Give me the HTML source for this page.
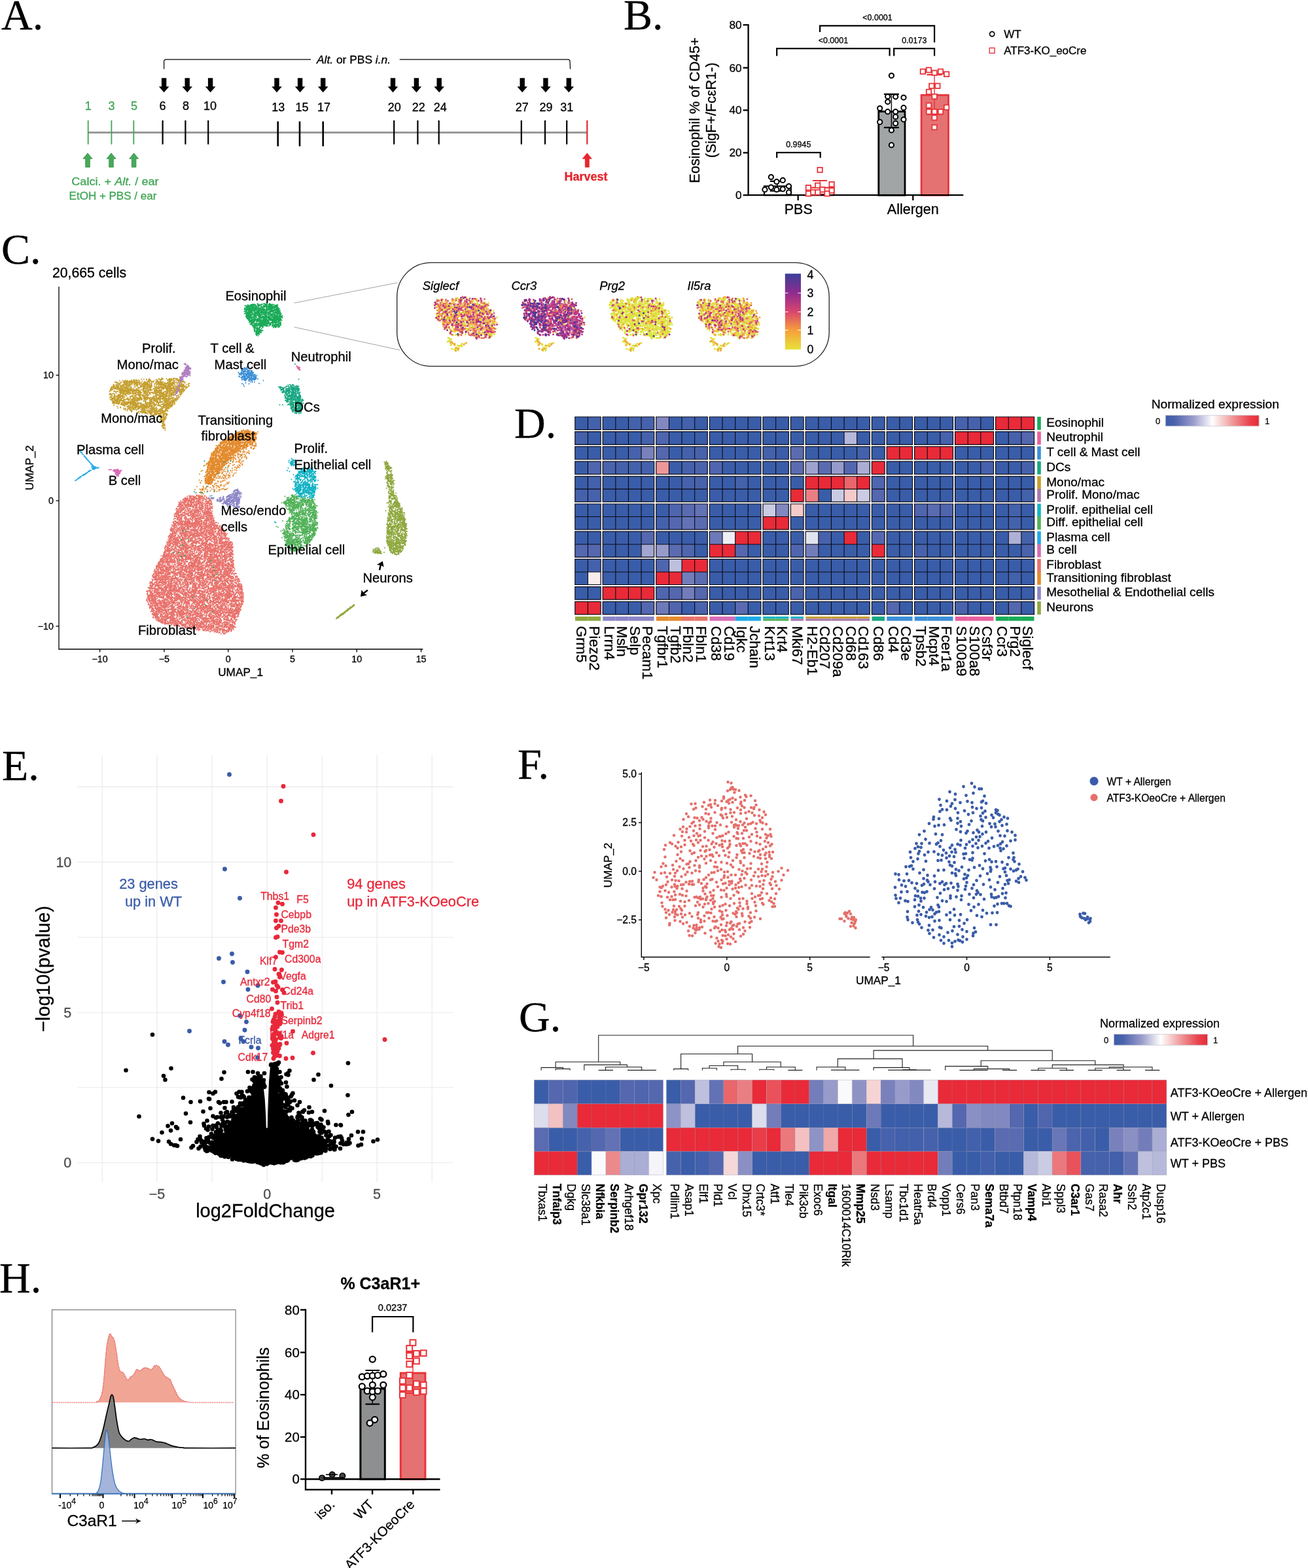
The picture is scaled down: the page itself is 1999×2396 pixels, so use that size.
<!DOCTYPE html>
<html lang="en"><head><meta charset="utf-8"><title>Figure</title>
<style>
html,body{margin:0;padding:0;background:#fff}
body{width:1999px;height:2396px;overflow:hidden}
svg{display:block;font-family:"Liberation Sans",sans-serif}
</style></head><body>
<svg width="1999" height="2396" viewBox="0 0 1999 2396">
<rect width="1999" height="2396" fill="#fff"/>
<g id="pa">
<text x="2" y="45" font-size="66" font-family="'Liberation Serif',serif" stroke="#000" stroke-width="0.3">A.</text>
<path d="M250.6 105.6L250.6 94Q250.6 90.8 254 90.8L475 90.8" stroke="#000" stroke-width="1.2" fill="none"/>
<path d="M610.7 90.8L868 90.8Q871 90.8 871 94L871.6 105.6" stroke="#000" stroke-width="1.2" fill="none"/>
<text x="484" y="96.5" font-size="17.2" stroke="#000" stroke-width="0.3" textLength="113" lengthAdjust="spacingAndGlyphs"><tspan font-style="italic">Alt.</tspan> or PBS <tspan font-style="italic">i.n.</tspan></text>
<path d="M134.7 202.6L897.3 202.6" stroke="#999" stroke-width="3" fill="none"/>
<path d="M134.7 184L134.7 220.6" stroke="#3fa554" stroke-width="1.8" fill="none"/>
<path d="M170.4 184L170.4 220.6" stroke="#3fa554" stroke-width="1.8" fill="none"/>
<path d="M204.3 184L204.3 220.6" stroke="#3fa554" stroke-width="1.8" fill="none"/>
<path d="M248.6 184L248.6 220.6" stroke="#000" stroke-width="2.2" fill="none"/>
<path d="M283.4 184L283.4 220.6" stroke="#000" stroke-width="2.2" fill="none"/>
<path d="M318.2 184L318.2 220.6" stroke="#000" stroke-width="2.2" fill="none"/>
<path d="M602.2 184L602.2 220.6" stroke="#000" stroke-width="2.2" fill="none"/>
<path d="M638.4 184L638.4 220.6" stroke="#000" stroke-width="2.2" fill="none"/>
<path d="M670.7 184L670.7 220.6" stroke="#000" stroke-width="2.2" fill="none"/>
<path d="M796.8 184L796.8 220.6" stroke="#000" stroke-width="2.2" fill="none"/>
<path d="M833 184L833 220.6" stroke="#000" stroke-width="2.2" fill="none"/>
<path d="M866.2 184L866.2 220.6" stroke="#000" stroke-width="2.2" fill="none"/>
<path d="M424.7 185.5L424.7 223.5" stroke="#000" stroke-width="2.6" fill="none"/>
<path d="M458 185.5L458 223.5" stroke="#000" stroke-width="2.6" fill="none"/>
<path d="M493.7 185.5L493.7 223.5" stroke="#000" stroke-width="2.6" fill="none"/>
<path d="M897.3 184L897.3 220.6" stroke="#e6262e" stroke-width="2.2" fill="none"/>
<path d="M246.9 119.3h7.4v13h4.1l-7.8 9l-7.8 -9h4.1z" fill="#000"/>
<path d="M282.5 119.3h7.4v13h4.1l-7.8 9l-7.8 -9h4.1z" fill="#000"/>
<path d="M317.9 119.3h7.4v13h4.1l-7.8 9l-7.8 -9h4.1z" fill="#000"/>
<path d="M419.3 119.3h7.4v13h4.1l-7.8 9l-7.8 -9h4.1z" fill="#000"/>
<path d="M454.9 119.3h7.4v13h4.1l-7.8 9l-7.8 -9h4.1z" fill="#000"/>
<path d="M490 119.3h7.4v13h4.1l-7.8 9l-7.8 -9h4.1z" fill="#000"/>
<path d="M596.8 119.3h7.4v13h4.1l-7.8 9l-7.8 -9h4.1z" fill="#000"/>
<path d="M632.7 119.3h7.4v13h4.1l-7.8 9l-7.8 -9h4.1z" fill="#000"/>
<path d="M667.5 119.3h7.4v13h4.1l-7.8 9l-7.8 -9h4.1z" fill="#000"/>
<path d="M794.5 119.3h7.4v13h4.1l-7.8 9l-7.8 -9h4.1z" fill="#000"/>
<path d="M830.2 119.3h7.4v13h4.1l-7.8 9l-7.8 -9h4.1z" fill="#000"/>
<path d="M865.6 119.3h7.4v13h4.1l-7.8 9l-7.8 -9h4.1z" fill="#000"/>
<path d="M134 234l7 8.6h-3.7v12.8h-6.6v-12.8h-3.7z" fill="#4aa85a" stroke="#2f8f45" stroke-width="0.8"/>
<path d="M170 234l7 8.6h-3.7v12.8h-6.6v-12.8h-3.7z" fill="#4aa85a" stroke="#2f8f45" stroke-width="0.8"/>
<path d="M204.6 234l7 8.6h-3.7v12.8h-6.6v-12.8h-3.7z" fill="#4aa85a" stroke="#2f8f45" stroke-width="0.8"/>
<path d="M897.3 234l7 8.6h-4v12.8h-6v-12.8h-4z" fill="#e6262e" stroke="#e6262e" stroke-width="0.8"/>
<text x="134.7" y="167.8" font-size="18" text-anchor="middle" fill="#3fa554" stroke="#3fa554" stroke-width="0.3">1</text>
<text x="170.6" y="167.8" font-size="18" text-anchor="middle" fill="#3fa554" stroke="#3fa554" stroke-width="0.3">3</text>
<text x="205" y="167.8" font-size="18" text-anchor="middle" fill="#3fa554" stroke="#3fa554" stroke-width="0.3">5</text>
<text x="248.6" y="167.8" font-size="18" text-anchor="middle" stroke="#000" stroke-width="0.3">6</text>
<text x="284" y="167.8" font-size="18" text-anchor="middle" stroke="#000" stroke-width="0.3">8</text>
<text x="321" y="167.8" font-size="18" text-anchor="middle" stroke="#000" stroke-width="0.3">10</text>
<text x="425.2" y="170.4" font-size="18" text-anchor="middle" stroke="#000" stroke-width="0.3">13</text>
<text x="461.5" y="170.4" font-size="18" text-anchor="middle" stroke="#000" stroke-width="0.3">15</text>
<text x="495" y="170.4" font-size="18" text-anchor="middle" stroke="#000" stroke-width="0.3">17</text>
<text x="602.7" y="170.4" font-size="18" text-anchor="middle" stroke="#000" stroke-width="0.3">20</text>
<text x="639.8" y="170.4" font-size="18" text-anchor="middle" stroke="#000" stroke-width="0.3">22</text>
<text x="672.7" y="170.4" font-size="18" text-anchor="middle" stroke="#000" stroke-width="0.3">24</text>
<text x="797.7" y="170.4" font-size="18" text-anchor="middle" stroke="#000" stroke-width="0.3">27</text>
<text x="834.5" y="170.4" font-size="18" text-anchor="middle" stroke="#000" stroke-width="0.3">29</text>
<text x="866.2" y="170.4" font-size="18" text-anchor="middle" stroke="#000" stroke-width="0.3">31</text>
<text x="109.3" y="282.5" font-size="17" fill="#3fa554" stroke="#3fa554" stroke-width="0.3" textLength="133.3" lengthAdjust="spacingAndGlyphs">Calci. + <tspan font-style="italic">Alt.</tspan> / ear</text>
<text x="105.6" y="304.8" font-size="17" fill="#3fa554" stroke="#3fa554" stroke-width="0.3">EtOH + PBS / ear</text>
<text x="895.5" y="276.4" font-size="18" text-anchor="middle" fill="#e6262e" font-weight="bold" stroke="#e6262e" stroke-width="0.3">Harvest</text>
</g>
<g id="pb">
<text x="953" y="45" font-size="66" font-family="'Liberation Serif',serif" stroke="#000" stroke-width="0.3">B.</text>
<rect x="1342.8" y="170.4" width="40.2" height="127.9" fill="#a1a5a5" stroke="#000" stroke-width="2.8"/>
<rect x="1408.1" y="145.3" width="41.3" height="153" fill="#e57272" stroke="#e8343a" stroke-width="2.8"/>
<rect x="1168" y="284.5" width="40.8" height="13.7" fill="#fff" stroke="#000" stroke-width="2.2"/>
<rect x="1232.7" y="286.8" width="41.7" height="11.4" fill="#fff" stroke="#e8343a" stroke-width="2.2"/>
<path d="M1350.9 143.8h23M1350.9 194.9h23" stroke="#000" stroke-width="2.2" fill="none"/><path d="M1362.4 143.8V194.9" stroke="#000" stroke-width="1.4" fill="none"/>
<path d="M1416.6 114.2h23M1416.6 174.7h23" stroke="#e8343a" stroke-width="2.2" fill="none"/><path d="M1428.1 114.2V174.7" stroke="#e8343a" stroke-width="1.4" fill="none"/>
<path d="M1176.8 276.8h22M1176.8 291.7h22" stroke="#000" stroke-width="2.2" fill="none"/><path d="M1187.8 276.8V291.7" stroke="#000" stroke-width="1.4" fill="none"/>
<path d="M1242.1 276h22M1242.1 296.8h22" stroke="#e8343a" stroke-width="2.2" fill="none"/><path d="M1253.1 276V296.8" stroke="#e8343a" stroke-width="1.4" fill="none"/>
<path d="M1143.6 36.9V298.2H1472.3" stroke="#000" stroke-width="2.3" fill="none"/>
<path d="M1135.6 38L1143.6 38" stroke="#000" stroke-width="2.3" fill="none"/>
<text x="1133.6" y="44" font-size="17.2" text-anchor="end" stroke="#000" stroke-width="0.3">80</text>
<path d="M1135.6 103.6L1143.6 103.6" stroke="#000" stroke-width="2.3" fill="none"/>
<text x="1133.6" y="109.6" font-size="17.2" text-anchor="end" stroke="#000" stroke-width="0.3">60</text>
<path d="M1135.6 168.4L1143.6 168.4" stroke="#000" stroke-width="2.3" fill="none"/>
<text x="1133.6" y="174.4" font-size="17.2" text-anchor="end" stroke="#000" stroke-width="0.3">40</text>
<path d="M1135.6 233.4L1143.6 233.4" stroke="#000" stroke-width="2.3" fill="none"/>
<text x="1133.6" y="239.4" font-size="17.2" text-anchor="end" stroke="#000" stroke-width="0.3">20</text>
<path d="M1135.6 298.2L1143.6 298.2" stroke="#000" stroke-width="2.3" fill="none"/>
<text x="1133.6" y="304.2" font-size="17.2" text-anchor="end" stroke="#000" stroke-width="0.3">0</text>
<path d="M1219.7 298.2L1219.7 306.2" stroke="#000" stroke-width="2.3" fill="none"/>
<path d="M1395.3 298.2L1395.3 306.2" stroke="#000" stroke-width="2.3" fill="none"/>
<text x="1220.3" y="326.8" font-size="21.5" text-anchor="middle" stroke="#000" stroke-width="0.3">PBS</text>
<text x="1395.3" y="326.8" font-size="21.5" text-anchor="middle" stroke="#000" stroke-width="0.3">Allergen</text>
<text font-size="21.6" text-anchor="middle" stroke="#000" stroke-width="0.3" transform="translate(1068.5 168.4) rotate(-90)">Eosinophil % of CD45+</text>
<text font-size="21.6" text-anchor="middle" stroke="#000" stroke-width="0.3" transform="translate(1094.2 168.4) rotate(-90)">(SigF+/FcεR1-)</text>
<circle cx="1178.4" cy="270.5" r="3.6" fill="#fff" stroke="#000" stroke-width="2"/>
<circle cx="1196.3" cy="275.4" r="3.6" fill="#fff" stroke="#000" stroke-width="2"/>
<circle cx="1186.9" cy="277.7" r="3.6" fill="#fff" stroke="#000" stroke-width="2"/>
<circle cx="1205.5" cy="284.5" r="3.6" fill="#fff" stroke="#000" stroke-width="2"/>
<circle cx="1178.4" cy="286.2" r="3.6" fill="#fff" stroke="#000" stroke-width="2"/>
<circle cx="1168.9" cy="289.7" r="3.6" fill="#fff" stroke="#000" stroke-width="2"/>
<circle cx="1186.9" cy="289.7" r="3.6" fill="#fff" stroke="#000" stroke-width="2"/>
<circle cx="1196.3" cy="288.8" r="3.6" fill="#fff" stroke="#000" stroke-width="2"/>
<circle cx="1205.5" cy="293.9" r="3.6" fill="#fff" stroke="#000" stroke-width="2"/>
<rect x="1249.4" y="256" width="7.4" height="7.4" fill="#fff" stroke="#e8343a" stroke-width="1.8"/>
<rect x="1267.4" y="278" width="7.4" height="7.4" fill="#fff" stroke="#e8343a" stroke-width="1.8"/>
<rect x="1246" y="279.7" width="7.4" height="7.4" fill="#fff" stroke="#e8343a" stroke-width="1.8"/>
<rect x="1231.7" y="283.1" width="7.4" height="7.4" fill="#fff" stroke="#e8343a" stroke-width="1.8"/>
<rect x="1253.1" y="286" width="7.4" height="7.4" fill="#fff" stroke="#e8343a" stroke-width="1.8"/>
<rect x="1267.4" y="287.4" width="7.4" height="7.4" fill="#fff" stroke="#e8343a" stroke-width="1.8"/>
<rect x="1238.9" y="290.2" width="7.4" height="7.4" fill="#fff" stroke="#e8343a" stroke-width="1.8"/>
<rect x="1231.7" y="292.2" width="7.4" height="7.4" fill="#fff" stroke="#e8343a" stroke-width="1.8"/>
<rect x="1246" y="290.2" width="7.4" height="7.4" fill="#fff" stroke="#e8343a" stroke-width="1.8"/>
<rect x="1260.3" y="292.2" width="7.4" height="7.4" fill="#fff" stroke="#e8343a" stroke-width="1.8"/>
<circle cx="1362.4" cy="115.6" r="3.6" fill="#fff" stroke="#000" stroke-width="2"/>
<circle cx="1356.7" cy="147.5" r="3.6" fill="#fff" stroke="#000" stroke-width="2"/>
<circle cx="1368.7" cy="147.8" r="3.6" fill="#fff" stroke="#000" stroke-width="2"/>
<circle cx="1381" cy="149" r="3.6" fill="#fff" stroke="#000" stroke-width="2"/>
<circle cx="1356.7" cy="155.5" r="3.6" fill="#fff" stroke="#000" stroke-width="2"/>
<circle cx="1344.7" cy="165.5" r="3.6" fill="#fff" stroke="#000" stroke-width="2"/>
<circle cx="1381" cy="164.7" r="3.6" fill="#fff" stroke="#000" stroke-width="2"/>
<circle cx="1356.7" cy="170.7" r="3.6" fill="#fff" stroke="#000" stroke-width="2"/>
<circle cx="1368.7" cy="170.7" r="3.6" fill="#fff" stroke="#000" stroke-width="2"/>
<circle cx="1368.7" cy="178.4" r="3.6" fill="#fff" stroke="#000" stroke-width="2"/>
<circle cx="1381" cy="182.6" r="3.6" fill="#fff" stroke="#000" stroke-width="2"/>
<circle cx="1344.7" cy="186.4" r="3.6" fill="#fff" stroke="#000" stroke-width="2"/>
<circle cx="1368.7" cy="188.4" r="3.6" fill="#fff" stroke="#000" stroke-width="2"/>
<circle cx="1362.4" cy="198.9" r="3.6" fill="#fff" stroke="#000" stroke-width="2"/>
<circle cx="1362.4" cy="221.7" r="3.6" fill="#fff" stroke="#000" stroke-width="2"/>
<rect x="1406.7" y="105.6" width="7.4" height="7.4" fill="#fff" stroke="#e8343a" stroke-width="1.8"/>
<rect x="1415.8" y="103.3" width="7.4" height="7.4" fill="#fff" stroke="#e8343a" stroke-width="1.8"/>
<rect x="1424.4" y="107.6" width="7.4" height="7.4" fill="#fff" stroke="#e8343a" stroke-width="1.8"/>
<rect x="1433.8" y="105.6" width="7.4" height="7.4" fill="#fff" stroke="#e8343a" stroke-width="1.8"/>
<rect x="1442.9" y="109.6" width="7.4" height="7.4" fill="#fff" stroke="#e8343a" stroke-width="1.8"/>
<rect x="1420.1" y="127.6" width="7.4" height="7.4" fill="#fff" stroke="#e8343a" stroke-width="1.8"/>
<rect x="1429.2" y="127.6" width="7.4" height="7.4" fill="#fff" stroke="#e8343a" stroke-width="1.8"/>
<rect x="1415.8" y="136.7" width="7.4" height="7.4" fill="#fff" stroke="#e8343a" stroke-width="1.8"/>
<rect x="1424.4" y="143.8" width="7.4" height="7.4" fill="#fff" stroke="#e8343a" stroke-width="1.8"/>
<rect x="1415.8" y="157.5" width="7.4" height="7.4" fill="#fff" stroke="#e8343a" stroke-width="1.8"/>
<rect x="1442.9" y="160.4" width="7.4" height="7.4" fill="#fff" stroke="#e8343a" stroke-width="1.8"/>
<rect x="1415.8" y="167" width="7.4" height="7.4" fill="#fff" stroke="#e8343a" stroke-width="1.8"/>
<rect x="1424.4" y="167" width="7.4" height="7.4" fill="#fff" stroke="#e8343a" stroke-width="1.8"/>
<rect x="1433.8" y="167" width="7.4" height="7.4" fill="#fff" stroke="#e8343a" stroke-width="1.8"/>
<rect x="1424.4" y="176.1" width="7.4" height="7.4" fill="#fff" stroke="#e8343a" stroke-width="1.8"/>
<rect x="1424.4" y="190.9" width="7.4" height="7.4" fill="#fff" stroke="#e8343a" stroke-width="1.8"/>
<path d="M1253.1 49.1L1253.1 39.4L1428.1 39.4L1428.1 64.8" stroke="#000" stroke-width="2.2" fill="none" stroke-linejoin="miter"/>
<text x="1341" y="31.4" font-size="12.5" text-anchor="middle" stroke="#000" stroke-width="0.3">&lt;0.0001</text>
<path d="M1187.2 85.6L1187.2 74.2L1359.6 74.2L1359.6 85.6" stroke="#000" stroke-width="2.2" fill="none" stroke-linejoin="miter"/>
<text x="1273.4" y="65.6" font-size="12.5" text-anchor="middle" stroke="#000" stroke-width="0.3">&lt;0.0001</text>
<path d="M1366.2 85.6L1366.2 74.2L1428.1 74.2L1428.1 85.6" stroke="#000" stroke-width="2.2" fill="none" stroke-linejoin="miter"/>
<text x="1397.3" y="65.6" font-size="12.5" text-anchor="middle" stroke="#000" stroke-width="0.3">0.0173</text>
<path d="M1187.2 241.2L1187.2 233.2L1253.7 233.2L1253.7 241.2" stroke="#000" stroke-width="2.2" fill="none" stroke-linejoin="miter"/>
<text x="1220.3" y="224.6" font-size="12.5" text-anchor="middle" stroke="#000" stroke-width="0.3">0.9945</text>
<circle cx="1516.2" cy="52" r="3.6" fill="#fff" stroke="#000" stroke-width="1.7"/>
<text x="1534.2" y="58" font-size="17" stroke="#000" stroke-width="0.3">WT</text>
<rect x="1512.3" y="73.3" width="7.8" height="7.8" fill="#fff" stroke="#e8343a" stroke-width="1.4"/>
<text x="1534.2" y="82.8" font-size="17" stroke="#000" stroke-width="0.3">ATF3-KO_eoCre</text>
</g>
<g id="pc">
<text x="2" y="403" font-size="66" font-family="'Liberation Serif',serif" stroke="#000" stroke-width="0.3">C.</text>
<text x="80" y="424" font-size="21.2" stroke="#000" stroke-width="0.3">20,665 cells</text>
<path d="M565 1522h0m2-1h0m0 2h0m2 0h0m0 0h0m2 1h0m1 0h0m0-7h0m1 7h0m0-2h0m1 0h0m4-7h0m1 4h0m1 4h0m0 1h0m1-5h0m0-3h0m1 3h0m0 2h0m1-3h0m1-2h0m1 6h0m1 1h0m1-6h0m2-1h0m0 0h0m0 8h0m2-6h0m0 3h0m1 1h0m0-2h0m1 1h0m0-4h0m2 7h0m0-5h0m2 3h0m1 0h0m0-2h0m0 0h0m1-1h0m1-6h0m1 10h0m0-8h0m1 8h0m3 1h0m0-11h0m0 4h0m2-2h0m0 4h0m1 2h0m0 3h0m1-1h0m0-5h0m0 2h0m1 0h0m1 2h0m0 2h0m0-9h0m0 6h0m0 2h0m0-5h0m0 4h0m1 0h0m3-4h0m0-1h0m0 5h0m1-6h0m0 8h0m2-9h0m0 3h0m0 6h0m2-5h0m0 4h0m0-4h0m2 4h0m2-2h0m2-6h0m0 2h0m5 2h0m1 2h0m14 10h0m-2-4h0m-1 3h0m0 1h0m-3 1h0m0-3h0m0-1h0m-1 2h0m-1 3h0m0-9h0m-1 0h0m0 11h0m-1-1h0m-1-2h0m0-8h0m-1 12h0m-1 0h0m-2-8h0m0 5h0m0 0h0m0-1h0m-1-5h0m0 4h0m0-6h0m-2 1h0m-1 7h0m-1-8h0m-4 3h0m-1 1h0m0-2h0m0 3h0m-1 6h0m-2-5h0m-4 0h0m0 0h0m-2-5h0m0 9h0m-1-7h0m-1 6h0m-1-4h0m-1-1h0m0 1h0m0-4h0m0 7h0m0 1h0m0-9h0m-1 11h0m0-2h0m-2-2h0m0-3h0m0 3h0m-2-2h0m-1-1h0m0 0h0m-1-4h0m0 7h0m0 1h0m-1 2h0m-1-1h0m0-9h0m-2 0h0m-1 8h0m-2-4h0m0 2h0m-1-1h0m0-4h0m0-2h0m-1 2h0m0 9h0m0-1h0m0-6h0m-2 0h0m0 0h0m-1-2h0m0 9h0m-1-11h0m0 5h0m-1 5h0m-1 1h0m-1-2h0m0-7h0m0 5h0m-1-1h0m0-5h0m0 6h0m0-2h0m-1 5h0m-1-2h0m-1 1h0m-1-4h0m-1 2h0m0-3h0m-1-1h0m0 4h0m0-2h0m-1 0h0m0-1h0m-1 1h0m0-1h0m0 5h0m0-4h0m-1 7h0m0-6h0m-1 0h0m0-6h0m0 0h0m0 2h0m-1 10h0m-1-11h0m0 6h0m-1 0h0m-1-3h0m0 2h0m0-4h0m0 2h0m-1 0h0m0 5h0m0 0h0m-1 1h0m0-6h0m-1-2h0m-1 4h0m0-6h0m0 7h0m0-7h0m-1 9h0m0 1h0m0-3h0m0 2h0m0-6h0m-1-1h0m0 8h0m-1-4h0m-1 5h0m-1-10h0m0 0h0m0 9h0m-1-6h0m-1 0h0m-1 7h0m-1-2h0m-1 1h0m-2 2h0m-2-5h0m-2 4h0m-3 0h0m-1 12h0m0-6h0m1 5h0m0-1h0m0 3h0m1-5h0m1-1h0m0-3h0m1 2h0m0-4h0m1 3h0m0 5h0m1-3h0m1 6h0m0-7h0m1 7h0m1-5h0m0-5h0m0 9h0m1-1h0m2-4h0m0 2h0m1 2h0m1 1h0m0 0h0m1-8h0m0-3h0m1 1h0m0-1h0m1 4h0m0 1h0m1 3h0m0 0h0m1-7h0m0 6h0m0-6h0m1 6h0m1-6h0m0 5h0m0 4h0m0-3h0m1 2h0m0-2h0m0 0h0m0 1h0m1 1h0m0 1h0m1-3h0m0 2h0m1 1h0m1-6h0m0 3h0m1-3h0m0-1h0m0 4h0m0 1h0m1 0h0m1 1h0m0-8h0m0 7h0m1 4h0m0-6h0m0 3h0m0-7h0m1 6h0m0-3h0m2 6h0m2-10h0m0 5h0m0 5h0m0 1h0m0-4h0m1-7h0m0 6h0m1 4h0m0-6h0m0 7h0m1-10h0m1 6h0m1-8h0m0 4h0m1 3h0m0 5h0m2 0h0m0-1h0m0-10h0m2 0h0m0 11h0m1-10h0m0-1h0m0 10h0m0-4h0m1 1h0m1 2h0m0-5h0m3 1h0m1 0h0m0-6h0m0 9h0m1-2h0m0 1h0m0-4h0m1 3h0m0-3h0m0 6h0m2-7h0m0 2h0m0-2h0m0 4h0m1 2h0m0-1h0m1-5h0m1-3h0m0 3h0m1-1h0m1 0h0m1 3h0m0-1h0m2 6h0m0-3h0m0-6h0m1 0h0m1-1h0m0 8h0m1-7h0m0 2h0m2 4h0m0-7h0m1 2h0m0 7h0m1-4h0m0-1h0m1 4h0m1 3h0m0-11h0m0 6h0m1 0h0m0 6h0m0-1h0m1-10h0m0 0h0m2 10h0m1-8h0m3 6h0m0-2h0m0-1h0m1 0h0m1-4h0m1 8h0m1-8h0m1 8h0m1-3h0m0-7h0m0 4h0m1 5h0m1-6h0m0 8h0m1-11h0m0 2h0m2 0h0m1 6h0m0-7h0m0 7h0m1-4h0m1-2h0m1 9h0m1-4h0m0-5h0m1-1h0m0 2h0m1 2h0m1-5h0m1 3h0m1 3h0m1 6h0m0 6h0m-1-3h0m0-3h0m-1 4h0m-1 0h0m-1 1h0m0-2h0m-2 0h0m0 5h0m0-7h0m-1 1h0m0 1h0m0 5h0m0 2h0m0-3h0m-2 1h0m0-2h0m-2 0h0m-1 3h0m0-2h0m0 0h0m0 4h0m-1-8h0m0 6h0m-1 1h0m0-1h0m-1-6h0m0 8h0m-1-4h0m-1-1h0m0-2h0m-2 1h0m0 0h0m0 0h0m-1 6h0m0-10h0m-2 10h0m0-7h0m0 3h0m-1 3h0m-4-5h0m-2-5h0m0 1h0m-1 3h0m0 7h0m0-6h0m-1 1h0m0 1h0m0-1h0m-2-6h0m0 4h0m0 4h0m-1-1h0m-1 3h0m0 0h0m0 0h0m0-3h0m-1-1h0m0-4h0m-1 7h0m-2-1h0m0-3h0m-1-3h0m-1-1h0m0 9h0m-1-7h0m-1 8h0m-2-1h0m-1-4h0m0-1h0m-1-3h0m0 4h0m0 4h0m-1 2h0m-1-8h0m0-4h0m-1 10h0m-1-9h0m0 0h0m0 9h0m-1-5h0m0 7h0m-1-2h0m0-4h0m-1 4h0m-3-9h0m0 3h0m-2-3h0m0 9h0m-1-2h0m0 2h0m0-2h0m-1-6h0m-4 9h0m-2-4h0m-1 0h0m-1-1h0m-1 1h0m-1 2h0m0 1h0m0-4h0m-4 4h0m-1-1h0m0-7h0m0 3h0m0 1h0m0-1h0m-1-1h0m0 2h0m-1-1h0m-2-5h0m0 1h0m-1 10h0m-1-2h0m0-8h0m0 10h0m-2-6h0m0-3h0m0 0h0m-2 4h0m-1 2h0m-1 2h0m0-3h0m0-5h0m0 0h0m-2 5h0m0-3h0m-1 6h0m0-2h0m-1 0h0m-2-3h0m0-1h0m0 3h0m-1-6h0m0 9h0m-1 2h0m-1-12h0m-1 2h0m0 3h0m0 1h0m-1-2h0m0 6h0m-2-4h0m-2 4h0m-1-9h0m-1 7h0m-1-8h0m-3 8h0m0-3h0m-2 4h0m-3 13h0m2-1h0m1 1h0m0 1h0m1-5h0m1-4h0m0 7h0m0 3h0m1-9h0m1-2h0m1 8h0m0-9h0m0 7h0m0-4h0m1 5h0m0 2h0m1-1h0m0 2h0m0-7h0m1-1h0m0-1h0m0 1h0m0 5h0m1-4h0m0 2h0m4-1h0m0-4h0m0 5h0m1 1h0m0-2h0m0-2h0m1 9h0m1-9h0m1-3h0m1 11h0m0-9h0m2 5h0m3 1h0m1-2h0m2 1h0m1-5h0m1 9h0m0-1h0m0-4h0m0 0h0m3 4h0m0 0h0m1-7h0m0 6h0m1 2h0m1-2h0m2-7h0m0 6h0m1 3h0m1-4h0m0-5h0m2-1h0m0 6h0m2 1h0m1-4h0m0-1h0m0 3h0m1 1h0m1 0h0m0-4h0m1 7h0m0-8h0m0 4h0m0 4h0m3 1h0m0-6h0m0-3h0m1 8h0m1-9h0m0 8h0m0-1h0m0 2h0m1-1h0m1-9h0m1 12h0m0 0h0m1-7h0m0 4h0m1-6h0m1 4h0m0-5h0m0 4h0m1 1h0m0-6h0m0 7h0m0-1h0m1-2h0m0-2h0m1 1h0m0 2h0m2 0h0m0 2h0m0-4h0m1 1h0m2-1h0m0 0h0m1-2h0m0 1h0m1 3h0m0 0h0m0 4h0m0 1h0m0-2h0m1-6h0m0 2h0m0-3h0m1 6h0m0-5h0m0 0h0m0 6h0m1-6h0m2 0h0m0 9h0m1-9h0m1-1h0m1 8h0m0-2h0m0 3h0m0-4h0m4-6h0m1 2h0m0 0h0m1 2h0m0-2h0m0 1h0m2 2h0m1 4h0m1-9h0m1 9h0m0-2h0m1-2h0m0 5h0m0-3h0m0-2h0m1 2h0m0 4h0m0-8h0m2 3h0m1-3h0m0 1h0m0-5h0m1 9h0m0 1h0m0-3h0m0 3h0m0-7h0m1 2h0m1-2h0m1 8h0m1-3h0m0-2h0m0 3h0m0 0h0m1-4h0m0-2h0m1 6h0m0 1h0m0-8h0m1 0h0m0 1h0m1-1h0m0 5h0m0-2h0m0-2h0m1 5h0m1-5h0m0 3h0m1 2h0m1 3h0m1-6h0m1-5h0m0 9h0m1-1h0m0-3h0m0 2h0m1 0h0m1 1h0m1 1h0m1-7h0m5 21h0m-3-6h0m-2 5h0m0-7h0m0 6h0m-1-1h0m0 2h0m-1-1h0m0-7h0m0 9h0m0-11h0m-1 6h0m-1 1h0m-1 2h0m0-3h0m0-3h0m0 8h0m-1-4h0m-2-6h0m0 3h0m-1-2h0m0 2h0m0-3h0m-1 9h0m0-4h0m0-5h0m-2 0h0m0 3h0m-1 7h0m0-8h0m-1 7h0m0-1h0m-1 0h0m0-7h0m0 1h0m0-1h0m-1 8h0m0-7h0m0 5h0m-1 1h0m0 1h0m0-2h0m-1-5h0m0 1h0m-1 3h0m-1-2h0m-1-5h0m-2 6h0m-1 6h0m0 0h0m-2-1h0m0-7h0m-1 4h0m0 4h0m0-11h0m-1 6h0m-2 4h0m-1-5h0m-1 0h0m0-5h0m-1 4h0m0 7h0m-1-4h0m0-2h0m-2 1h0m-2 3h0m0-7h0m-1 0h0m-1 1h0m-2 5h0m-1-4h0m0-1h0m-2-3h0m0 11h0m0-1h0m-1-8h0m0 2h0m-1-2h0m0 3h0m-1-3h0m0-1h0m0-1h0m0 0h0m-1 11h0m0-10h0m0 3h0m-1-2h0m-1 4h0m0-6h0m-1 0h0m-1 9h0m0-2h0m-1-6h0m-1 6h0m0-8h0m0 6h0m-1 1h0m-1-6h0m0 4h0m0-4h0m-1 2h0m0 1h0m0 6h0m0-4h0m-1-6h0m-1 1h0m0 7h0m-1-3h0m0-2h0m-1 8h0m0-2h0m0-3h0m-2 0h0m-1 0h0m0-5h0m-1 0h0m-1 10h0m-1-8h0m0-1h0m0 0h0m-3 2h0m-2-1h0m0-2h0m0 1h0m-1 0h0m0 2h0m-4-3h0m-1 9h0m-1 1h0m-1-4h0m-1 0h0m-1-2h0m0 6h0m-1-7h0m-1-3h0m0 9h0m0-6h0m-1-2h0m0 9h0m-1-7h0m-1-2h0m-2-1h0m-1 4h0m-2-4h0m0 7h0m-1-1h0m0-5h0m-1 7h0m0 1h0m0-1h0m-2 3h0m0-1h0m-1-8h0m0 2h0m-1 7h0m-1-7h0m0 0h0m0 5h0m0-8h0m-1-1h0m0 4h0m-1 4h0m0 1h0m-1-1h0m0 2h0m0-6h0m0 6h0m-1-8h0m-1-2h0m0 1h0m0 5h0m-1 5h0m-2-4h0m0 0h0m-1 1h0m0-5h0m0-4h0m-1 4h0m-1 1h0m0 1h0m-2 0h0m-2-5h0m0 11h0m-1-11h0m0 5h0m-4 18h0m2-9h0m0 7h0m1 1h0m1-1h0m2-2h0m1-7h0m1 9h0m1 1h0m0-2h0m3-6h0m1 1h0m0-3h0m2 8h0m0 1h0m0-8h0m0 1h0m2 1h0m0 0h0m2 3h0m0-3h0m2-2h0m0 4h0m0 4h0m0-5h0m1 6h0m1-10h0m0 1h0m0 6h0m2-6h0m1 3h0m0 0h0m0 3h0m1-7h0m1 10h0m0-2h0m4-1h0m0 1h0m0-1h0m1 2h0m1 0h0m3 0h0m0-7h0m1 9h0m0-4h0m0-2h0m2-2h0m0 6h0m2 2h0m0-2h0m0-8h0m2 7h0m0-2h0m0 2h0m1-6h0m0 6h0m1-6h0m0 4h0m1 3h0m0-3h0m1-5h0m1-1h0m0 10h0m1-4h0m0 3h0m0-4h0m0 5h0m0-1h0m3 1h0m0-9h0m2 3h0m1-1h0m3 5h0m0-8h0m1 5h0m0 1h0m0-5h0m5 0h0m0 1h0m2 6h0m0 0h0m1-2h0m1 4h0m0-7h0m0-3h0m1 8h0m0-5h0m0 1h0m1-1h0m0 4h0m0-2h0m1 5h0m0-6h0m1-4h0m0 0h0m0 5h0m1-2h0m0 6h0m1-3h0m0 4h0m0-1h0m1-10h0m1 10h0m2-5h0m0-1h0m0-2h0m0 2h0m1-3h0m0 10h0m0-7h0m0 5h0m0 1h0m1 0h0m1-1h0m1-7h0m0 8h0m1-9h0m0 0h0m0 4h0m1 4h0m0-9h0m1 8h0m1-1h0m0 4h0m2-3h0m0-7h0m3 11h0m0 0h0m3-2h0m1-3h0m0-1h0m2 1h0m1-3h0m1 4h0m1-7h0m0 7h0m1-7h0m0 7h0m0-2h0m1 3h0m1-1h0m0-5h0m0 7h0m0-5h0m2-3h0m0 4h0m1-3h0m1 3h0m0-5h0m1 5h0m0-3h0m1 5h0m0 3h0m0 0h0m3-6h0m0-4h0m0 11h0m1-8h0m0-3h0m1 10h0m1-2h0m0-7h0m1 1h0m0 7h0m0-4h0m1 4h0m2-8h0m0 7h0m0-9h0m0 8h0m3-2h0m0-3h0m0 7h0m1-2h0m1-1h0m0-1h0m1 2h0m18 15h0m-1 0h0m-5-8h0m-1 7h0m-1 2h0m-1-3h0m0 0h0m-2-8h0m-2 0h0m0 7h0m-1 2h0m-2-9h0m0 6h0m-1 5h0m-1-8h0m-1 6h0m0-5h0m-1-5h0m-1 8h0m0-2h0m-1 4h0m0-6h0m0 4h0m0-2h0m0-2h0m-1-2h0m0 0h0m0 6h0m-1-5h0m-1 2h0m-1 4h0m-1-8h0m0 4h0m0-1h0m0 8h0m-2-6h0m0 2h0m0 2h0m0 1h0m-2-9h0m-1 8h0m0 2h0m-1-5h0m-2 4h0m0-5h0m0-2h0m-2 6h0m-3 1h0m0-6h0m-1-2h0m0 8h0m0 0h0m0 0h0m-1-8h0m0 5h0m0-7h0m-1 10h0m0-3h0m-1-4h0m0-3h0m0 8h0m-2-8h0m0 7h0m0-2h0m0-5h0m-2 1h0m0 5h0m-1 5h0m-1-7h0m0-2h0m-1 5h0m-1-1h0m0-1h0m-4-1h0m0 7h0m0-10h0m0 2h0m-1 3h0m0-7h0m0 4h0m-1 0h0m0 2h0m-1-1h0m0-1h0m0 5h0m-3 1h0m0-4h0m-1 4h0m0-4h0m0-4h0m-1-1h0m0 4h0m0 2h0m-1-2h0m-1 1h0m-1-1h0m0-3h0m0 3h0m-1-4h0m0 8h0m0-9h0m0 3h0m-1 8h0m0-2h0m-1 0h0m0-6h0m-1 0h0m0 0h0m0 4h0m-1 1h0m0 1h0m0-2h0m-2-2h0m0-1h0m-1-2h0m-1 8h0m0-4h0m0-1h0m-2-4h0m0 11h0m0-7h0m-1 4h0m0-4h0m-1-4h0m-2 11h0m0-9h0m0-1h0m0 4h0m-1 4h0m0-6h0m-1 2h0m-1 5h0m0-8h0m0 5h0m-1 2h0m0-9h0m0 1h0m-2 3h0m0 4h0m0-5h0m-1 1h0m0-2h0m-1 3h0m-1 5h0m0 0h0m0-7h0m0 0h0m-1-1h0m-1 8h0m0-5h0m0 0h0m-1 0h0m0-4h0m-2-2h0m0 7h0m0-2h0m0 1h0m0-4h0m0-2h0m-3 5h0m0 4h0m0-9h0m0 7h0m0-5h0m-2 0h0m0 3h0m-1-3h0m0 5h0m0 3h0m0-9h0m0 8h0m-1-7h0m0 7h0m0-1h0m0-2h0m-1-1h0m0 2h0m0 0h0m0 1h0m-1 0h0m0-6h0m-1 1h0m-2-2h0m0 9h0m0-8h0m0 4h0m-1-1h0m0 0h0m0 5h0m-1-7h0m0 0h0m-2 4h0m-1-1h0m0 1h0m-1 1h0m-1-2h0m0-5h0m0 7h0m-2-5h0m-1-3h0m0 7h0m0 4h0m0-8h0m-1 8h0m-1-10h0m0 3h0m-1 3h0m0-3h0m-1 4h0m-1-5h0m-1-2h0m-1 6h0m0-6h0m-1 4h0m0 0h0m-1 5h0m-1-8h0m0 2h0m-1-3h0m-1 1h0m0 4h0m0-4h0m0-1h0m-1 3h0m-1 6h0m0-9h0m-3 0h0m0 2h0m-1 7h0m0-4h0m-1 4h0m-1-3h0m-1-3h0m0 3h0m0 1h0m-1 1h0m-1 1h0m-1-8h0m0 4h0m0-2h0m0-1h0m-1 9h0m-2-1h0m-1-1h0m-1-2h0m-5 13h0m3 1h0m0-3h0m0-4h0m0 8h0m0 1h0m3-1h0m0-2h0m0-2h0m1 5h0m0-1h0m0-11h0m0 12h0m2-6h0m0 6h0m1-1h0m1-5h0m0-5h0m0 0h0m1 3h0m0-2h0m0 6h0m1-8h0m0 4h0m1-1h0m1 8h0m2-6h0m0 5h0m2-9h0m0 11h0m2-1h0m0-5h0m1-1h0m1 6h0m1-3h0m1-1h0m2-1h0m1 0h0m0 3h0m0-4h0m0-1h0m1 7h0m0-9h0m0 10h0m4-6h0m0 2h0m0-6h0m1 4h0m0-4h0m1 1h0m0 7h0m0-3h0m1 0h0m1 1h0m0-5h0m1 5h0m1 2h0m0-10h0m1 4h0m0 1h0m0 2h0m1 3h0m0-2h0m1 4h0m0-8h0m2 3h0m1 4h0m0-1h0m0-7h0m1-2h0m1 8h0m3 0h0m0-8h0m1 6h0m0-3h0m1-3h0m0 2h0m0 7h0m0-4h0m1-4h0m1 3h0m0-5h0m0 10h0m1-10h0m0 9h0m1-3h0m0-1h0m0-3h0m0-1h0m0 9h0m1-10h0m0 1h0m0 7h0m1-8h0m1 0h0m1 2h0m2 1h0m0 2h0m1 5h0m1-9h0m3 8h0m2-8h0m0 3h0m0 5h0m1 3h0m1-8h0m2 7h0m0-4h0m1 4h0m0-7h0m0 0h0m0 1h0m1 4h0m0-7h0m0 6h0m0 1h0m1 2h0m0-10h0m0 10h0m0-8h0m0 9h0m1-3h0m1-9h0m0 3h0m1-2h0m1 11h0m0-9h0m1 8h0m1 0h0m2-1h0m1-2h0m0-2h0m1-3h0m0 3h0m0-4h0m1 2h0m1-3h0m2 10h0m2-10h0m0 7h0m0 0h0m1 3h0m0-8h0m0 1h0m0-3h0m0 2h0m0-2h0m2 6h0m1-3h0m0 3h0m0 2h0m1-3h0m0 0h0m0-5h0m1 1h0m0-1h0m2 0h0m0 7h0m3-1h0m1-2h0m0 5h0m0-8h0m0 3h0m1 4h0m1-5h0m1 4h0m1-7h0m0-1h0m1 11h0m0-10h0m0 4h0m2-2h0m0 2h0m2-4h0m0 9h0m1 2h0m0-1h0m1-5h0m1-1h0m0-4h0m1 6h0m1-1h0m1 0h0m1-4h0m1 9h0m1 1h0m0-3h0m1-6h0m0 2h0m2 5h0m0-6h0m0-1h0m0-2h0m1 4h0m0 4h0m1-1h0m1 0h0m1 0h0m0-3h0m1 2h0m0 0h0m2-3h0m1-3h0m0 5h0m0-2h0m1 5h0m0-1h0m1-3h0m0 6h0m0-8h0m1 2h0m0-4h0m1 8h0m1-2h0m0 2h0m1-9h0m1 6h0m0 2h0m1-7h0m0 3h0m0-4h0m1 2h0m1-1h0m1 4h0m1 3h0m1-2h0m1 2h0m1-2h0m1 3h0m0-6h0m0 8h0m1-9h0m0 8h0m1 0h0m0 0h0m1-9h0m1 8h0m1-4h0m1 6h0m3-2h0m0 3h0m1-1h0m0-1h0m0 2h0m2-1h0m1-2h0m7 12h0m-2 2h0m-1-3h0m-1 4h0m-2 0h0m0-7h0m0 6h0m0-3h0m-2 2h0m-2-9h0m0 0h0m-1 7h0m-1 3h0m0-6h0m-1 3h0m0-1h0m0-2h0m0 6h0m0-10h0m-1 1h0m0 6h0m0-1h0m-1-3h0m-1 5h0m-1-8h0m-2 9h0m0-8h0m-1 2h0m0-2h0m0 10h0m0-3h0m-1-6h0m0 4h0m0 3h0m-2-5h0m0 6h0m0-9h0m0 10h0m-1-6h0m-1 6h0m-1-1h0m0-1h0m-4-7h0m0 8h0m-1-7h0m0-1h0m-1 3h0m-2-1h0m-2 6h0m0-1h0m-1-3h0m-1 1h0m0-6h0m-1-2h0m0 5h0m0-4h0m-1 8h0m0-6h0m0 5h0m0-8h0m-1 12h0m0-12h0m0 2h0m-1 3h0m0-4h0m0 5h0m0 1h0m-1 5h0m-2-5h0m0 2h0m-1-7h0m-1 10h0m-1-3h0m0-4h0m-1-1h0m0 0h0m-1 6h0m-1-4h0m0-4h0m0 5h0m0-5h0m0 4h0m-1 3h0m0-9h0m0 1h0m-1-1h0m0 9h0m-1-3h0m0 6h0m-1 0h0m-2-8h0m-1 3h0m0-4h0m-1 2h0m0-4h0m0 2h0m-1 7h0m0-8h0m0 0h0m0 2h0m-1 4h0m-2-5h0m0 8h0m-2-10h0m-1 4h0m0 1h0m-1-5h0m-1 4h0m0 4h0m-1-1h0m0 0h0m0 1h0m-1-1h0m-1 1h0m0-3h0m-1 1h0m0-6h0m0 11h0m0-1h0m0-10h0m-1 0h0m-1 9h0m-1-4h0m0 5h0m0 0h0m-2-10h0m0 10h0m0-8h0m-1 4h0m0 0h0m-1 2h0m0 1h0m-1-1h0m-1 1h0m0-9h0m0 8h0m-3-3h0m-2 3h0m0-6h0m0 2h0m-1 3h0m0-2h0m-1 5h0m0-2h0m0-3h0m-2 4h0m0-6h0m-1 5h0m-1-8h0m0 9h0m-1-7h0m0 1h0m-1 6h0m0-1h0m-2 1h0m0-8h0m0 10h0m-1-8h0m0 3h0m-3-5h0m-1 7h0m-2-7h0m0-1h0m-1 6h0m0-5h0m-1 6h0m-1 4h0m0-10h0m0 1h0m-1 5h0m-1-8h0m0 5h0m-2 5h0m-2-4h0m0 4h0m0-6h0m-1 2h0m-1-1h0m-1 0h0m0 1h0m-1-2h0m0 7h0m-2-7h0m0 7h0m0 0h0m0-6h0m0 6h0m-1-4h0m-1 2h0m-1-2h0m0 0h0m0 2h0m0-7h0m-1 1h0m-2 8h0m0-5h0m-2 3h0m0 0h0m-1 3h0m-1-12h0m0 5h0m0 4h0m-1-6h0m0 4h0m-1-4h0m0-2h0m0 0h0m0 7h0m0 3h0m-1-9h0m0 9h0m0-5h0m-1-4h0m0 1h0m-1 6h0m-1-8h0m0 6h0m0 2h0m0-2h0m-1 2h0m0-9h0m0 9h0m0 3h0m0-11h0m-3 4h0m-1-4h0m0 8h0m-1 2h0m0-4h0m-1-1h0m-1-6h0m-3 4h0m-1-3h0m-3 5h0m0 6h0m-1-9h0m0 3h0m-2 3h0m-1 0h0m-1 2h0m0-7h0m-1 5h0m0-2h0m-2 4h0m0-2h0m0 2h0m-1-5h0m0 5h0m0-8h0m-1 0h0m-1 2h0m-1 7h0m0-2h0m-1 0h0m-1-3h0m0-2h0m0 7h0m0-3h0m-1-5h0m-1-2h0m-1-1h0m-2-1h0m0 2h0m0 1h0m-2 8h0m-5 9h0m1 4h0m0-5h0m2-1h0m0-2h0m2 6h0m0-4h0m1 2h0m0 2h0m0 2h0m1-12h0m0 5h0m1-3h0m0-1h0m1 7h0m0-5h0m0 6h0m1-3h0m0 5h0m0-4h0m0-7h0m1 8h0m0-8h0m1 9h0m0-4h0m1-4h0m0 3h0m1 2h0m1 0h0m1 1h0m1 1h0m1-3h0m0 6h0m0-4h0m2-4h0m0 9h0m1-5h0m1-3h0m4 6h0m2 1h0m1-6h0m1 5h0m1-1h0m0-5h0m3 4h0m0 0h0m0 3h0m0-1h0m2-9h0m0 8h0m2-4h0m0-5h0m1 6h0m2 0h0m0-3h0m1 9h0m0-4h0m2 3h0m1 0h0m1-8h0m0 0h0m1 3h0m1 6h0m0-11h0m1 5h0m1 0h0m0-1h0m0-1h0m0 4h0m0-7h0m0 11h0m1-4h0m0-4h0m0-2h0m0 4h0m2-5h0m0 8h0m1-5h0m0 4h0m0-2h0m1 2h0m0-4h0m0 4h0m0-5h0m1 0h0m0 3h0m0-3h0m2-1h0m0 1h0m2 7h0m1 0h0m0-2h0m0-3h0m2 1h0m0-1h0m0 6h0m0-6h0m1 0h0m0 2h0m1 1h0m1-6h0m0-1h0m1-1h0m1 5h0m1 6h0m0-8h0m0 1h0m1 0h0m1 0h0m2-1h0m0-3h0m0 9h0m1-6h0m0 1h0m1-2h0m0-2h0m0 7h0m1-4h0m0 6h0m1-2h0m0-4h0m0 0h0m0 6h0m1-5h0m0-2h0m0 4h0m0 5h0m0-3h0m1-5h0m0 0h0m1 3h0m1 1h0m1 5h0m1-7h0m0 3h0m1-7h0m0 4h0m1 0h0m2 2h0m0-3h0m1 5h0m0-3h0m1-6h0m1 4h0m1-2h0m1 5h0m0-5h0m0 4h0m1-6h0m0 11h0m1-4h0m0-4h0m2 2h0m1-2h0m3-2h0m0 5h0m1-1h0m3 0h0m0 3h0m1-2h0m1-1h0m1-4h0m0 10h0m1-1h0m0-10h0m1 9h0m1 3h0m1-10h0m0 3h0m3-3h0m0 3h0m0 7h0m0-10h0m0 9h0m1-9h0m0 4h0m0 2h0m1 0h0m1 0h0m0 3h0m1-7h0m1 8h0m1-2h0m0 0h0m1-2h0m0 2h0m1-2h0m0-1h0m2 0h0m1 1h0m0-7h0m1 2h0m1 7h0m0 1h0m1-1h0m1-5h0m0 6h0m1-3h0m0-4h0m3-2h0m0 2h0m1 5h0m1 1h0m0-7h0m0-2h0m0 1h0m1 1h0m1 1h0m0-3h0m1 2h0m0 9h0m0-11h0m1 8h0m1-2h0m1 2h0m0-2h0m0-3h0m0 3h0m0 4h0m1-1h0m1 0h0m1-4h0m1 3h0m1-2h0m0 0h0m0 5h0m1-2h0m2-8h0m0 2h0m3 6h0m1 2h0m0-12h0m1 3h0m0 8h0m1-10h0m0 5h0m2-4h0m1 2h0m1 6h0m1-2h0m1 0h0m0 0h0m1-7h0m0 2h0m0 8h0m3-4h0m0-7h0m1 6h0m1 0h0m3-4h0m0-1h0m1 1h0m0 4h0m2-1h0m0 3h0m1-3h0m0 5h0m0-9h0m0 4h0m1 1h0m1-2h0m0 8h0m3-12h0m1 11h0m6 9h0m-1-7h0m-1 3h0m-2 1h0m0 5h0m-1-6h0m-2-2h0m0-1h0m-1 0h0m0 9h0m-1-6h0m-1 7h0m0-1h0m-1-7h0m-1 6h0m-2-6h0m-1-3h0m-2 2h0m-1-1h0m0 11h0m-2-12h0m-1 6h0m0-2h0m-1 7h0m-1-10h0m0 1h0m-1 1h0m-1-3h0m0 7h0m0 1h0m-1-5h0m-1 6h0m0-2h0m0 0h0m0 4h0m0 0h0m0-7h0m-1-1h0m0 2h0m0-3h0m0 9h0m-1 0h0m0-2h0m-1-6h0m0 2h0m0-1h0m0 1h0m0 5h0m-1-5h0m0 1h0m-1 0h0m-4 2h0m0 0h0m-1-5h0m-1 9h0m0-5h0m-1 0h0m-1 3h0m-1-6h0m-1 0h0m-2 4h0m-1-6h0m0 4h0m0 5h0m-1-9h0m0 6h0m-1-3h0m-1-2h0m0-2h0m0 4h0m-1-5h0m-3 10h0m0-8h0m-1 0h0m-1 9h0m-1-6h0m0-1h0m-1 3h0m-2 0h0m0 1h0m-1-4h0m0 0h0m-1 0h0m0-1h0m0 1h0m-2-2h0m0 0h0m-1 3h0m0 1h0m0-3h0m-2 3h0m-1 5h0m-1-5h0m0 2h0m-1-1h0m0 5h0m0-5h0m-2-4h0m0 5h0m0 4h0m0-1h0m-2 1h0m0-5h0m-1-3h0m-1 1h0m0-3h0m-5 4h0m-1 1h0m0 4h0m-2-9h0m0-1h0m-1 7h0m0 1h0m-2 0h0m0-5h0m-2-1h0m0 1h0m0 1h0m0 0h0m0 2h0m-1 0h0m0-2h0m-1-2h0m0-2h0m-1 8h0m-1-2h0m-1-5h0m-2 7h0m-1-6h0m0 8h0m-1-9h0m-1 9h0m0-8h0m-1 7h0m0 2h0m-1-2h0m-1-6h0m-1 5h0m-2 0h0m-1-7h0m0 6h0m0-3h0m0 1h0m-1-4h0m-2 8h0m0 0h0m0-1h0m-2 0h0m-1 0h0m0 2h0m-2-9h0m-1 3h0m0 5h0m-1-9h0m0 8h0m0-3h0m-2 3h0m0-2h0m0-6h0m0 8h0m-1-4h0m0 5h0m-1-5h0m0 5h0m0-5h0m-1-1h0m0 4h0m0-1h0m-1-5h0m0 7h0m-3 1h0m-1-2h0m-1 2h0m0-2h0m-1-6h0m-1 9h0m-1-11h0m-1 1h0m-1 1h0m-1 1h0m-2 1h0m0-1h0m-2 1h0m0 0h0m0-2h0m-1 8h0m0 1h0m0-2h0m-1 2h0m-2-6h0m0 6h0m0-4h0m0 3h0m-1-9h0m-1 3h0m-1 4h0m-1-1h0m0-4h0m0 0h0m-2 1h0m0 3h0m0 4h0m-1 0h0m0-3h0m-2-1h0m-1 1h0m-1-6h0m-1 7h0m0 0h0m-1 2h0m0-10h0m0 0h0m-2 9h0m0 0h0m-1-5h0m0 0h0m-1 3h0m-1 1h0m0-6h0m-1 3h0m-1 2h0m0-4h0m-1 5h0m-1-9h0m0 5h0m-1-4h0m-1 9h0m0-1h0m-1-5h0m0 7h0m0-6h0m-1-2h0m0-3h0m0 11h0m0-9h0m-1-1h0m0 10h0m0-4h0m-1 4h0m-1-8h0m-1-1h0m0 2h0m0 1h0m-1-1h0m0 6h0m0-8h0m-1 1h0m-1 8h0m0-1h0m-1-10h0m0 6h0m-3 3h0m-1-4h0m-1 4h0m0-6h0m0-1h0m-2 3h0m0 2h0m0-1h0m-1 5h0m0-10h0m-2 2h0m0 5h0m0 2h0m0-7h0m-2 5h0m0 3h0m-2-5h0m-4 6h0m-4 11h0m4-5h0m2-4h0m0 6h0m1 2h0m0-9h0m1 8h0m0 0h0m1-4h0m0-2h0m1-1h0m2 7h0m0-8h0m0 9h0m1-4h0m1-5h0m0 6h0m1-1h0m0 6h0m0-9h0m0 7h0m1-7h0m2-1h0m1 3h0m1 1h0m1-1h0m1 2h0m1-6h0m0 7h0m0-6h0m0 9h0m1-4h0m1-5h0m1 7h0m0-8h0m1 2h0m1 5h0m0 0h0m1-7h0m0 5h0m0-6h0m0 5h0m2 6h0m0-4h0m0-4h0m0-3h0m0 8h0m0-4h0m1 7h0m0 0h0m0-1h0m0-8h0m1 3h0m0-4h0m0 9h0m0-3h0m0-4h0m1-1h0m0 7h0m1 1h0m1-6h0m0 7h0m0-3h0m1-7h0m1 10h0m0-8h0m0 2h0m1-4h0m3 5h0m1-4h0m1 10h0m0-7h0m2 4h0m0 0h0m2 1h0m1-8h0m0 1h0m0 7h0m1 2h0m0-4h0m1-7h0m0 2h0m0 7h0m0-5h0m1 3h0m0-6h0m1 6h0m0 0h0m1 1h0m1 1h0m0-5h0m0 0h0m1 0h0m0 5h0m1-6h0m0-2h0m2 7h0m1-2h0m0-4h0m0 9h0m1-10h0m2 2h0m0 4h0m1 1h0m0-3h0m2 3h0m1 1h0m0-10h0m0 0h0m2 5h0m1 6h0m1-11h0m1 1h0m3 7h0m1 1h0m3-5h0m1 3h0m0-3h0m0 6h0m1-5h0m0 2h0m0-4h0m1 4h0m0 2h0m2 2h0m0-4h0m0-6h0m0 3h0m0 2h0m2 5h0m2 1h0m0-9h0m0-2h0m1 0h0m0 0h0m1 3h0m0-1h0m1 9h0m1-2h0m1-10h0m0 5h0m1-2h0m0-2h0m1 2h0m0 3h0m2-5h0m1 0h0m3 1h0m1 10h0m0-8h0m1-2h0m0 0h0m0 2h0m2 1h0m0 0h0m2 5h0m1 1h0m1-2h0m1-4h0m0 5h0m0-7h0m0 5h0m1 1h0m1 0h0m0-2h0m1-6h0m1 9h0m0-6h0m0-2h0m1 8h0m0-6h0m0 5h0m0-4h0m1-1h0m1 3h0m0-3h0m1 3h0m2-5h0m0 4h0m0-5h0m1 0h0m0 5h0m1-5h0m0 8h0m1 0h0m0-8h0m0 9h0m1-7h0m0 7h0m1-3h0m0-1h0m1-2h0m0-4h0m1 7h0m0-7h0m2 11h0m1-1h0m0-2h0m2 1h0m0 1h0m1-3h0m1-4h0m0 4h0m0 4h0m0 0h0m1 0h0m1-8h0m0 5h0m2-1h0m0 2h0m0-4h0m0 2h0m3 0h0m0 3h0m1-3h0m2 2h0m0 0h0m2-8h0m0 8h0m0 2h0m3-4h0m1 5h0m0-10h0m0 2h0m1 1h0m1 3h0m0-3h0m1-2h0m0 8h0m1-10h0m1 9h0m0-1h0m0-5h0m1 7h0m1-9h0m0-2h0m0 10h0m1-5h0m1-4h0m1 11h0m1-5h0m0 0h0m3-3h0m0-3h0m1 0h0m1 3h0m0 0h0m0 2h0m1 0h0m1-6h0m0 11h0m1-7h0m1-3h0m0 10h0m1-10h0m0 3h0m0 7h0m1-1h0m0-4h0m0-5h0m1 4h0m0 6h0m0-8h0m0 4h0m1-1h0m1-4h0m1 3h0m1 6h0m0-11h0m1 10h0m0-5h0m0 5h0m1-6h0m0 4h0m0-1h0m0-2h0m0-4h0m1 2h0m0 2h0m0-3h0m1-1h0m0 9h0m1-10h0m0 7h0m0 2h0m0-1h0m1-6h0m0-1h0m0 8h0m1-8h0m1 5h0m0-1h0m1 0h0m1 3h0m0-5h0m1-3h0m0 2h0m0 0h0m1 8h0m0 2h0m1-3h0m0-1h0m1-4h0m1 5h0m1-7h0m0 9h0m1-5h0m0-1h0m0 3h0m1 0h0m0 2h0m0-6h0m1 4h0m0-6h0m0 2h0m0-3h0m2 7h0m0-4h0m1-3h0m0 1h0m1-2h0m1 2h0m0-1h0m0 10h0m0-2h0m1 0h0m0-7h0m1 6h0m0-6h0m1 7h0m0-5h0m0 4h0m2 7h0m-1 4h0m0-3h0m-2-1h0m-1 3h0m0-1h0m0-4h0m0 11h0m-1-8h0m0 8h0m0 0h0m-1-3h0m0-8h0m-1 2h0m0 0h0m-1 4h0m-1-3h0m0 4h0m-2-4h0m0-3h0m-1 4h0m-1 3h0m-1-6h0m0 2h0m-1 8h0m0-5h0m-1-7h0m0 4h0m0-1h0m-1-3h0m-1 12h0m0-5h0m-1 1h0m0 0h0m0-4h0m0 1h0m0 6h0m-1-3h0m-1 4h0m-1-2h0m0-10h0m-1 4h0m-1 6h0m0-1h0m-1-7h0m0 10h0m-1-1h0m-1-8h0m0 1h0m-1-1h0m-2 7h0m0-1h0m-1-2h0m0-5h0m0 1h0m0 1h0m-1 1h0m0 5h0m-1-7h0m0 4h0m0 0h0m0-5h0m-2-1h0m0 11h0m0-3h0m-1-4h0m-1-3h0m-3 9h0m0-4h0m-1-5h0m-2 0h0m0-1h0m0 5h0m-2 4h0m-1-6h0m-1 3h0m0 1h0m-3 1h0m-1-3h0m-1 3h0m-1-7h0m-1 3h0m-1 3h0m0 3h0m-3-3h0m0 3h0m-1-4h0m0-3h0m0 5h0m-2 1h0m-1 0h0m-1-8h0m0-1h0m-1 0h0m-1 4h0m-1 6h0m-2 0h0m0-3h0m-1-7h0m0 3h0m-1 5h0m-1-3h0m-1-5h0m0 5h0m0 3h0m-1 0h0m-1-4h0m0 2h0m-1 2h0m-2 1h0m0-7h0m-1 0h0m0 3h0m0 4h0m0-7h0m-1 2h0m-1-1h0m0-2h0m0 8h0m-2-8h0m0 5h0m-1 1h0m0 3h0m-1-4h0m0 0h0m0-3h0m-1 4h0m0-3h0m0-4h0m-1 9h0m0-10h0m-1 12h0m0 0h0m-1-2h0m0-9h0m-1 9h0m-1-4h0m-1 0h0m-1 1h0m-2-1h0m-1-3h0m0 2h0m-1-2h0m-1 4h0m-1-7h0m-1 9h0m-1 0h0m0 1h0m0-8h0m0 7h0m-2-8h0m0 6h0m0-7h0m-1 12h0m-1-4h0m0-7h0m0 4h0m-1 2h0m0 3h0m0-9h0m-1 3h0m-2-2h0m0 7h0m0 0h0m-1 1h0m-1-7h0m0 2h0m-2-2h0m-1 7h0m-1-4h0m-1-5h0m-1 9h0m0-8h0m0-2h0m-1 7h0m0-1h0m-1 3h0m-1 1h0m0-4h0m-3-5h0m0 1h0m0 9h0m0-8h0m-1 0h0m-1 1h0m0 0h0m-1 1h0m0 5h0m-1-8h0m0-2h0m-1 10h0m0-1h0m-1-1h0m-1-5h0m-2 3h0m0-2h0m0 2h0m0-2h0m-1 2h0m0-2h0m0-2h0m-2 1h0m-1-2h0m0 3h0m0-1h0m-1 4h0m0 2h0m-1 1h0m0-1h0m-2 1h0m0-3h0m0-1h0m0-1h0m0 1h0m-1-5h0m0 5h0m-1-1h0m-1-5h0m0 7h0m0 3h0m0-6h0m0 5h0m-1 0h0m0-8h0m-1 10h0m0-6h0m0 1h0m0-5h0m0-1h0m-1 10h0m0-3h0m-1 5h0m0-8h0m0 7h0m-2-7h0m-1-3h0m0 6h0m0-1h0m-2 3h0m-1-8h0m0 3h0m0 7h0m-1-1h0m0 1h0m0-2h0m0-2h0m-2 3h0m-1-5h0m0 2h0m0-1h0m-1 4h0m-1-5h0m-1 0h0m-1 6h0m0-2h0m-1-3h0m0 6h0m-1-8h0m0 3h0m-2-1h0m-1-2h0m-1-2h0m0 9h0m0 0h0m-2-9h0m-1 1h0m-1-1h0m-1 9h0m-1-2h0m-2-4h0m-1-1h0m-1 4h0m0-7h0m-1 7h0m-1-3h0m-2 5h0m-2 2h0m0-2h0m0-8h0m-2 0h0m-1 5h0m0-5h0m0 6h0m-1-6h0m-1 7h0m0 0h0m-1 3h0m-1-6h0m0-1h0m-3 5h0m-1-9h0m-1 8h0m0-1h0m-1-8h0m-1 2h0m-1 1h0m0 6h0m0 2h0m0-4h0m-1-4h0m-2 4h0m0 3h0m0 0h0m0-3h0m-1-3h0m0 7h0m0-7h0m-1-3h0m0 8h0m-2-7h0m-1 1h0m-1 9h0m0-8h0m0 1h0m-1 0h0m0 2h0m0-3h0m-1 7h0m0-4h0m-4 16h0m2-3h0m1 4h0m0-2h0m0-5h0m2 0h0m1-4h0m0 7h0m1-1h0m2-3h0m0-1h0m0 8h0m1-8h0m1-1h0m1-1h0m0 5h0m2-4h0m1 3h0m0 7h0m1-2h0m0-4h0m1-4h0m0 5h0m0-2h0m1 6h0m0 1h0m1-10h0m1 4h0m2-5h0m1 10h0m0-8h0m2-2h0m1 1h0m1 9h0m4-4h0m0-6h0m1 8h0m1-8h0m0 1h0m1 4h0m1 0h0m2-5h0m2 5h0m0-2h0m1 4h0m1 4h0m2-4h0m0-2h0m0 6h0m1-11h0m1 10h0m0-7h0m0 0h0m1 0h0m1 3h0m2-5h0m1 6h0m0 0h0m1 3h0m0-9h0m0 6h0m0-8h0m2 9h0m2-7h0m0 10h0m0-10h0m1 2h0m0 2h0m2 5h0m0-4h0m0 2h0m2-8h0m2 9h0m2-3h0m0-4h0m0 4h0m1-1h0m0-4h0m0-1h0m1 6h0m1-4h0m0 6h0m0-6h0m2-1h0m0 2h0m0 2h0m1 5h0m0-2h0m1-8h0m0 6h0m1-3h0m0 1h0m0 2h0m1-1h0m1 4h0m1-2h0m0 4h0m1-8h0m2-2h0m1 0h0m1 8h0m1-3h0m1-4h0m1 3h0m0-5h0m1 10h0m2-6h0m2 4h0m0-5h0m0 4h0m1 2h0m4-5h0m1 0h0m0-2h0m1 1h0m0 6h0m0-7h0m0 0h0m2-3h0m0 0h0m3 9h0m1 0h0m0-6h0m1 4h0m3-6h0m2 9h0m0-6h0m1-1h0m2 5h0m0-7h0m1 0h0m0 0h0m1 3h0m1 8h0m0-2h0m0-1h0m1-2h0m0 3h0m1-3h0m0-4h0m2-2h0m1 6h0m1-6h0m0-1h0m3 3h0m1-2h0m1 10h0m0-9h0m2 6h0m1-1h0m0-2h0m1 7h0m0-10h0m0 0h0m1 6h0m0-3h0m0 4h0m1-4h0m2 3h0m0 1h0m1-5h0m0 2h0m1-4h0m1 6h0m0-5h0m0-2h0m1-1h0m0 5h0m2-1h0m1-3h0m1 3h0m1 3h0m0-2h0m1 3h0m0-4h0m1 0h0m0 4h0m0-7h0m1 8h0m1-1h0m0-7h0m0 8h0m0-7h0m1 2h0m1 2h0m0-4h0m0 4h0m1-3h0m0 5h0m0-2h0m0-6h0m1 3h0m0 1h0m1-3h0m0 1h0m1 0h0m0 6h0m0-5h0m1 5h0m1 4h0m1-6h0m0 1h0m0-5h0m1 3h0m0 7h0m0-8h0m2-2h0m0 6h0m0-6h0m1-1h0m0 2h0m0 0h0m1 2h0m2 1h0m0 0h0m0-5h0m1 4h0m1 6h0m1-7h0m0 6h0m1 0h0m0-2h0m1-7h0m0 3h0m0-1h0m1 2h0m0-1h0m2 4h0m0-8h0m2 11h0m1-1h0m0 1h0m2-7h0m0 3h0m0-7h0m0 3h0m1 8h0m0-5h0m0-3h0m1 8h0m0-4h0m1 5h0m0-12h0m1 4h0m0 2h0m1 3h0m1-5h0m0 0h0m2 4h0m1-2h0m0 0h0m1-3h0m0 3h0m0 2h0m0-3h0m2-4h0m0 9h0m1-2h0m0 2h0m0 0h0m2-5h0m1 0h0m0-4h0m2 8h0m1 3h0m0-5h0m1 2h0m1-3h0m4-1h0m1-3h0m0 0h0m1-1h0m1 2h0m1 7h0m0-10h0m1 8h0m1-1h0m0 5h0m0-1h0m1-3h0m1-6h0m2 9h0m0-1h0m0-6h0m0-1h0m1 3h0m0-1h0m0 2h0m1 5h0m0-7h0m1-2h0m1 12h0m-1 9h0m-1-9h0m0 8h0m-2-3h0m-1-7h0m-1 2h0m-1 5h0m-1-6h0m0 3h0m0 1h0m-1 4h0m0 0h0m-1-3h0m0-5h0m-1 1h0m0 5h0m-1-1h0m0-3h0m-1-4h0m-1 12h0m-1-4h0m0-5h0m-1 5h0m-1-6h0m-1 1h0m-1 8h0m0-7h0m-1 6h0m0 0h0m0-5h0m-1 5h0m0 0h0m0-3h0m0-1h0m-1 0h0m-1 0h0m0-1h0m0 2h0m-1 0h0m-1-5h0m0-1h0m0 3h0m-1 5h0m0-9h0m0 0h0m-1 5h0m0-2h0m0 4h0m0 5h0m-1-7h0m0 0h0m0 5h0m-1-5h0m-2 4h0m0-2h0m-1 2h0m0 1h0m-1 0h0m-1 0h0m0-7h0m-1 9h0m0-9h0m-1 3h0m0 0h0m0-3h0m-1-3h0m-2 12h0m0-3h0m-1 3h0m0-4h0m-1-4h0m-1 0h0m0 4h0m-1-2h0m-1-3h0m-1 4h0m-1-1h0m0 3h0m-1 2h0m-1-4h0m-1 3h0m-1-3h0m-1 3h0m0-7h0m0 5h0m0-1h0m0-6h0m-1 10h0m-1-7h0m-1-1h0m0 2h0m-1 1h0m0 0h0m0 2h0m0-1h0m-1-1h0m0-3h0m-2 7h0m0-5h0m0 5h0m-1-2h0m0 1h0m-1-7h0m0 0h0m-1 9h0m-2-8h0m-1 8h0m0-2h0m0-8h0m0 8h0m0-2h0m-1-5h0m-2 3h0m0-1h0m0-3h0m0 7h0m-1 3h0m0 0h0m0-7h0m-1 6h0m0-7h0m-1-1h0m0-1h0m-1 3h0m0 3h0m0-5h0m-1 0h0m0 7h0m-1 2h0m-1 0h0m-2-1h0m0-9h0m0 11h0m-1-5h0m0 4h0m0-11h0m0 1h0m0 8h0m-1 0h0m-1 1h0m0-2h0m0 1h0m0-7h0m-1-2h0m-1 2h0m0 2h0m-1 4h0m0-3h0m0 1h0m-1 1h0m0 0h0m0 1h0m-1 0h0m0-8h0m-1 4h0m0 3h0m0-2h0m0 1h0m-1 1h0m0 4h0m0-9h0m0 6h0m-1 3h0m-1-10h0m0 10h0m0-7h0m-1-2h0m0 6h0m0-4h0m-1 7h0m0-2h0m-4-2h0m-1-3h0m-1 5h0m0 0h0m-1-2h0m-1 2h0m-3-5h0m-3 1h0m0-1h0m0-3h0m0 10h0m-1-1h0m0-5h0m0-1h0m-1 7h0m-1-9h0m0 4h0m-1-2h0m-1 6h0m-1 1h0m0-1h0m-1-5h0m0 0h0m0 1h0m-1 5h0m0-6h0m0 2h0m-1-2h0m0 5h0m-2-5h0m-1 3h0m-1 4h0m-1-3h0m0-2h0m0-4h0m-2 4h0m0 3h0m0 0h0m-1-10h0m-1 7h0m0 5h0m-2-10h0m-1 0h0m0 4h0m-1-4h0m-1 3h0m-1-1h0m-2 5h0m0 2h0m-1-7h0m0 6h0m0-10h0m-1 6h0m-1-5h0m0 1h0m0 5h0m0-5h0m-1 7h0m-1-1h0m0-4h0m-1 6h0m0-4h0m-1 5h0m0-7h0m0 7h0m-2-1h0m-1 0h0m-1-4h0m0-2h0m-1 5h0m0-4h0m-1 5h0m0-1h0m0 0h0m-1-8h0m0 9h0m-1-9h0m-1 6h0m0 4h0m-1-4h0m-1-4h0m-1 5h0m-1 1h0m-1-4h0m0 1h0m-1-5h0m-1 2h0m-1 4h0m0-5h0m0 6h0m0-7h0m-1 10h0m0-3h0m-1-4h0m-2 4h0m0 3h0m0-5h0m-1 5h0m0-2h0m0-5h0m-3 6h0m-1-2h0m0-6h0m0 3h0m-1 3h0m0 0h0m-1-3h0m-2 7h0m0-8h0m0 3h0m-1-1h0m-1 4h0m-1-9h0m0 4h0m-2 3h0m-1-7h0m-2 8h0m0-6h0m0 9h0m0-11h0m0 9h0m0-7h0m-1 5h0m0-4h0m-2 4h0m-2-4h0m-1 1h0m0-2h0m0 4h0m-1-1h0m-1 3h0m0-9h0m0 10h0m-1-3h0m-2-4h0m-1 5h0m-2-4h0m0 3h0m0-6h0m0 1h0m-1 5h0m0 5h0m0-1h0m-1-6h0m-1 5h0m-1-2h0m0-2h0m-1-5h0m0 11h0m-3-2h0m0-7h0m0 3h0m0 2h0m-1-4h0m-1-2h0m0-2h0m0 8h0m0-1h0m-2-1h0m0 4h0m-1-8h0m0 1h0m-1 3h0m0-3h0m-1 7h0m-2-6h0m0 2h0m-1 6h0m0-4h0m-1-1h0m0 0h0m0 2h0m-1 2h0m0-10h0m0 9h0m0-4h0m-1 4h0m-1-7h0m-1 9h0m0-1h0m0-5h0m0 1h0m-2-3h0m-1 3h0m0 1h0m-5-1h0m-3 15h0m0-3h0m1 0h0m1-3h0m1 4h0m0-5h0m0 9h0m1-5h0m1-1h0m1 5h0m0-9h0m0 1h0m1 6h0m0 3h0m1-12h0m0 10h0m1-5h0m2 1h0m0 6h0m1-2h0m1-4h0m0-1h0m2-4h0m1 2h0m1 0h0m0 5h0m1 0h0m1 3h0m0 0h0m0-6h0m0 1h0m1 3h0m0-5h0m1 7h0m1-11h0m0 3h0m0-2h0m1 8h0m0-1h0m0-3h0m2-1h0m1 8h0m1-10h0m1-2h0m1 12h0m0-1h0m0-2h0m0-4h0m1 5h0m0-1h0m1-5h0m0 4h0m0 0h0m0-1h0m3-6h0m0 7h0m0-5h0m1 3h0m0 6h0m1-3h0m1 2h0m1-5h0m1-6h0m2 11h0m0-2h0m1-3h0m1 5h0m0-8h0m1-2h0m1 7h0m1-7h0m3 1h0m0 0h0m0-1h0m1 4h0m1 0h0m0 6h0m1-2h0m0-2h0m1-4h0m0 3h0m1 5h0m1-7h0m2-2h0m0 0h0m1 5h0m0 2h0m2-4h0m1 1h0m1 3h0m2 2h0m1-6h0m1 5h0m0-9h0m0 2h0m0 5h0m1 2h0m0 2h0m0-4h0m1-5h0m0 0h0m0-3h0m0 9h0m1-6h0m0 4h0m1-3h0m1 6h0m1-4h0m3 0h0m1 0h0m1 5h0m0-8h0m0 3h0m0 1h0m1 4h0m1-11h0m1 6h0m0-2h0m1 2h0m1 5h0m0-8h0m1-2h0m1 3h0m2 2h0m1-5h0m0-1h0m0 5h0m2-4h0m0 1h0m1-2h0m0 3h0m1 3h0m0-5h0m0 3h0m1 4h0m1-7h0m1 11h0m0-5h0m0-2h0m1 2h0m0-3h0m0-3h0m2 0h0m2 8h0m0 1h0m1-4h0m0-2h0m1-1h0m2 7h0m2-3h0m0 2h0m2-2h0m0-5h0m0 2h0m0 7h0m1-8h0m0 7h0m0-4h0m1-2h0m1 2h0m0 2h0m1 2h0m0 1h0m0-8h0m2 7h0m0-9h0m0 6h0m0-6h0m1 5h0m0-2h0m0 2h0m1 5h0m0-9h0m2 9h0m1-3h0m0-7h0m1 9h0m0 2h0m0-11h0m1 6h0m0-2h0m1-4h0m1 10h0m0-6h0m1-5h0m1 1h0m1 0h0m1 4h0m2 1h0m1-2h0m4 0h0m0 6h0m2-1h0m1-8h0m1 0h0m0 5h0m0-5h0m1 8h0m0-7h0m1 1h0m0-1h0m0-2h0m2 3h0m3 3h0m0 1h0m0-2h0m1 4h0m1 2h0m0-2h0m0-2h0m0 2h0m0-4h0m1-3h0m0-1h0m1 9h0m0-7h0m1-1h0m0 7h0m1-5h0m0 6h0m0 1h0m1-4h0m0-1h0m0-2h0m1 5h0m0-4h0m1 5h0m0-7h0m0 0h0m0 9h0m0-11h0m0-1h0m1 2h0m0 7h0m2-3h0m0 3h0m1-6h0m0 4h0m0-3h0m1 4h0m1 1h0m0-4h0m0-4h0m0 10h0m1-10h0m1 8h0m0-9h0m0 2h0m1 8h0m1-8h0m0 6h0m1-3h0m1 1h0m0 1h0m1-7h0m1 11h0m0-3h0m0 0h0m1-1h0m0 3h0m0-10h0m1 10h0m1-3h0m1 2h0m0-1h0m0-1h0m2-5h0m1 3h0m0-3h0m0 8h0m2-6h0m0-3h0m1 8h0m0-1h0m0-3h0m2 1h0m0 5h0m1-1h0m1-5h0m3 4h0m0 2h0m0-7h0m2 7h0m2-10h0m1 5h0m0-4h0m0 8h0m0-6h0m1 2h0m0 4h0m0 0h0m1-1h0m1-1h0m0 1h0m0 0h0m1 0h0m0 0h0m1-3h0m0 1h0m0-1h0m3-2h0m1 5h0m0-2h0m1-3h0m0 5h0m0-9h0m1 9h0m1 3h0m0-4h0m1-2h0m0-3h0m2-1h0m0-2h0m1 10h0m3-2h0m1 0h0m2-3h0m1 1h0m1 2h0m1-6h0m0 7h0m0-6h0m0 5h0m1 2h0m1 1h0m0-5h0m1-2h0m2 8h0m0-5h0m1-4h0m1 7h0m1 2h0m0-3h0m1-1h0m1 2h0m0 13h0m0-4h0m-1 5h0m-1-7h0m0 5h0m-2-9h0m0 3h0m-1 0h0m0 6h0m0-5h0m0-1h0m-1-1h0m0 6h0m-1 3h0m-1-9h0m0 0h0m-1 8h0m0-10h0m-2 8h0m-2-2h0m0-1h0m0 1h0m0 3h0m-1-3h0m0 0h0m-1 4h0m-1-8h0m-1 1h0m0 4h0m-1-2h0m-1 0h0m-2 5h0m-2-3h0m0 2h0m0 1h0m-1-3h0m0-5h0m-1-1h0m0 0h0m-1 8h0m-1-10h0m-1 12h0m-1-7h0m0 1h0m0 2h0m-1-3h0m-1-2h0m0-1h0m-1 9h0m0-10h0m-1 8h0m-1-5h0m0 2h0m-1 4h0m0-3h0m-1-4h0m0 3h0m-2 4h0m-1-7h0m-1 2h0m-1-5h0m0 9h0m-1-2h0m0 3h0m-1-9h0m0 3h0m-1 4h0m-1-4h0m0 8h0m0-6h0m0-5h0m-1 4h0m-1 4h0m0 3h0m-1-9h0m-1-1h0m0 3h0m-1-3h0m0 9h0m0-3h0m-1 0h0m0-1h0m-1-3h0m-1 7h0m0-8h0m0 3h0m0 0h0m0 5h0m-3-10h0m0 2h0m-1 0h0m0-1h0m-1 8h0m-1-6h0m0 1h0m0-5h0m-3 9h0m0 2h0m0-9h0m0 9h0m-1-11h0m-1 4h0m-2 3h0m-1-7h0m-1 6h0m0-2h0m0 7h0m-1-5h0m0 5h0m-2-10h0m0 4h0m-1 1h0m0 2h0m-1 0h0m0-2h0m0-2h0m-1 8h0m0-1h0m0-8h0m-1-3h0m-3 3h0m0 9h0m0-2h0m-1-9h0m-2 4h0m0 0h0m0 6h0m0-3h0m0-3h0m-1 2h0m0-3h0m0-1h0m0 2h0m0-2h0m0 7h0m0-9h0m-1 6h0m-3-1h0m-1 5h0m-2-10h0m0 0h0m-2 10h0m-1-9h0m-1 3h0m-1-3h0m0 9h0m-1-9h0m-2 5h0m0-3h0m-2 5h0m-1-3h0m0 3h0m-1-5h0m-2-2h0m0 2h0m0-1h0m-1 3h0m0 4h0m-1-4h0m-1 5h0m0-4h0m-1-5h0m0 4h0m0-3h0m0 2h0m-1-3h0m0 5h0m-1-3h0m0 2h0m-1-1h0m-1 0h0m-1 4h0m-1-6h0m-1 0h0m-1-2h0m-1 0h0m0 2h0m-1 8h0m0-5h0m-1-2h0m0 3h0m-1-7h0m0 11h0m0-1h0m0-5h0m-1-4h0m0 4h0m0 2h0m0-3h0m-1 4h0m0-5h0m-1 1h0m-1 8h0m0-5h0m0-3h0m0 6h0m-1-5h0m0 1h0m-1 3h0m0-6h0m-1 0h0m-1 4h0m0 5h0m0-7h0m-1-1h0m0 4h0m0 3h0m-1-8h0m-1 0h0m0 2h0m0 3h0m0-5h0m-1 9h0m-1-10h0m-1 0h0m-1 9h0m-1-7h0m0 7h0m-1-4h0m0-3h0m-2 2h0m0 3h0m-3-8h0m-1-1h0m-1 1h0m-3-1h0m0 1h0m-1 7h0m-1 0h0m-1-4h0m0 0h0m-1 3h0m0-2h0m0-2h0m-1-2h0m-1 7h0m0 3h0m-1-9h0m-4 10h0m0-7h0m-1 7h0m0-6h0m-1 1h0m-1-3h0m-1 5h0m0 3h0m-1-7h0m-1 1h0m0-1h0m0 3h0m-1 1h0m0 2h0m-1-2h0m-1-2h0m0-6h0m0 6h0m0-5h0m0 8h0m-1-6h0m0 8h0m-1-5h0m0 2h0m-1-4h0m0 5h0m-2 2h0m0-9h0m0-2h0m-2 6h0m0-1h0m-5 4h0m0-10h0m0 10h0m0-7h0m0 8h0m-2-3h0m-1-5h0m-2 8h0m-1-8h0m-3 1h0m0-2h0m-1 2h0m0 6h0m-1-9h0m-2 0h0m-1 0h0m-1 2h0m0-1h0m0-2h0m-2 8h0m0 0h0m-1-5h0m-2 5h0m-1-4h0m0 4h0m-2 2h0m0-9h0m-1 3h0m0-2h0m-1 2h0m0 6h0m0-4h0m-1-3h0m-2-1h0m0 0h0m0 1h0m-2-3h0m-1 11h0m0-6h0m-1 5h0m-1 1h0m0 1h0m-1-10h0m-2 1h0m-1 0h0m0 2h0m0 2h0m-1 5h0m-1-5h0m0-1h0m-1 5h0m-1-9h0m-2 5h0m-1 4h0m-1-1h0m0-8h0m-1 7h0m0 1h0m0-1h0m-1 0h0m0-6h0m0 9h0m0-10h0m-1-2h0m0 5h0m-1 5h0m0-9h0m-1 7h0m-1-5h0m0 2h0m-1-1h0m-1 4h0m-9 16h0m4-2h0m0-4h0m0-4h0m0 2h0m1 7h0m0-7h0m1 7h0m0-11h0m0 4h0m0 2h0m1-3h0m0 2h0m1-2h0m1 0h0m0 9h0m1-12h0m0 10h0m1-4h0m0-1h0m1 1h0m0 2h0m0-1h0m1 1h0m0-5h0m2 3h0m0-1h0m0 0h0m1 6h0m1-5h0m0 1h0m0 5h0m1-6h0m0 1h0m0 1h0m0 2h0m2-5h0m0-3h0m0 3h0m1 0h0m0 1h0m1 0h0m0-2h0m0 2h0m2 0h0m0 4h0m1-1h0m0-8h0m0 11h0m2-8h0m0-3h0m1 1h0m3 1h0m0 2h0m0 3h0m2 1h0m0-2h0m0 2h0m1 0h0m0-2h0m1 3h0m0-7h0m1 8h0m0-2h0m0-2h0m0-2h0m1 4h0m1-4h0m1 5h0m0-1h0m1-9h0m1 8h0m1 0h0m1-3h0m0-4h0m0 1h0m0 4h0m0 1h0m1-2h0m0 3h0m1-8h0m1 4h0m1 3h0m1 0h0m0-3h0m1 1h0m0-3h0m0 4h0m0 5h0m1-2h0m2-6h0m2 3h0m0-1h0m1 6h0m1-8h0m1 6h0m0-7h0m0 0h0m1 2h0m0 2h0m2 5h0m1 1h0m0-2h0m2-5h0m0 7h0m1-8h0m0-1h0m0 0h0m1 3h0m1 6h0m2-11h0m0 0h0m0 11h0m2-6h0m0 2h0m1-6h0m1 8h0m2 0h0m2-5h0m0 1h0m2 6h0m1-4h0m0-2h0m0 4h0m0-1h0m2-2h0m0-5h0m1 10h0m1-9h0m0 4h0m0-4h0m1 2h0m0-1h0m1 4h0m0 2h0m0 1h0m2-7h0m0-3h0m4 3h0m0 6h0m1-5h0m0 3h0m1-5h0m0 8h0m0-10h0m0 0h0m1 0h0m1-1h0m0 5h0m2-5h0m0 9h0m0 1h0m0-8h0m1 3h0m3 5h0m0-3h0m1-4h0m0 0h0m0 0h0m1-2h0m0 4h0m1-4h0m0 11h0m1-6h0m1 1h0m0 3h0m1-3h0m0-3h0m0-2h0m0 9h0m1-7h0m0-2h0m2 1h0m0-2h0m0 8h0m2-5h0m0 0h0m0 1h0m1-2h0m0-3h0m0 0h0m1 10h0m1-9h0m0 1h0m0 2h0m0 3h0m1-3h0m0 3h0m0-5h0m2 5h0m1-7h0m0 9h0m0-5h0m1 8h0m2-11h0m0 1h0m1 2h0m0-1h0m0 8h0m1-3h0m0 0h0m1-2h0m1-4h0m2 9h0m0-8h0m0-2h0m1 5h0m1 2h0m0 2h0m0-7h0m1 0h0m0-3h0m1 4h0m1 7h0m0-7h0m0 7h0m0-10h0m1 7h0m0 1h0m0-4h0m1 7h0m2-6h0m0 1h0m0 5h0m0 0h0m1-7h0m0 7h0m0-9h0m0 5h0m1 1h0m0-5h0m1 6h0m0-1h0m1 2h0m0-9h0m1 2h0m0 6h0m0-5h0m1-4h0m1 3h0m0 8h0m0-4h0m0 0h0m1-6h0m1 6h0m1-7h0m1 9h0m0-1h0m1-3h0m3 1h0m1 3h0m0-2h0m1-6h0m1 1h0m1 2h0m0-1h0m0 1h0m1-4h0m1 3h0m0 1h0m2-4h0m2 10h0m0-10h0m1 3h0m0 2h0m2-3h0m1-1h0m1 6h0m1 1h0m0-9h0m1 12h0m2-11h0m0 7h0m1-5h0m1 1h0m0 5h0m1-2h0m0-6h0m1 4h0m3 3h0m0-7h0m1 1h0m1 5h0m0 0h0m1-3h0m0 1h0m1-2h0m1 5h0m1-6h0m0 5h0m0-7h0m2 1h0m0 4h0m0 4h0m0-2h0m2 1h0m0-3h0m0-5h0m1 1h0m0 2h0m1 5h0m1 1h0m0 0h0m1-6h0m0 8h0m0-6h0m0-2h0m1 2h0m1 5h0m0-9h0m0 1h0m1-2h0m1 7h0m1 4h0m0-3h0m1 0h0m0-7h0m1 11h0m0-8h0m5-3h0m0 4h0m1 5h0m0-7h0m1 7h0m0-1h0m0-8h0m0 5h0m0-5h0m1 2h0m1 0h0m0 3h0m1-4h0m1 9h0m0 0h0m1-5h0m2 2h0m1 2h0m1 2h0m0-3h0m0 2h0m0-2h0m0-9h0m0 8h0m1-5h0m0 9h0m2-11h0m1 9h0m0-9h0m1 0h0m0 7h0m0-2h0m1 0h0m0-6h0m0 10h0m1-1h0m0-4h0m0-4h0m0 4h0m1 6h0m0-10h0m0 9h0m1-5h0m0 5h0m0-2h0m1-6h0m0 0h0m2 7h0m0 1h0m1 1h0m1-6h0m0-1h0m0 6h0m1-9h0m0 0h0m1 0h0m1 7h0m0 2h0m2-6h0m2 5h0m0-8h0m1 3h0m0-2h0m1 4h0m0-1h0m1-2h0m2 3h0m2 4h0m1 14h0m-1-9h0m-3 3h0m-2-3h0m-2 6h0m0 3h0m-2-11h0m0 2h0m-1 3h0m-2-3h0m-1 7h0m0-4h0m0 1h0m0-4h0m0-2h0m-2-1h0m-1 0h0m0 9h0m0-8h0m0 3h0m0-3h0m-1-1h0m-1 0h0m0 4h0m0-2h0m0 3h0m-1-2h0m-1 5h0m-1-2h0m0 4h0m-1 1h0m-1-6h0m0 6h0m-1-2h0m0 2h0m0-1h0m0-6h0m-1-2h0m-1 3h0m0 3h0m-1-3h0m0 1h0m-2-4h0m0 6h0m0 4h0m-1-8h0m0 5h0m0-7h0m-1 7h0m0-5h0m-1 6h0m-1-3h0m-1-7h0m0 10h0m-4-9h0m-1 8h0m0-9h0m-1 5h0m0-3h0m-1 6h0m0-6h0m-1 9h0m0-1h0m-1-8h0m-1 10h0m0-7h0m0 3h0m-1-7h0m-3 1h0m-1 8h0m-1-5h0m0 1h0m-1 5h0m0-11h0m-1 9h0m0-2h0m0-3h0m-1 5h0m-1-7h0m0 2h0m0 0h0m-1 7h0m-2-6h0m0-4h0m0 6h0m0-3h0m-1 2h0m0 4h0m-1-8h0m-1 6h0m-1-4h0m0-3h0m-1 0h0m0 6h0m-1-4h0m0 1h0m-1 1h0m-1-3h0m0 5h0m0-5h0m-1 7h0m0-9h0m0 11h0m0-5h0m-1 5h0m0-7h0m0 2h0m0-5h0m-2 3h0m0 3h0m0-1h0m-1-1h0m-1 5h0m-1-9h0m0 6h0m-1 1h0m0-3h0m-1 5h0m0 2h0m0-12h0m-1 5h0m0-3h0m0 8h0m-1 0h0m-1-8h0m0 1h0m-1 3h0m0-1h0m-1 4h0m-1-4h0m-2-2h0m0 3h0m0-3h0m-1 2h0m0 1h0m0-5h0m0 3h0m0-4h0m0 11h0m0-5h0m-1-6h0m0 5h0m-1 3h0m-1-5h0m-3 5h0m0-3h0m0-3h0m0-1h0m0 6h0m-2 5h0m0-4h0m0-2h0m-4-5h0m-2 3h0m-1 6h0m-1-4h0m-1 1h0m-1 3h0m0-5h0m0-5h0m-1 11h0m-1-3h0m0 3h0m0-2h0m0-8h0m-1 10h0m0-9h0m-1-2h0m0 10h0m-1 0h0m0-9h0m0 0h0m-1 9h0m0-8h0m-1 1h0m-2-2h0m0 7h0m0 3h0m-1 0h0m0-7h0m0 7h0m-1-2h0m-1-5h0m-1-3h0m0 9h0m0-9h0m-2 8h0m0-9h0m-1 11h0m-3 0h0m0-4h0m-1-6h0m0 3h0m-1 1h0m0-4h0m-1 4h0m0-2h0m-1 0h0m-2 4h0m-2-3h0m-1-2h0m0 8h0m-2-3h0m0-6h0m0 6h0m-1 2h0m0-1h0m0 0h0m0 3h0m0-9h0m-2 3h0m0 0h0m-1-2h0m0 3h0m0 5h0m-1-2h0m-1-2h0m-2-4h0m0 5h0m0-2h0m-2 3h0m0-2h0m-1 1h0m-1 1h0m-1 0h0m-1-3h0m0-5h0m-1 3h0m-2 6h0m0-2h0m0-3h0m0 6h0m0-9h0m-2 4h0m-1-1h0m-1-4h0m0 4h0m-1-5h0m0 6h0m-1-2h0m-1-2h0m0 0h0m-1 8h0m-1-9h0m-2 2h0m0 6h0m-1-8h0m0 1h0m-1 7h0m-1-5h0m0 1h0m0 3h0m-1-2h0m-1-1h0m-1 3h0m-1 4h0m0-2h0m0-5h0m-2 3h0m0-5h0m-1 7h0m-2-2h0m0 1h0m0-9h0m-1 3h0m-1-1h0m0-1h0m0 1h0m-1 8h0m-1 1h0m-1-1h0m0-9h0m0 1h0m-4 0h0m0 2h0m0 7h0m-1-6h0m-1 0h0m-1 4h0m0-2h0m0 1h0m-3 2h0m-1-9h0m0 3h0m0 3h0m0-2h0m-2 2h0m0 4h0m0-3h0m-3-1h0m0 3h0m-1-4h0m-3 5h0m0-9h0m0 7h0m-2-9h0m0 11h0m0 1h0m0-3h0m0 2h0m-2-7h0m0-4h0m-1 9h0m-1-1h0m0 4h0m0-9h0m-1 2h0m-1 0h0m0-5h0m0 2h0m-1 5h0m0 2h0m-1-7h0m0 6h0m-1-6h0m-1 0h0m0 0h0m0 6h0m-1-7h0m0 3h0m0 1h0m-1 4h0m0-4h0m0 1h0m0-2h0m0-3h0m-1 8h0m-3-8h0m0 3h0m0-3h0m-1 5h0m-1 0h0m0 5h0m-1-4h0m0-5h0m-1 1h0m0 2h0m0 3h0m-1 3h0m0-11h0m0 10h0m-1 1h0m-1 0h0m0-10h0m-1 3h0m0-4h0m0 6h0m-1-3h0m0 8h0m-1-3h0m0-4h0m0 5h0m0-8h0m0 11h0m-1-3h0m0-7h0m0 9h0m-1-3h0m-1-7h0m0 1h0m-1 10h0m0 0h0m0-2h0m0-3h0m-1 5h0m-2-2h0m-1-3h0m0 5h0m-1-10h0m0-1h0m-1 10h0m0-4h0m0-6h0m0 1h0m0 2h0m-1 7h0m-1-10h0m-1 11h0m-1-6h0m0 0h0m-1-1h0m0 3h0m-1 3h0m0 0h0m0-5h0m-1 1h0m0 4h0m-1 1h0m0-6h0m0 0h0m0 4h0m-1-4h0m0 0h0m-1 5h0m0-9h0m-2 4h0m-5 12h0m1 4h0m0 1h0m1-1h0m1-6h0m1-2h0m1 3h0m0-4h0m0 8h0m1 2h0m0 0h0m2-1h0m0-1h0m2-7h0m0 3h0m0 4h0m0-4h0m1 3h0m0-7h0m0 8h0m0 0h0m0 2h0m1-9h0m0 6h0m0-1h0m0 2h0m2-3h0m0-1h0m2 1h0m0-6h0m0 1h0m1 8h0m1-2h0m0-2h0m1 5h0m1 2h0m1-10h0m1 5h0m1-6h0m2 0h0m1 9h0m0 0h0m1-3h0m0 0h0m0 4h0m0-9h0m1 9h0m0-8h0m0 0h0m2 9h0m0 0h0m1-5h0m0-6h0m1 7h0m0 1h0m1 3h0m0-4h0m1 3h0m0-1h0m1-10h0m1 5h0m1 4h0m1 0h0m0 3h0m1-1h0m0-6h0m1-2h0m0 3h0m0-5h0m0 6h0m0-2h0m2 7h0m1-1h0m0-1h0m0-1h0m1-8h0m0 2h0m0 4h0m0 0h0m2-2h0m0 6h0m1-7h0m1-3h0m0 8h0m0 2h0m0-7h0m0-2h0m1-2h0m0 3h0m0 0h0m1 8h0m0-11h0m0 4h0m2 6h0m1 0h0m0-10h0m0 5h0m1 5h0m0-8h0m1-2h0m0 10h0m6 0h0m0 1h0m0-3h0m2-7h0m1 0h0m0 8h0m0-2h0m2-5h0m2 3h0m1-5h0m0 8h0m1 2h0m0-9h0m0 9h0m0-6h0m0-3h0m3 5h0m0-3h0m1-1h0m0 2h0m2-1h0m1 4h0m3-7h0m2 3h0m1 7h0m1-4h0m0-3h0m1 0h0m0 6h0m1-3h0m0 5h0m1-8h0m1-1h0m0-1h0m2 8h0m0 3h0m0-3h0m0-5h0m1 2h0m1 2h0m0 0h0m1-6h0m0 8h0m2-8h0m0 6h0m0-5h0m1 2h0m0 5h0m1 0h0m0 0h0m0-9h0m1 3h0m0-2h0m0 10h0m0-2h0m1-1h0m1-6h0m2 2h0m1 6h0m1 0h0m1-5h0m2-1h0m0-3h0m1 3h0m0 6h0m0-5h0m0 1h0m1 2h0m0-1h0m1-4h0m0 5h0m0-2h0m0 0h0m2-7h0m1 9h0m0-8h0m0 7h0m1-4h0m1-4h0m0 10h0m0 1h0m0-10h0m1 2h0m0 0h0m1 5h0m0 0h0m0 3h0m0-9h0m0-1h0m0 10h0m0 1h0m1-8h0m0 6h0m1-2h0m1-2h0m0-5h0m0 1h0m1 7h0m1-6h0m0-1h0m1 5h0m0-4h0m1 0h0m4 8h0m0-5h0m2-3h0m1 7h0m0-10h0m2 7h0m1 1h0m4 1h0m0-9h0m0 3h0m1 8h0m1-10h0m0 10h0m1-7h0m0-3h0m1 11h0m0-2h0m1-1h0m0-5h0m1-1h0m1 5h0m1 1h0m0 1h0m0-3h0m1-2h0m1-1h0m0-1h0m0 2h0m1 3h0m0-3h0m1 5h0m0-7h0m1 5h0m1-4h0m1 4h0m0 0h0m0-6h0m0 2h0m1-2h0m0 9h0m1-5h0m0 2h0m1-2h0m0 4h0m0-1h0m1-3h0m0-3h0m0-2h0m0 7h0m1-5h0m0 4h0m0-4h0m0 0h0m1-1h0m1-1h0m0 2h0m1 4h0m1 0h0m2-2h0m2 0h0m0-4h0m1 8h0m1 0h0m0 0h0m0-6h0m0-2h0m1 6h0m1-1h0m0-5h0m0 9h0m0 1h0m2 1h0m0-9h0m0 1h0m1 6h0m2-5h0m0 7h0m1-4h0m0-2h0m2 4h0m2 0h0m1 0h0m0-6h0m1-1h0m0-2h0m0 5h0m1 4h0m0-7h0m1 6h0m0-5h0m0 8h0m1-9h0m0-2h0m0 8h0m1 2h0m0-8h0m0 3h0m0-5h0m0 10h0m0-7h0m1 1h0m1 5h0m0 0h0m0-6h0m1 6h0m0-7h0m1 5h0m1-7h0m1 0h0m0 4h0m1-5h0m2 11h0m0-1h0m2-6h0m0-4h0m0 12h0m3-3h0m1-6h0m0 4h0m2-2h0m1 0h0m1 1h0m1-4h0m2 8h0m0-8h0m2 1h0m0 5h0m0-4h0m1-1h0m0 0h0m0 8h0m1-2h0m1-1h0m1-3h0m1 7h0m0-1h0m0 0h0m0-8h0m1 9h0m0-2h0m0-3h0m2-5h0m0 5h0m0 2h0m1 2h0m0-6h0m0 0h0m1-3h0m1 7h0m0-6h0m3 7h0m0-4h0m1-3h0m0-2h0m1 6h0m0-2h0m2-4h0m1 3h0m1 4h0m1-2h0m0 4h0m0-5h0m1-4h0m1 6h0m2-6h0m0 4h0m0 5h0m1-2h0m0 3h0m0-4h0m0-6h0m1 6h0m0 1h0m1 3h0m2-2h0m1-8h0m1 10h0m0-8h0m1 7h0m0-8h0m1-1h0m0 8h0m2 2h0m0-1h0m2-9h0m1 2h0m1 2h0m0 0h0m4-4h0m0 9h0m2-9h0m1 7h0m1 4h0m2-1h0m0 0h0m5 10h0m-1-1h0m0-3h0m0 7h0m0-4h0m-1-3h0m-1 2h0m-1-3h0m-1 4h0m0-1h0m0 5h0m-3-5h0m-1-6h0m0 0h0m-1 5h0m0 2h0m-1-7h0m0 10h0m-3-5h0m-1 4h0m-2-9h0m0 1h0m-2 8h0m0-5h0m-1 5h0m0-7h0m-2 0h0m0 0h0m-1 8h0m0-7h0m0 6h0m0-5h0m0 0h0m-2 4h0m0-5h0m0-2h0m-1-1h0m-1-1h0m-1 9h0m0 1h0m0-9h0m-1 8h0m-1-1h0m-1-7h0m-1 6h0m-1-5h0m-1 9h0m0-7h0m-1 7h0m-1 0h0m-1-2h0m0-4h0m0 0h0m0 0h0m-1 1h0m0-3h0m-1 9h0m0-5h0m-1 2h0m-2 2h0m-1-2h0m0-6h0m0 1h0m-1 5h0m-1-6h0m0 5h0m0-8h0m-1 11h0m-2-6h0m-1-4h0m0-1h0m-2 11h0m-2-2h0m-1-3h0m0-2h0m-1 2h0m0-1h0m0-3h0m-1-1h0m0 8h0m-1-6h0m0 6h0m-1-8h0m0 4h0m0-1h0m0 7h0m-1-2h0m0-6h0m-1 3h0m0 3h0m-2-7h0m-1-2h0m0 5h0m0 6h0m-2-8h0m-1 8h0m0-10h0m-2 11h0m-1-10h0m0-1h0m-1 4h0m0 2h0m-1 4h0m-1-7h0m-1-2h0m-2 7h0m0 1h0m-1 1h0m0-9h0m0 3h0m-1 3h0m0-7h0m-1 9h0m0-1h0m-2 2h0m0 0h0m-1-5h0m0-5h0m0 6h0m0-6h0m-1 8h0m0 0h0m0 0h0m0-9h0m-1 9h0m-2-8h0m-1 1h0m0 3h0m-1 1h0m-1-3h0m0 7h0m0 1h0m0-9h0m0 5h0m-1 1h0m-2-1h0m0-1h0m0 0h0m-1-5h0m-1 1h0m-2 1h0m0 9h0m0-5h0m0 5h0m-1-10h0m0 5h0m-2-6h0m-1 2h0m-1 6h0m-1 3h0m0-8h0m-1 4h0m-1-3h0m-3 6h0m-2-2h0m0 2h0m0-6h0m-1-1h0m0 5h0m-1-2h0m0 3h0m0-9h0m0 2h0m-1-2h0m0-1h0m0 10h0m0-6h0m-1 7h0m0-5h0m-2-4h0m0 2h0m-2 6h0m-1-7h0m-2-2h0m-1 4h0m-1 1h0m0-4h0m0 7h0m0 2h0m-1-1h0m-1-5h0m-1 0h0m0 2h0m0 4h0m-1-8h0m-1-2h0m0 0h0m-1 2h0m0 4h0m0 0h0m-1-7h0m-1 10h0m-1 0h0m0-7h0m0 0h0m0 8h0m0-3h0m-1-3h0m0-5h0m-5 2h0m0 1h0m-1-2h0m0 7h0m-1 0h0m-1 4h0m0-11h0m0 3h0m0-1h0m-1 2h0m0 5h0m-3-8h0m-1 4h0m0-2h0m0 3h0m0 2h0m-1-7h0m-2 2h0m0 1h0m-1 2h0m0 0h0m0 0h0m0 2h0m-1-1h0m0-4h0m0 0h0m-1-4h0m0 3h0m0 1h0m0 0h0m-1 2h0m0 2h0m-2-2h0m-1 3h0m0 0h0m0-8h0m-2 7h0m-1 0h0m0-5h0m-1 1h0m-2 4h0m-1 2h0m0 1h0m0-11h0m0 8h0m-1 1h0m0-5h0m0 5h0m0-2h0m-1 0h0m0 0h0m0-4h0m-1 1h0m-1 4h0m0 2h0m0-4h0m0-2h0m0 5h0m-2-7h0m0 6h0m-1 1h0m0-9h0m0 11h0m-3-9h0m-2 5h0m-2 2h0m-1 0h0m0 2h0m-2-6h0m-1 2h0m-1-2h0m-1 7h0m0-5h0m-1 1h0m-3 3h0m0-9h0m-1 6h0m0 3h0m0-2h0m-2-2h0m0-2h0m0 4h0m-1-6h0m-1 5h0m-1-6h0m0 0h0m-1 4h0m0-1h0m-1-4h0m0 5h0m-1-3h0m-2 1h0m0-3h0m-1 10h0m0-1h0m0-5h0m-1-2h0m-1 0h0m0 2h0m-1-1h0m0-1h0m-1 3h0m-1 4h0m-1-4h0m0-2h0m-1-1h0m0-1h0m0 8h0m-1-2h0m-1-2h0m0 1h0m-1-4h0m0 8h0m-1-3h0m0 4h0m-1-1h0m0-11h0m0 6h0m-3 1h0m-1 5h0m0-9h0m-2 0h0m0 5h0m-2 4h0m-1-7h0m-1 2h0m0-5h0m-1 1h0m0 3h0m-1 1h0m-1 1h0m-2-3h0m0 4h0m-1 2h0m0-8h0m-1 7h0m0-6h0m-1 1h0m0-1h0m-1 5h0m-1-3h0m0-6h0m-1 5h0m-1 2h0m-1-2h0m-1-2h0m0 2h0m-1-4h0m0 5h0m0-6h0m0 6h0m0-3h0m0 9h0m0-2h0m0-5h0m-1-5h0m0 9h0m0-7h0m0 0h0m-1-1h0m0 3h0m-1 1h0m0 4h0m-1 2h0m-1-4h0m-1 4h0m0-6h0m0 3h0m-1-3h0m0 6h0m0-11h0m0 2h0m-1 7h0m-1-5h0m-1 3h0m0-1h0m0 1h0m-1 0h0m0 0h0m0-2h0m0 0h0m-2-3h0m-1 4h0m0 1h0m-1-3h0m-1 3h0m0 4h0m-1 0h0m-1 0h0m0 0h0m0-11h0m-1 8h0m0-5h0m-1-3h0m0 6h0m0 2h0m0-7h0m-1 5h0m-1 3h0m-1-4h0m0 3h0m0-6h0m-3 5h0m0-7h0m-1 2h0m-2 7h0m0-9h0m-2 10h0m-1-4h0m-7 13h0m1-5h0m1 10h0m0-1h0m1-6h0m1 0h0m1 2h0m0-4h0m1 0h0m0 2h0m1-1h0m0 4h0m0-6h0m0 3h0m1 4h0m1-2h0m1 2h0m2 0h0m3 2h0m0-8h0m0 3h0m1-2h0m0 7h0m1-7h0m2 0h0m0-1h0m1 8h0m0-5h0m1 6h0m0-4h0m1-7h0m0 5h0m0-4h0m1 9h0m2 1h0m1-5h0m0 3h0m1-7h0m0-1h0m0 0h0m0 5h0m1-6h0m1 11h0m0-7h0m0 1h0m2-1h0m0-3h0m1 9h0m2-7h0m1 0h0m1 1h0m0-1h0m1 4h0m0-1h0m0-2h0m0-1h0m1-1h0m1 2h0m0 2h0m0-6h0m1 3h0m1 8h0m0-1h0m1-10h0m0 9h0m1-5h0m0-3h0m1 8h0m0-8h0m1 0h0m0 2h0m0-1h0m0 5h0m1-7h0m0 7h0m1-7h0m1 2h0m0 1h0m1 3h0m1 1h0m0-3h0m0-2h0m3-1h0m1 9h0m0 0h0m1-1h0m1-3h0m1 3h0m1-7h0m0 2h0m1 5h0m0 0h0m1-5h0m2 3h0m1-1h0m0 5h0m0-2h0m0-5h0m1 2h0m0 3h0m0-9h0m1 5h0m0 0h0m1 1h0m0 2h0m0-5h0m0 6h0m1-10h0m3 6h0m1 0h0m0-1h0m0 2h0m3-5h0m1 1h0m0 0h0m1 1h0m1 3h0m0 4h0m0-1h0m3-9h0m0 0h0m0 4h0m0 0h0m0 1h0m0 1h0m2 3h0m1-3h0m0-2h0m1 4h0m0-8h0m0 9h0m1-7h0m4 6h0m1-7h0m1 5h0m0-6h0m0 5h0m1 3h0m0-6h0m0-2h0m0 0h0m0 3h0m1 5h0m0-5h0m0 0h0m1 0h0m0 5h0m0-5h0m5 4h0m1-4h0m1 4h0m0 2h0m1 1h0m1-8h0m1 2h0m1 0h0m2 1h0m0 6h0m1-12h0m0 1h0m0 3h0m0 3h0m1-3h0m1 5h0m1-9h0m1 12h0m1-8h0m0 4h0m0 3h0m1-2h0m0-6h0m2 3h0m0-2h0m0 4h0m0 3h0m0-4h0m0-5h0m0 9h0m1-2h0m0-5h0m1 6h0m0 1h0m3-9h0m1 1h0m0 3h0m1 1h0m0 3h0m1-5h0m0 2h0m1-3h0m0 0h0m1-2h0m0 6h0m0-1h0m1 0h0m1-6h0m1 2h0m0-3h0m1 11h0m1-5h0m1-6h0m0 5h0m1 0h0m1 5h0m0 2h0m0-1h0m0-4h0m1-7h0m0 7h0m1 0h0m1 0h0m1 0h0m0 1h0m0-5h0m0 0h0m3 7h0m1 0h0m1-5h0m0 2h0m4 2h0m1-7h0m0 0h0m1 10h0m0-1h0m3-10h0m0 4h0m0 4h0m1-7h0m0 9h0m1-5h0m1 3h0m0-8h0m0 3h0m3 1h0m0 6h0m2-8h0m0 4h0m1 0h0m1-4h0m0 4h0m1-2h0m0 5h0m0-4h0m0 4h0m1-6h0m0 8h0m0-1h0m1-5h0m2-3h0m0 6h0m0 2h0m0-1h0m0-10h0m1 12h0m1-12h0m1 7h0m0 3h0m1-4h0m0 4h0m1-9h0m1 4h0m1-1h0m1-1h0m0 1h0m0 1h0m1-4h0m0 4h0m1 6h0m3-2h0m1-4h0m0 1h0m0 5h0m1-7h0m2 2h0m1-3h0m2 9h0m1-6h0m0 5h0m1-8h0m0 2h0m1 5h0m1-3h0m0-3h0m0-4h0m1 10h0m6-4h0m0-1h0m0 0h0m0 4h0m1-6h0m0 1h0m2 7h0m0-5h0m0 6h0m0-3h0m0-5h0m1 0h0m1 7h0m0-10h0m0 0h0m0 5h0m0-5h0m2 7h0m1-4h0m0 2h0m0 1h0m2 1h0m0-7h0m2 4h0m2-2h0m0 8h0m3-10h0m0 10h0m0-10h0m1-1h0m1 7h0m1-1h0m0 2h0m2 0h0m0-7h0m1 8h0m1-5h0m0 0h0m0 0h0m0-3h0m1 6h0m1 4h0m0-5h0m1-6h0m0 8h0m0-2h0m2 5h0m0-5h0m0 0h0m0 1h0m1 3h0m0-2h0m1 2h0m0-6h0m0 2h0m0 4h0m1-10h0m1 7h0m1 3h0m0-2h0m0 1h0m1 2h0m0-9h0m2-1h0m2 2h0m1 3h0m0-3h0m3 2h0m1 3h0m0 0h0m1 1h0m1 1h0m1-9h0m0 9h0m0 2h0m1-12h0m1 2h0m1 5h0m0 1h0m0-7h0m1 2h0m0 5h0m0-2h0m0 2h0m0-1h0m0-6h0m1 7h0m1-7h0m1 0h0m1 6h0m0 0h0m0 5h0m1-2h0m1-8h0m1 7h0m3-5h0m3 1h0m2 3h0m0-3h0m0 2h0m0-4h0m3 6h0m2 1h0m0-9h0m1 2h0m1-2h0m1 6h0m0-7h0m0 7h0m0 4h0m1 0h0m1-3h0m1-7h0m2 8h0m1 0h0m1 0h0m1 3h0m2 7h0m-1-2h0m0 0h0m0 2h0m0-6h0m0 11h0m-2-3h0m-1-2h0m0 2h0m0-6h0m0 9h0m-1-8h0m0 5h0m-2-7h0m0 4h0m0 2h0m-1-5h0m0 9h0m-1-6h0m0 1h0m0-3h0m0-1h0m0 4h0m-1-1h0m-1-3h0m0-2h0m-1 0h0m-1 7h0m0 2h0m0-6h0m-1 0h0m-1 8h0m-1-10h0m-3 4h0m0-4h0m-2 1h0m-1 1h0m-1 0h0m0-4h0m-1 11h0m-1-4h0m-1-3h0m-1 3h0m-1 0h0m-1-5h0m0 1h0m0 3h0m-1-3h0m0-2h0m0 1h0m0 1h0m-1 8h0m0-3h0m-1-3h0m-1-3h0m0 5h0m0-6h0m-1 7h0m0-3h0m-1 4h0m-1-8h0m-2 8h0m0-4h0m0 3h0m0 0h0m0-5h0m-2-2h0m0 4h0m-1-4h0m0 7h0m-1 0h0m0 3h0m-1-10h0m0 9h0m0-8h0m-1 0h0m0 0h0m0 3h0m-1 3h0m0 3h0m0-3h0m-2 0h0m-1 0h0m0-4h0m-1-2h0m0 0h0m0-2h0m0 9h0m-1-2h0m-1-6h0m0 2h0m-2 5h0m-1-6h0m-1 7h0m0-1h0m-1-1h0m0 2h0m0-6h0m-1 6h0m-2 1h0m-1 1h0m0-9h0m-1 6h0m0 1h0m-1 1h0m-1-7h0m0 2h0m-1 4h0m0-7h0m-1-2h0m0 11h0m-1-3h0m0 3h0m0-11h0m0 5h0m-1 6h0m-2-6h0m0 3h0m-1-8h0m0 3h0m-1 5h0m0 1h0m0-6h0m0 3h0m-1 6h0m0-6h0m0 2h0m-3-4h0m0 6h0m-1-10h0m0 7h0m0-5h0m0 3h0m-1 3h0m-1-3h0m0-1h0m0 6h0m-1-3h0m0-7h0m0 5h0m0 6h0m0-8h0m0 0h0m0 3h0m-1 4h0m-1-6h0m-2 6h0m0 1h0m-1-5h0m0-3h0m-1 2h0m0-3h0m0 10h0m0-7h0m0 0h0m-1-2h0m-1 1h0m0 0h0m0 5h0m-1-7h0m0 5h0m0 4h0m-1-3h0m0-3h0m-2-5h0m-1 12h0m0-3h0m-3-1h0m0 2h0m-2 1h0m-2 0h0m-2-2h0m-1-1h0m-1-3h0m0 4h0m-1 3h0m0-1h0m-1-9h0m0 4h0m-4-2h0m0 0h0m0 1h0m-1-4h0m-1 8h0m0-1h0m-1 0h0m0-2h0m-3-6h0m-1 7h0m0-2h0m-1-4h0m0 9h0m-1-6h0m-1 6h0m-2-7h0m0 7h0m-1-1h0m0 0h0m0-8h0m0 10h0m0-4h0m-1 3h0m0 1h0m-1-10h0m-1 0h0m0 1h0m-3 5h0m-1 0h0m0 3h0m-1-5h0m0-2h0m-2 3h0m0-6h0m0 6h0m-1 1h0m-1 2h0m0-7h0m0 4h0m-1 5h0m-1-1h0m-1 1h0m-1 0h0m0-3h0m0 2h0m-1 1h0m-1-8h0m0 9h0m0-4h0m-1-2h0m0 1h0m-1-2h0m0 4h0m-1 2h0m0-6h0m0-4h0m-1 4h0m0-1h0m0-1h0m-1-3h0m-1 5h0m0 4h0m0-3h0m0 0h0m-2 2h0m-1-5h0m0 3h0m-1 0h0m0-4h0m0 1h0m-1 2h0m0 1h0m-1 1h0m0-1h0m-1 4h0m-5 1h0m-1 1h0m0-5h0m-5-4h0m-1 4h0m-2 3h0m0-9h0m-1 4h0m0 5h0m0-3h0m-2-5h0m0-1h0m0 1h0m-2 6h0m0 1h0m-2-7h0m-2 0h0m0 6h0m-2-3h0m0-1h0m0 2h0m-3 6h0m0-7h0m-2 2h0m0 4h0m-1-5h0m-1-6h0m-1 6h0m-1 1h0m0 3h0m-1-8h0m-1 9h0m-1 0h0m0-4h0m-1 0h0m-1 2h0m0 1h0m-2-3h0m0 4h0m-1-9h0m-1-1h0m0 2h0m0 2h0m0 0h0m-4 2h0m-1 2h0m-1-7h0m-1 6h0m-1-7h0m0 3h0m0-1h0m-1 7h0m0-5h0m-1 1h0m-1 0h0m0-4h0m0 0h0m0 6h0m-1-8h0m0 3h0m0 5h0m0-2h0m-1 4h0m0 1h0m0-3h0m-1-7h0m-1 10h0m0-11h0m-1 11h0m0 0h0m-1-7h0m-1 2h0m-1 1h0m0-6h0m-1 2h0m0 2h0m-1-4h0m0 9h0m0-8h0m-1-1h0m0 8h0m-1-1h0m0-3h0m-1 3h0m0 0h0m0-6h0m-2 8h0m0-5h0m-1 7h0m0-10h0m-1 3h0m-1-3h0m0 7h0m-2-7h0m-1 5h0m-1-1h0m0-4h0m-1 2h0m0-1h0m0 7h0m-1 2h0m-1-6h0m0-1h0m-1 2h0m0 5h0m-1-10h0m0-1h0m0 8h0m0-9h0m-1 10h0m0-3h0m0 4h0m0-5h0m-3-1h0m0 1h0m0 2h0m-4-7h0m0 9h0m-2 2h0m0-3h0m0 3h0m0-1h0m-1-9h0m0 8h0m-2-10h0m0 6h0m0 5h0m-1-2h0m0 0h0m-1 1h0m-1-10h0m-1 5h0m-1 3h0m0 2h0m0-3h0m-1 4h0m0-2h0m0 1h0m0-3h0m-1 3h0m0-3h0m0-5h0m0 8h0m-1-3h0m0-6h0m-1 5h0m0 2h0m-1 1h0m0 3h0m-1-9h0m0-1h0m0 10h0m-3-9h0m-1 8h0m-1-8h0m-1-2h0m-1 11h0m0-2h0m0-8h0m-1 3h0m0-1h0m0 6h0m-1 1h0m-1 0h0m-1-3h0m-1 2h0m-2-10h0m0 10h0m-1-5h0m0-5h0m0 11h0m-1-11h0m-1 2h0m0-1h0m-1 8h0m-1-5h0m0 1h0m0 1h0m0 4h0m-2-9h0m0 6h0m0 1h0m0-4h0m-1-2h0m0 10h0m-2-9h0m-1 5h0m0 2h0m-2-1h0m-2-1h0m-5 11h0m3-1h0m0 3h0m0-3h0m2 0h0m3-1h0m1-2h0m1 6h0m0-3h0m2-1h0m0 2h0m0 4h0m1-3h0m1 3h0m0-1h0m1-1h0m0 2h0m1-1h0m1-8h0m1 4h0m5 0h0m0 0h0m1 5h0m0-7h0m0 5h0m1 2h0m0-10h0m2 6h0m0-2h0m0 5h0m2-8h0m1 9h0m0-1h0m0-7h0m0 6h0m0-9h0m2 12h0m0-5h0m1-3h0m0-2h0m0 5h0m1-4h0m0 6h0m0 2h0m1-9h0m1 2h0m1 6h0m0-6h0m1 5h0m0-5h0m1 5h0m1 3h0m1-1h0m1-11h0m0 0h0m1 10h0m2-5h0m0 0h0m1 0h0m0 2h0m0 5h0m0-8h0m0-2h0m0 1h0m1 8h0m0-5h0m1-4h0m1 9h0m0-10h0m2 3h0m0-3h0m0 6h0m1 4h0m0-6h0m0-4h0m0 2h0m2 3h0m1 3h0m1-7h0m1 5h0m0 3h0m1-1h0m0-5h0m0 1h0m2-3h0m1 2h0m1 2h0m2 4h0m1-5h0m1 0h0m0 4h0m1 2h0m1 0h0m0 1h0m1-8h0m0 8h0m0-6h0m1 1h0m1-2h0m1-4h0m0 8h0m2-2h0m0-2h0m0-4h0m1 3h0m0 8h0m0-9h0m1 8h0m1-5h0m0-2h0m1 5h0m0 0h0m0-7h0m0 5h0m1 1h0m1-2h0m1-5h0m1 2h0m0-1h0m1 0h0m0 3h0m1-5h0m0 6h0m0 3h0m1-5h0m0-1h0m1-2h0m2 10h0m0-5h0m0-4h0m1 8h0m1-4h0m0-4h0m0 0h0m1 5h0m0 1h0m0 0h0m1-8h0m1 4h0m0 3h0m0-2h0m0 0h0m1 0h0m0 0h0m2 5h0m0-3h0m0-5h0m1 0h0m1 5h0m0 2h0m0-4h0m1-5h0m1 5h0m0-3h0m0 5h0m1-5h0m0 2h0m1 6h0m2 2h0m0-12h0m1 7h0m1-2h0m0 0h0m1 5h0m1 1h0m2-6h0m0-4h0m0 4h0m1 2h0m1-3h0m0-1h0m0 0h0m0 6h0m1-8h0m0 5h0m2-4h0m0 6h0m2-4h0m0 7h0m2 0h0m0-2h0m1-7h0m0 0h0m0 9h0m1-9h0m2 2h0m0-2h0m2 7h0m1-6h0m1 3h0m1 0h0m1 3h0m1 3h0m1-10h0m1 2h0m0-4h0m0 9h0m1 2h0m0 1h0m0-2h0m1-1h0m0 1h0m3-4h0m1 6h0m0-3h0m1-2h0m0-5h0m0 5h0m1-6h0m0 6h0m0-4h0m1 2h0m0-3h0m1 8h0m0-4h0m1-2h0m0-1h0m0 0h0m0-1h0m1 0h0m0 8h0m0-6h0m0 4h0m1-1h0m1 0h0m1-5h0m0 3h0m0 5h0m1-8h0m1 8h0m0-4h0m1 0h0m0 3h0m0-2h0m1 3h0m0-8h0m1 6h0m0-1h0m1-3h0m0 0h0m0-2h0m3 10h0m0-7h0m1 6h0m1-3h0m0-1h0m0-1h0m2 1h0m0 1h0m0-1h0m1 3h0m1-6h0m0 6h0m1-4h0m0-3h0m3 4h0m1-2h0m0 1h0m1 2h0m2 1h0m2-3h0m2 3h0m1-9h0m1 10h0m0-9h0m1 10h0m0-5h0m0 2h0m1 2h0m0-4h0m0 2h0m1-4h0m0 0h0m2-2h0m1 1h0m0 6h0m4 1h0m0 1h0m0-6h0m0 3h0m0 1h0m1 0h0m0-6h0m0-2h0m0-1h0m1 11h0m0-4h0m0-6h0m3-1h0m1 6h0m0-1h0m1 2h0m1-2h0m0-2h0m0 3h0m0 0h0m0-3h0m1 2h0m0 5h0m0-6h0m1 1h0m0-4h0m2 8h0m0-2h0m1-7h0m0 1h0m0 7h0m1 1h0m0-9h0m1 3h0m1 4h0m0-1h0m1 5h0m0-10h0m1 0h0m1 4h0m0 3h0m0-2h0m2 5h0m0-7h0m1 2h0m0 0h0m1 5h0m2-4h0m0-3h0m0-2h0m1 3h0m1 7h0m0-8h0m1-1h0m0 2h0m2 6h0m3-10h0m1 2h0m1 5h0m0 1h0m0-5h0m1 7h0m0-3h0m0 2h0m0-9h0m3 1h0m2 10h0m0-3h0m3-6h0m0 5h0m2-4h0m0-1h0m1 4h0m1-1h0m2-3h0m0 1h0m0-3h0m0 8h0m2-9h0m0 11h0m0-8h0m2-1h0m2 0h0m0 0h0m0 5h0m2-5h0m0 4h0m0-3h0m1 2h0m0 5h0m1 1h0m2-6h0m0 2h0m1 2h0m0 2h0m1-8h0m1-3h0m0 9h0m0-8h0m0 2h0m0-1h0m0 9h0m1-8h0m1 2h0m0 2h0m1 4h0m1-5h0m0-5h0m1 6h0m0-4h0m0 6h0m0-3h0m2 1h0m3-1h0m0 4h0m1-9h0m0-1h0m1 0h0m1 5h0m0 3h0m0-8h0m0 9h0m2 2h0m1 1h0m0-2h0m0 1h0m1-11h0m3 5h0m2-2h0m1 6h0m0 1h0m2-6h0m1 7h0m0-6h0m2-3h0m0 5h0m1 5h0m0-2h0m0 0h0m1 1h0m1-7h0m1 1h0m1 4h0m2 2h0m0-1h0m1-9h0m0 1h0m1 6h0m0 3h0m0-9h0m0 1h0m2-2h0m0 11h0m0-3h0m1 2h0m1-5h0m0-6h0m1 3h0m0 7h0m2 2h0m1 9h0m0-5h0m-3 7h0m0-10h0m0 9h0m-1-2h0m-1-3h0m0 3h0m-1-7h0m0 9h0m-1-6h0m-1-2h0m-1 10h0m-1-4h0m0-6h0m-1 1h0m-1 2h0m0 2h0m-3-6h0m0 1h0m-2-1h0m-1 7h0m-1 4h0m-2 0h0m-2-8h0m0-3h0m-2 8h0m-1 2h0m0-7h0m-1 6h0m0-2h0m-1 2h0m-1-5h0m-1 5h0m0-5h0m-1-2h0m-1 1h0m0 0h0m-2 2h0m-1-2h0m-1-1h0m0 5h0m0 3h0m0-7h0m0 0h0m-1 0h0m0 6h0m-1-6h0m0 3h0m-1 1h0m0 0h0m0 2h0m-1-7h0m0-2h0m0 11h0m-1-4h0m0-5h0m-1-2h0m0 5h0m0 4h0m-2-10h0m0 3h0m-1 6h0m0 3h0m0-9h0m0 8h0m0-6h0m0 1h0m-1 5h0m0-4h0m-1 5h0m-1-4h0m0 0h0m-1-4h0m0 1h0m0-4h0m-1 0h0m0 10h0m-1-9h0m0 3h0m0 3h0m-2-1h0m-1 1h0m0-6h0m-1 5h0m0-3h0m-2 6h0m0 2h0m0-8h0m-1 4h0m0 1h0m-2-9h0m-1 2h0m0 1h0m-1 5h0m0-3h0m0-1h0m-2 8h0m0-10h0m0 8h0m-2-4h0m0 4h0m0 1h0m0-7h0m-1 6h0m-1-5h0m0 3h0m0-7h0m0 2h0m-1 5h0m0-4h0m-2-3h0m-1 5h0m-1-2h0m0 7h0m-1 0h0m-1-4h0m0-4h0m0 4h0m-1-3h0m-1-2h0m0 2h0m-1 7h0m-1-2h0m-1 2h0m0-4h0m-2 3h0m0-5h0m-1 2h0m0 3h0m-1-2h0m0-5h0m0 2h0m0 6h0m-1-9h0m0 6h0m0 0h0m-1-7h0m0 7h0m-1-1h0m-1 4h0m-2-6h0m0-3h0m-1 6h0m-1-1h0m0-2h0m-4 2h0m-2-6h0m0 0h0m-1 1h0m-1-1h0m-1 2h0m-1 1h0m-1 0h0m0 4h0m0 3h0m-1 0h0m-2-10h0m0 2h0m-2 7h0m0-5h0m-1 0h0m0 6h0m-2-2h0m-2-8h0m-4 9h0m0-6h0m0 2h0m0-1h0m-1 5h0m0 2h0m0-1h0m-1-4h0m0-2h0m-2 2h0m0 1h0m-1-1h0m-1 5h0m0-7h0m0 4h0m0-8h0m0 10h0m-1 1h0m-1-11h0m0 5h0m-1 4h0m-1-5h0m0-1h0m0-3h0m-1 0h0m-1 10h0m-1 0h0m0-8h0m-1 8h0m0-4h0m-1 0h0m0 3h0m-1-9h0m0 3h0m0 4h0m-1-7h0m-1 10h0m-1 0h0m-1-9h0m-2 0h0m-4 6h0m0 2h0m0 0h0m-1-9h0m0 6h0m-2 4h0m0-9h0m0 0h0m-1 9h0m-1-1h0m-1-1h0m0-3h0m0-2h0m-1-3h0m0 9h0m0-4h0m-1-3h0m0 9h0m0-4h0m0-6h0m-1 1h0m0 5h0m-1-5h0m-1 6h0m0 0h0m0-5h0m-1 2h0m-1 0h0m-1 0h0m0 3h0m0 0h0m-1-3h0m-1-6h0m0 6h0m0-3h0m0 8h0m-1-2h0m-1-1h0m-1 3h0m-1-10h0m0 0h0m-1 0h0m-1 8h0m-2-3h0m0-1h0m0 1h0m0 0h0m-1-6h0m0 10h0m0-3h0m-1 5h0m-2-7h0m0 0h0m-1-3h0m-2-2h0m0 8h0m0-5h0m0 2h0m0-2h0m0 0h0m-1 6h0m0-4h0m-1 1h0m0 5h0m0-9h0m0 1h0m0 4h0m-2-5h0m-1 4h0m0 1h0m-1-1h0m0-3h0m-1-1h0m-1 6h0m0 4h0m-2-6h0m-1-1h0m0-4h0m0 2h0m-1 1h0m-1-1h0m0-1h0m-1 1h0m-4 6h0m0-8h0m-1 9h0m-2 0h0m-1-2h0m0-1h0m-1-3h0m-1 6h0m0-4h0m-1 4h0m-1-6h0m0 4h0m-1-1h0m-1-4h0m0 5h0m0-3h0m0 0h0m-1 5h0m0-8h0m0 5h0m0 1h0m-2-2h0m0-3h0m-1 7h0m0-1h0m-2 0h0m0-5h0m-3 4h0m0-7h0m0 3h0m-1-3h0m-4 3h0m-1 8h0m-2-10h0m0 8h0m-1-7h0m0 4h0m0 3h0m0 1h0m0-7h0m-2 0h0m-1-3h0m-1 4h0m0-2h0m-1 2h0m0 7h0m0-9h0m-1 9h0m0-9h0m0 2h0m0-4h0m0 8h0m-1-6h0m0-3h0m-1 2h0m0 7h0m-1-1h0m-1 3h0m-1-5h0m0 0h0m-1 2h0m0-6h0m0 8h0m-1-7h0m0 2h0m0 4h0m-1 2h0m-1-2h0m0-7h0m0-1h0m-1 4h0m0 3h0m-1-1h0m-2-2h0m-1 1h0m-1-5h0m0 4h0m0-1h0m0-1h0m0 1h0m-1 6h0m-2-6h0m0 5h0m-1-5h0m-1-2h0m0 9h0m0-7h0m-1-1h0m0 3h0m0-4h0m0 0h0m-2 2h0m-1-4h0m0 4h0m0 6h0m-1 2h0m-2-8h0m-1 0h0m0 4h0m-1 3h0m0-11h0m-1 8h0m0 4h0m-1-5h0m0 4h0m0-9h0m-1-2h0m0 12h0m-1-3h0m0 0h0m0 1h0m0-3h0m0-3h0m-1 2h0m0 0h0m-1-3h0m0 2h0m-1 7h0m-1-8h0m0 1h0m0 0h0m0-3h0m-1 1h0m0 1h0m-2 4h0m0 1h0m0-7h0m-3 2h0m0 8h0m0-4h0m-2 2h0m0 0h0m0-4h0m0 1h0m-1 0h0m-2-6h0m0 7h0m-2 2h0m-1-8h0m0 5h0m0-2h0m-1 3h0m0 4h0m-1-12h0m0 4h0m-1 6h0m0-3h0m0-3h0m-1 8h0m0-4h0m-1-1h0m0-7h0m-1 11h0m-1-6h0m0-2h0m-1 6h0m-1 1h0m-1 0h0m0 1h0m0-5h0m0 3h0m-1 2h0m0-1h0m-1-1h0m0 1h0m-2-2h0m0 1h0m0 3h0m-1-5h0m0-6h0m0 10h0m-1-6h0m0 7h0m-2-9h0m-1 20h0m0-2h0m2 2h0m0-6h0m3 1h0m1-5h0m0 3h0m0 2h0m0-6h0m0 9h0m0 0h0m1-2h0m0-6h0m0 5h0m1 1h0m0-5h0m0 8h0m1-5h0m0 0h0m1 1h0m0-1h0m0 5h0m2 2h0m1-9h0m1 8h0m1-4h0m0-6h0m1 3h0m1 6h0m0-2h0m0 0h0m1-6h0m0 1h0m1 5h0m0-3h0m0 7h0m1-6h0m0 4h0m2-3h0m0-6h0m0 8h0m1 1h0m1-5h0m0-4h0m1 4h0m1 2h0m0 0h0m0 5h0m0-8h0m1-1h0m0 1h0m0 5h0m0-7h0m2 7h0m0-4h0m0 0h0m3-5h0m1 5h0m1 6h0m4-10h0m0 8h0m1 1h0m0 0h0m2-9h0m0 10h0m0 1h0m3-9h0m0-2h0m3 1h0m0 8h0m0 0h0m2 1h0m0-7h0m1-3h0m0 0h0m1 4h0m1-3h0m0 1h0m1 7h0m1-2h0m0 0h0m1-2h0m0 5h0m2-1h0m1-3h0m1 2h0m1 1h0m0-7h0m1 5h0m0-6h0m1 8h0m2-7h0m0-2h0m1 1h0m0 4h0m0 3h0m1-5h0m1-3h0m1 0h0m1 1h0m1 4h0m2 0h0m0 2h0m1-5h0m0 1h0m0 1h0m1-4h0m0 8h0m0-1h0m1-5h0m0 2h0m3 5h0m0-7h0m0 4h0m2 2h0m2-6h0m1 1h0m0 8h0m1-9h0m0 2h0m1-1h0m1 2h0m0-2h0m0 6h0m1-8h0m0 5h0m0-2h0m1 4h0m0-6h0m0 7h0m2-8h0m0 6h0m1 0h0m0-1h0m0-5h0m0 10h0m0-10h0m1-2h0m0 11h0m1-6h0m0 1h0m0-4h0m1 8h0m0-5h0m1-2h0m2-2h0m0 6h0m1-7h0m0 5h0m1 0h0m1-4h0m0 3h0m1 4h0m1-4h0m0 0h0m1-4h0m0 9h0m1-1h0m0 1h0m1-7h0m1 0h0m0 2h0m1 5h0m1 0h0m0-5h0m1 1h0m0-4h0m0 1h0m1 7h0m0-1h0m0-1h0m2 2h0m0-7h0m2 8h0m0-7h0m1 7h0m0-2h0m1-5h0m2-1h0m1 5h0m0 3h0m0 1h0m0-6h0m2 0h0m0-4h0m0 4h0m2 2h0m2-6h0m0 8h0m0 1h0m1-7h0m1-2h0m1 10h0m2-9h0m1 2h0m0 8h0m1-8h0m0 5h0m0-7h0m0 3h0m1 4h0m0-1h0m1-2h0m0 4h0m0-3h0m1 0h0m0 2h0m1-9h0m0 12h0m1-10h0m0-1h0m2 8h0m0-6h0m1 2h0m0-5h0m0 7h0m0 0h0m2-2h0m2-1h0m0 3h0m0 5h0m0-1h0m1-9h0m0 6h0m0 2h0m2-9h0m1 7h0m0 2h0m0 0h0m1 2h0m1-2h0m0 1h0m1-7h0m0-1h0m1 2h0m0 0h0m1 0h0m0 6h0m0-5h0m2 0h0m1-6h0m1 8h0m1-7h0m0 10h0m3-1h0m0-6h0m0 2h0m2-3h0m0 2h0m1-2h0m1 9h0m1-6h0m0 4h0m0 2h0m2-11h0m1 10h0m0 0h0m2-8h0m1-1h0m0-1h0m0 7h0m0 1h0m0-5h0m1 4h0m0-1h0m1-3h0m1-3h0m1 1h0m0 8h0m0-9h0m0 2h0m1 0h0m0 3h0m0-5h0m2 10h0m0-10h0m1 7h0m0 4h0m0-7h0m1 1h0m1 3h0m1-1h0m0 2h0m1-8h0m0 6h0m0 0h0m0-3h0m2 5h0m0-5h0m1 6h0m3-3h0m2-5h0m0 2h0m1 0h0m1 0h0m0 7h0m0-1h0m0-9h0m1 8h0m0 0h0m1 1h0m1 0h0m2-10h0m2 0h0m1 5h0m1-5h0m0 2h0m1 9h0m0-3h0m0-4h0m0-1h0m0 0h0m0 0h0m0 0h0m2-3h0m2 3h0m0 5h0m2-2h0m1 0h0m0-1h0m1 4h0m1-6h0m2 4h0m0-1h0m1-3h0m0-2h0m0 0h0m1 0h0m0 7h0m0-8h0m1 0h0m0 8h0m1-2h0m1-4h0m0 8h0m1-9h0m0 0h0m1 3h0m0-4h0m1 4h0m0-4h0m1 4h0m0 4h0m0-1h0m0-5h0m2-1h0m3 8h0m0-4h0m2 5h0m0-6h0m1 3h0m0-1h0m0 5h0m1-12h0m0 12h0m1-6h0m2 4h0m1 2h0m1-5h0m0 1h0m0 3h0m1-4h0m0-7h0m0 12h0m0-12h0m1 5h0m1 5h0m0-9h0m1 1h0m1 2h0m0-3h0m0 8h0m0-2h0m1-6h0m0 5h0m1 4h0m0-2h0m0-8h0m0 6h0m0-5h0m1 3h0m0-3h0m0 8h0m3-5h0m1-4h0m0 3h0m1 1h0m1 7h0m0-10h0m0 2h0m0 7h0m0-9h0m2 4h0m0-2h0m2 7h0m2 1h0m1-11h0m2 5h0m0 6h0m0 0h0m1-2h0m0 3h0m0-4h0m1 0h0m0-4h0m1 6h0m0 2h0m1-1h0m0-9h0m0 9h0m0-7h0m1 4h0m1 1h0m1-8h0m0 4h0m0 0h0m1-1h0m0 7h0m0-10h0m0 0h0m2 4h0m0 4h0m0-5h0m1 1h0m0-2h0m0 8h0m1-11h0m1 10h0m1-7h0m2 8h0m0-2h0m1 1h0m2 0h0m0-7h0m1-1h0m0 1h0m0 0h0m2 8h0m1-5h0m0 4h0m0-8h0m1 1h0m2 0h0m1 3h0m0-1h0m0-2h0m1-2h0m0 6h0m0-1h0m0 2h0m0 3h0m1-8h0m1 1h0m0 1h0m1 6h0m0-10h0m0-1h0m1 1h0m1 8h0m0 2h0m1-4h0m0-6h0m0 2h0m1 11h0m-1 2h0m-1-3h0m0 9h0m-1-9h0m-2 6h0m0-4h0m0 7h0m0-4h0m-1-3h0m0 5h0m-1-7h0m-1 9h0m0-9h0m-2 11h0m-1-3h0m-1-2h0m-1-7h0m-1 5h0m0 5h0m-2 1h0m0-10h0m-2 0h0m-1 11h0m-1-2h0m-1-8h0m-1 2h0m0 6h0m0-1h0m-1-1h0m0 3h0m0-9h0m-1 9h0m0-5h0m0 5h0m0-5h0m-1-5h0m0 5h0m-1 4h0m-2-7h0m0-2h0m-1 10h0m0-11h0m-2 3h0m0 1h0m0 0h0m0-3h0m0 1h0m-1 8h0m-1-9h0m-2 6h0m-1 0h0m0 2h0m0-3h0m0-5h0m-1 1h0m0 4h0m0 6h0m-1-4h0m-1 4h0m0-11h0m-2 9h0m-2 1h0m0 1h0m-1-7h0m-1-2h0m-2 2h0m0-2h0m-1-2h0m0 2h0m0 3h0m0-1h0m-2 0h0m-1-4h0m0 9h0m0-10h0m0 1h0m0 3h0m0 2h0m-3-5h0m0 2h0m0-1h0m0 0h0m-2 7h0m0-5h0m-2 5h0m0-2h0m-2 5h0m0-3h0m0-7h0m0 0h0m-1 5h0m-1-4h0m-2 5h0m0-1h0m-2 4h0m-1-7h0m-1 8h0m0-10h0m-2 5h0m0-6h0m-1 3h0m-1 6h0m-1-4h0m-2 0h0m0-2h0m-1 2h0m0 2h0m-1-2h0m0 6h0m-1-11h0m0 4h0m0-2h0m0 1h0m-2 0h0m-1-2h0m0 2h0m-2 7h0m0-7h0m-1 3h0m0 0h0m0 1h0m0 0h0m0-4h0m0 1h0m-1 1h0m0-5h0m-2 5h0m-1 2h0m0-1h0m-2 3h0m0-10h0m0 3h0m-1-1h0m0 3h0m0-5h0m-1 3h0m0 2h0m0 7h0m0-1h0m-1-10h0m0 5h0m-1-4h0m0 7h0m-1 1h0m0-7h0m0 7h0m-1-6h0m0-2h0m-2-1h0m0 0h0m-2 5h0m0 4h0m0-5h0m-1-1h0m-1-2h0m0 0h0m0 3h0m-1-3h0m-1 5h0m-1 5h0m-2-5h0m0 1h0m0 1h0m-1-2h0m-2-4h0m0-2h0m-1 4h0m-1-4h0m-3 0h0m-3 11h0m-1-5h0m0 3h0m-1-10h0m0 2h0m0 1h0m-2 7h0m0-9h0m0 9h0m-1-5h0m0 6h0m0-6h0m-1 1h0m0-5h0m-1 2h0m-1 8h0m0-6h0m0 4h0m-1-4h0m-1-2h0m-2 4h0m-1-3h0m-1 2h0m0-2h0m0 2h0m-1-1h0m-1-1h0m0-2h0m0-1h0m0 6h0m0 3h0m-1-10h0m-1 5h0m-1 4h0m-2 2h0m0-4h0m0 3h0m-1-7h0m0 4h0m-2-4h0m-1 7h0m0 0h0m0 2h0m-1-1h0m0-5h0m-1-6h0m0 2h0m0 4h0m-2-3h0m-1 1h0m0 7h0m-2-3h0m0-6h0m-1 4h0m0 2h0m0-5h0m-1 1h0m-1-1h0m-1-3h0m0 7h0m-3-6h0m0 8h0m-8-2h0m0-2h0m0 6h0m-1-3h0m-1-7h0m0 0h0m0 9h0m0-2h0m-1-4h0m0-2h0m-1 6h0m-1 3h0m-1-8h0m-1 3h0m0-3h0m-1 6h0m0-6h0m0 7h0m-1-3h0m0 3h0m-1-8h0m0-1h0m0 7h0m0-7h0m0 3h0m-1-1h0m0 9h0m-1-10h0m0 0h0m-1 5h0m0 0h0m-1-5h0m0 0h0m-1 4h0m0 1h0m0-4h0m-1 3h0m0-1h0m-1 4h0m-1 2h0m-2-11h0m-2 5h0m0-2h0m-1 2h0m0-1h0m0 2h0m0 1h0m0-2h0m-1 6h0m0-9h0m0 0h0m-1 2h0m-1-3h0m-2 0h0m-1 6h0m-2 3h0m0-4h0m-1 3h0m0-1h0m-2-4h0m0 7h0m-1 0h0m-1-1h0m0-5h0m-1 5h0m-1-5h0m-3 2h0m-2 1h0m-1-7h0m-1 3h0m-1 2h0m-1-5h0m0 2h0m0 6h0m-1-5h0m0 2h0m0 1h0m-1 0h0m0 1h0m0-4h0m-2 7h0m0-7h0m-1-2h0m0 4h0m0 0h0m-1-5h0m0 6h0m-1-1h0m0 1h0m-1-4h0m0-2h0m-2 7h0m-1-7h0m0 6h0m0-6h0m-1 6h0m-2 4h0m0-7h0m0 2h0m-1-2h0m0 3h0m-1-7h0m0 9h0m-1-4h0m0-2h0m-1 8h0m-2 0h0m-1-4h0m0-6h0m0 4h0m-1 1h0m0-1h0m0-1h0m-1 7h0m-2-5h0m0-1h0m0 2h0m0 3h0m-1-5h0m0 3h0m0 4h0m-2-3h0m0 2h0m0-8h0m-1 3h0m0-3h0m0 7h0m0-4h0m-1-4h0m-1 5h0m0-1h0m-1 4h0m0-7h0m-1-1h0m-1-1h0m0 1h0m0 4h0m0-6h0m0 7h0m-1 0h0m-2-6h0m-1 5h0m-1 4h0m0-3h0m-1-4h0m0 4h0m0 1h0m-1-4h0m-1 3h0m0-5h0m0 4h0m-1 6h0m0-2h0m-1-7h0m-1 3h0m0-6h0m0 4h0m0 3h0m-3 0h0m0 2h0m-1-8h0m-1 10h0m0-10h0m0 9h0m0-3h0m-2 1h0m-1-2h0m-1 3h0m0-3h0m0 3h0m0-1h0m-1-6h0m-1 4h0m0 5h0m-1-9h0m0 6h0m0 0h0m-1-1h0m-1-4h0m-1 1h0m0 8h0m0-9h0m-1-2h0m-1 6h0m0 2h0m0 0h0m0-8h0m-1 5h0m-1-6h0m-1 6h0m0-3h0m-1-1h0m0 10h0m0-2h0m-2-1h0m-1-7h0m-1 4h0m-1 4h0m0 0h0m0 1h0m-1-5h0m-2-5h0m-1 2h0m-1-3h0m-1 11h0m-1-4h0m-1 5h0m-2-9h0m6 18h0m1-4h0m0 3h0m0-6h0m0 9h0m0-9h0m2 7h0m1-5h0m1 0h0m0 1h0m1 1h0m0 2h0m0-2h0m2 5h0m0-8h0m0 6h0m1-6h0m0 1h0m0 0h0m0 6h0m1 0h0m2 2h0m1-8h0m1 0h0m2 6h0m0-5h0m0-4h0m1 9h0m1-7h0m0 2h0m1 3h0m2-5h0m0 7h0m1-10h0m0 3h0m1-2h0m0 3h0m1 7h0m0-6h0m1 0h0m0 1h0m0-3h0m1-3h0m0 11h0m0-7h0m0 5h0m1-1h0m1 4h0m1-1h0m1 0h0m0-4h0m1-5h0m0 10h0m1 0h0m0-4h0m1 0h0m1 3h0m1-8h0m0-1h0m1 1h0m0 2h0m1-3h0m0-2h0m1 4h0m0 1h0m0 4h0m0-1h0m1 0h0m1-3h0m0 1h0m1 1h0m0-3h0m0-2h0m1 1h0m0 3h0m1 4h0m1-6h0m0 0h0m0 5h0m1 1h0m0-3h0m0 1h0m0-2h0m1-6h0m1 1h0m0 3h0m0 4h0m1 2h0m0-1h0m0-5h0m1 5h0m0-1h0m1-6h0m0 4h0m2 1h0m1-4h0m0 3h0m3-4h0m0 5h0m0 1h0m0 0h0m1 0h0m1 0h0m0-6h0m0 6h0m3-2h0m1-1h0m2 0h0m1-1h0m1 0h0m0-3h0m1 3h0m0 6h0m0-2h0m1-7h0m0 7h0m1 1h0m0-7h0m0-1h0m0 2h0m0 8h0m0-5h0m1-4h0m0 10h0m1-1h0m0-4h0m0-1h0m0-1h0m1-1h0m0 3h0m1 3h0m1-1h0m0-1h0m1 1h0m1-3h0m0 1h0m2-6h0m3 1h0m0 0h0m3 7h0m0-8h0m1 0h0m1 8h0m1 1h0m1-6h0m0 2h0m2 1h0m0 2h0m0-5h0m2-1h0m0 2h0m2 5h0m0-4h0m1 0h0m0 6h0m1-10h0m0-1h0m0 2h0m1 1h0m0 2h0m2 3h0m3 3h0m0-3h0m0 0h0m0-2h0m0-3h0m2 2h0m1 2h0m0-3h0m1 5h0m0 1h0m2-1h0m0 0h0m2 2h0m0-5h0m1-4h0m1 0h0m0 2h0m1 4h0m1-4h0m0 3h0m0 2h0m1-7h0m0 8h0m1-2h0m1-5h0m1 4h0m4-3h0m0-2h0m0 0h0m1 8h0m3-2h0m0-2h0m1-3h0m1-3h0m0 11h0m1-1h0m0-5h0m0-5h0m2 10h0m1-7h0m1 6h0m0-6h0m0-2h0m1 7h0m1-3h0m2 6h0m1-6h0m2-6h0m0 8h0m1 0h0m0-4h0m2 1h0m0 0h0m1 2h0m0-4h0m1 5h0m1 4h0m0-8h0m0 7h0m1-6h0m1 7h0m0-4h0m0 3h0m1-8h0m1-2h0m1 0h0m0 10h0m2-2h0m0-7h0m1 7h0m0-5h0m0-2h0m1 3h0m1 5h0m1-6h0m1 4h0m0 4h0m0-3h0m1-8h0m1 1h0m0 5h0m2-4h0m0 6h0m0-7h0m1 9h0m0-10h0m0 2h0m1-1h0m0 10h0m1-5h0m0-2h0m1 4h0m0-4h0m0 2h0m3-1h0m0 5h0m0-2h0m1 2h0m1-6h0m0 1h0m1 2h0m1-6h0m1 7h0m0-7h0m0 8h0m1-5h0m1-2h0m0 5h0m0-2h0m2-2h0m0 3h0m3-4h0m0 6h0m1 0h0m1-6h0m0 2h0m1 0h0m0 5h0m0-7h0m1 9h0m0-6h0m2-3h0m0 3h0m0-5h0m0 7h0m1 3h0m1 1h0m1-10h0m3 7h0m1-5h0m3 3h0m1 0h0m1-2h0m1 3h0m0 3h0m1-8h0m3 9h0m1-11h0m1 1h0m0 5h0m0-3h0m1 5h0m0-9h0m1 4h0m0-3h0m1 7h0m0-3h0m0-2h0m1 6h0m0-2h0m1 3h0m0-3h0m2 4h0m0-5h0m1 4h0m2-6h0m1 4h0m1 2h0m1 1h0m0-5h0m1-3h0m0 0h0m1-3h0m0 4h0m0 5h0m0-5h0m0 8h0m2-1h0m0-9h0m0-1h0m1 6h0m1-4h0m0-1h0m4 10h0m1-9h0m1 5h0m0-3h0m0 4h0m1-8h0m2 4h0m0 3h0m0 0h0m0-1h0m1 5h0m1-5h0m0 5h0m2-11h0m2 9h0m1-5h0m0 5h0m1-6h0m5 6h0m1 2h0m1-9h0m0 1h0m0 1h0m0-1h0m1 8h0m1-5h0m1-4h0m1 1h0m0 2h0m1 0h0m1-4h0m1 2h0m0 0h0m0 1h0m0-5h0m1 5h0m0-2h0m1 3h0m1-1h0m1-4h0m1 5h0m3 3h0m1-6h0m1-1h0m0 3h0m0 2h0m1 2h0m1-5h0m0-2h0m1 7h0m1-5h0m0-2h0m1 1h0m0 4h0m1 4h0m1-1h0m0-8h0m1 9h0m0-8h0m0 9h0m0-2h0m1 1h0m1-6h0m1-1h0m1 5h0m0-4h0m1 2h0m1-1h0m1-2h0m1-4h0m-3 15h0m-1-1h0m0 3h0m-1 0h0m-2-4h0m0 7h0m-1 4h0m-1-9h0m0 5h0m-1-2h0m0-2h0m0-3h0m0 5h0m-1-3h0m0 5h0m0-7h0m-1 6h0m0 4h0m0-6h0m-1 5h0m0-2h0m-1-1h0m0 2h0m-1 2h0m0-10h0m0 9h0m0-6h0m0 6h0m-1 0h0m-1-5h0m0-3h0m0 0h0m-1 6h0m0-5h0m-1-3h0m0 6h0m0-5h0m-1 1h0m-1 4h0m0 2h0m0-6h0m-2 3h0m-1 3h0m0 1h0m0-4h0m-1 6h0m0 1h0m0-4h0m0 2h0m0 1h0m-2-10h0m-1 0h0m0 2h0m-1 2h0m0 5h0m0-2h0m-1 1h0m0 3h0m0-9h0m-1 2h0m0 4h0m0-1h0m-1-2h0m0 0h0m-1 0h0m-2 0h0m0-4h0m0 4h0m0-5h0m0 4h0m-1 6h0m0-2h0m0-2h0m-2-1h0m0 3h0m0-4h0m0-1h0m-1 2h0m-1-4h0m0 8h0m-1 0h0m0-8h0m0 3h0m-1-4h0m0-1h0m-2 12h0m-1-3h0m0-4h0m-1 2h0m-1-4h0m-1 8h0m0-9h0m-1 0h0m0 2h0m-2 0h0m-1 2h0m0-1h0m0-1h0m0 5h0m0-4h0m-1-4h0m0 0h0m-2 11h0m0-11h0m-1 9h0m-1-5h0m0 5h0m0 2h0m0-10h0m-1 5h0m0-5h0m0 5h0m0-7h0m0 8h0m0-6h0m-1 7h0m-1-8h0m0 6h0m-2-7h0m-1 3h0m0 3h0m-1-6h0m-1 2h0m0 5h0m0 2h0m-1-8h0m0 5h0m-1 6h0m-1 0h0m-1-3h0m0-9h0m-1 10h0m0-5h0m0-4h0m0 5h0m-4 5h0m0-4h0m0-3h0m-2 6h0m-1-3h0m-2-4h0m0 0h0m0 9h0m-1-10h0m0 1h0m0 8h0m-1-4h0m-2-2h0m0 3h0m0 4h0m-1-5h0m-1-3h0m-1 0h0m0 4h0m-1 3h0m-1-10h0m-1-1h0m0 7h0m-1-2h0m0-4h0m0 8h0m0-8h0m-1 10h0m0-3h0m-1 0h0m0 2h0m0-4h0m0-6h0m0 9h0m-1-5h0m-1-3h0m-2 5h0m0-5h0m0 6h0m-1 5h0m-1-6h0m0-6h0m0 6h0m-2-3h0m0 6h0m-2-8h0m0 6h0m-1 0h0m-1 4h0m0-11h0m-1 3h0m0 4h0m-1-3h0m0 6h0m0-2h0m-1-6h0m-2 9h0m-1-4h0m-1-2h0m-1 4h0m0-2h0m0-6h0m-1-1h0m-1 8h0m-1 1h0m-1-5h0m0 4h0m-1-7h0m-1 3h0m-1-1h0m-1 7h0m0 1h0m0-10h0m-2 1h0m0 5h0m0-2h0m-2 1h0m-1-1h0m-1 4h0m0-9h0m0 12h0m-1-3h0m-1-7h0m-3 6h0m-1-1h0m-1-4h0m-1-3h0m0 9h0m0-9h0m0 9h0m-2-7h0m-1-1h0m0 10h0m0-9h0m0 0h0m-1 3h0m-1 1h0m0-4h0m-1 1h0m0 6h0m-1-2h0m0 0h0m-1 1h0m-2-2h0m0 1h0m-2 2h0m0-1h0m-2-7h0m0 10h0m0-7h0m-3 0h0m0 4h0m-2 3h0m0-2h0m-1 2h0m-1 1h0m-1-4h0m-2-1h0m0 0h0m-1 2h0m-1-2h0m-4-2h0m0 4h0m0-7h0m-1 9h0m0-1h0m0-4h0m-2-2h0m-1 8h0m0-3h0m-1-6h0m-1 1h0m-1-1h0m0-1h0m-1 5h0m-2-2h0m-2-2h0m0 0h0m0 1h0m-2 7h0m0-3h0m-1-6h0m-1 5h0m-1-1h0m-1 4h0m-1 2h0m0-9h0m-1 2h0m0 2h0m0 1h0m-1 1h0m-1-5h0m0 2h0m0-1h0m0 0h0m0-1h0m-1 4h0m0 4h0m0-2h0m-1 2h0m0-11h0m0 8h0m-2 1h0m0-2h0m0 1h0m-1-8h0m0 0h0m0 11h0m-1-1h0m0-3h0m-1 1h0m0-4h0m0-5h0m-1 10h0m-1-3h0m0-1h0m-1-1h0m-1-2h0m0 7h0m-4 2h0m0-11h0m-1 2h0m0-1h0m0 6h0m-1-5h0m0 7h0m0-3h0m0-6h0m-2 2h0m0-2h0m-1 6h0m0 1h0m0-1h0m-1 1h0m0 3h0m0-8h0m0 1h0m0 3h0m-1 0h0m-1 5h0m0-8h0m0 5h0m0-7h0m0 8h0m-1-1h0m0-2h0m-1-1h0m0 2h0m0-6h0m-1-1h0m0 10h0m-1-8h0m-1 5h0m0 1h0m-1 3h0m-1-11h0m-1 3h0m-1 7h0m-2-9h0m-1 0h0m0-1h0m0 1h0m0 9h0m-2-6h0m-1 5h0m-1-4h0m0-4h0m-1 0h0m0 0h0m0 0h0m-2-1h0m0 6h0m0-6h0m-1 11h0m0-2h0m-1-2h0m0 3h0m-1-7h0m0 5h0m-1 1h0m0-1h0m0-4h0m-1 0h0m0 3h0m-1-7h0m0 8h0m0 1h0m0-8h0m-1 3h0m-1-2h0m-2 0h0m0 3h0m0 0h0m-2 0h0m-1-1h0m0-2h0m-2 7h0m-1-2h0m0 3h0m0-10h0m-1 4h0m0 5h0m0-4h0m0-1h0m-2-3h0m0-1h0m0 8h0m0-8h0m-1 10h0m-1-10h0m-1 2h0m0 1h0m0 5h0m0-4h0m-1 6h0m0 0h0m0-3h0m-1-1h0m0-2h0m0 6h0m-1-9h0m0 2h0m-1 0h0m-1-3h0m0 9h0m-1-3h0m0 0h0m-2 0h0m0-3h0m-1-2h0m0 10h0m-1-9h0m-1 7h0m0-7h0m-1 4h0m0 3h0m-1-10h0m0 1h0m-1 9h0m-3-4h0m-2 5h0m0 0h0m-1-4h0m0 0h0m0-6h0m0 3h0m-1-1h0m0-1h0m0-1h0m0 10h0m-1-8h0m0-2h0m-1 7h0m-1 0h0m0-5h0m-1 0h0m0 0h0m0-2h0m0 7h0m0-2h0m-3 3h0m4 7h0m2 2h0m0-2h0m2 4h0m1-4h0m0 4h0m1-6h0m1 4h0m0-1h0m1 5h0m1-6h0m0 2h0m0 3h0m0-7h0m1 5h0m1 4h0m1-9h0m0 5h0m0 0h0m0 0h0m1-2h0m0-1h0m0 6h0m1 2h0m0-10h0m0-1h0m1 1h0m0 8h0m0-2h0m1-4h0m1 2h0m0 5h0m1-5h0m0 0h0m2-3h0m1-1h0m4 9h0m0 0h0m0-3h0m1 1h0m0-6h0m0 1h0m2 2h0m0-2h0m2 8h0m0-3h0m0-3h0m1 1h0m0-7h0m3 3h0m1 1h0m0 1h0m1-5h0m2 2h0m1 10h0m0-9h0m0 6h0m2-2h0m0 5h0m1-2h0m0 0h0m1-10h0m0 12h0m0-9h0m1 0h0m0 0h0m1 9h0m0-3h0m1-3h0m1-2h0m1 1h0m0-2h0m0 9h0m0-5h0m1 2h0m0-6h0m2 0h0m2 3h0m1-1h0m1 6h0m1-9h0m0 3h0m2 7h0m1-2h0m0-2h0m0-5h0m0 3h0m1 3h0m0-2h0m0 4h0m1-7h0m0 1h0m0 4h0m1-8h0m0 11h0m1-7h0m0 0h0m1 5h0m0-10h0m0 5h0m0 6h0m1-11h0m0 11h0m0-4h0m0-7h0m1 0h0m1 5h0m0-3h0m2 8h0m0-4h0m5 1h0m0-7h0m1 3h0m1 1h0m0 7h0m0-5h0m1 3h0m0 1h0m1-2h0m0-5h0m1 6h0m2-7h0m0-1h0m1 4h0m2-2h0m0 6h0m0-1h0m1 2h0m0-9h0m1 4h0m1-1h0m0-3h0m1 7h0m1-3h0m0 5h0m1 1h0m0-1h0m1-6h0m1 3h0m0-1h0m0 4h0m0-3h0m1-4h0m1-1h0m0 5h0m1-2h0m0-3h0m2-1h0m0 4h0m1-3h0m0 0h0m0-1h0m0 3h0m0 3h0m3-5h0m0 2h0m1-3h0m0 2h0m1 7h0m0-7h0m0-2h0m1 10h0m0-9h0m1 0h0m0 5h0m0-4h0m2 0h0m0 0h0m1-1h0m1 1h0m0 6h0m3-5h0m0 3h0m1-5h0m1 9h0m0-6h0m1 0h0m1 4h0m0 1h0m0-9h0m1 1h0m0 3h0m0 2h0m1-5h0m0 9h0m1-10h0m0-1h0m1 7h0m0 0h0m1-6h0m2 8h0m1-4h0m1 5h0m0-6h0m0 4h0m1 0h0m3-1h0m0-7h0m0 6h0m0-1h0m1-4h0m1-1h0m2 4h0m0-3h0m0 6h0m0-4h0m1 7h0m0-8h0m1 2h0m1 6h0m0 1h0m0-9h0m1-1h0m1 5h0m0 3h0m0-5h0m0-2h0m0 2h0m0 7h0m2-3h0m1-6h0m0 10h0m1-7h0m1-3h0m0 4h0m0-1h0m1 6h0m2 1h0m0-10h0m0 6h0m1 2h0m1 2h0m1-9h0m0 4h0m0-2h0m1 0h0m0-2h0m0 7h0m0 0h0m1-1h0m0-6h0m0 8h0m0 0h0m1-3h0m1 2h0m1 0h0m0-1h0m1-3h0m4 1h0m1-5h0m0-1h0m0 7h0m1-7h0m3 0h0m0 11h0m1-4h0m1-5h0m1 0h0m0 6h0m0-5h0m2-3h0m3 9h0m0-3h0m2 2h0m0 3h0m1-2h0m0-6h0m0 1h0m1 2h0m1 4h0m2-9h0m0 3h0m0 6h0m0 0h0m2-6h0m0-1h0m0 7h0m0-5h0m3 4h0m2-7h0m0 0h0m1 5h0m0 3h0m1-10h0m1 9h0m1-8h0m2 9h0m0-8h0m1 3h0m1-1h0m2-3h0m0 7h0m1 0h0m0-8h0m0 3h0m3 0h0m0-1h0m0 2h0m1-4h0m0 10h0m0-8h0m1 5h0m0-7h0m0 5h0m0 3h0m1-4h0m0 6h0m1-4h0m1 3h0m1-4h0m1 6h0m0-2h0m2-9h0m0 4h0m0 3h0m2-3h0m0 4h0m0-7h0m1 2h0m1-1h0m0 0h0m2-3h0m1 0h0m1 12h0m0-1h0m1-9h0m0 2h0m1 3h0m1 2h0m1 1h0m2 0h0m0-4h0m0-6h0m2 2h0m1 1h0m1 8h0m0-9h0m0-1h0m1 10h0m2-3h0m1 3h0m0 0h0m0-1h0m1-4h0m1-6h0m1 2h0m0 7h0m1-4h0m0 4h0m0-7h0m1 1h0m0 5h0m0-8h0m1 9h0m1-8h0m0 1h0m0 8h0m1-3h0m0-5h0m1 9h0m0-1h0m0-10h0m1 11h0m0 0h0m0-11h0m0 3h0m2 0h0m0-1h0m1 0h0m0 10h0m0-2h0m0 1h0m1-8h0m0-2h0m1 7h0m0-3h0m1 6h0m1-1h0m0-5h0m0 2h0m0-3h0m0 1h0m0 3h0m1-2h0m1 1h0m1 4h0m0-6h0m0-1h0m0 1h0m1 0h0m0 4h0m0-6h0m1 4h0m0 4h0m0-5h0m0 1h0m0-4h0m0-1h0m1 0h0m1 3h0m0 6h0m1-11h0m0 11h0m2-7h0m0-3h0m0 3h0m0-1h0m1 0h0m0-1h0m0 1h0m0-1h0m2 2h0m0 0h0m0-2h0m1 7h0m0 2h0m0-9h0m0 2h0m1 1h0m0 1h0m1 5h0m1-6h0m1-4h0m-6 13h0m-1 7h0m-2 2h0m-1-1h0m-1-7h0m-2 4h0m0-6h0m0 7h0m0-7h0m-1 5h0m0-5h0m-1 3h0m0 2h0m0 2h0m0-7h0m0 5h0m0 1h0m-1-6h0m0 1h0m0 3h0m0-1h0m-3-1h0m0 0h0m-2 8h0m0 0h0m-2-4h0m0-2h0m-1 0h0m0 4h0m0-3h0m-1 1h0m-1 3h0m-1-10h0m-4 12h0m-2-8h0m0 5h0m-1-4h0m-2 7h0m0-3h0m0-7h0m-1 1h0m0 3h0m0-3h0m-1 5h0m0 1h0m-2-8h0m0 11h0m-1-3h0m0-7h0m-1 6h0m0-7h0m-1 2h0m-1 5h0m0-5h0m-2 1h0m0 7h0m0-2h0m-1-2h0m-4-5h0m-1 0h0m-1 0h0m-2 9h0m-1-3h0m-1-1h0m-1 2h0m0-9h0m-1 5h0m0 1h0m0 0h0m0-5h0m-3 10h0m0-7h0m-1 5h0m0-5h0m-3-2h0m-1 6h0m0 4h0m0-1h0m0-9h0m0 1h0m-1 5h0m-1-8h0m-1 8h0m0-7h0m-2 9h0m-1-7h0m-1 9h0m-1-1h0m-1 1h0m-1-8h0m0 1h0m0-2h0m0-3h0m-2 7h0m0-1h0m0 4h0m0-6h0m-1 7h0m-2-8h0m0 0h0m-1 6h0m0-4h0m-1-4h0m-1 0h0m0 6h0m0 0h0m0-7h0m-2 5h0m0 3h0m-1-5h0m0-2h0m-1 4h0m0-3h0m-2 5h0m-1-7h0m-2 5h0m-1 3h0m0 4h0m-1-4h0m-1-3h0m0 2h0m-1 1h0m0 0h0m-1 2h0m-1-1h0m0 2h0m0-2h0m0 1h0m-1-7h0m0-2h0m-1 7h0m0-2h0m0 0h0m-1-2h0m0 3h0m-1 1h0m-1-2h0m-1 0h0m0 0h0m-1 5h0m0-6h0m0-2h0m-2 5h0m0 0h0m0 3h0m-1-5h0m0-2h0m-1 5h0m-1-3h0m0 0h0m-1-5h0m-1 8h0m-2-5h0m0 0h0m0 1h0m-2-4h0m-1 4h0m-2-3h0m-1-2h0m0 10h0m-2-3h0m-3-1h0m-2 1h0m0-6h0m-1 10h0m0-10h0m-2 7h0m0 2h0m-1-5h0m0-3h0m-1 7h0m-1-3h0m0 0h0m0-4h0m0 7h0m-3-4h0m0 7h0m0-9h0m-1 6h0m-1-5h0m0 0h0m-1 6h0m0-3h0m0-2h0m-1-3h0m0 6h0m0-2h0m-1-2h0m-1 7h0m-1-2h0m0 2h0m-1-7h0m0 5h0m0 0h0m-1-3h0m0 4h0m-1-1h0m0 2h0m0-5h0m-1-1h0m0 2h0m-1-3h0m-2-3h0m-1 5h0m-1 2h0m0 0h0m-1-5h0m-1-1h0m0 4h0m-1-3h0m-1 2h0m0-2h0m-1 1h0m0 8h0m0-4h0m-1-4h0m-1 0h0m-2 7h0m-2 0h0m0 1h0m0-6h0m-1 3h0m0 0h0m-1-1h0m-1-7h0m0-1h0m0 2h0m-1-1h0m0 1h0m0 1h0m-1-2h0m-1 8h0m0 1h0m-1-10h0m0 1h0m-1 2h0m0 2h0m0-2h0m-1 9h0m0-6h0m-2-2h0m0 7h0m-1-11h0m0 3h0m-1-3h0m-2 6h0m-2 2h0m-1-2h0m-1-5h0m0 9h0m-5-8h0m0 8h0m-1-3h0m-1-4h0m-3 4h0m-1 4h0m-2-7h0m-1 4h0m-1-2h0m0 3h0m-1 2h0m0-3h0m-1 0h0m0-4h0m-1 8h0m0-7h0m0 6h0m0-9h0m-1 5h0m0 2h0m-2-5h0m-1 4h0m-2-5h0m0 6h0m0-1h0m0 3h0m-1-9h0m0 5h0m0 2h0m0-4h0m-1-4h0m-1 10h0m0-11h0m-1 2h0m-1 4h0m-2-4h0m-1 2h0m-1 2h0m-2 2h0m-1-1h0m0-4h0m-3-1h0m0 7h0m0-5h0m-1-3h0m-1 9h0m0 0h0m-1-4h0m0 2h0m0-3h0m-2-5h0m0 11h0m-1-3h0m0-5h0m-1 6h0m-2-9h0m0 3h0m-1-3h0m0 0h0m0 7h0m-1-7h0m-1 9h0m0-4h0m0 5h0m0 1h0m0-6h0m-2 2h0m-1-5h0m0 5h0m-1 2h0m0-1h0m-2-7h0m0 10h0m0 1h0m-3-5h0m0 4h0m-1-5h0m0 4h0m0-7h0m-2-1h0m0 10h0m0-8h0m-1 5h0m0-5h0m0 6h0m0-1h0m-1 2h0m-1-4h0m0-2h0m-1-3h0m-2 9h0m0-7h0m-1-4h0m-1 7h0m-1-7h0m-1 3h0m-5 0h0m-1 1h0m0-3h0m0 3h0m15 9h0m1 2h0m4-1h0m0 0h0m0 1h0m1-2h0m2 5h0m1-5h0m1 2h0m1-2h0m0 0h0m0 2h0m0 4h0m2-2h0m1 4h0m1-8h0m0 4h0m0-2h0m0 4h0m1-1h0m3 2h0m0-8h0m1 11h0m0-9h0m1-1h0m0 4h0m1-2h0m0 4h0m1-5h0m0 9h0m0-11h0m0 5h0m1-5h0m1 0h0m0 8h0m0 0h0m1 2h0m2-7h0m0 7h0m2 1h0m0-4h0m0 2h0m1-6h0m1 8h0m0-3h0m1 1h0m2-2h0m1-4h0m1 5h0m0-5h0m0-2h0m0 1h0m1 4h0m1 0h0m0 4h0m2-9h0m1 8h0m0 2h0m1-11h0m0 6h0m0-1h0m2-1h0m1 2h0m0 1h0m1-4h0m0 2h0m0 6h0m1-11h0m1 9h0m0-7h0m0-1h0m1 9h0m0-7h0m1 0h0m0 0h0m1 5h0m1-2h0m0-4h0m1 9h0m1-6h0m0 7h0m0-5h0m0 2h0m1-1h0m0-7h0m2 5h0m0 3h0m0-8h0m3 1h0m0-1h0m0 3h0m0 5h0m1-7h0m0 9h0m1-2h0m1-5h0m2 2h0m0-2h0m1 6h0m0-2h0m1 1h0m0-5h0m1 7h0m1-3h0m0-3h0m0 5h0m1-6h0m0 4h0m0 4h0m0 0h0m1-9h0m2-3h0m0 2h0m0 9h0m0-10h0m1 5h0m3 5h0m1 0h0m1-11h0m3 11h0m0 0h0m0-6h0m1 1h0m1-5h0m1 9h0m0 0h0m1 0h0m1 1h0m0-2h0m1-3h0m0-6h0m0 4h0m2 4h0m1 2h0m0-3h0m0 3h0m0-5h0m1-5h0m0 1h0m0 10h0m0-6h0m2-2h0m1 4h0m1 0h0m1-7h0m0 11h0m0-4h0m1-6h0m0 3h0m0 6h0m1-4h0m0 5h0m0 1h0m0-5h0m0-5h0m0 6h0m0 1h0m1 3h0m0-12h0m0 4h0m2 3h0m1 1h0m0 3h0m2-11h0m1 3h0m0 9h0m0-1h0m1-8h0m0 4h0m2-3h0m0 8h0m1-2h0m0-4h0m0 3h0m0-2h0m1 0h0m0 2h0m0-1h0m1-4h0m0-1h0m2-2h0m1 4h0m0-1h0m2 6h0m0 1h0m0-5h0m1-1h0m2-4h0m0 9h0m1-4h0m1 3h0m1-1h0m0-1h0m1 1h0m0 0h0m1-7h0m2 7h0m0-1h0m2 3h0m0 0h0m1-7h0m1 4h0m0-4h0m1 3h0m0 4h0m0-5h0m1-3h0m0 0h0m2 6h0m1-2h0m1-2h0m0 0h0m1 6h0m1-7h0m0 9h0m1-6h0m1 0h0m1 1h0m1-5h0m0-2h0m1 2h0m0 2h0m2 8h0m0-1h0m0-6h0m1-1h0m1 4h0m0-6h0m1 2h0m0 1h0m1 0h0m1-1h0m1-1h0m0 1h0m0-2h0m1 10h0m2-7h0m1-5h0m1 2h0m0 6h0m1-4h0m0 0h0m3 7h0m1-1h0m0-6h0m0-1h0m0-3h0m1 1h0m0 9h0m0-9h0m2 1h0m1 0h0m0 6h0m2-1h0m0-3h0m0 4h0m0-3h0m0 3h0m1-6h0m0-1h0m1 2h0m1-2h0m0 10h0m0-4h0m0-2h0m0-3h0m0-2h0m1 8h0m1-3h0m0 6h0m3-8h0m0 9h0m1-5h0m0-2h0m1 4h0m0-3h0m0 2h0m0-2h0m0-3h0m1-1h0m1 8h0m0-6h0m1-2h0m0 2h0m1 5h0m1-1h0m0-2h0m2 1h0m1 2h0m0-3h0m0-3h0m0 5h0m1-5h0m0 0h0m1 1h0m1-4h0m0 7h0m1-3h0m0 0h0m0-4h0m1 6h0m0-5h0m1 8h0m0-6h0m1-3h0m3 10h0m1-2h0m2-2h0m2 6h0m1-7h0m0 3h0m1-3h0m0 1h0m0-2h0m0 3h0m2-1h0m1-1h0m1 6h0m0-5h0m0 4h0m2-5h0m1 0h0m0 6h0m0-1h0m1-3h0m0 5h0m1-5h0m0 1h0m0-2h0m1 3h0m1-8h0m1 7h0m1-7h0m2-1h0m0 6h0m1-4h0m0 9h0m1-7h0m4-2h0m1-2h0m0 6h0m1-1h0m0 1h0m1 5h0m1-6h0m1-4h0m0 3h0m1 4h0m1-1h0m3 2h0m0-5h0m0 8h0m0 0h0m0-2h0m0-2h0m2-6h0m1-2h0m0 1h0m-1 20h0m-4 0h0m0-3h0m-2 3h0m0-5h0m0 0h0m-1 4h0m0-2h0m-1 6h0m-1-12h0m0 4h0m0 7h0m0-7h0m-1-3h0m0 6h0m-2-5h0m0 1h0m-1 6h0m-1-3h0m0 1h0m0-7h0m-1 9h0m0-5h0m0 1h0m-1 4h0m0-9h0m0 2h0m0 9h0m-2-2h0m0-7h0m0 2h0m-1 4h0m0 3h0m-3-10h0m0 8h0m0 2h0m-1-5h0m-2-5h0m-1 7h0m-2-5h0m0 7h0m0-3h0m0 2h0m-1-5h0m-1 0h0m0 1h0m0-4h0m0 0h0m-1 6h0m0-6h0m0 0h0m0 2h0m-1 1h0m0 2h0m-1-6h0m0 4h0m0 3h0m0 2h0m-2-4h0m0 2h0m0 2h0m-1 0h0m-3-7h0m0 7h0m-1 0h0m-1-5h0m0 2h0m-1 2h0m-1-2h0m0-1h0m0-2h0m-3 0h0m-1 4h0m-2-5h0m-1 0h0m0 4h0m0-3h0m0 3h0m0-5h0m-2-1h0m-1 7h0m0 1h0m-1 2h0m-1-7h0m0 8h0m-1-10h0m-1 7h0m-1 1h0m-1 0h0m-1-2h0m0 1h0m0-7h0m0 1h0m0 7h0m-6-5h0m0 7h0m-1-2h0m0-2h0m-2-4h0m0 6h0m0-8h0m0 3h0m-1 1h0m0 0h0m-1 7h0m0-1h0m0-8h0m-1 3h0m-1-3h0m0 4h0m0 1h0m-1 3h0m0-7h0m-1 2h0m-2 5h0m0-10h0m0 9h0m-1-4h0m-2 2h0m0-7h0m-1 2h0m-1 8h0m0-4h0m0 3h0m-1-6h0m0-4h0m-2 6h0m-1 1h0m-1-1h0m0-1h0m-1 6h0m0 0h0m0-4h0m-1-7h0m0 0h0m-1 7h0m-1-1h0m0-2h0m-1 1h0m0 5h0m0 2h0m0-3h0m-3-7h0m-1 3h0m0-4h0m0 7h0m-1 2h0m0-9h0m0 4h0m-1 0h0m0 0h0m-1-5h0m-1 11h0m-1-11h0m0 6h0m-1 4h0m0-1h0m-1-3h0m-1 4h0m-1-9h0m0 6h0m0 0h0m0-1h0m-2-1h0m0 2h0m0-4h0m-1 7h0m0-10h0m-1 1h0m0 5h0m-1-1h0m0-4h0m0 3h0m-1-2h0m-1 6h0m-1-4h0m0 7h0m-1-8h0m0 7h0m0-2h0m-1-7h0m-1 9h0m-1 0h0m-1-4h0m0-3h0m0-1h0m-1 6h0m-1-3h0m-2-4h0m-1 2h0m-1 6h0m0-8h0m-1 11h0m0-11h0m0-1h0m0 11h0m0-2h0m-1-4h0m-1-2h0m-2 4h0m0-6h0m0 4h0m-1-1h0m0 7h0m-2-9h0m0 6h0m0 3h0m0-5h0m-1 0h0m-1 1h0m0 1h0m-2 3h0m0-5h0m-1 6h0m-2-12h0m0 4h0m-1 2h0m0-2h0m0 5h0m-1-8h0m0 0h0m-1 9h0m0 0h0m-3-5h0m0 7h0m0-1h0m-1-2h0m0 2h0m-1-4h0m0 2h0m-1 1h0m0-2h0m-2 2h0m-1 1h0m-1-7h0m0-2h0m-1 4h0m0 2h0m-1-3h0m0 5h0m-1-6h0m-1 3h0m-1-6h0m-1-1h0m-1 1h0m0 2h0m-1 1h0m-1 2h0m-2-4h0m-1-1h0m0 3h0m-6 3h0m-2-2h0m-3-3h0m0 3h0m-1 0h0m0-1h0m-2-1h0m0-2h0m0 0h0m-4 0h0m0 0h0m0-1h0m-2 4h0m-1-3h0m0 0h0m-1 1h0m-1 3h0m-1-2h0m-8-1h0m51 10h0m3 1h0m2 0h0m2-1h0m3 1h0m0 2h0m6 0h0m4 1h0m1-3h0m5 4h0m2-3h0m3 1h0m1 4h0m1-2h0m0 0h0m0-4h0m1 3h0m2 0h0m8-1h0m1 2h0m2 2h0m0 0h0m2-2h0m0 2h0m0-3h0m2 0h0m0 2h0m1-5h0m1 2h0m2 5h0m2-2h0m0 0h0m1-5h0m1 5h0m2-6h0m0 3h0m1-1h0m0 6h0m2-4h0m3 7h0m0-10h0m1 8h0m1-5h0m2 1h0m1-4h0m1 7h0m0 0h0m3-1h0m2-1h0m1-4h0m1 9h0m0-5h0m2 0h0m1 4h0m1-8h0m0 2h0m1-4h0m0 11h0m0-6h0m2 7h0m0-6h0m1-2h0m1 6h0m1-5h0m0 1h0m0-4h0m0 2h0m1 0h0m0 4h0m3-8h0m1 2h0m1 7h0m0 0h0m1-4h0m0-4h0m0 4h0m1-3h0m1 2h0m0 2h0m1-1h0m0-4h0m1 0h0m3 1h0m1 6h0m0-2h0m0 5h0m0-2h0m0 3h0m2-6h0m0-3h0m1 1h0m0 2h0m1-1h0m0 4h0m1-1h0m0-4h0m0-2h0m0 4h0m2 2h0m0-3h0m2 2h0m1 0h0m1 2h0m2-3h0m0 4h0m1 0h0m2-1h0m0-6h0m2 8h0m0-8h0m0 5h0m0 3h0m1-1h0m0-3h0m0-5h0m1 1h0m1-2h0m1 0h0m0 5h0m1-5h0m0 4h0m1-1h0m2 6h0m0-6h0m2 3h0m0-3h0m0-2h0m1-1h0m5 3h0m-21 8h0m-3 2h0m-3 3h0m-1-1h0m-1-3h0m-1 4h0m-1-2h0m-7 2h0m-4-4h0m-3 1h0m-4-2h0" stroke="#e9726c" stroke-width="4.2" stroke-linecap="round" fill="none" transform="scale(0.5)"/>
<path d="M788 1320h0m-16 0h0m-7-2h0m0 0h0m0 0h0m-1 0h0m0 2h0m-4-3h0m0 3h0m-1-5h0m-1 4h0m-2-1h0m0 1h0m-1-6h0m-1 4h0m-2 1h0m0 1h0m-1-1h0m-1-2h0m-1 1h0m-1 0h0m0 3h0m-1-2h0m-3-4h0m-1 2h0m-1 2h0m0 0h0m-2 1h0m-1 1h0m0-2h0m-1-2h0m0 2h0m-6 2h0m-23 10h0m0 2h0m2-1h0m1-1h0m0-2h0m5-1h0m1 5h0m0 0h0m0-1h0m2-5h0m1 3h0m0-1h0m1-3h0m0 1h0m0-1h0m1 3h0m0 1h0m1-6h0m1 3h0m0-4h0m0 2h0m0-1h0m0 8h0m1-9h0m0 7h0m1-1h0m1-7h0m0 4h0m0 4h0m0-2h0m0 2h0m2 2h0m0-10h0m1 8h0m0-5h0m1-3h0m0 9h0m0-3h0m1 3h0m1-6h0m0 3h0m0 0h0m0-1h0m0-5h0m0 0h0m0 2h0m1-1h0m1 4h0m0-3h0m1-2h0m1 5h0m1-4h0m1 5h0m0-1h0m0-4h0m1 7h0m0-1h0m0-6h0m0 1h0m0 5h0m0-2h0m1-3h0m0 9h0m1-10h0m0 4h0m0-2h0m1 5h0m1-3h0m1 1h0m0 1h0m0-2h0m0 6h0m1-9h0m0 0h0m0 1h0m0 0h0m1 5h0m1-1h0m0-6h0m1 0h0m0 2h0m0 1h0m1-1h0m0-2h0m1 7h0m0 0h0m1-4h0m1 4h0m0-6h0m1 7h0m0-9h0m0 0h0m0 7h0m0 4h0m0-1h0m1-10h0m0 1h0m1 0h0m0 9h0m0 0h0m0-1h0m1-7h0m0 7h0m0-3h0m1-7h0m1 8h0m0-2h0m0-2h0m0-3h0m0 9h0m1-5h0m0 0h0m2 5h0m0-2h0m0-6h0m0 2h0m0 2h0m1-1h0m0 2h0m1 0h0m0 0h0m2 0h0m0-3h0m1 6h0m1-4h0m1-6h0m0 12h0m0-1h0m1-6h0m0-1h0m0 3h0m0 1h0m1-7h0m0 10h0m2-5h0m0-2h0m0 5h0m1-6h0m0 1h0m0 0h0m0 7h0m0-7h0m1 1h0m0 2h0m0-4h0m1-3h0m0 4h0m0-1h0m1 5h0m0 1h0m0 1h0m1-1h0m0-2h0m0 2h0m0-4h0m0 5h0m1 0h0m0-8h0m0 4h0m2-2h0m1 4h0m1-4h0m1 2h0m-1 15h0m-1-4h0m-1 4h0m0-7h0m0 5h0m0-3h0m-2 6h0m0 2h0m-1-1h0m0-1h0m0-4h0m-1-1h0m0 2h0m0 4h0m-1-8h0m0 6h0m0-6h0m-1 4h0m0 3h0m-1-9h0m0 2h0m-1 5h0m0-5h0m0-2h0m0 2h0m-1 3h0m0 2h0m-1-4h0m0 0h0m0 4h0m-1 2h0m-1-2h0m-1 2h0m0-3h0m-2-3h0m0 2h0m-1 2h0m0-4h0m0 1h0m0 1h0m-1 5h0m-1-3h0m0 4h0m0-9h0m0-3h0m-1 5h0m-1-1h0m0 6h0m-1-5h0m0 3h0m-1 4h0m0 0h0m0-12h0m0 1h0m-1 6h0m0-4h0m-1 6h0m0 2h0m-1-8h0m0-2h0m0 3h0m-1 2h0m-1-5h0m-1 1h0m0 1h0m0-1h0m0 8h0m0-3h0m0-4h0m-1 4h0m0-6h0m-2 8h0m0 3h0m0-3h0m-1 1h0m-1-1h0m0-9h0m0 10h0m-1 2h0m-1-3h0m0-3h0m0-3h0m-2 6h0m0-5h0m0 3h0m-1 4h0m0-1h0m-1-8h0m-1 7h0m0-9h0m0 0h0m-1 11h0m0-8h0m0 8h0m0-10h0m0-1h0m0 10h0m0-9h0m-1 2h0m0-1h0m-1 10h0m0-9h0m0 8h0m0-8h0m-1 3h0m0 3h0m-1-8h0m-1-1h0m0 1h0m-1 3h0m-1 5h0m-1-3h0m0 1h0m-1-4h0m0 0h0m0-1h0m-1 8h0m0-2h0m0-1h0m-1 5h0m0-9h0m0-2h0m-1 1h0m0 0h0m0 9h0m-1-9h0m0 1h0m0-2h0m0 0h0m-1 7h0m0-3h0m0 6h0m-2-11h0m-1 8h0m0-4h0m0-1h0m0 5h0m0-4h0m-1 7h0m0-11h0m0 1h0m-1 2h0m0 2h0m0-1h0m-1 2h0m0 0h0m0 5h0m-1 0h0m0-3h0m-1 1h0m0-9h0m0 4h0m-3-4h0m-1 5h0m0-4h0m0 10h0m-1-8h0m0 0h0m-1-2h0m-1 10h0m0-5h0m-2 3h0m0-7h0m0 2h0m0 3h0m0-6h0m0 3h0m-1 7h0m0-9h0m-1 6h0m0-6h0m0 8h0m0 0h0m0-5h0m0-5h0m0 1h0m-1 10h0m0-6h0m0 3h0m0 1h0m-1 0h0m0 3h0m-2-9h0m0 6h0m-1 2h0m0 0h0m0 0h0m0 0h0m0-6h0m0 7h0m0-3h0m-1-3h0m0-1h0m-1-1h0m-1 2h0m-2 2h0m-1-2h0m0 2h0m-1-1h0m0 4h0m-5-2h0m0 2h0m-1 0h0m-1-2h0m-16 12h0m1 2h0m1-4h0m2 2h0m0-2h0m1 5h0m0-5h0m1 3h0m1-3h0m0-2h0m1 3h0m1-2h0m1 1h0m0-1h0m1-6h0m0 9h0m0-1h0m1-5h0m0 5h0m0-1h0m0 1h0m1-5h0m1-1h0m1 3h0m0 0h0m0 2h0m0 5h0m0-6h0m2 3h0m0-1h0m0-3h0m1-3h0m1 4h0m2 3h0m0-6h0m1 0h0m0 0h0m1 7h0m0-10h0m1 1h0m0 1h0m1-1h0m0 1h0m0 1h0m0 7h0m0-5h0m1 1h0m0 4h0m1-4h0m0 6h0m0-11h0m1 3h0m1-1h0m0-1h0m0 7h0m0-7h0m0 1h0m1-1h0m1 3h0m0-2h0m0 2h0m1-3h0m0 10h0m0-2h0m0-7h0m1 1h0m0-3h0m0 11h0m0-10h0m1 9h0m1-10h0m0 4h0m0-4h0m0 8h0m0 2h0m0-9h0m0 9h0m0 0h0m0-10h0m1 7h0m0 2h0m0-6h0m0 0h0m0-2h0m0 7h0m1-3h0m0 2h0m0-1h0m1-7h0m0 11h0m0-5h0m1-2h0m1 4h0m1-1h0m0 1h0m0 3h0m1-10h0m0 5h0m0 0h0m1 4h0m0-5h0m1-3h0m0 0h0m1 2h0m1 4h0m0-7h0m0 9h0m0 0h0m2-8h0m0 6h0m1-6h0m0 6h0m1-3h0m0 1h0m0 6h0m1-3h0m1-7h0m0 0h0m0 5h0m0-6h0m1 8h0m0 0h0m0-5h0m1 0h0m0-2h0m0-2h0m0 10h0m1-2h0m0-2h0m1-6h0m0 1h0m0 6h0m0-3h0m1 3h0m0 1h0m0 2h0m1-2h0m0-4h0m0 5h0m1 0h0m0-5h0m0-4h0m0 9h0m0 2h0m2 0h0m0-1h0m1-3h0m0-3h0m0 2h0m0 0h0m1 3h0m2-1h0m0 2h0m1-1h0m0-7h0m1 1h0m0 7h0m0 1h0m1-10h0m0 8h0m1-9h0m1 8h0m0-2h0m2 5h0m1-2h0m0-8h0m1 8h0m1-8h0m0 2h0m1-2h0m1 8h0m0-2h0m0 0h0m0-1h0m1-5h0m0 0h0m1 10h0m1-5h0m0-1h0m2 0h0m1-2h0m0 5h0m1 3h0m0-3h0m0-1h0m2 0h0m0 3h0m0-10h0m1 2h0m1 3h0m1-4h0m1 10h0m0-10h0m0 6h0m1 3h0m0-5h0m0-2h0m0-2h0m0 4h0m1 1h0m0-4h0m0 5h0m0 4h0m2 1h0m1-6h0m0-4h0m0 3h0m0-2h0m1 4h0m1 1h0m1 0h0m1-7h0m0 10h0m0-2h0m1-6h0m0 6h0m1-4h0m1-3h0m1 1h0m1 3h0m2 1h0m0-1h0m0-3h0m3 8h0m1 8h0m0 0h0m-1-1h0m0-4h0m-3 6h0m-1-3h0m-2 2h0m-4-1h0m0-4h0m-1-1h0m-2 2h0m-1 7h0m-1-7h0m0-1h0m0 1h0m-3-3h0m-1 3h0m0 1h0m-5 4h0m-1-6h0m0 4h0m0-5h0m-1 3h0m-1 5h0m0-5h0m-1-3h0m0 5h0m0 0h0m-1-1h0m0 4h0m0-5h0m0 8h0m0-2h0m-1-5h0m0 2h0m-2-1h0m0 0h0m0 0h0m0-2h0m-1 8h0m0-9h0m0-3h0m0 3h0m-1 3h0m-1 3h0m0-7h0m0 7h0m0 2h0m0-4h0m0-1h0m0-5h0m0 5h0m-1 3h0m0 1h0m0-1h0m-1-5h0m0 5h0m0-6h0m-1 6h0m0-2h0m0-3h0m0 0h0m0 3h0m-2 4h0m-1-6h0m0 1h0m0 3h0m-1-4h0m-1 2h0m0-1h0m0-1h0m-2 5h0m-1-6h0m-1 2h0m0 5h0m0-4h0m-1-5h0m0 8h0m0-4h0m0-2h0m-1 0h0m0-1h0m0 1h0m-1-2h0m-1 4h0m0 0h0m0-4h0m0 0h0m-1 1h0m0 2h0m0 2h0m0 2h0m-1-8h0m0 7h0m-2-8h0m-1 10h0m0-9h0m0 7h0m-1 2h0m0 0h0m0-6h0m0 6h0m-1-3h0m-1 4h0m0-8h0m-1-2h0m0 8h0m-1 3h0m0-3h0m0-9h0m0 11h0m0-1h0m0-6h0m0 4h0m-1-2h0m-1-5h0m0 5h0m-1-4h0m0 1h0m-3 0h0m0-1h0m-1 6h0m0-8h0m-1 1h0m0 9h0m0-8h0m0 2h0m-1 4h0m-1 1h0m0-4h0m0 6h0m0-2h0m-1-1h0m0-3h0m0 2h0m-1-6h0m0 11h0m0-8h0m-1-4h0m-1 3h0m-1-2h0m0 2h0m-1 7h0m-1-8h0m0-2h0m-1 11h0m0-4h0m0 4h0m-1-8h0m0-1h0m0 6h0m-1-2h0m0 1h0m0 0h0m0-4h0m0-2h0m-1-1h0m0 7h0m-1 3h0m0-1h0m-3-7h0m0-2h0m-1 9h0m0 2h0m-1-6h0m0-1h0m0 3h0m0 1h0m0-4h0m0-1h0m-1 8h0m0-5h0m-1-5h0m-1 5h0m-1 3h0m0-3h0m0 4h0m-1-2h0m-1 3h0m-1-1h0m0-6h0m-1 7h0m-1-9h0m-1 9h0m0-10h0m0 5h0m-1 0h0m0-5h0m0-1h0m0 5h0m-1 2h0m0 4h0m-1-5h0m-1 5h0m-1-2h0m-1-8h0m-1 0h0m0 10h0m0 1h0m-1-12h0m0 11h0m0 0h0m-1-8h0m0 4h0m0 5h0m-1-11h0m0 2h0m0 6h0m0-6h0m-1 7h0m0 2h0m0-10h0m0 8h0m-1-7h0m0 4h0m0-2h0m0 3h0m-3-4h0m0 0h0m-1 3h0m-1 4h0m-1 0h0m0 0h0m0-4h0m-1 0h0m0 2h0m-4-3h0m-6 17h0m2-1h0m1-5h0m1-3h0m0 6h0m0-3h0m1 3h0m0 0h0m1 3h0m0-9h0m0 0h0m1-2h0m0 1h0m0 9h0m0-2h0m0-2h0m0-5h0m1 5h0m0 0h0m1 3h0m0-1h0m0-3h0m1-4h0m0 2h0m0-2h0m0 1h0m0 8h0m1-9h0m0 10h0m2-10h0m0 3h0m1 1h0m0 7h0m1-1h0m0-1h0m1 0h0m0-5h0m1 2h0m0 2h0m0-2h0m2-2h0m1 3h0m1-3h0m0-4h0m0 7h0m0-5h0m2 7h0m0-3h0m0 3h0m2-8h0m0 9h0m2-3h0m0-8h0m0 5h0m1 6h0m0-7h0m0 3h0m0 0h0m1 1h0m0-4h0m1-1h0m1-2h0m0 3h0m0-3h0m0 3h0m1 6h0m0-5h0m0 1h0m0 6h0m0-4h0m1-1h0m0-4h0m0-2h0m1 3h0m0 3h0m0-6h0m1 10h0m0-10h0m1 1h0m1 5h0m1 3h0m0-5h0m0 3h0m1-2h0m1 3h0m0-6h0m1-2h0m1 9h0m0-3h0m0-5h0m0 3h0m1 0h0m1-3h0m2 0h0m1 2h0m0 3h0m0 1h0m2-1h0m0-6h0m0 0h0m0 6h0m1-6h0m0 9h0m0-4h0m1 0h0m0-3h0m1 2h0m1 1h0m0 2h0m1 3h0m0-6h0m1 7h0m0-11h0m1 7h0m0-4h0m0-1h0m1 3h0m0-1h0m1 6h0m1 1h0m0-2h0m1-1h0m0-4h0m0 2h0m0 3h0m1 1h0m0-1h0m0-2h0m0 1h0m0-8h0m0 6h0m0-6h0m0 6h0m2-2h0m0-4h0m0 7h0m1-3h0m0 1h0m0 0h0m0 6h0m0-2h0m0-5h0m1-4h0m0-1h0m1 2h0m0 4h0m0-5h0m1 9h0m1 0h0m0 1h0m0-4h0m1-5h0m1 1h0m0 6h0m0 2h0m0-2h0m1-3h0m0 1h0m1-7h0m0 9h0m1-4h0m0-4h0m0 4h0m1-3h0m0 7h0m1-5h0m1 1h0m0 6h0m0-10h0m1 8h0m1-5h0m0 6h0m0-8h0m0 2h0m2-1h0m1 7h0m2-5h0m3-2h0m2 0h0m0 0h0m1 4h0m0-6h0m1 11h0m0-10h0m0-1h0m2 0h0m5 0h0m1 4h0m8 5h0m5-10h0m2 2h0m0-2h0m6 5h0m1-3h0m1 0h0m2-1h0m-16 17h0m-1 0h0m-1-3h0m-3-1h0m-3 3h0m-4 6h0m-1-10h0m-3 7h0m-1-6h0m-3-1h0m0 0h0m-2 7h0m0 2h0m-4 0h0m-1-8h0m-1 9h0m-3-3h0m-3-1h0m-1-6h0m0 4h0m-1 4h0m-4-6h0m-1 0h0m-1 8h0m0-9h0m0-1h0m-1 1h0m-1-1h0m0 3h0m-1 1h0m-1-4h0m0 2h0m0-1h0m0-2h0m0 11h0m-1-11h0m-1 10h0m0-7h0m0 1h0m-1 3h0m0-3h0m0-2h0m0 8h0m-1-9h0m0 2h0m-1 6h0m0-6h0m0-3h0m-1 5h0m0-5h0m-1 2h0m-1 8h0m0-3h0m0-5h0m-1 0h0m0 7h0m-1 3h0m0-12h0m-1 2h0m0 6h0m0-2h0m0-6h0m-1 3h0m0 6h0m0-7h0m0 3h0m-1 1h0m0 1h0m0-5h0m-1 0h0m0 9h0m0-3h0m-1-1h0m0 1h0m-1-5h0m0 9h0m-1-10h0m0 9h0m0 0h0m-1-9h0m-1 9h0m0-5h0m-1 1h0m0 5h0m0-12h0m-1 9h0m0-2h0m0 3h0m-2-6h0m0 5h0m0-2h0m0 1h0m-1 3h0m0-3h0m-1-6h0m0 1h0m-1 5h0m-1 0h0m0 3h0m-1-2h0m0-2h0m-1-1h0m0-5h0m-1 6h0m0-2h0m-1-4h0m0 3h0m0-2h0m-1 10h0m0-2h0m-1-1h0m0-2h0m0-1h0m-1 1h0m0-1h0m0-1h0m-1 0h0m0-3h0m-1-2h0m0 4h0m0 6h0m0-2h0m0-6h0m0 4h0m-1-6h0m0 3h0m0-2h0m-1 7h0m0-1h0m-1 5h0m0-6h0m0 5h0m-1-2h0m0 2h0m-1 0h0m-1-4h0m-1-6h0m-1 4h0m0 0h0m-1-4h0m-3 6h0m0-5h0m-1 4h0m-1 5h0m0-9h0m-1-2h0m0 3h0m0 0h0m-1-2h0m-1 0h0m-1 9h0m0-5h0m-1 1h0m0-2h0m-1 8h0m0-2h0m0-1h0m-1-9h0m0 10h0m0-2h0m-1-1h0m0-1h0m0 5h0m-1-10h0m-1 1h0m0-1h0m-1 2h0m0 4h0m0 5h0m0-11h0m0-1h0m-1 4h0m-1 2h0m0-5h0m-1 0h0m0 8h0m-1-6h0m0 7h0m0-2h0m0-1h0m-1-1h0m-1 4h0m-2 1h0m0-2h0m-1-4h0m0 6h0m-4 12h0m0-2h0m1-1h0m1 0h0m0 0h0m1 2h0m0-3h0m0-4h0m0 4h0m0 1h0m1-2h0m0 0h0m0 3h0m0-4h0m1 1h0m0 2h0m0 1h0m0 2h0m1 0h0m0-5h0m2-6h0m0 8h0m0 4h0m1-10h0m1 3h0m0 6h0m1-10h0m0 9h0m0-2h0m1 2h0m1 0h0m1-3h0m0 4h0m1-10h0m1 9h0m0-5h0m2 2h0m0-3h0m0 7h0m1-8h0m2 9h0m0-11h0m0 4h0m1 5h0m2 1h0m2-8h0m0-1h0m0 9h0m1-6h0m0-4h0m0-1h0m1 7h0m0-7h0m0 0h0m1 2h0m0 4h0m0 4h0m1-5h0m0 0h0m0-3h0m1 1h0m0 9h0m1-4h0m0-3h0m0 3h0m0-3h0m0 4h0m1-5h0m0 0h0m0 1h0m0 4h0m0-7h0m1-1h0m0 7h0m0 2h0m0 2h0m0-2h0m1-1h0m1-1h0m0 4h0m1-12h0m0 10h0m1-4h0m1-4h0m0 2h0m0-3h0m0 6h0m0-5h0m0 2h0m1 6h0m0-2h0m0-8h0m0 3h0m0-1h0m0 2h0m0-2h0m0-2h0m1 8h0m0-7h0m0 5h0m0 0h0m1 4h0m0-8h0m0 3h0m1-2h0m0-3h0m0 2h0m1 2h0m1-2h0m0 3h0m0 7h0m0-6h0m0 4h0m0 1h0m2-8h0m0 8h0m0 1h0m1-12h0m0 11h0m0-7h0m0 3h0m0 0h0m0 2h0m1 1h0m0-3h0m0-5h0m0 9h0m0-1h0m1-1h0m1-4h0m0-2h0m0 4h0m0-5h0m1 7h0m1-8h0m1 6h0m0 2h0m0-1h0m1 1h0m0 0h0m0-3h0m0 4h0m0-4h0m1-3h0m0 3h0m0-3h0m0 8h0m0-7h0m0-3h0m1 4h0m0 2h0m2-1h0m0 5h0m0-3h0m0 1h0m2 1h0m0-4h0m0 2h0m1 2h0m0-1h0m1-8h0m0 3h0m0 6h0m0-8h0m0 3h0m1-5h0m0 4h0m0 5h0m2-3h0m0 1h0m0-1h0m1 4h0m0 0h0m1-4h0m2-5h0m1 11h0m1-8h0m0 4h0m2-1h0m3 2h0m1-7h0m7 3h0m1-4h0m2 7h0m4-4h0m4-3h0m0 7h0m3-3h0m7 0h0m1-2h0m4 7h0m0-5h0m1 3h0m-10 9h0m-2 0h0m-4 3h0m-3-7h0m-2 2h0m-1 5h0m-1 1h0m0-8h0m-1 5h0m-5 1h0m-3 0h0m-1-7h0m-7 4h0m-2 5h0m-1-3h0m-5-4h0m-2 2h0m-5-1h0m-1-3h0m0 3h0m0 6h0m-1-9h0m0 3h0m-1 0h0m-1-3h0m-1 1h0m0 3h0m0 3h0m-2-4h0m0 3h0m0 0h0m-1-1h0m0 1h0m0 0h0m0 5h0m-1-8h0m0 4h0m0-1h0m0-6h0m0 4h0m-1-2h0m0-1h0m0 6h0m-1 1h0m-1 2h0m0-5h0m0-5h0m-2 6h0m-1 0h0m0-2h0m-1 1h0m0 6h0m-1-5h0m0 2h0m0-5h0m-1 5h0m-1-2h0m-1-4h0m0 3h0m0 6h0m0-10h0m-1 11h0m-1-10h0m0 5h0m-1 4h0m0-2h0m0-5h0m-1 1h0m0-2h0m0-1h0m-1-1h0m0 8h0m0-6h0m-1 6h0m-1-2h0m0-2h0m-1 0h0m0-1h0m0 3h0m-1 0h0m0-3h0m0 2h0m-1 3h0m-1-5h0m0 4h0m0 3h0m-1-3h0m0-6h0m-1 4h0m-1 1h0m0-2h0m0 4h0m0-6h0m-1 3h0m0 4h0m0 1h0m-1-10h0m-1 7h0m0-6h0m0 1h0m-2 3h0m0 2h0m0-7h0m0 2h0m0-1h0m-1 5h0m0-7h0m0 2h0m0 1h0m0 5h0m0-2h0m-1 3h0m0-2h0m0-4h0m-1 4h0m0 3h0m-1 2h0m0-3h0m0-3h0m-1 3h0m-1-2h0m0 4h0m-1-9h0m0 10h0m0 0h0m0-2h0m0-1h0m0-2h0m0-7h0m-1 4h0m0 0h0m0-3h0m-1 2h0m0 6h0m0-7h0m0 6h0m-1-5h0m0 3h0m-1 4h0m0-7h0m-1 4h0m0-1h0m0-1h0m-1 2h0m0-3h0m-1 4h0m0-2h0m0 6h0m0-10h0m0 7h0m-1-1h0m0-4h0m-1-4h0m0 1h0m0 2h0m-2 2h0m0 5h0m0 1h0m-1-6h0m0-1h0m-1 3h0m0 3h0m0-3h0m0 5h0m0-4h0m-1-2h0m-1 2h0m-1 0h0m-1 3h0m-5 5h0m1-4h0m2 11h0m1-10h0m1 9h0m0-3h0m0-3h0m0 4h0m1-1h0m0-5h0m0 5h0m0 2h0m1-4h0m0-1h0m0-4h0m1 3h0m0 5h0m0 0h0m2-2h0m0 1h0m0-6h0m0 0h0m0-1h0m0 6h0m1-1h0m0-1h0m1 8h0m1-6h0m1 3h0m0-3h0m1 3h0m0 2h0m0-6h0m0 4h0m0-3h0m1-6h0m0 6h0m0-1h0m2 1h0m0-5h0m0 9h0m0-6h0m0 7h0m1-6h0m1 1h0m0-3h0m1-1h0m0 6h0m0-4h0m0-3h0m1 10h0m0-8h0m0 2h0m1-4h0m0 4h0m0-3h0m0 7h0m0 0h0m0 0h0m1-8h0m1 1h0m0-1h0m0 11h0m1-7h0m0-1h0m0 3h0m1 0h0m1-1h0m1-3h0m1-1h0m0 9h0m0-4h0m0 3h0m1-4h0m2-4h0m0 1h0m0-1h0m1 10h0m0-2h0m0 2h0m0-7h0m0-1h0m0 7h0m1 1h0m0-10h0m1 2h0m1 5h0m0 1h0m1-7h0m0 6h0m0-8h0m1 5h0m0 6h0m0-11h0m0 3h0m0-1h0m0 7h0m1-4h0m0 3h0m0-7h0m0-2h0m1 11h0m1-6h0m0 4h0m0 0h0m0 2h0m4-1h0m0-6h0m1 1h0m0-3h0m0 2h0m0 2h0m2 4h0m0-1h0m0 0h0m0-1h0m0-1h0m1-1h0m0-1h0m0-3h0m0 9h0m0-9h0m0 7h0m1-3h0m0 2h0m0-8h0m0 5h0m1 0h0m0 3h0m1-5h0m2 4h0m0-1h0m1-5h0m0-1h0m1 4h0m4-2h0m2-2h0m3 8h0m0 1h0m2 1h0m1-4h0m3-6h0m1 1h0m8 5h0m4-2h0m3 8h0m7-5h0m2 4h0m3-6h0m0 0h0m1 1h0m2 2h0m1-7h0m0-1h0m5 5h0m1-3h0m-10 11h0m-6 0h0m-1 0h0m-1 3h0m0 6h0m-5-2h0m0-8h0m-7 9h0m-1-6h0m-5 7h0m0 1h0m-9-9h0m-1 5h0m-9-1h0m-2 5h0m-3-4h0m-1-6h0m-1 7h0m-1-7h0m-1 5h0m0-6h0m0 4h0m0-1h0m0-2h0m-1 6h0m-1 1h0m-2-7h0m0 4h0m0 0h0m-1-1h0m0 6h0m0 0h0m0-4h0m0 1h0m-1-2h0m0-3h0m0 1h0m0 7h0m-2 1h0m0-2h0m0-5h0m0 6h0m-1-4h0m0-4h0m0 5h0m0-7h0m-2 11h0m0-1h0m0 2h0m-1-3h0m0-8h0m0 4h0m0-3h0m-1 4h0m0 1h0m0 3h0m0-4h0m0 0h0m-1 5h0m0-9h0m0 1h0m-1 4h0m0-4h0m-1 2h0m-1 6h0m0-6h0m-1-1h0m0 4h0m0-2h0m0 4h0m0-4h0m-1 1h0m-1-6h0m0 1h0m0 4h0m0-4h0m0 7h0m0-3h0m-1-1h0m0 3h0m0-2h0m0-4h0m-1 0h0m0 2h0m0 0h0m-1-3h0m0-1h0m0 5h0m-1-5h0m0 7h0m0-3h0m0-3h0m-2 7h0m0-5h0m0 8h0m0-6h0m-1 3h0m0 2h0m0-10h0m-1 3h0m0 7h0m0-8h0m0 4h0m0 5h0m0-1h0m-1-2h0m0-2h0m0 6h0m0-2h0m-1 1h0m0-8h0m-1 8h0m-1-2h0m0-6h0m0-1h0m0 0h0m0 3h0m-1 3h0m0-1h0m-2-3h0m0-1h0m0-3h0m-1 1h0m0-1h0m-1 1h0m0 6h0m0 3h0m-3-8h0m-1 4h0m0-1h0m0-4h0m-1 4h0m0-2h0m0 6h0m0-5h0m-1-4h0m-2 8h0m-3 8h0m1-2h0m0 9h0m2-2h0m0 1h0m0 0h0m0-8h0m1-2h0m0 9h0m1 2h0m0-2h0m1-3h0m0 4h0m0 0h0m0-9h0m0 10h0m1-9h0m0-1h0m1 4h0m1 1h0m0 2h0m0 0h0m1-2h0m1 0h0m0 3h0m0-8h0m1 2h0m0-2h0m1 1h0m0 3h0m0 7h0m1-2h0m0 1h0m1-10h0m0 0h0m1 9h0m1-7h0m1 6h0m0 1h0m0-1h0m1-3h0m0-3h0m2 5h0m0 0h0m1-7h0m0 10h0m0-8h0m0 1h0m1 5h0m0 2h0m1-9h0m0 4h0m0-4h0m0 2h0m1 6h0m1-7h0m1-1h0m0 7h0m0 1h0m1-1h0m1-7h0m0 7h0m1-7h0m0 10h0m0 0h0m0-10h0m1 0h0m0 7h0m0 0h0m1 1h0m1-9h0m0 5h0m0 2h0m0-5h0m1-1h0m1 7h0m0-9h0m2 6h0m0-2h0m0-3h0m0-1h0m1 8h0m0-6h0m1 4h0m0 1h0m0 0h0m2-1h0m0-3h0m1 2h0m1-2h0m6 5h0m0-6h0m1 1h0m0 4h0m2-4h0m3 8h0m4-10h0m1 0h0m3 6h0m4-5h0m1 10h0m2 0h0m2-6h0m2 6h0m6-9h0m4 8h0m3-4h0m5-2h0m-9 10h0m-9 3h0m-3-3h0m-2 5h0m-5 3h0m-2-11h0m-1 4h0m-1 1h0m-1 4h0m-2-7h0m-1-2h0m-1 8h0m-1-8h0m0 11h0m-3-5h0m-3 4h0m-3-6h0m-2 5h0m-1-2h0m-2-4h0m-2 7h0m-1-7h0m-4 5h0m-1 1h0m-2-5h0m0-3h0m-2 6h0m0 0h0m0-6h0m0 6h0m-1 0h0m-2-3h0m0 1h0m0-3h0m0 4h0m0 2h0m-1-4h0m0-2h0m0 2h0m-2 6h0m-1 2h0m-1 0h0m-1-9h0m-1 2h0m0-3h0m0 3h0m0-5h0m-1 3h0m0 4h0m0 4h0m0-8h0m0 6h0m0-7h0m-1 4h0m0-5h0m0 7h0m0 0h0m-1-3h0m0 4h0m0 2h0m-1-4h0m0-5h0m-1 6h0m0 2h0m0-5h0m-1-1h0m0-2h0m0 9h0m0-8h0m-1 1h0m0 3h0m-2 2h0m0-6h0m0 0h0m0 9h0m-1-7h0m-1-4h0m0 5h0m0 0h0m-1 5h0m0 0h0m0-3h0m-1-7h0m0 6h0m-1-5h0m0 5h0m-1-1h0m-1 2h0m-1 3h0m-1-2h0m0 3h0m0-10h0m-1 9h0m0 0h0m-1-7h0m0 6h0m-2-6h0m2 11h0m0 4h0m1-1h0m1 4h0m1-7h0m1 6h0m0-4h0m0-1h0m0-1h0m0 1h0m0-2h0m1 5h0m0 4h0m1 1h0m0-10h0m1 9h0m1-8h0m0 3h0m1 1h0m0 3h0m0-2h0m0-5h0m1-2h0m0 5h0m0-2h0m1 1h0m0-2h0m0 8h0m1-2h0m0-6h0m0 1h0m1 2h0m0-6h0m0 9h0m0 3h0m0-3h0m0-3h0m0-4h0m3 3h0m0 4h0m0 0h0m1-6h0m0 9h0m0-10h0m1 0h0m1-2h0m0 5h0m0 6h0m0-8h0m1 2h0m0-5h0m1 7h0m0 2h0m0-9h0m0 7h0m1-5h0m0 8h0m0-4h0m0 4h0m1-5h0m0-3h0m2-1h0m1 1h0m1 1h0m3 0h0m9 3h0m1 3h0m8-2h0m0 3h0m5-4h0m1 0h0m3-1h0m4-2h0m7 7h0m5 0h0m-2 4h0m-4 0h0m-4 3h0m-5 6h0m0-4h0m0 0h0m0 2h0m-8-3h0m-3 3h0m0-3h0m-6 6h0m-1-3h0m-3 0h0m-2-7h0m-1 6h0m-3-7h0m-2 3h0m-1 7h0m-4-2h0m0-1h0m-1 0h0m-3-7h0m-3 0h0m0 1h0m0-1h0m0 2h0m-1-2h0m0 3h0m-2-1h0m-2 0h0m-1-2h0m0 2h0m-1 1h0m-1 0h0m0 7h0m-1-10h0m-4 0h0m-2-1h0m-1 2h0m-7 8h0m-10 9h0m3 2h0m4 1h0m0-4h0m2 2h0m1 1h0m0-3h0m1-4h0m5 5h0m2-2h0m1-4h0m1 0h0m2 8h0m10-7h0m4 5h0m5-6h0m1 6h0m3 1h0m6-5h0m7 6h0m1 3h0m0-4h0m1-6h0m4 6h0m4-2h0m4-1h0m3 3h0m2 0h0m3 0h0m3-3h0m-31 9h0m-7 0h0m0-2h0m-13 0h0m-8 2h0m-10 0h0m-3 7h0m-3-4h0m-3-1h0m0 5h0m-2-6h0m-1 2h0m-3 0h0m-13 13h0m4 6h0m8-9h0m5 1h0" stroke="#e38b2d" stroke-width="4.2" stroke-linecap="round" fill="none" transform="scale(0.5)"/>
<path d="M366 1164h0m9-1h0m8-1h0m6 1h0m7 1h0m5 0h0m1-2h0m7 2h0m0-2h0m0-2h0m1 4h0m2-1h0m2 0h0m1 0h0m1-2h0m1 1h0m1 0h0m5 1h0m2-1h0m8-3h0m7 0h0m8 0h0m0 2h0m6 0h0m0 2h0m2-5h0m0 2h0m1 4h0m0-3h0m1 1h0m0-2h0m1 3h0m1-1h0m10 2h0m7-4h0m3 2h0m2 0h0m3-4h0m2 0h0m2 5h0m2-3h0m0 0h0m1 1h0m1 0h0m1-3h0m0 2h0m1-5h0m2 3h0m1 1h0m11-2h0m3 5h0m1-1h0m3 0h0m1-3h0m0 1h0m2-2h0m0 2h0m1 4h0m0-2h0m1 3h0m1-2h0m0-1h0m1-3h0m0 4h0m1 2h0m1-6h0m2 3h0m3-4h0m1 6h0m0-4h0m1-3h0m2 7h0m2-6h0m2 3h0m1-3h0m1 2h0m2 4h0m0-1h0m1-4h0m2 4h0m0 0h0m2-1h0m1 1h0m1 0h0m1-3h0m0-4h0m0 9h0m0-1h0m1-1h0m1-1h0m3 1h0m24 10h0m-3 1h0m-5 2h0m-6-5h0m0-2h0m-3-2h0m0 9h0m-1-8h0m0 8h0m-1-11h0m-2 3h0m0 7h0m-1-7h0m-1-1h0m-1 6h0m0 0h0m-1 2h0m-1-5h0m-1-4h0m0 1h0m0 0h0m-2 8h0m-1-7h0m0-2h0m-2 0h0m-1 0h0m0 2h0m-2 4h0m-1-1h0m-2 4h0m-2-5h0m-1-2h0m-4 4h0m-1-3h0m-1 4h0m0-1h0m-1-7h0m0 0h0m-1 10h0m0 1h0m0-7h0m-1 4h0m-1-4h0m0 0h0m0 1h0m-1 5h0m-1 0h0m-1-3h0m0-1h0m0 1h0m0-1h0m0 5h0m-1-3h0m0 2h0m-2 1h0m0-5h0m-1 2h0m0 0h0m0-6h0m-1 2h0m0-4h0m0 8h0m-1-6h0m0 3h0m-1 5h0m-1-10h0m0 2h0m-1 9h0m0-3h0m0 2h0m-2-5h0m0 6h0m-1-8h0m0 9h0m0-9h0m0 0h0m-1 4h0m-1 1h0m-1-1h0m-1 2h0m-2 0h0m-2-3h0m-2 1h0m0 0h0m0 4h0m0-5h0m-1 6h0m0-4h0m0 1h0m-3 1h0m-1-7h0m0 6h0m-1 2h0m0-7h0m0 6h0m-2-6h0m0 3h0m-1-4h0m0 8h0m-1 0h0m0-7h0m0 8h0m0-3h0m-2-2h0m-1-5h0m0 1h0m0-3h0m-1 8h0m0 1h0m0-5h0m0 6h0m-1 1h0m0-6h0m-1 5h0m0-4h0m0-1h0m-1 2h0m0-1h0m0 2h0m-1-1h0m0-4h0m-1-1h0m0 3h0m0-3h0m-1 3h0m0-3h0m0 9h0m-1-2h0m-2-5h0m0-1h0m-1 2h0m0-2h0m0 7h0m0-8h0m-2 4h0m0-4h0m-2 5h0m-3 3h0m-3-7h0m-2 0h0m-1 0h0m-2-1h0m0 2h0m-1 7h0m0-1h0m0-3h0m-1 3h0m0-9h0m-4 4h0m0 4h0m0-4h0m0 4h0m-2-7h0m0 1h0m-1 8h0m0-7h0m-1-4h0m0 10h0m-2-1h0m0-1h0m-1 2h0m0-7h0m-1 8h0m0 1h0m0-1h0m0 1h0m0-10h0m-1 8h0m0-4h0m0 1h0m-2 0h0m0 2h0m0 2h0m-1-1h0m-1 1h0m0-7h0m-1 4h0m0-4h0m-1-2h0m0 5h0m-1 1h0m-1 2h0m0-5h0m0-1h0m-3 5h0m0-3h0m-3 5h0m0-1h0m0 2h0m-1-11h0m-2 9h0m0-4h0m-4 1h0m-1 3h0m0-8h0m0 2h0m-1 2h0m-1 4h0m-1-5h0m-1-1h0m0 1h0m-2 1h0m0-1h0m0 6h0m-1-6h0m0 4h0m0-5h0m0-1h0m-1-1h0m0-1h0m0 3h0m-2 1h0m0 3h0m0-1h0m-1-2h0m0 5h0m0 1h0m-1-7h0m-1 2h0m0 3h0m-1-5h0m-1 0h0m0 3h0m0 2h0m0-6h0m-1 4h0m0 5h0m0-4h0m0-7h0m-3 1h0m0 4h0m0-6h0m0 6h0m-2-5h0m-1 3h0m-1 4h0m0-6h0m0 8h0m-2-2h0m0-3h0m0-2h0m-1 4h0m-1-6h0m-1 2h0m-1 9h0m0-8h0m0 0h0m-1 6h0m0-3h0m0-1h0m0 3h0m-1-7h0m0 2h0m-1 3h0m-3-3h0m0 1h0m-1 0h0m0 5h0m0-9h0m0 5h0m-1-1h0m0 1h0m-1-4h0m-1 9h0m-1-10h0m0 7h0m0 4h0m0-1h0m0-5h0m-1 4h0m-1-4h0m0-2h0m-1-1h0m0 7h0m-1-8h0m0 10h0m0-9h0m0-2h0m0 6h0m-1-2h0m0 1h0m0-2h0m-1-1h0m0 6h0m-2-2h0m0-6h0m0 3h0m-2-1h0m-1 8h0m-5-6h0m-1-1h0m0 2h0m-3 5h0m-1-4h0m-1 4h0m-3 0h0m0-2h0m-1-3h0m-2 0h0m-2 1h0m-2-4h0m0 1h0m0 7h0m-3-7h0m-5 7h0m-8 11h0m2-2h0m1-2h0m1 4h0m0 0h0m2-1h0m1-6h0m0 2h0m1 0h0m0 0h0m1-1h0m0-2h0m1 6h0m0-2h0m0 5h0m0-10h0m0 4h0m0 7h0m0-10h0m1 4h0m0 4h0m1 1h0m0-1h0m2-3h0m2 1h0m0-6h0m0 7h0m0 0h0m1-3h0m1-3h0m0-1h0m2 4h0m0 2h0m1 3h0m0 0h0m0-11h0m1 7h0m0-5h0m0 3h0m1 3h0m1-3h0m0 5h0m0-1h0m0-1h0m2 4h0m1-1h0m2-8h0m0 3h0m0 5h0m1-5h0m0-2h0m0 1h0m0 2h0m1 3h0m0-4h0m0 5h0m1-6h0m0 5h0m0 1h0m2-9h0m0-1h0m0 3h0m1 1h0m1 2h0m0 4h0m0-7h0m1 0h0m0 4h0m0 1h0m2-7h0m0-2h0m1 8h0m1-1h0m0-4h0m1 8h0m0-1h0m1-1h0m0-1h0m1-1h0m1 2h0m0-9h0m0 11h0m1-1h0m0-1h0m0-1h0m0-1h0m0-7h0m1 3h0m0-2h0m1 6h0m0-1h0m0 6h0m2-3h0m0-7h0m0 1h0m0-3h0m1 11h0m1-2h0m1-6h0m0 2h0m1 5h0m1-10h0m0 1h0m0 0h0m0 3h0m2 0h0m1 5h0m0-9h0m2 11h0m1-11h0m0 6h0m1-1h0m1 5h0m6 1h0m2-11h0m2 7h0m1-3h0m4-4h0m1 3h0m1 0h0m1-2h0m2 5h0m0 4h0m3 0h0m3-2h0m0-6h0m1 1h0m1 4h0m1-4h0m1 4h0m2-3h0m0-1h0m1-3h0m2 2h0m0 9h0m0-10h0m1 6h0m0 2h0m0-4h0m1-2h0m1 7h0m0-4h0m0-2h0m0 6h0m0-6h0m1-3h0m0 8h0m0 0h0m0 0h0m1-1h0m0-4h0m0 5h0m0 0h0m1-3h0m0-2h0m1-3h0m0-1h0m1 3h0m0-2h0m0 10h0m2-4h0m2-6h0m0 7h0m0-7h0m1 3h0m0 5h0m0 0h0m0-9h0m1 3h0m0 4h0m2-6h0m0 7h0m0-8h0m0 7h0m0-6h0m1 6h0m1-2h0m1 2h0m1-2h0m0-3h0m0 7h0m0 0h0m0-1h0m1 1h0m0 2h0m0-5h0m0-2h0m1-2h0m0 2h0m1 8h0m0-2h0m0-1h0m1-5h0m0 2h0m1 1h0m0-5h0m0-2h0m0 6h0m1-6h0m0 6h0m1 0h0m0-4h0m8 2h0m1 6h0m2-3h0m1 4h0m1-2h0m0-8h0m1 5h0m1 3h0m0 1h0m0-5h0m4 3h0m0 1h0m1-6h0m0 6h0m0 2h0m1-6h0m0 0h0m1 5h0m1 0h0m0-2h0m1-1h0m0 0h0m0-6h0m1-1h0m1 8h0m0-2h0m0 3h0m0-9h0m1 7h0m1-3h0m0 1h0m1-3h0m1 8h0m0 0h0m0-1h0m1-3h0m1-5h0m1 5h0m0-5h0m0 7h0m1 1h0m1 1h0m0 1h0m0-3h0m0 4h0m0-11h0m1 11h0m0-10h0m1 5h0m0-1h0m0 5h0m0-10h0m0 1h0m1 7h0m0-7h0m0 2h0m1 0h0m0 6h0m0-8h0m0 1h0m0 7h0m0-7h0m1-2h0m0 3h0m0-3h0m1 8h0m1-2h0m0-3h0m1-2h0m1-1h0m0 6h0m0 3h0m1 0h0m0-4h0m0 3h0m1-5h0m1 7h0m0-3h0m1 0h0m0-5h0m0 0h0m1 7h0m0 0h0m0 1h0m0 1h0m1-7h0m1 4h0m1-1h0m0-7h0m0 2h0m1 2h0m0 1h0m0-5h0m0 4h0m0 4h0m1 0h0m0-4h0m1 1h0m0-2h0m1 1h0m0 5h0m0 0h0m0 1h0m0-10h0m1 7h0m1-5h0m1 2h0m0-4h0m1 9h0m2-9h0m1 8h0m1 2h0m0-7h0m2 1h0m0 3h0m1 2h0m0 2h0m1-3h0m0 3h0m2-8h0m1-4h0m1 10h0m1-4h0m1 5h0m1-7h0m1 5h0m0-5h0m3 3h0m1-5h0m0 3h0m0 5h0m1-7h0m2 6h0m0 1h0m0-9h0m0 7h0m0-6h0m1 8h0m1-9h0m0 5h0m0-1h0m1-2h0m1 3h0m2-5h0m1 3h0m0-3h0m1 4h0m0-1h0m0 4h0m1-4h0m0 4h0m1-5h0m1-2h0m0 4h0m1 6h0m2 0h0m0-3h0m0-7h0m0 2h0m0 1h0m1 1h0m0-2h0m1 4h0m0-2h0m3 1h0m1-3h0m1 9h0m1-5h0m0 2h0m2-2h0m1 1h0m3-3h0m2-1h0m0-3h0m-13 16h0m0-2h0m-3 6h0m0-6h0m0-3h0m0 7h0m-1-6h0m-2 0h0m0 4h0m-1 5h0m0 1h0m0-8h0m-1 5h0m0-7h0m-1 9h0m0 1h0m0-8h0m0-2h0m0 9h0m-1-4h0m-1 5h0m0-2h0m-1-5h0m-1-3h0m-1 4h0m0 3h0m-1 3h0m0-1h0m-1-9h0m0 7h0m0-1h0m-1-6h0m0 1h0m-1 0h0m0 5h0m-1-1h0m-1-3h0m-1 5h0m0 0h0m0-1h0m-1-6h0m-1 5h0m0 0h0m-2-2h0m-1-4h0m0 2h0m0 5h0m-1-5h0m0 5h0m0-4h0m-1 3h0m-1 2h0m0-2h0m0 3h0m-1-6h0m-1 0h0m0-1h0m0 3h0m-1 7h0m0-12h0m0 9h0m-1 1h0m-1-9h0m-1 6h0m0-6h0m0 11h0m0-1h0m-1-5h0m-2 0h0m0 5h0m-1-7h0m-1-1h0m0-3h0m0 6h0m-1-5h0m0 5h0m0-5h0m-1 2h0m0 4h0m-1 2h0m-1 0h0m-1-4h0m0 6h0m0-8h0m-1 5h0m0-3h0m0 1h0m-1-6h0m0 6h0m-1-5h0m-1 7h0m0-7h0m-1 7h0m-1 4h0m0-8h0m0 4h0m0-4h0m-1 0h0m0 1h0m0 4h0m0-9h0m0 6h0m-1-4h0m0 1h0m0 9h0m0-4h0m0-3h0m0-3h0m-1 4h0m-1-4h0m-1-2h0m0 7h0m-2 4h0m-1-3h0m-1 1h0m-3-8h0m-1 9h0m-1-9h0m-2-1h0m-2 0h0m0 1h0m-1 5h0m0-1h0m0 6h0m-2-8h0m0 9h0m-1-4h0m-1 2h0m0 1h0m0-5h0m-1-2h0m-1 0h0m0 6h0m-1-3h0m-1-6h0m0 10h0m-1-5h0m-1 0h0m-1 2h0m0 2h0m0-4h0m-1-6h0m0 11h0m-2-4h0m0-4h0m0 4h0m0-3h0m-1 7h0m0-4h0m-2-4h0m0 3h0m0 2h0m0 2h0m-1-7h0m0 4h0m0-1h0m0-3h0m-1 6h0m0-5h0m0 6h0m-1-4h0m-1-3h0m-1 3h0m0-4h0m-1 7h0m-2-9h0m-2 12h0m-2-1h0m0 1h0m0-8h0m-1-1h0m-2 8h0m-1-8h0m-1 2h0m0 7h0m-1-6h0m-1-3h0m-2 1h0m0 7h0m0-8h0m-2 3h0m-1-5h0m0 5h0m0 3h0m-1-9h0m0 8h0m-1 3h0m-1 1h0m0-8h0m0 7h0m-2 0h0m-1-1h0m0-7h0m0 5h0m0-8h0m-1 0h0m0 11h0m0-5h0m0 2h0m-1 3h0m0-11h0m0 6h0m-1 3h0m-1-2h0m-1 5h0m-1-11h0m-1 4h0m0 4h0m-1-7h0m0 2h0m0 2h0m-1-4h0m0 3h0m-1-3h0m0 8h0m0-6h0m-2 0h0m-4-1h0m-1 6h0m-2 3h0m0-5h0m0 0h0m-1 1h0m-2-1h0m0 4h0m0-8h0m0 6h0m-1-3h0m-1 3h0m-1-3h0m0-2h0m-1 1h0m-1-2h0m0 9h0m-1-6h0m0-3h0m0 3h0m-1-5h0m-1 10h0m0-5h0m-1-3h0m0 6h0m0-9h0m-1 12h0m0-5h0m-1-2h0m0-1h0m-1 0h0m-1 0h0m-1 4h0m0-4h0m-1 4h0m0-3h0m0-2h0m-1 4h0m-1-4h0m0 5h0m-2-2h0m0 4h0m0-1h0m-2-4h0m0 3h0m0-6h0m-2 2h0m0 0h0m0 2h0m0-3h0m-1 2h0m0-4h0m-1 5h0m-1 1h0m0-6h0m0 1h0m0 0h0m-1 0h0m0 2h0m0-1h0m0 7h0m-2-5h0m0-3h0m-1 3h0m0 5h0m0 2h0m-1-6h0m0 2h0m0 4h0m0-9h0m-1 4h0m-1 4h0m0-4h0m0-1h0m0 2h0m0 1h0m0-8h0m-1 9h0m0-3h0m0-5h0m-1 1h0m-1 8h0m0-5h0m-1 1h0m0 1h0m-1-3h0m0 4h0m-1-2h0m0-1h0m0 0h0m0 5h0m-1-10h0m0 3h0m-1 5h0m0-3h0m-1 0h0m-1 2h0m0-4h0m-1 5h0m-1 1h0m0-6h0m-1 1h0m0 3h0m-1 1h0m0-7h0m-1 6h0m0-2h0m0-4h0m-1 10h0m0-7h0m-1-3h0m-1 5h0m-1 2h0m0-3h0m0 3h0m-1-7h0m0 6h0m0-2h0m0 5h0m-1-10h0m0 5h0m0 6h0m-1-3h0m-1-9h0m0 3h0m-1 2h0m0-1h0m0 4h0m-1-3h0m0-4h0m0 9h0m-2-10h0m0 10h0m-1-5h0m0-1h0m0 0h0m0-4h0m-1 1h0m0-1h0m-1 1h0m0 0h0m-1 0h0m-1 8h0m-2-1h0m-1-7h0m0 1h0m-3 8h0m0-10h0m0 9h0m-1 0h0m0-9h0m-3 7h0m-2 1h0m-3-6h0m-3 1h0m-1-3h0m-1 3h0m-1-1h0m0 4h0m-1-5h0m-1 4h0m-2 3h0m0 10h0m1-4h0m2 3h0m0 7h0m0-6h0m3 1h0m0-3h0m2 6h0m2-7h0m3 0h0m1 8h0m1-5h0m0 2h0m1 1h0m0 0h0m1 1h0m3-8h0m2 8h0m2 0h0m1 0h0m0 0h0m0 0h0m0 1h0m1-5h0m1 3h0m1 3h0m0-4h0m0 0h0m1 3h0m0 0h0m1-5h0m1 3h0m1-8h0m0 4h0m2 4h0m0-6h0m0 2h0m1-3h0m0 9h0m3-1h0m1-8h0m0-2h0m0 1h0m0 6h0m1 3h0m0 0h0m2 1h0m0-9h0m0 1h0m0 3h0m1 6h0m1-1h0m1-10h0m1 4h0m0-3h0m1 3h0m1 2h0m0-3h0m1-1h0m0 1h0m1 4h0m1-5h0m0-1h0m1 8h0m2-9h0m1 3h0m1-2h0m0 0h0m1 3h0m4 0h0m1-3h0m0 0h0m1 10h0m2-10h0m0-1h0m1 9h0m3 1h0m0-10h0m1 1h0m0 9h0m1-2h0m0-1h0m1-4h0m0-4h0m1 4h0m3-1h0m0-2h0m1-1h0m0 9h0m0 1h0m0 1h0m1-1h0m1-1h0m0-6h0m1 5h0m0-6h0m1 3h0m1 0h0m2 1h0m3 1h0m0-6h0m1 1h0m1 4h0m0 2h0m0-4h0m0 3h0m1 2h0m1-9h0m0 6h0m0 3h0m0 3h0m1-6h0m0 3h0m0-1h0m0-6h0m1 6h0m0 0h0m0 4h0m1-9h0m0 9h0m0-6h0m0-1h0m1 2h0m1 0h0m1-7h0m2 6h0m1 4h0m2 0h0m0-1h0m2-2h0m0 3h0m1-6h0m0-1h0m0 1h0m1 7h0m1-9h0m1 8h0m2-3h0m0-4h0m0 5h0m1-3h0m3 3h0m0-3h0m1-4h0m0 9h0m1-6h0m0 5h0m2-1h0m1-1h0m1 0h0m1-5h0m1 0h0m3 3h0m9 6h0m0-10h0m0 3h0m4 7h0m0-10h0m1 9h0m0 1h0m0-10h0m0 1h0m0 8h0m1-6h0m0 6h0m2-6h0m0 2h0m0 0h0m0-4h0m1 3h0m0 7h0m1-3h0m2-8h0m0 4h0m0 2h0m1 1h0m2-1h0m1 0h0m1 4h0m0-10h0m1 2h0m0-1h0m0-1h0m1 2h0m1 5h0m0 4h0m1-7h0m0-3h0m1 5h0m0 5h0m0-1h0m1-3h0m1 3h0m0 0h0m0-10h0m0 2h0m1 7h0m0-7h0m0-2h0m2 6h0m0-6h0m0 2h0m0 7h0m1-3h0m0-6h0m0 8h0m1-5h0m0 8h0m0-11h0m1 11h0m0-6h0m1 1h0m0 1h0m0-7h0m1 8h0m0 2h0m0-4h0m0-4h0m2 1h0m1 1h0m2 6h0m0-1h0m0-2h0m1-3h0m1 2h0m0-7h0m0 2h0m1-1h0m0 9h0m1 0h0m0-5h0m1-5h0m0 10h0m1-9h0m0 8h0m1-7h0m0-2h0m2 8h0m2-7h0m0 8h0m0-3h0m1 1h0m1-6h0m0 3h0m1-2h0m2 6h0m1-5h0m0 7h0m0-5h0m0 3h0m0-7h0m1 8h0m1-8h0m0 6h0m0-4h0m1 1h0m0 2h0m0-2h0m1 3h0m2-4h0m0 1h0m1 5h0m2-3h0m0-1h0m3 2h0m1-6h0m3 1h0m0 0h0m0 8h0m1 0h0m1-8h0m0-1h0m3 7h0m1 3h0m4-4h0m0-7h0m1 7h0m1-4h0m0 0h0m1 4h0m3-4h0m0-2h0m0 3h0m0-4h0m-6 13h0m-2 0h0m-2 2h0m0 0h0m-1 4h0m-1 0h0m-1-2h0m0 3h0m-2-5h0m0 6h0m-2-1h0m-1-2h0m-1 3h0m-1 1h0m0-4h0m0 4h0m-1-2h0m-1-1h0m-2 4h0m-1-8h0m0 8h0m-1-6h0m-1 5h0m-2-4h0m0-2h0m0 7h0m-1-7h0m0-2h0m-2 3h0m-1 1h0m-1 1h0m-1-6h0m0 7h0m-1 3h0m-1-2h0m-1-4h0m-1-3h0m0-2h0m-1 8h0m0-5h0m0 0h0m0 3h0m0 0h0m-1 5h0m-1 1h0m-2-6h0m0 4h0m-1-3h0m0-6h0m-1 5h0m-1 2h0m-2-3h0m0 7h0m0-11h0m0 5h0m-1 2h0m0-3h0m0 6h0m0 1h0m0-10h0m0 6h0m0-8h0m-1 3h0m0 0h0m0 6h0m-1 2h0m0-7h0m0-3h0m0 10h0m-1-6h0m-1-1h0m0-4h0m-1 7h0m0 0h0m-1-6h0m0 2h0m-1 3h0m0 4h0m0-2h0m-1-3h0m0 0h0m-1-5h0m-1 6h0m-1 0h0m0-6h0m-2 7h0m-1-3h0m0 1h0m-1-3h0m0 2h0m0 5h0m0-9h0m-1 2h0m0 2h0m0-1h0m-1 7h0m0-8h0m-1 5h0m0-2h0m-1 1h0m-1 3h0m0-1h0m-1-5h0m0 5h0m0-4h0m-1 4h0m0-1h0m-1 1h0m0-1h0m0-2h0m-3 0h0m0-1h0m-1 3h0m0 2h0m0 1h0m0-8h0m-1 5h0m0-6h0m-1 11h0m0-4h0m0-2h0m-2 6h0m-1-4h0m0-3h0m-1-1h0m-1 2h0m0 3h0m0-3h0m-1-1h0m0 2h0m0 4h0m0-3h0m-1-2h0m0-5h0m0 5h0m0-6h0m-1 1h0m0 1h0m0 0h0m-2 2h0m0 3h0m-1-3h0m0 7h0m0-3h0m-1-4h0m-2 4h0m-1-5h0m0 5h0m0 3h0m0-2h0m-1 2h0m-1-7h0m-1 3h0m0-1h0m-1 5h0m-2-8h0m-1 2h0m-1 1h0m-1-3h0m-1-2h0m-1 4h0m0 3h0m-1-1h0m-1-6h0m-1 1h0m0 9h0m-1-4h0m0-3h0m-1-2h0m0 7h0m-1-1h0m0-4h0m-1-3h0m0 8h0m-1-5h0m0-2h0m-1 0h0m0 1h0m0-2h0m0 4h0m-1 3h0m0-1h0m0-4h0m0 2h0m-2-5h0m-4 5h0m0 4h0m-1-1h0m0-2h0m-1-2h0m-1 0h0m0 6h0m-1-8h0m0 2h0m0-1h0m0 3h0m-1 1h0m-1-1h0m0-5h0m-1 3h0m0 4h0m0-3h0m-1 6h0m0-3h0m-1 2h0m0-5h0m0 6h0m-1-3h0m-1 1h0m0-4h0m-1 2h0m0 4h0m-1 1h0m0-9h0m0 5h0m0 2h0m-1-5h0m-2 6h0m0-4h0m-2-7h0m0 12h0m0-9h0m-2 5h0m0 2h0m0-4h0m0 3h0m-1-1h0m0 1h0m-2-2h0m0-4h0m-1 9h0m0-9h0m0 7h0m0-1h0m0-4h0m-1 2h0m0 2h0m0 1h0m0-3h0m-1-3h0m0-2h0m0-1h0m0 1h0m0 6h0m0 0h0m-2-4h0m0 5h0m-1 0h0m-2 1h0m0 1h0m-1-3h0m0 1h0m-2 3h0m0-12h0m-2 3h0m0 4h0m-3 1h0m-2 3h0m-1-3h0m-1-4h0m0 3h0m-1 2h0m-2-3h0m-3 3h0m-1 1h0m-3-8h0m-1 7h0m0 3h0m-1-5h0m-1 3h0m0 0h0m-1 2h0m-1 0h0m0-8h0m-2-3h0m-1 5h0m-1 5h0m-1-6h0m-1 4h0m-1 1h0m0-3h0m0-4h0m-2 7h0m0-10h0m-1 12h0m0-1h0m0-10h0m-1 10h0m0-7h0m-1 7h0m0-9h0m-1 7h0m0 0h0m0-2h0m0-5h0m-1-1h0m-1 3h0m-1 1h0m0 2h0m-1 3h0m-1-6h0m0 5h0m-1-9h0m0 1h0m0 0h0m0 4h0m-1 5h0m-3-2h0m-1-7h0m0 6h0m0-2h0m0 4h0m-1 2h0m-1-6h0m-1 0h0m-1-4h0m0 7h0m0-4h0m0 4h0m-2-3h0m-2 6h0m0-3h0m0-1h0m-1-3h0m0 0h0m-2 7h0m0-6h0m0 0h0m-1-3h0m0 7h0m0 1h0m-1-10h0m-2 9h0m-1-6h0m8 13h0m0 2h0m1-3h0m0 1h0m0 4h0m2-4h0m0-2h0m0 7h0m0-6h0m1 7h0m0-7h0m1-2h0m0 6h0m1-4h0m1 6h0m2-3h0m0-6h0m0 6h0m1-4h0m1 4h0m1 3h0m0-6h0m0 4h0m0-3h0m0-1h0m1-2h0m0 4h0m0 4h0m1-8h0m1 9h0m0 0h0m1-10h0m0 4h0m1 4h0m0-5h0m1 3h0m0 2h0m0 0h0m0-1h0m3-2h0m0-1h0m0 4h0m0-6h0m1 6h0m2-6h0m2 10h0m1-12h0m0 8h0m1-1h0m0 0h0m0 4h0m1-1h0m0-3h0m0-7h0m1 1h0m1 3h0m0-4h0m1 10h0m1 1h0m1-2h0m0-3h0m0-2h0m0 0h0m1-3h0m0 8h0m0-1h0m0 0h0m1-1h0m0-2h0m1 1h0m1 4h0m0-3h0m0 0h0m0 4h0m1-6h0m0 5h0m1-5h0m1 0h0m0 3h0m1 4h0m2-4h0m1-4h0m0 2h0m1 1h0m1-2h0m0 5h0m0-4h0m1 4h0m1-6h0m0 1h0m0 2h0m1 0h0m0-3h0m1-2h0m1 5h0m0-1h0m1 3h0m2-5h0m0 7h0m0-4h0m0 2h0m0-1h0m1-7h0m0 7h0m2 3h0m0-5h0m0 4h0m0-5h0m1-1h0m1 7h0m0-5h0m1-2h0m0 8h0m1-4h0m0-2h0m0-5h0m0 3h0m1 6h0m0-5h0m0-1h0m1 0h0m0 4h0m1-5h0m0 6h0m1-5h0m0 2h0m1-4h0m1 10h0m0-5h0m0-1h0m0-1h0m0 4h0m2-1h0m0-7h0m1 11h0m0-6h0m0 3h0m1 1h0m1-2h0m0-7h0m1-1h0m2 1h0m0 2h0m0 6h0m1 0h0m0-1h0m1 2h0m2-4h0m3 4h0m1-2h0m1 3h0m1 1h0m2-4h0m2 4h0m2 0h0m3-1h0m0-9h0m0-1h0m2 0h0m3 9h0m0-5h0m0-3h0m2 2h0m0 4h0m3 1h0m1 1h0m1 0h0m0-4h0m4 4h0m0-4h0m1 3h0m1-2h0m1 5h0m0-2h0m0-6h0m0 6h0m1 0h0m0 0h0m0-7h0m1 3h0m0-2h0m0 5h0m0 2h0m1-9h0m0 1h0m1 7h0m0-4h0m0 1h0m0-2h0m0 3h0m1-5h0m1-1h0m1 6h0m0-1h0m2 1h0m1-4h0m0 2h0m1 2h0m1-6h0m1 8h0m1-2h0m1-8h0m0 11h0m1-9h0m2 0h0m1-1h0m1 10h0m0 0h0m0-8h0m0 0h0m1 3h0m0-6h0m1 3h0m0 0h0m1 1h0m1-3h0m0 5h0m1-3h0m0 1h0m0 4h0m2 2h0m0-1h0m2-3h0m1-1h0m1 0h0m0-2h0m0 2h0m0-3h0m1-2h0m1 6h0m1 6h0m1-8h0m1 0h0m2 8h0m1-1h0m0-7h0m1-1h0m1 5h0m2 4h0m0 0h0m1-12h0m1 4h0m0 6h0m1-8h0m0 4h0m1-5h0m0 0h0m0 0h0m1 4h0m0 1h0m0-3h0m0 9h0m1-1h0m1-5h0m0-3h0m1 0h0m0 8h0m0-4h0m0-7h0m1 9h0m0-6h0m0-1h0m0 7h0m1-7h0m0 6h0m0-5h0m1 7h0m0-2h0m1 2h0m1-5h0m0-4h0m1 0h0m0 1h0m1 8h0m1-2h0m0 3h0m0 0h0m1 0h0m0-4h0m1-2h0m0 1h0m0 3h0m0-6h0m1 6h0m1-2h0m1 3h0m0-6h0m0 0h0m0 3h0m0-1h0m1 4h0m0-4h0m0 0h0m1-1h0m0-5h0m0 5h0m2 1h0m0-5h0m1 3h0m1-2h0m0 1h0m0 5h0m0 1h0m0 3h0m1-6h0m2-4h0m1 2h0m1-2h0m0 2h0m0-2h0m0 7h0m1 2h0m0-9h0m0 5h0m0-5h0m4-2h0m1 1h0m-10 12h0m-3 1h0m0-1h0m-1 5h0m0-2h0m-1-3h0m0 2h0m0-1h0m-1 3h0m0-2h0m0 4h0m-1-4h0m0 4h0m0 1h0m-2-3h0m-1-2h0m0-2h0m-1 10h0m0-10h0m-1 5h0m0-3h0m-1 1h0m0-3h0m0 9h0m0 0h0m0-3h0m0 1h0m-1-7h0m0 9h0m-2-7h0m0-2h0m0 10h0m-1-3h0m0-5h0m0 6h0m-1-4h0m0 1h0m0 0h0m0-2h0m-1 8h0m0-8h0m0-1h0m-1 4h0m-1-5h0m0 5h0m0 1h0m-1 1h0m0-7h0m0 0h0m0 9h0m-1-1h0m0-6h0m-1-3h0m0 4h0m0-4h0m-3 2h0m0 2h0m0 4h0m-1-2h0m0-6h0m-1 9h0m-1-6h0m-2 3h0m-2 1h0m-2 3h0m-1-5h0m-2-2h0m-1 0h0m0 0h0m-2 0h0m-1-3h0m-3 3h0m-1-2h0m-4 7h0m-1-7h0m-2 1h0m-1-2h0m0 1h0m0-1h0m0 10h0m-1-9h0m0 1h0m-1 2h0m-2 3h0m0-8h0m-1 9h0m0-2h0m-2 5h0m0-1h0m0-9h0m-1 0h0m0 0h0m-1 5h0m0 4h0m-1-6h0m-1 5h0m0-1h0m0 0h0m-1-3h0m0-3h0m0 0h0m-1-2h0m0 2h0m0 8h0m0-11h0m-1 1h0m0 0h0m-2 6h0m0-1h0m-1-5h0m0 6h0m-1-4h0m0 0h0m-1-2h0m0 5h0m-1 1h0m0 3h0m-1-1h0m-2-5h0m0 4h0m0-4h0m-1-1h0m0-3h0m-1 9h0m0 3h0m0-6h0m-1 1h0m-1 1h0m0-8h0m0 5h0m-1 0h0m0-1h0m0-1h0m0 7h0m0 1h0m0-1h0m-1-1h0m-1-2h0m-1-3h0m0 2h0m0-3h0m0 0h0m-1 0h0m-1 6h0m0 1h0m0-6h0m-1-1h0m0 3h0m0-5h0m-1 9h0m0-6h0m0-1h0m0 0h0m-1 7h0m0-1h0m-1-5h0m0 7h0m-2-3h0m0 0h0m-1-1h0m0 1h0m-1-6h0m0 3h0m0 4h0m-1-7h0m-1 2h0m0-2h0m-1 5h0m0 0h0m0 2h0m-1-3h0m0 3h0m0-2h0m0 2h0m-1 0h0m0-1h0m-1 3h0m0-6h0m-1 5h0m0-2h0m0-2h0m0 4h0m0-2h0m-1-1h0m-1 5h0m0-7h0m0 5h0m-1 0h0m-1-10h0m0 7h0m0 4h0m-1-6h0m-1-3h0m0 4h0m-1-5h0m-1 7h0m-1-3h0m0-3h0m0 7h0m-1 1h0m0 1h0m0-10h0m-1 5h0m-1-2h0m0 6h0m0-5h0m0-3h0m-2 7h0m-1 1h0m0-2h0m0-3h0m0-1h0m-1 6h0m-1-10h0m-1 0h0m0 12h0m0-9h0m-1 0h0m0 1h0m0 8h0m-1-10h0m0 2h0m0 7h0m0-4h0m-1-5h0m0 1h0m-2 4h0m0 4h0m-2-2h0m-1-1h0m0-1h0m0 2h0m-1-7h0m0 1h0m-1 6h0m0-6h0m0 0h0m-2 0h0m0 8h0m0-3h0m-1 2h0m0 0h0m-1 1h0m0-6h0m-2-1h0m-1 6h0m0-2h0m-2-8h0m0 0h0m-1 6h0m0-6h0m-5 2h0m-2 2h0m0 1h0m-1-1h0m-1 7h0m-1-10h0m-1 2h0m-2-1h0m0-1h0m-5 0h0m-1 9h0m-1-2h0m-5-8h0m-2 11h0m-3-5h0m-10-3h0m31 11h0m4 1h0m0 2h0m1-5h0m5 4h0m0 3h0m2-5h0m4-2h0m1 1h0m0 1h0m0-1h0m1 2h0m0 0h0m1 3h0m0 0h0m0-3h0m3-2h0m0 4h0m0 0h0m0 5h0m1-4h0m0 2h0m0 0h0m1 2h0m3-6h0m2-3h0m1 0h0m0 0h0m1 2h0m1 1h0m4-2h0m2 3h0m4-2h0m1-2h0m0 11h0m1-12h0m0 2h0m1 8h0m1-10h0m0 9h0m5 2h0m0-2h0m1-6h0m1 7h0m2-9h0m0 4h0m0 3h0m1 3h0m0-2h0m0-5h0m1-3h0m2 6h0m0 2h0m0-1h0m1-5h0m1 8h0m0-5h0m0-4h0m1-1h0m0 5h0m0-4h0m1 7h0m1 3h0m0-12h0m1 5h0m0 5h0m3 2h0m0-7h0m1 1h0m4 1h0m0 4h0m1 0h0m0-1h0m0-7h0m0 6h0m1 1h0m0 1h0m1-1h0m0 2h0m2-6h0m1 2h0m0-7h0m2 8h0m1-7h0m1 9h0m0-6h0m0 4h0m1-1h0m0-5h0m3 9h0m0-10h0m0 5h0m0-2h0m0 0h0m1-3h0m0 8h0m0-7h0m1 1h0m1-4h0m0 0h0m1 2h0m1 5h0m0 4h0m1-1h0m0-6h0m0 0h0m0 3h0m0-7h0m0 12h0m1 0h0m0-11h0m2 10h0m1-2h0m0-3h0m0 2h0m0-3h0m0 4h0m1-2h0m1-6h0m0 3h0m1 3h0m0-4h0m0 1h0m1-3h0m0 9h0m2 0h0m2-3h0m0 2h0m1-4h0m0 0h0m1 3h0m0 2h0m2-1h0m0-6h0m1 4h0m1 0h0m0 1h0m0-3h0m0 5h0m1-8h0m0 9h0m1-5h0m1 1h0m0-1h0m2-4h0m1 1h0m0 7h0m0-5h0m0 1h0m1 1h0m0-7h0m0 6h0m0 3h0m1-9h0m0 0h0m1 12h0m1-3h0m0-1h0m3 2h0m0 1h0m1-4h0m0 3h0m1-3h0m1-5h0m0 2h0m0 0h0m0 5h0m1-2h0m0-6h0m2 2h0m0-1h0m1 4h0m0-4h0m0 5h0m0-5h0m2 5h0m1 1h0m0-8h0m2 1h0m-4 17h0m-1 3h0m0-4h0m-1 0h0m0-1h0m-1 4h0m0 3h0m-2-8h0m0 1h0m-2 0h0m-1 4h0m-1-1h0m0 0h0m-1-1h0m0 3h0m0-2h0m-1-6h0m-1 11h0m0-9h0m0 4h0m-1-4h0m-1 8h0m0-11h0m-1 3h0m0-1h0m-1-2h0m0 2h0m-1-1h0m-1 1h0m-1 1h0m0 5h0m0 3h0m-1-7h0m0-2h0m0 2h0m-1 0h0m0 2h0m0 4h0m-1-3h0m0-3h0m0-1h0m0 5h0m-1 0h0m0-4h0m-1-1h0m-1 3h0m-1 2h0m-1-5h0m0 1h0m-3-2h0m-1 0h0m0 3h0m-1 1h0m0-5h0m-1 3h0m-1 2h0m-1 2h0m0-5h0m-1 4h0m-2-3h0m0 1h0m0 0h0m-1-4h0m-1 7h0m0 0h0m0-2h0m-1 5h0m-2-1h0m0 0h0m-1-2h0m-1-8h0m-1 2h0m-1 1h0m-1 4h0m0-3h0m0 2h0m-1 1h0m-1-2h0m0-3h0m-1-2h0m0 1h0m-1 5h0m-1-3h0m0-3h0m0 2h0m-6 3h0m-3-2h0m-1-1h0m-3 0h0m0 1h0m-3-1h0m-4-1h0m-2 0h0m-2 0h0m-1-1h0m-7 3h0m-7-2h0m68 12h0m2 10h0m0-9h0m1 7h0m2-7h0m0 5h0m0 2h0m0-2h0m1 2h0m0-1h0m0-3h0m0 6h0m2-7h0m0 6h0m0-1h0m4-5h0m0 7h0m0-6h0m0 7h0m1-3h0m0-1h0m0 2h0m0 1h0m0-1h0m1-9h0m1 11h0m0-3h0m0-4h0m2-2h0m1 0h0m0 7h0m0-2h0m1-7h0m1 5h0m0-1h0m-6 13h0m0-4h0m-1 6h0m-1-6h0m-1 1h0m-1 7h0m0-7h0m-1 0h0m0-2h0m0 7h0m-1-1h0m0-2h0m0-2h0m-1 1h0m-2 2h0m3 11h0m2 4h0m1-4h0m0-3h0m2-1h0m0 9h0m0-6h0m1 0h0m1-3h0m0 3h0m0-4h0m1 6h0m1-3h0m1 9h0m0 6h0m-1-5h0m0 0h0m-3-1h0m-1 1h0m0 0h0m-1 0h0m124 115h0m3-2h0m-7 16h0m-4 2h0m-5 9h0m-1 18h0m3 7h0m4-5h0m-3 7h0m-11 11h0m-6 9h0m-141 300h0" stroke="#c59f2f" stroke-width="4.2" stroke-linecap="round" fill="none" transform="scale(0.5)"/>
<path d="M563 1112h0m3 2h0m1-3h0m0 2h0m0 1h0m1 1h0m15 10h0m-1 3h0m-3-4h0m0 2h0m-2-5h0m0-2h0m-1 8h0m0-3h0m-1 3h0m0-8h0m0 5h0m-1-3h0m0 6h0m0-4h0m-1 0h0m0-7h0m-1 6h0m0-2h0m0-2h0m0 8h0m0-5h0m-1 3h0m0 2h0m-1-1h0m0-4h0m-2 2h0m0 3h0m-1 1h0m0-3h0m-9 14h0m4 0h0m1-6h0m0 7h0m0-3h0m1-3h0m0 0h0m0 6h0m0-1h0m2-8h0m1 5h0m0-4h0m1 8h0m0-9h0m0 2h0m2 0h0m0 4h0m1-6h0m0 0h0m0 1h0m1 7h0m1-4h0m0-4h0m1 4h0m1 3h0m0 1h0m0-9h0m0 4h0m0 0h0m1-2h0m0 5h0m0-4h0m0 3h0m1 1h0m0-2h0m1 1h0m0 1h0m1-8h0m0 8h0m0 4h0m1-5h0m1 3h0m0 10h0m0-7h0m-1 2h0m-2-1h0m-1 5h0m0-1h0m-1-4h0m-1 2h0m-1 0h0m-1 2h0m0 1h0m0 0h0m-1-5h0m0 8h0m0-10h0m-1 1h0m0 3h0m0 0h0m-1-2h0m-2-1h0m-1 9h0m0-4h0m0-2h0m0 0h0m-2 1h0m0-3h0m0 4h0m0 1h0m0-6h0m0 5h0m0 1h0m-1 2h0m0-7h0m-1-1h0m-1 1h0m-1 7h0m0 3h0m0-6h0m0 4h0m-2-5h0m0 5h0m0 2h0m0-1h0m0-10h0m-1 4h0m-1 1h0m-1 6h0m0-10h0m0 10h0m-1-1h0m-5 1h0m2 9h0m0-8h0m0 7h0m0-3h0m1 6h0m0-8h0m0 7h0m1-3h0m0-1h0m0 3h0m1 0h0m0-2h0m0 2h0m1 3h0m0-10h0m0 3h0m1 5h0m0-3h0m3-1h0m9-6h0m-15 13h0m-3-1h0m-1 6h0m-1 2h0m-1 2h0m-7 13h0m2 1h0m2-10h0m1 3h0m2 0h0m1-5h0m0 6h0m0-1h0m0 0h0m-2 8h0m0 5h0m-1-4h0m-2 5h0m-2 1h0m-1 2h0m0-4h0m-1 4h0m0 1h0m-1-3h0m-1-2h0m0 6h0m-2 6h0m1-5h0m1 1h0m1 0h0m1 8h0m1-9h0" stroke="#b07fc0" stroke-width="4.2" stroke-linecap="round" fill="none" transform="scale(0.5)"/>
<path d="M849 933h0m-2-2h0m0 3h0m-1-1h0m-1 1h0m-2 2h0m-1-3h0m-1 1h0m-1 2h0m-2-1h0m-1-4h0m-4-1h0m-1 3h0m0 2h0m-3-4h0m0 0h0m0 4h0m-1 1h0m0-6h0m-1 5h0m-1 1h0m0-1h0m0-4h0m-2 1h0m0 3h0m0-7h0m-1 6h0m0-3h0m-1 5h0m-1-4h0m0 3h0m0-5h0m0 4h0m0-4h0m-3 6h0m-2-8h0m0 3h0m-1 2h0m-1-3h0m0-1h0m-1 2h0m-1 4h0m0-3h0m-1-2h0m-1-1h0m0 2h0m-1 3h0m0 0h0m-1-6h0m0 7h0m-1 0h0m-2 0h0m0-1h0m-1-5h0m-4 1h0m-2 1h0m0 3h0m0 2h0m-1-4h0m0 1h0m-4-2h0m0 4h0m-1 0h0m-1-4h0m-3-2h0m0 1h0m0 3h0m-1-5h0m-3 8h0m-1 0h0m-1-2h0m-1 1h0m0-3h0m-1 1h0m-1-2h0m-2-1h0m-1 2h0m-1 4h0m0-4h0m0 1h0m-2-3h0m-1 5h0m0-1h0m-1-3h0m-1 4h0m0-4h0m-2 0h0m0 4h0m0-2h0m-1 2h0m0 0h0m0-4h0m-1 1h0m0 2h0m-1 2h0m-2 0h0m0 0h0m-2-3h0m0 2h0m-1 0h0m-2 0h0m-1-3h0m-5 3h0m-3-1h0m-2 12h0m1-2h0m1-4h0m0 4h0m2 2h0m0-1h0m1 0h0m1-4h0m1 5h0m0-10h0m0 3h0m1-3h0m0 10h0m0 2h0m1-7h0m0 4h0m0-4h0m0 6h0m1 0h0m0-11h0m1 3h0m0 3h0m0 2h0m1 3h0m0 1h0m1-9h0m1 6h0m0-2h0m1 2h0m0 1h0m0-10h0m1 4h0m1 5h0m0 2h0m1-6h0m0 3h0m0-1h0m0 5h0m0-5h0m1 5h0m0-5h0m0-6h0m1 6h0m0 3h0m0 1h0m1-1h0m0-2h0m1-5h0m0 0h0m0-3h0m1 5h0m1 7h0m0-3h0m0-1h0m0-5h0m0-3h0m1 5h0m0-3h0m1 6h0m0 3h0m0-8h0m1 4h0m0 1h0m1 2h0m0-1h0m0 3h0m0-4h0m1-7h0m0 11h0m1-2h0m0-5h0m0-2h0m0-2h0m0 9h0m1-3h0m0-4h0m0 2h0m2 1h0m0-1h0m0 0h0m0 4h0m1 3h0m0-6h0m0-3h0m1 5h0m0-7h0m0 4h0m1-2h0m0 5h0m1-4h0m0-2h0m0 0h0m0 7h0m0-3h0m1 0h0m0 5h0m0-11h0m0 4h0m0 6h0m3-3h0m0 0h0m1 0h0m0-4h0m1 4h0m0 3h0m0-5h0m0-5h0m1 7h0m0-1h0m0 5h0m1-3h0m1 3h0m0-6h0m1 4h0m0-1h0m1 1h0m0 2h0m1 0h0m0-6h0m1 5h0m1-9h0m0 4h0m1 4h0m1 0h0m1 1h0m0-1h0m1-3h0m0-3h0m0 6h0m0-7h0m1 3h0m0 3h0m0 1h0m0-6h0m1 4h0m0 2h0m0 2h0m1-2h0m2-6h0m0-1h0m1-1h0m0 7h0m0 2h0m0-7h0m1-2h0m1 9h0m1 1h0m1 0h0m1-9h0m0-2h0m0 12h0m1-8h0m0-1h0m0 4h0m1 5h0m0-10h0m1-1h0m0 9h0m0-5h0m2 1h0m0-1h0m1 6h0m0 1h0m1-5h0m0 1h0m0 2h0m0 2h0m1-8h0m0-1h0m1 1h0m0 6h0m2 0h0m0-4h0m0 3h0m0-8h0m0 10h0m0-8h0m1 4h0m0-1h0m0-3h0m1-1h0m0-1h0m0 0h0m0 6h0m1-4h0m0 5h0m2-2h0m0 3h0m1 0h0m0-4h0m0 2h0m0-2h0m1-2h0m0 5h0m0 0h0m0-6h0m1 6h0m0 2h0m0-4h0m1-4h0m0 6h0m0-1h0m0-4h0m0-3h0m2 5h0m0-2h0m1 9h0m0-11h0m0 2h0m0 2h0m1 0h0m0-1h0m1 7h0m0-9h0m0 0h0m0 9h0m0 0h0m0-8h0m0 5h0m1 0h0m1-7h0m1 1h0m0 10h0m0-9h0m1-1h0m0 2h0m0-3h0m0 10h0m0-10h0m0 0h0m1 3h0m0-2h0m0 9h0m0-2h0m0-5h0m1 7h0m0-8h0m0 2h0m0 6h0m0-3h0m0-6h0m1 1h0m0-3h0m0 10h0m0-2h0m0-6h0m0 8h0m0-6h0m1 6h0m0 1h0m0-9h0m1-2h0m0 8h0m0 0h0m0-2h0m1 6h0m0-4h0m0-4h0m1 5h0m0 2h0m0-3h0m0-5h0m0 7h0m1-3h0m0-3h0m0 0h0m1 5h0m0 1h0m1 2h0m2-4h0m5 15h0m-1 0h0m-1-4h0m-1 4h0m0-10h0m-1 5h0m0 6h0m0-7h0m0 1h0m-1 1h0m0-3h0m-2 5h0m0-4h0m0 6h0m0-5h0m-1-5h0m0 10h0m0-5h0m0-1h0m0-4h0m-1 4h0m0 5h0m0-4h0m0 0h0m0 1h0m-1 2h0m0-5h0m-1-4h0m0 9h0m0-7h0m0 2h0m0 5h0m0 3h0m-1-8h0m0 5h0m-1-8h0m0 6h0m-1 4h0m0-2h0m-1 0h0m0 0h0m0-8h0m0 5h0m0 2h0m-1-3h0m0-4h0m-1 6h0m-1 1h0m0-7h0m-1 5h0m0-5h0m-3 7h0m0-1h0m0 2h0m0-8h0m-1 1h0m0 2h0m0 5h0m0 0h0m-3-6h0m0-1h0m0 9h0m-1-7h0m0-4h0m0 6h0m-1-3h0m-1-3h0m0 4h0m-1-1h0m0-2h0m0 10h0m-1-10h0m0 1h0m-1 0h0m0 3h0m0-5h0m0 0h0m-1 4h0m0 4h0m0-4h0m0-2h0m-1 3h0m0 5h0m-1-6h0m0 0h0m-1 1h0m0 4h0m0-1h0m0-4h0m0 4h0m-1-2h0m-1 1h0m-1 4h0m-1-5h0m-1-5h0m0 10h0m-1-10h0m-1 5h0m-1-6h0m0 8h0m0 2h0m-1-7h0m0 0h0m0-2h0m0 3h0m-1 0h0m0 4h0m0-4h0m-1 1h0m-1 2h0m-1-3h0m0 6h0m0-1h0m-2-4h0m0 1h0m0-5h0m-1 0h0m0 0h0m-1 9h0m-1-1h0m0-2h0m-1 2h0m0-6h0m0 4h0m-1 2h0m0-7h0m0 1h0m-1 0h0m0 1h0m-1 3h0m0-1h0m0 2h0m0-5h0m0 5h0m-1-7h0m0 7h0m0 0h0m-1 4h0m0-3h0m0-6h0m0 8h0m-1-6h0m-2 2h0m-1 2h0m0-7h0m-1 8h0m0-9h0m0 2h0m-1-1h0m0 1h0m0 6h0m-1 0h0m0-4h0m0 6h0m0-11h0m-1 11h0m0-6h0m0-2h0m0-3h0m-1 0h0m-1 9h0m0-9h0m0 6h0m0-5h0m0 6h0m-1 2h0m0 2h0m0-3h0m-1-4h0m0 0h0m0 1h0m-1 4h0m0-1h0m0-3h0m0 5h0m-1 1h0m0-9h0m0 3h0m-2 2h0m-1 1h0m-1 1h0m0-4h0m0 6h0m0-3h0m-1 2h0m0-1h0m0-2h0m0 1h0m0-8h0m-1 1h0m0 5h0m0 1h0m-1-6h0m0 0h0m0 6h0m0-7h0m-1 7h0m0-2h0m0-1h0m-1 0h0m-2 7h0m-2-1h0m-1-7h0m0 6h0m0-3h0m0 5h0m-1-8h0m0 4h0m-1-7h0m0 3h0m0 4h0m-1-6h0m0 3h0m0 4h0m0-3h0m0 3h0m0-3h0m0-1h0m-1-3h0m-1 7h0m-1-6h0m0-2h0m-1 8h0m0 2h0m0-5h0m-1-5h0m0 2h0m0 9h0m-1-8h0m0-2h0m-1 9h0m0-6h0m0 3h0m0-6h0m0 5h0m0-5h0m-1 6h0m0-3h0m0 5h0m-1-6h0m-1 8h0m0-3h0m0 1h0m-2-3h0m0 2h0m-1-8h0m-1 2h0m0 8h0m0-8h0m-1 8h0m0-9h0m-1 4h0m0-5h0m0 1h0m0 8h0m0 0h0m0-2h0m-2-4h0m-1 7h0m0-7h0m-1 7h0m-1-6h0m5 14h0m1-4h0m0-2h0m0 10h0m1-1h0m0 0h0m0-7h0m1 9h0m0-6h0m1-2h0m0 0h0m0 3h0m0 3h0m0-9h0m1 7h0m0 1h0m0-7h0m0 7h0m1-5h0m0 3h0m0-5h0m1 8h0m0-5h0m0 6h0m0-9h0m1 0h0m0 4h0m0 1h0m0 0h0m0-1h0m0 7h0m0-7h0m1 3h0m0-3h0m1-4h0m1 3h0m0 6h0m1-5h0m0-3h0m1 5h0m0-6h0m0 6h0m2-6h0m0 3h0m0 7h0m1-7h0m0 5h0m1-4h0m1 4h0m0 2h0m1-10h0m1 8h0m0 0h0m1-8h0m1 1h0m0 7h0m0-9h0m0 8h0m1 2h0m1-1h0m0 3h0m1-7h0m0 0h0m0-1h0m0-1h0m0-3h0m1 12h0m0-4h0m1-7h0m0 5h0m1-1h0m2 4h0m0-1h0m0-6h0m0 5h0m0 3h0m0-2h0m1 0h0m1 2h0m1-6h0m2-1h0m2-3h0m1 4h0m0 3h0m0 0h0m0-4h0m0 1h0m1 5h0m0-6h0m1-2h0m0 9h0m0-3h0m1 4h0m1-9h0m0 2h0m0 7h0m0-6h0m1 5h0m1-2h0m0-5h0m0-1h0m1 4h0m0-3h0m0 8h0m0-3h0m1 0h0m0 0h0m1 3h0m2-10h0m0 1h0m1 5h0m0 1h0m1-1h0m0 2h0m1 0h0m0 1h0m0-4h0m0 3h0m0 1h0m1-9h0m1 7h0m1 0h0m0 2h0m0-9h0m1 7h0m1-6h0m1 4h0m0 2h0m0-4h0m0-3h0m1 6h0m0-1h0m0 5h0m0-6h0m1-3h0m0-2h0m0 6h0m1 5h0m1-8h0m0 1h0m0 6h0m0-3h0m1 3h0m1 2h0m0-6h0m0 0h0m0 6h0m2-11h0m1 0h0m0 8h0m0 0h0m1-1h0m0-6h0m0 10h0m0-5h0m1-1h0m0 3h0m1-9h0m0 11h0m1-5h0m0 3h0m0-1h0m1 3h0m1-9h0m1 8h0m0 2h0m0-10h0m0 8h0m1-7h0m0 3h0m1-1h0m0-3h0m2 9h0m0-11h0m0 2h0m1 3h0m1 3h0m0-3h0m1-2h0m0-2h0m1 7h0m1 3h0m1-1h0m0-10h0m1 1h0m0 3h0m0 5h0m0-2h0m1 1h0m0 1h0m0 1h0m0-4h0m0 2h0m1-2h0m0-5h0m0 5h0m0-3h0m1 0h0m1-1h0m0 8h0m0-9h0m1 2h0m0 7h0m0-4h0m1-3h0m1 3h0m0 3h0m1-5h0m0 2h0m1 2h0m0 2h0m1-6h0m0 5h0m1-2h0m0 3h0m0 0h0m1-9h0m0 4h0m0-3h0m0 10h0m1-5h0m0 0h0m1 4h0m1-3h0m0 0h0m1 0h0m0 0h0m1-1h0m0-4h0m0 1h0m1-4h0m0 5h0m0 6h0m1-8h0m0 8h0m0-7h0m0 8h0m1-4h0m1-2h0m0 2h0m1-7h0m0 8h0m2 0h0m0-3h0m1 4h0m0-1h0m1 2h0m0-6h0m-2 14h0m-2-2h0m-1-2h0m0-2h0m-1 3h0m0 2h0m0 1h0m-1-4h0m-1 7h0m-1-6h0m0 4h0m0-4h0m-1-1h0m0-2h0m0 8h0m-1-2h0m0-5h0m0-2h0m-1 1h0m0 2h0m0 0h0m0 1h0m0 8h0m0-1h0m-1-9h0m0 6h0m0-1h0m0 4h0m0-5h0m-2 6h0m0-11h0m0 1h0m0 2h0m0-2h0m-1 4h0m-1-4h0m0 10h0m0-8h0m-1 4h0m0-7h0m0 2h0m0 5h0m0-6h0m-1 3h0m0 0h0m0 2h0m-1 3h0m0 0h0m-1-8h0m0-2h0m0 5h0m-1 0h0m0 6h0m0-3h0m0 0h0m-1-5h0m-1 0h0m0 2h0m0-4h0m0 4h0m0 4h0m0-3h0m0-2h0m-1 3h0m0-3h0m0-1h0m0 1h0m-1 1h0m0 3h0m0-4h0m-1-2h0m0 8h0m0-2h0m0 4h0m-2-6h0m0 5h0m0-9h0m0 1h0m-1 5h0m0 1h0m0 1h0m-1-2h0m0 2h0m0-3h0m0 0h0m0-3h0m0 5h0m-1-3h0m0 0h0m0 2h0m-1-5h0m-1-2h0m0 0h0m0 5h0m-1-3h0m0-1h0m-1 5h0m-1-6h0m-1 3h0m0 0h0m-1-1h0m0-1h0m0 2h0m-1 2h0m0 1h0m0-6h0m0 3h0m-1 0h0m0 8h0m-1-9h0m0-3h0m0 6h0m0-3h0m-1 5h0m-1 3h0m0 0h0m0-5h0m0 4h0m0-1h0m0 2h0m-1 0h0m0-2h0m0-1h0m0-2h0m-3 0h0m0-5h0m0 3h0m-1 6h0m0-7h0m0-2h0m-1 2h0m0 3h0m0-4h0m0 7h0m0-6h0m-1-1h0m0 8h0m0-9h0m-1 5h0m0 3h0m0 2h0m0-11h0m-1 7h0m0-3h0m0 2h0m0 1h0m-1-3h0m0 7h0m0-5h0m-1-5h0m0 1h0m0 7h0m0-1h0m-1 2h0m0 1h0m0-10h0m0 6h0m-1-4h0m0 6h0m0-5h0m0 3h0m0 1h0m0-2h0m0 0h0m-1 6h0m-1-6h0m0-6h0m-1 9h0m0-4h0m0 4h0m-1 3h0m-1-5h0m-1-6h0m0 0h0m-1 0h0m0 5h0m0 0h0m0-6h0m0 12h0m-1-2h0m-1-4h0m0 2h0m0-7h0m-2 8h0m-1-5h0m-1 4h0m0-5h0m0 5h0m-1-3h0m0-2h0m0 6h0m-1-3h0m0-4h0m-2 2h0m0 4h0m0-4h0m0 7h0m-1-9h0m-1 4h0m0 1h0m0-5h0m0 4h0m-1 4h0m0-4h0m-1 4h0m0-6h0m0 7h0m0-3h0m0 3h0m-1-2h0m0-3h0m-2-3h0m-1 2h0m-1-1h0m0-2h0m0 3h0m0 2h0m-1 2h0m0-2h0m0 0h0m0-2h0m-1 6h0m0-10h0m0 5h0m0 1h0m-1-4h0m0 1h0m0 3h0m-1-6h0m0 4h0m0-3h0m-1 4h0m-1 5h0m0-7h0m0 6h0m-2-3h0m0 3h0m0-4h0m-1 3h0m0-1h0m0-5h0m-1-2h0m0 2h0m0-3h0m0 12h0m0-1h0m-1-7h0m-1-3h0m0 10h0m0-3h0m0-7h0m0 6h0m-2 2h0m0 3h0m-1-2h0m0-4h0m0 2h0m0 1h0m0-9h0m0 11h0m-1-3h0m0-1h0m-1-7h0m0 9h0m0-5h0m0-1h0m0 2h0m-1-3h0m0 3h0m0-2h0m0 2h0m-1 3h0m0-3h0m0-4h0m-1 3h0m0-3h0m0 4h0m-1-1h0m-2-4h0m0 2h0m-1 0h0m6 11h0m3 5h0m2 2h0m1-5h0m0-1h0m0 2h0m0 1h0m0 1h0m1 0h0m0-4h0m1 3h0m0-2h0m0-1h0m0 0h0m1-2h0m0 0h0m0 8h0m1 2h0m0-10h0m0 11h0m0-8h0m1-1h0m0 7h0m2-8h0m0 3h0m0 5h0m1-8h0m2 11h0m0-2h0m0-2h0m1-3h0m0 5h0m0-2h0m1-3h0m0 4h0m2-1h0m0-4h0m1 6h0m0-1h0m0 0h0m1-1h0m0-2h0m0 2h0m1-1h0m0 4h0m0-8h0m1 6h0m3-1h0m0-3h0m0 0h0m1 2h0m0 4h0m1-4h0m0 0h0m1-4h0m1 5h0m0-5h0m1-2h0m0 9h0m0-4h0m1 2h0m0-5h0m1 3h0m1 3h0m0-6h0m1 2h0m0 7h0m0-12h0m0 4h0m0 1h0m1 2h0m0 4h0m0-10h0m0 11h0m1-7h0m0 2h0m0 2h0m0-1h0m0-7h0m1-1h0m1 11h0m0-5h0m1-4h0m0 4h0m1-5h0m0 8h0m0-2h0m1 3h0m0-6h0m0 3h0m0-1h0m0-2h0m1 0h0m0 2h0m0 0h0m1-5h0m0 9h0m1-7h0m1 8h0m0-3h0m0 0h0m0-2h0m0 5h0m1-2h0m0-7h0m0 9h0m0-10h0m0 6h0m1-5h0m0 6h0m0-5h0m0 3h0m0 1h0m0-6h0m1 3h0m0 4h0m0-6h0m0 9h0m1-8h0m0 0h0m0 1h0m0 7h0m1-7h0m0 8h0m0-3h0m1 2h0m0-7h0m1 5h0m0-8h0m1 6h0m0 4h0m1-6h0m0 0h0m0-3h0m1 0h0m0 3h0m1 7h0m2-8h0m0-2h0m0 4h0m0-3h0m0 2h0m2 0h0m0 6h0m0-6h0m1 3h0m1 1h0m1-7h0m0 6h0m0-2h0m1 2h0m0-4h0m3-2h0m1-2h0m0 12h0m0-11h0m1 5h0m1-2h0m0-2h0m0 7h0m1-5h0m0 7h0m0-4h0m1-4h0m0 7h0m1-8h0m1-1h0m1 10h0m1-10h0m0 6h0m1 1h0m1 2h0m0-6h0m0 7h0m0-10h0m1 7h0m0 1h0m1 1h0m0-9h0m2 2h0m0 5h0m0-1h0m0 3h0m0 2h0m0-5h0m0 3h0m1 0h0m1 0h0m0-1h0m2-9h0m0 7h0m0 4h0m0-5h0m0 1h0m1 2h0m0-8h0m0 6h0m1-3h0m0 5h0m0-6h0m1 8h0m1 1h0m1-8h0m1 4h0m0-6h0m0-1h0m2 9h0m0-9h0m0 2h0m0 4h0m-4 8h0m-3-2h0m-1 3h0m0-3h0m-6 1h0m0-2h0m0 4h0m-2-1h0m0 2h0m-2-3h0m-3 0h0m-1 3h0m-4-4h0m-17 0h0m-11-1h0m0 4h0m-1 0h0m-1-4h0m-1 2h0m0-1h0m-1 0h0m0 7h0m0-6h0m-1-1h0m0 0h0m-3 0h0m-1 3h0m0-2h0m0 3h0m0-3h0m-1 2h0m0 3h0m-1-1h0m0-3h0m0 2h0m0 6h0m-1-1h0m-2 2h0m-1-5h0m0 3h0m-2-4h0m-1-5h0m0 9h0m0-8h0m-1 4h0m-1 3h0m-2-2h0m-1-1h0m0-5h0m0 1h0m-1 5h0m-1-1h0m0 0h0m0 6h0m-1-8h0m0 3h0m-1-2h0m0 7h0m0-9h0m0 6h0m-1-5h0m-1-2h0m-1-1h0m0 2h0m4 13h0m0-3h0m0 2h0m2 3h0m2 5h0m1-6h0m0-3h0m1 4h0m0 1h0m0 4h0m0-3h0m0-1h0m1 3h0m0-5h0m1-3h0m0 5h0m0 0h0m1 1h0m0-6h0m0-1h0m1 6h0m0 3h0m1 1h0m0-6h0m0 5h0m1-1h0m0 2h0m1-10h0m0 8h0m0-2h0m0-6h0m1 10h0m0-6h0m0 4h0m1 0h0m0-6h0m0 1h0m1 1h0m1-3h0m0 2h0m0-3h0m0-1h0m1 4h0m0-3h0m1 4h0m0 4h0m0-3h0m0-5h0m1 7h0m0-4h0m1-3h0m0 0h0m1 2h0m3-1h0m-11 12h0m-3 4h0m-1-5h0m-2 1h0m-1-2h0m-1 5h0m-1-3h0m-215 601h0m-10-2h0m19 28h0m-23 0h0m-3 18h0m8 0h0m-30 21h0m17 2h0m20 8h0m-12 2h0m-7 12h0m96 2h0m9 19h0m3 10h0m-1 17h0m8-5h0m-3 19h0m-70 51h0m44 9h0m-38 25h0m33-10h0m22 21h0m-77 15h0" stroke="#1aab58" stroke-width="4.2" stroke-linecap="round" fill="none" transform="scale(0.5)"/>
<path d="M755 1126h0m-1 0h0m0-4h0m-3 4h0m-2 1h0m-1-3h0m0 3h0m-1-3h0m-1 4h0m-17 10h0m8 0h0m1 2h0m0-10h0m0 7h0m1-4h0m0 6h0m1 0h0m0-9h0m0 3h0m1-4h0m1 5h0m0-5h0m0-1h0m0 5h0m0 1h0m1 1h0m0 5h0m1-1h0m0-3h0m0-3h0m0 4h0m2-2h0m0 1h0m1 1h0m1-5h0m1 0h0m0 1h0m1 1h0m1-4h0m1 6h0m3 1h0m0-9h0m0 8h0m1-1h0m0-5h0m1 2h0m0-1h0m1 3h0m0 1h0m1 0h0m0-3h0m0 8h0m2-6h0m0 4h0m0-7h0m1 1h0m1 1h0m1 6h0m0-1h0m3-6h0m0 7h0m1 0h0m0-2h0m0-2h0m1 2h0m1 1h0m0-4h0m0 5h0m0-3h0m0 3h0m4-1h0m11 9h0m-4 3h0m0 1h0m0 0h0m-1-3h0m0-3h0m-2 0h0m0 0h0m-2 7h0m0-3h0m0 1h0m-1 0h0m-1-8h0m0 6h0m-1 2h0m0-5h0m0 4h0m-1-7h0m-1 5h0m-1-6h0m0 7h0m0-1h0m0 1h0m0 0h0m-1 2h0m0-4h0m0 2h0m-1 1h0m0-4h0m-1-3h0m0 4h0m0-4h0m-1 6h0m0-3h0m-1-4h0m0 5h0m0 2h0m-1-2h0m0-2h0m0-3h0m-2 10h0m0-9h0m-1 5h0m0 3h0m0 0h0m0 0h0m0-6h0m-1 4h0m-1 2h0m-1-8h0m0 2h0m0-4h0m-1 10h0m0-8h0m0-2h0m-1 10h0m0-7h0m0 2h0m0-5h0m-1 8h0m0 2h0m0-7h0m-1 4h0m0 3h0m-1-7h0m0 5h0m0-3h0m-1 0h0m0-2h0m-1 5h0m-1-6h0m0-1h0m-2 1h0m0 9h0m-1-2h0m0 0h0m0-5h0m-1 4h0m0-1h0m0-2h0m0 5h0m-1 0h0m-1-8h0m0 3h0m-1-4h0m0 9h0m-2 2h0m0-2h0m-1 0h0m0-7h0m-1-2h0m0 2h0m-2 3h0m0-2h0m-2-2h0m-1 0h0m-1 3h0m0 6h0m-2-1h0m0 1h0m0-8h0m0-1h0m6 12h0m2 1h0m1 5h0m0 1h0m0-5h0m1-3h0m3 6h0m1-3h0m0 4h0m0-7h0m1 5h0m1-1h0m0 3h0m0-2h0m0-3h0m1-2h0m0 10h0m0-6h0m1 4h0m1-9h0m0 4h0m1 6h0m0 1h0m0-6h0m1 3h0m0-3h0m0 4h0m0-5h0m0 2h0m2 0h0m0-1h0m1-2h0m1-1h0m0 3h0m2-3h0m2 7h0m0-7h0m1 8h0m1-5h0m0-1h0m0-3h0m1 4h0m1 2h0m0 1h0m1-3h0m1 5h0m0-9h0m2 4h0m0-4h0m1 2h0m0 0h0m0-2h0m0 7h0m1 1h0m0-2h0m1-4h0m0 9h0m0-7h0m3 2h0m0-2h0m1 3h0m1-3h0m0-2h0m0 0h0m0 1h0m0-1h0m1 6h0m0-2h0m0-6h0m0 5h0m1 0h0m0 1h0m0-2h0m1-4h0m0 5h0m0-6h0m1 2h0m0 0h0m0 6h0m1-2h0m0-4h0m2-1h0m0-1h0m0 5h0m5 1h0m17 5h0m-13 9h0m-14-5h0m-7 1h0m-1-4h0m-5 3h0m-4-3h0m0 9h0m-10-3h0m-7 5h0m-4-3h0m6 8h0" stroke="#3c8fd6" stroke-width="4.2" stroke-linecap="round" fill="none" transform="scale(0.5)"/>
<path d="M916 1123h0m0 5h0m-1-4h0m0 4h0m-1-5h0m0 3h0m-1 0h0m0-1h0m0-2h0m0 2h0m0 0h0m0-1h0m-1 2h0m0 0h0m0-3h0m-1 0h0m0 3h0m0-4h0m-1 1h0m0 0h0m0 3h0m-1-4h0m-1-1h0m-1-3h0m7 10h0m0 1h0m1 1h0m1-2h0m1 3h0m0 0h0" stroke="#e8609f" stroke-width="4.2" stroke-linecap="round" fill="none" transform="scale(0.5)"/>
<path d="M902 1113h0m11 46h0m-17 17h0m-10 0h0m-34 6h0m3 4h0m1-4h0m0 3h0m1 0h0m0 0h0m2-2h0m0 1h0m2 0h0m3 3h0m1-2h0m2 3h0m0-1h0m2-1h0m2-2h0m3-2h0m3-1h0m0-1h0m3 7h0m1-10h0m1 10h0m0-6h0m2 5h0m0-2h0m0 2h0m0-1h0m1 2h0m3-10h0m0 5h0m0-1h0m1 6h0m0-6h0m1 6h0m1-3h0m1-2h0m0 3h0m0 0h0m1-7h0m0-2h0m0 11h0m1-9h0m0 6h0m2-7h0m0 9h0m1 0h0m0-4h0m1 4h0m0-8h0m0 10h0m1-2h0m0 1h0m2-3h0m1-3h0m1 4h0m1 3h0m2-7h0m0-2h0m1 5h0m0 3h0m1-3h0m0 1h0m2-4h0m0-1h0m1 1h0m0 5h0m2 1h0m0-6h0m4 18h0m-2-10h0m0 11h0m-1-6h0m-1-4h0m0 0h0m-1 3h0m-1-3h0m0 6h0m-1-5h0m0-2h0m0 10h0m0-9h0m-1 3h0m0-4h0m0 9h0m-1-10h0m-1 2h0m-1 7h0m0-9h0m-1 4h0m-1 5h0m0-4h0m-1 4h0m0-1h0m0 2h0m0-1h0m-1-2h0m0-6h0m-1 2h0m-2 9h0m0-9h0m0 0h0m-1 0h0m0 6h0m0-5h0m0-2h0m0 7h0m0-7h0m-1 5h0m0-3h0m-1-2h0m0 5h0m-1 4h0m0-5h0m0 5h0m-1-11h0m0 5h0m0 4h0m-1 1h0m0-1h0m-1 3h0m0-1h0m0 0h0m0-9h0m-1 0h0m0 1h0m0 1h0m0 0h0m0-2h0m0-1h0m-1 9h0m-3-3h0m-1-4h0m0 3h0m0 4h0m-1-4h0m-1 5h0m-1-9h0m0 8h0m0-7h0m0 2h0m-1-2h0m-1 9h0m0-5h0m0-1h0m-1 0h0m0 3h0m-1-4h0m0 3h0m0-3h0m-1-5h0m0 7h0m0-3h0m0 4h0m-1-5h0m0 3h0m-1 2h0m0-2h0m0-6h0m-1 11h0m-1-3h0m0-7h0m-1 4h0m-1 5h0m-2 0h0m-2-3h0m0-2h0m0 5h0m-1-6h0m0 2h0m0 5h0m-1-9h0m0 5h0m-1-7h0m0 1h0m0 10h0m-1-2h0m-1-6h0m-1-2h0m0 9h0m0-8h0m-1 2h0m-1 0h0m-1 1h0m0-3h0m-1-1h0m6 11h0m6 7h0m1 4h0m1 0h0m0-9h0m1 0h0m1 0h0m1 4h0m0 0h0m0-1h0m1 4h0m0-7h0m0 0h0m1 3h0m0-2h0m1 6h0m2 0h0m0 1h0m0-6h0m3 7h0m0-3h0m1-5h0m0 6h0m0-7h0m1 0h0m0 9h0m1-1h0m0-3h0m0 2h0m2 1h0m0 1h0m1 0h0m0-3h0m1 3h0m0-3h0m0-1h0m1-5h0m0 2h0m0 3h0m0-4h0m0 4h0m1-2h0m1-4h0m1 9h0m0-6h0m0 7h0m0-4h0m1-2h0m0 1h0m0 5h0m2-8h0m1-2h0m0 7h0m0-4h0m2 7h0m0-2h0m1-8h0m1 6h0m0-4h0m1-2h0m0 7h0m0-3h0m1 0h0m0 6h0m1 1h0m0-8h0m0 2h0m1 4h0m0-7h0m1 8h0m1-8h0m2 0h0m1 9h0m1-11h0m2 9h0m0-3h0m0-4h0m1 5h0m0-6h0m0 8h0m1 2h0m0-12h0m0 6h0m1 1h0m0 3h0m1-1h0m9 14h0m-1 1h0m-1 0h0m-1-4h0m-2 2h0m-3-6h0m0-4h0m-1 11h0m0-3h0m-1-3h0m0-4h0m0 9h0m-1-8h0m-1-1h0m0 3h0m0 7h0m0 0h0m-1 0h0m0-4h0m0 3h0m-1-8h0m0 10h0m-1-10h0m0 1h0m0 1h0m-1 5h0m0-2h0m-1-2h0m0 3h0m0 0h0m0-5h0m-1 1h0m-1-4h0m0 1h0m-1 4h0m0-3h0m-1 5h0m0 2h0m-1 1h0m-2 1h0m0-10h0m-1 6h0m0-2h0m0-3h0m0 0h0m-1 2h0m-1 4h0m-1-5h0m0 7h0m-2-9h0m0 7h0m0 2h0m-1-5h0m0-5h0m-1 1h0m-1-1h0m0 10h0m0-5h0m-1 1h0m-1-2h0m0 4h0m0 0h0m0-6h0m0 3h0m-1 0h0m0-4h0m0 9h0m-1-2h0m-2-3h0m-1-2h0m0 4h0m-1 3h0m-1-1h0m-1-9h0m-1 7h0m0-1h0m-1 3h0m-1-8h0m-1 3h0m-1 5h0m0 1h0m0-6h0m0 2h0m-1-3h0m0 5h0m0 1h0m-1 3h0m-1-5h0m-2-3h0m-1-3h0m-1 3h0m0 7h0m0-6h0m1 7h0m3 3h0m0-1h0m0 2h0m3-3h0m1 4h0m1-4h0m1 11h0m1-1h0m2 0h0m0-7h0m0 0h0m2 4h0m0 3h0m1-3h0m0-1h0m1 2h0m0-7h0m0 1h0m0 9h0m0-1h0m0-11h0m1 12h0m0 0h0m0-10h0m1 5h0m0 0h0m1-2h0m0 6h0m0-2h0m1-3h0m0 4h0m1-1h0m0-4h0m1-4h0m0 1h0m0 9h0m1-1h0m0-1h0m1 0h0m0 2h0m0-2h0m1-3h0m2 0h0m2-4h0m1 7h0m1 0h0m0 2h0m1-6h0m0 1h0m0-4h0m1 0h0m1 2h0m0-3h0m0 0h0m0 4h0m1 2h0m0 4h0m0-7h0m2 3h0m0-5h0m0 4h0m0-5h0m1 5h0m0 0h0m1 0h0m0-6h0m1 12h0m0-5h0m0 3h0m0-8h0m0-1h0m1 11h0m0-7h0m1-2h0m0 7h0m0-6h0m1-3h0m0 6h0m0-2h0m0-4h0m1 5h0m0-1h0m1 5h0m0-3h0m2-1h0m0 4h0m0-4h0m1-3h0m0 4h0m1-4h0m0 3h0m0-3h0m1-1h0m0 9h0m4-3h0m-4 6h0m0 0h0m-1 3h0m0 2h0m-2 2h0m-1 1h0m0-2h0m0-8h0m-1 5h0m0-2h0m-1-3h0m0 8h0m0-6h0m0 1h0m0 6h0m0 0h0m-1 2h0m0-10h0m0 10h0m-1-11h0m0 9h0m0-4h0m0 1h0m-1 5h0m-1-3h0m0-2h0m0-3h0m-1 9h0m-1-10h0m0 9h0m-1-8h0m0 8h0m0-10h0m0 10h0m-1 0h0m0 0h0m-1-5h0m0 0h0m-2 6h0m0-6h0m0-2h0m0 2h0m-2 3h0m0 1h0m0-3h0m-1-2h0m0-4h0m0 3h0m-1 6h0m-1 1h0m-1 0h0m-1-2h0m-1-4h0m0 3h0m0-6h0m0 2h0m-2-2h0m0 7h0m0-8h0m0 0h0m0 3h0m0-4h0m-1 6h0m-1 3h0m0 2h0m0-6h0m-1 3h0m0-7h0m-1 6h0m0 2h0m-1 0h0m0-7h0m-1 7h0m-1 3h0m0-5h0m-2-4h0m-7-2h0m-16 0h0m-9 0h0m35 11h0m2 2h0m0 0h0m0 3h0m2 3h0m1 3h0m0-7h0m1 3h0m1 0h0m1-5h0m1 7h0m0 0h0m1-4h0m1 3h0m0-8h0m1 4h0m1-2h0m1-1h0m1 6h0m0-6h0m0 2h0m1-2h0m1 1h0m0 4h0m1 3h0m0-7h0m1 4h0m0 5h0m1-7h0m0 5h0m1-6h0m0 7h0m1 0h0m1-9h0m0 2h0m0 9h0m1-6h0m0 3h0m0 1h0m0-4h0m1-2h0m0-3h0m0 7h0m0-5h0m0 6h0m1-3h0m1-4h0m0 7h0m0 2h0m1-6h0m1 0h0m0-4h0m1 10h0m0-5h0m0 3h0m1-8h0m1 0h0m-3 14h0m-5 1h0m-7-2h0m0 1h0m-2 0h0m-1-2h0m-3 1h0m-196 147h0m-20 3h0m-60-3h0m72 30h0m-7-10h0m-23 19h0m-34 38h0m21 15h0m-21 2h0m-15 3h0m-5-1h0m-14 1h0m-5-3h0m51 19h0m2-7h0" stroke="#18a882" stroke-width="4.2" stroke-linecap="round" fill="none" transform="scale(0.5)"/>
<path d="M244 1379h0m1-1h0m0 1h0m1 0h0m0 1h0m8 9h0m-1-1h0m-1 1h0m0-2h0m-1-3h0m-1-1h0m0 1h0m0-1h0m-1 1h0m0-1h0m0 1h0m0-1h0m0 0h0m-1 0h0m0-2h0m-1 0h0m0 2h0m0 0h0m10 9h0m0 1h0m1 0h0m0 2h0m1 0h0m1 2h0m0-2h0m0 1h0m0 0h0m0 2h0m1-1h0m1 1h0m0 1h0m1 0h0m0 0h0m0 1h0m0-1h0m1 1h0m0 4h0m0-3h0m0 0h0m2 2h0m10 11h0m0 1h0m0 0h0m-1-1h0m0-1h0m-1-1h0m0 0h0m-1-1h0m0 1h0m-1 0h0m-1-4h0m0 0h0m-1 1h0m0-2h0m-1 0h0m0 0h0m-1-2h0m0 0h0m0 1h0m-2-2h0m12 13h0m0 0h0m0 2h0m1-2h0m0 1h0m1 0h0m0-1h0m0 2h0m0 1h0m0 6h0m0-6h0m0-1h0m1 2h0m0 0h0m0-1h0m0 1h0m1 3h0m0-3h0m0 1h0m1 2h0m0 1h0m1 0h0m1-1h0m0 0h0m0 1h0m0 2h0m0-1h0m0-1h0m0-3h0m0 5h0m0 0h0m1-2h0m0 1h0m1 0h0m0 0h0m0 1h0m1-1h0m1 2h0m0-2h0m0 1h0m2 1h0m0 0h0m1 0h0m0-2h0m10 2h0m-1 1h0m-1 1h0m-1 0h0m0 1h0m-2-2h0m-1 0h0m0-1h0m-1 3h0m0 0h0m-2 0h0m-1-1h0m0 1h0m-1-1h0m0-1h0m0 1h0m0 2h0m-1-1h0m0-2h0m0 3h0m0-1h0m0 0h0m0-1h0m-1 2h0m0-2h0m0 2h0m0 2h0m0-5h0m0-1h0m0 5h0m0-4h0m-1 0h0m0 1h0m0 4h0m0-1h0m-1-2h0m0 1h0m0-3h0m0 1h0m0 3h0m-1-1h0m0-1h0m0 2h0m-1 1h0m0-5h0m0 1h0m-1 2h0m0 0h0m0-4h0m0 7h0m0-4h0m0 3h0m-1-4h0m0 3h0m0-2h0m-3-1h0m-1 7h0m-3 0h0m0 1h0m-1 0h0m0-1h0m-1 2h0m0 0h0m0 1h0m-3-1h0m-16 11h0m1 0h0m0 1h0m1-1h0m0 0h0m1-1h0m1 2h0m2-2h0m0-1h0m1-2h0m1 2h0m1-1h0m0-1h0m0 0h0m1-1h0m0 1h0m1-1h0m0-1h0m0 1h0m1-1h0m1-1h0m2-2h0m0 1h0m2-1h0m1 0h0m-18 11h0m0 1h0m-1 1h0m0-2h0m-1 0h0m-1 1h0m-1 0h0m-3 3h0m0-1h0m-1 2h0m0 0h0m0 0h0m0 1h0m0 0h0m-1-1h0m0 2h0m0-2h0m-2 1h0m0 2h0m-1 0h0m-1-1h0m0 1h0m0 0h0m-1 0h0m0 2h0m0-1h0m0 0h0m0 1h0m-2 0h0m0 1h0m-1 0h0m-1 0h0m-7 6h0m1-1h0m1-1h0m0 1h0m0-1h0m0 1h0m1-1h0m0 0h0m0 0h0m2-1h0m0 0h0m1-1h0m1-1h0m0 0h0" stroke="#1fa9e6" stroke-width="3.4" stroke-linecap="round" fill="none" transform="scale(0.5)"/>
<path d="M371 1437h0m0 0h0m0 0h0m-1 1h0m-3 2h0m0-1h0m-1 1h0m-1 0h0m0 0h0m-1 0h0m0-1h0m-1 1h0m-1-3h0m-1 2h0m0 0h0m0-4h0m-2 1h0m0-2h0m-1 4h0m0 0h0m-1-1h0m-1 0h0m-1 2h0m0-1h0m0 2h0m0-4h0m0 2h0m-1 2h0m-1-3h0m-1 3h0m0-2h0m-1-2h0m0 1h0m0 2h0m0-1h0m-1 0h0m-1 1h0m0-1h0m-1-1h0m0 0h0m0 2h0m-1-3h0m0 2h0m-1 1h0m-6-4h0m-3 1h0m-4-1h0m16 5h0m1 0h0m1 2h0m1-1h0m0 0h0m0 2h0m0-2h0m1 6h0m1 0h0m0-5h0m1 8h0m1-8h0m0 2h0m0 3h0m0 1h0m0-2h0m0 1h0m1 3h0m0-1h0m0 1h0m1-6h0m0-1h0m0-2h0m0 9h0m0 2h0m0-3h0m0-8h0m0 2h0m1 8h0m0-10h0m0 6h0m0-5h0m1 6h0m0 3h0m0-8h0m0-2h0m1 4h0m0 1h0m0-1h0m0 6h0m1-6h0m0-4h0m0 10h0m0-3h0m1 1h0m0-7h0m0-1h0m0 5h0m1-6h0m0 0h0m0 6h0m1 1h0m0-7h0m0 7h0m0-1h0m0-1h0m1 2h0m1-4h0m0 0h0m0-3h0m1 1h0m0 0h0m-6 14h0m-4-1h0m0-1h0m-2 1h0" stroke="#d86cb4" stroke-width="4.2" stroke-linecap="round" fill="none" transform="scale(0.5)"/>
<path d="M719 1497h0m0 2h0m1-1h0m2-1h0m0 2h0m2 0h0m2-3h0m0-1h0m1 3h0m1 0h0m10 11h0m-2-4h0m-2 5h0m-1-2h0m-1 0h0m0-1h0m-1-5h0m0 2h0m0 3h0m-1-2h0m-1-1h0m0 5h0m0 1h0m-1-6h0m-1 5h0m0 0h0m0-7h0m0-2h0m-1 9h0m0-5h0m0 3h0m-2-7h0m-1 8h0m0-2h0m-1 4h0m-2 1h0m0-1h0m0-5h0m-1 4h0m0 2h0m0-4h0m-2 4h0m0-8h0m-2-3h0m0 2h0m-1-1h0m0 7h0m-1-2h0m-1 5h0m-3-2h0m-5 3h0m-66 9h0m4-5h0m6 7h0m0-2h0m2 1h0m0 2h0m2-1h0m1-2h0m17 1h0m4-2h0m0 3h0m7-2h0m1-1h0m0 4h0m1-5h0m0-2h0m1 7h0m8-5h0m2-1h0m0 2h0m2-4h0m0 1h0m1 7h0m0-6h0m1 6h0m1-10h0m1 0h0m0 4h0m0 0h0m1-3h0m0 7h0m0-3h0m0 4h0m0-10h0m1 2h0m1 4h0m0-2h0m0 3h0m0-3h0m1 1h0m0-1h0m0 4h0m0 2h0m2-1h0m0-10h0m2 9h0m0-4h0m0-1h0m1 6h0m0-2h0m1-6h0m0 6h0m0-1h0m2 0h0m1 0h0m1-2h0m0 4h0m0-2h0m1-6h0m0 0h0m1 2h0m0 1h0m0 2h0m0 4h0m1-2h0m0 3h0m0-3h0m0-7h0m1 1h0m0 6h0m0-1h0m2-6h0m1 5h0m0-4h0m0 7h0m0 0h0m0 1h0m1-9h0m1 7h0m0-2h0m0 6h0m0-8h0m1 0h0m1-4h0m1 8h0m0-6h0m4 5h0m0 4h0m1-2h0m0 3h0m1-9h0m4 1h0m0 4h0m-3 5h0m-1 2h0m0-1h0m0 5h0m-1 3h0m0-8h0m0 3h0m-1 1h0m-1-3h0m0-1h0m0 0h0m-1 9h0m0-1h0m-1-6h0m0 3h0m0-4h0m0 2h0m0-4h0m-1 4h0m0-5h0m-1 5h0m0 0h0m0 6h0m-1-3h0m0 2h0m0-8h0m0 5h0m-1 2h0m0 2h0m0-10h0m0 6h0m0 2h0m-1-4h0m-3-1h0m0-3h0m0 4h0m-1 4h0m-1-1h0m-1 1h0m-1-9h0m0 2h0m-1 6h0m0-3h0m0 1h0m0-3h0m0 7h0m-1-4h0m-1-1h0m-1 7h0m0-10h0m0 0h0m0 5h0m-1 2h0m-2-4h0m0-2h0m-1 6h0m-1-4h0m0 7h0m0-3h0m-2 2h0m-1-9h0m0 8h0m0 2h0m-1-12h0m0 3h0m-1 2h0m0 5h0m0-3h0m0 0h0m-1 0h0m0-6h0m0 6h0m-1-3h0m0 0h0m0 0h0m0-2h0m0 3h0m0 3h0m-1-5h0m0 0h0m0 5h0m-2 0h0m0-4h0m0 2h0m0-1h0m-1-3h0m0 7h0m-1-5h0m0-2h0m0 3h0m0-2h0m-1 1h0m-1 3h0m0 1h0m0-7h0m-1 7h0m0 3h0m-2-4h0m0 4h0m-1-1h0m-1-1h0m-2 1h0m0-1h0m0-8h0m0 4h0m-1 7h0m-2-11h0m-1-1h0m-2 2h0m0 0h0m0 4h0m-1-3h0m0 4h0m-2 0h0m-1 1h0m-1-2h0m0-2h0m0 5h0m-1-7h0m0 3h0m-1-1h0m-1 5h0m-2-4h0m-2-1h0m-1 4h0m-2-6h0m-1 4h0m-11-6h0m-11 0h0m38 15h0m4 1h0m1-3h0m4 1h0m0-2h0m1 1h0m2 3h0m1-3h0m1 4h0m0-1h0m1 3h0m0-7h0m1 8h0m0-6h0m0 4h0m1 6h0m1-10h0m0 4h0m0 0h0m1-2h0m2 0h0m1 4h0m0-4h0m1 6h0m1-8h0m0 6h0m2-2h0m3-1h0m2-1h0m0 5h0m4-7h0m0 6h0m1-1h0m1-2h0m0 2h0m0 3h0m1-6h0m5 1h0m0-2h0m1 6h0m0-6h0m0-1h0m1 2h0m0 5h0m0 3h0m1-1h0m0-2h0m0-6h0m1-2h0m0 5h0m0-3h0m1 0h0m1 2h0m1-1h0m0 0h0m0 0h0m1 7h0m2-10h0m0 12h0m-1 1h0m-1 2h0m-1-3h0m-4-1h0m0 3h0m-2-1h0m-1-2h0m-1 2h0m-2-1h0m-5 0h0" stroke="#8c86c6" stroke-width="4.2" stroke-linecap="round" fill="none" transform="scale(0.5)"/>
<path d="M871 1517h0m6 5h0m3-1h0m3-1h0m5 4h0m0-1h0m1-1h0m2 0h0m0 2h0m0-11h0m1 3h0m1 1h0m0-4h0m0 6h0m1-2h0m1-4h0m0 6h0m1-4h0m0 4h0m0-3h0m1 3h0m0 0h0m0-1h0m1 1h0m0 3h0m1-1h0m0-5h0m0 1h0m0-1h0m1 1h0m0-1h0m1 3h0m0-1h0m0 4h0m1-3h0m0-7h0m3 7h0m1-3h0m0 6h0m2 0h0m0 1h0m1-4h0m0-2h0m4 7h0m0-5h0m6 4h0m4-2h0m1 0h0m5 2h0m3-2h0m2 2h0m7-2h0m6 2h0m7 0h0m8 4h0m-3 8h0m-1-3h0m-1 0h0m0-5h0m0 5h0m-2-6h0m0 4h0m0 5h0m0-2h0m-1-5h0m0 7h0m-1 0h0m0-2h0m-1-5h0m0 0h0m-1 2h0m-1 0h0m0 6h0m-1-1h0m-1-5h0m-1-5h0m0 5h0m-1 2h0m-1 3h0m0-2h0m-1-3h0m0-2h0m-1 2h0m0-4h0m0 8h0m0 1h0m0-7h0m-1-1h0m0 1h0m0 2h0m0 5h0m-1-7h0m0 1h0m-1 3h0m-1-2h0m-1 4h0m-1 0h0m0 0h0m0-7h0m0 0h0m-1 8h0m-1-6h0m0 5h0m-1-2h0m-1 2h0m0 0h0m0-5h0m0 5h0m0-6h0m-1 4h0m0 3h0m0-6h0m-1 0h0m-1-3h0m0 8h0m0-2h0m-1 3h0m0-6h0m-1 4h0m0-5h0m-1-3h0m-1 2h0m-1 3h0m0-2h0m-1-4h0m0 8h0m-1 1h0m0-6h0m0 6h0m-1-4h0m0-1h0m-2 6h0m0-4h0m-1-1h0m-1 6h0m-1-6h0m0-1h0m-3 6h0m0 0h0m-2 1h0m0 0h0m-2 0h0m-1-10h0m-1 8h0m-3-8h0m0 8h0m0-6h0m-1 8h0m0 1h0m-3-6h0m0 1h0m-1 1h0m0-4h0m0-2h0m0 9h0m-1 0h0m0-11h0m0 5h0m0 5h0m-1-9h0m0 4h0m0 0h0m0 6h0m-1 0h0m0-5h0m0 6h0m0 0h0m-1-8h0m-1 1h0m0-1h0m-1 8h0m0-7h0m0-3h0m-1 0h0m0 9h0m0 0h0m-1-2h0m-1-1h0m-1-1h0m0 4h0m0-6h0m-2-5h0m0 5h0m0 4h0m0-7h0m-1 2h0m0 4h0m0-7h0m0 7h0m0 2h0m0-4h0m-1 5h0m0-9h0m-1 0h0m0 8h0m0-7h0m-1 4h0m0-5h0m0 1h0m0 0h0m-1 4h0m-1-2h0m0 2h0m0-6h0m0 4h0m-1-1h0m0 5h0m-1-5h0m0-3h0m0 3h0m-1-1h0m-1 3h0m-1-2h0m-1 8h0m-1-3h0m-1-2h0m-1 0h0m0 5h0m-1-1h0m-2-1h0m0 1h0m0-1h0m-3 0h0m0 2h0m-6 1h0m7 1h0m2-2h0m1 4h0m1-2h0m0 1h0m1-3h0m0 7h0m1 1h0m0-5h0m1 5h0m0-6h0m1 2h0m0-1h0m0-2h0m2 9h0m0-9h0m1 2h0m3-3h0m0 6h0m0 2h0m0-5h0m3 6h0m0 2h0m1 0h0m0-3h0m0 1h0m0 0h0m0-6h0m1 2h0m0 3h0m0-2h0m1-4h0m0 2h0m0 4h0m1 1h0m1-8h0m1 10h0m1-9h0m0 3h0m1 2h0m0-3h0m1-2h0m1 10h0m1-3h0m0-5h0m1-1h0m0 8h0m0-8h0m1 5h0m0-3h0m0-3h0m1 9h0m0-2h0m0-5h0m1-3h0m1 10h0m0-9h0m1 4h0m0 4h0m1-1h0m1-3h0m0 1h0m1 1h0m1 4h0m0-1h0m1-5h0m1 1h0m0-2h0m0 7h0m1-10h0m0 8h0m1-4h0m0 0h0m0 4h0m0-5h0m0 5h0m1 1h0m0 0h0m1-3h0m0-5h0m1 8h0m0 0h0m1-4h0m0 2h0m1-5h0m0 2h0m1-4h0m0 1h0m1-1h0m1 1h0m1 6h0m0-4h0m1 6h0m1-3h0m1 4h0m0-12h0m0 12h0m1-10h0m1 3h0m0-5h0m0 8h0m1-6h0m0 5h0m1-3h0m1 5h0m1-3h0m0-2h0m6-1h0m1 3h0m0-4h0m1 7h0m1-3h0m2-4h0m1-1h0m0 11h0m0-6h0m3 4h0m1-1h0m0-5h0m0 7h0m1-4h0m0 3h0m0 1h0m1-7h0m0 8h0m1-7h0m0-4h0m0 4h0m1 4h0m2-4h0m1 6h0m0-6h0m0-2h0m0 7h0m1-2h0m0 2h0m0-6h0m0 6h0m1-5h0m0 0h0m0-1h0m3 8h0m1-11h0m1 2h0m0 9h0m1-3h0m2-4h0m0 4h0m1-6h0m2 5h0m1 1h0m4 1h0m-4 4h0m0 3h0m0 0h0m-1-1h0m-2-3h0m0 8h0m-1-5h0m0 3h0m0-2h0m-1 2h0m-1-6h0m0 6h0m0 5h0m-1 0h0m0-5h0m-1 3h0m0-1h0m0-6h0m-1 9h0m0 0h0m0-1h0m0-6h0m-2-3h0m-1 5h0m0-1h0m-1-4h0m0 3h0m-1 6h0m0-9h0m-1 2h0m0 7h0m0-8h0m-1-2h0m0 8h0m0 1h0m-1-6h0m-1-1h0m0 8h0m0 0h0m-1-3h0m0-5h0m0 6h0m0 0h0m-1-7h0m-2 4h0m-1 4h0m-3 0h0m0-3h0m-1 4h0m-1 1h0m-2-9h0m0 0h0m-1 5h0m0 2h0m-1-2h0m0-3h0m-2 2h0m-2 5h0m-3-5h0m0 5h0m-3-8h0m0 5h0m-4 3h0m0-9h0m0 3h0m-1 0h0m0 3h0m-1-9h0m0 1h0m-4 4h0m0 5h0m-1-5h0m0-3h0m-2 4h0m0-3h0m0-3h0m-1 5h0m-1-5h0m-2 11h0m0-7h0m0 0h0m-1-2h0m-1 0h0m0 4h0m-1-2h0m-1 3h0m-1-5h0m-2 2h0m0 3h0m0-3h0m0 0h0m0 8h0m-1-2h0m0-9h0m-1 0h0m-1 3h0m0-4h0m-1 8h0m-1-1h0m0 0h0m-1-6h0m0 10h0m0-6h0m-1-4h0m-1 8h0m-1-9h0m-1 10h0m0 1h0m-2-1h0m0-6h0m0 4h0m0 3h0m-1 0h0m0-5h0m-1-6h0m0 11h0m0-6h0m0 4h0m0-1h0m0 1h0m0-4h0m0 4h0m-1-1h0m-2-1h0m-1-6h0m0 7h0m-1 1h0m-4-3h0m-2-5h0m11 19h0m1-5h0m1-3h0m1 3h0m1 1h0m0 2h0m0-4h0m1 2h0m1 8h0m0-8h0m0-2h0m1 6h0m1 4h0m1-9h0m1 4h0m1 0h0m0 0h0m0-6h0m1 0h0m1 9h0m0-1h0m2 0h0m0-9h0m0 6h0m1 4h0m3 2h0m1-1h0m0-1h0m0 0h0m0-1h0m0-2h0m2 1h0m0-3h0m1 6h0m1-3h0m0 4h0m1-2h0m1-1h0m2-6h0m0 4h0m1-4h0m0 1h0m0 0h0m0 3h0m1 2h0m0-4h0m1-2h0m0 5h0m0-1h0m0 4h0m1-5h0m3 1h0m0-5h0m1 4h0m0-2h0m2-2h0m0 7h0m1-8h0m1 6h0m1-4h0m0 1h0m0 8h0m0-11h0m0 3h0m0 0h0m0 4h0m1 3h0m0-11h0m0 5h0m0 6h0m1-2h0m1-2h0m1 2h0m0 0h0m0-8h0m2 6h0m1-6h0m0 0h0m0 8h0m1-4h0m0 3h0m1-6h0m1 6h0m2-7h0m2 9h0m1 0h0m1-10h0m1 6h0m0-4h0m1 0h0m0 4h0m1-3h0m0 8h0m1-11h0m1 0h0m0 1h0m1 4h0m0 4h0m0 2h0m3-4h0m0 1h0m1-8h0m0 1h0m2 4h0m0 2h0m1 2h0m1 3h0m0-1h0m0 0h0m0-3h0m1 4h0m0-5h0m1-3h0m0 7h0m0-5h0m1 5h0m1-11h0m0 7h0m0 3h0m1-10h0m0 4h0m0-4h0m2 6h0m0-5h0m0 4h0m0 7h0m2-1h0m1-3h0m0 2h0m0-9h0m1 3h0m1-1h0m3 4h0m-2 10h0m0 6h0m-3-6h0m0 5h0m0-9h0m-1 5h0m0 3h0m0-6h0m0 0h0m0 3h0m-1-2h0m0 0h0m0 5h0m-1-2h0m0-2h0m0-5h0m0 1h0m0 10h0m0-5h0m-1-5h0m0 7h0m0-4h0m0 0h0m-1 2h0m-1-3h0m0 2h0m0 1h0m-1-4h0m0 10h0m0-1h0m-1 0h0m0-9h0m0 8h0m-1-7h0m-1-2h0m0 4h0m0 5h0m-2-4h0m0 1h0m-1-5h0m-1 6h0m0-2h0m-1 5h0m0-5h0m-3 1h0m-1 0h0m0 4h0m-1-9h0m-1 0h0m-1 4h0m-1-5h0m-1 1h0m-3 9h0m-1 0h0m0-8h0m-2 5h0m0-5h0m-3-3h0m-1 11h0m0-7h0m0 7h0m-1-10h0m0 1h0m-2 6h0m-2-6h0m-2 10h0m0-5h0m-1-6h0m-1 9h0m-1-2h0m-1 3h0m0-10h0m-3 5h0m-1-5h0m-1 9h0m0 1h0m-1-10h0m0 2h0m-1 1h0m0-2h0m-1-1h0m0 9h0m-1 2h0m0-4h0m0-4h0m-1 0h0m0-3h0m0 6h0m-1-1h0m-1-5h0m-2 2h0m0 3h0m0 1h0m-1-1h0m0 6h0m0-5h0m0-1h0m-2-4h0m0 0h0m-1 8h0m0-6h0m-1 6h0m-1-7h0m-1 0h0m0 0h0m-1 4h0m0 2h0m0-1h0m0-1h0m0-4h0m-1 2h0m0 3h0m-1 1h0m0-4h0m-1 1h0m-2-1h0m0 5h0m0-3h0m0 5h0m-1-5h0m0 2h0m0-4h0m-1 2h0m0 1h0m-2 4h0m-6 0h0m0-2h0m-20 10h0m12 2h0m3 1h0m1-4h0m2-1h0m1-3h0m0 2h0m1 2h0m0 3h0m1 0h0m1 0h0m0-6h0m0 3h0m1-7h0m0 2h0m1-2h0m0 9h0m0 1h0m2-9h0m1 2h0m2-2h0m0 9h0m1-10h0m2 10h0m0-5h0m0 4h0m0-9h0m1 10h0m1-2h0m0 3h0m1-9h0m0 1h0m1 3h0m1-5h0m0 5h0m1 6h0m1-9h0m1 0h0m0-3h0m1 11h0m0-1h0m2-9h0m0 7h0m1-6h0m0 0h0m1 3h0m0-3h0m1 3h0m0 2h0m1-4h0m0 5h0m1-1h0m0 2h0m0-7h0m1 9h0m1-7h0m0-1h0m0 7h0m0-9h0m3 9h0m0-5h0m0 5h0m1-7h0m1 2h0m2-3h0m1 6h0m1-2h0m0-1h0m1 7h0m0-8h0m1 4h0m0 2h0m0-4h0m1 0h0m0 4h0m1-6h0m0 2h0m0 4h0m1 0h0m0-7h0m1 6h0m1-2h0m0-3h0m0-2h0m0 9h0m1-3h0m0-1h0m0-6h0m0 9h0m1-2h0m0-3h0m0 1h0m1-6h0m0 4h0m0-2h0m0 6h0m1-2h0m1-5h0m0 10h0m0-3h0m1-5h0m0 3h0m1-5h0m0 6h0m1 0h0m0-2h0m1-3h0m1-2h0m0 10h0m1-2h0m4 4h0m0-8h0m1 6h0m1-8h0m1 2h0m0 2h0m0 3h0m2-8h0m0 10h0m2-9h0m0 4h0m0-3h0m1-1h0m0 6h0m2-1h0m0 5h0m2-5h0m3-4h0m0 1h0m0-4h0m1 1h0m0 8h0m0-5h0m1-1h0m1 5h0m0 3h0m0-3h0m2-6h0m0 6h0m1-7h0m0 0h0m3 11h0m2 3h0m-2 5h0m0 1h0m0-6h0m0-3h0m0 6h0m-2-4h0m-1 0h0m0 0h0m-1 7h0m0-4h0m0-3h0m-1 2h0m0 1h0m0 0h0m0 4h0m0-3h0m-1 3h0m0-3h0m0 1h0m-1 4h0m0-2h0m0 3h0m-1-4h0m0 1h0m-1-2h0m0 3h0m0-9h0m0 5h0m-1 1h0m0-2h0m0-3h0m-1 6h0m0 4h0m0-11h0m-1 3h0m0-1h0m0 8h0m0-7h0m-1 2h0m0 2h0m-3 0h0m0-2h0m0 5h0m-3 1h0m-2-5h0m-1 4h0m0-2h0m-1-2h0m0 1h0m-1 1h0m-2-3h0m-2 5h0m-1-9h0m-1 3h0m0-4h0m-1 2h0m-1 4h0m0-4h0m0-2h0m0 7h0m-1-3h0m0-1h0m-1 4h0m0 2h0m-1 1h0m0 0h0m-2-10h0m0 2h0m0 2h0m-1 0h0m-1 6h0m0-7h0m0 3h0m0 2h0m0-9h0m-1 6h0m0-5h0m0 10h0m0-4h0m-1 3h0m0-9h0m0 5h0m-1 3h0m-1-5h0m0 3h0m-1-4h0m0-3h0m0 3h0m0 4h0m-1 1h0m0 2h0m0-3h0m-1 1h0m0-2h0m-2-3h0m-1 8h0m0-10h0m-1 11h0m0-11h0m0 5h0m-2-2h0m0 0h0m-2 7h0m0-1h0m0-4h0m0 4h0m0-10h0m-1 9h0m-1-6h0m0 1h0m0 6h0m-1-6h0m0 2h0m0-5h0m-1 6h0m0-4h0m-1 2h0m0 2h0m-2-4h0m0 3h0m0-5h0m0 1h0m0 1h0m-1-1h0m0 1h0m0-1h0m-1 0h0m-1 3h0m0 0h0m0-5h0m0 1h0m0 0h0m-1 7h0m0-2h0m-1-4h0m0 5h0m-1 4h0m-1-8h0m-2 0h0m0 2h0m-1 5h0m-1-9h0m-1 7h0m-1 1h0m0-3h0m-1-1h0m0 1h0m-7 6h0m0-8h0m-1-2h0m-1 4h0m0 1h0m-1 2h0m0-2h0m0 4h0m-1 0h0m-1-6h0m-1 7h0m-1-6h0m0 5h0m-1-2h0m-2-5h0m-1 0h0m0 6h0m-3-2h0m-28 5h0m5 2h0m17 6h0m6-8h0m1 5h0m1-3h0m0 7h0m2-8h0m0 5h0m0 1h0m0-1h0m4 0h0m0-3h0m1-3h0m0 1h0m0-1h0m1 3h0m1 6h0m1-3h0m0-1h0m1 5h0m1-3h0m0-8h0m6 7h0m0 1h0m1-2h0m1-3h0m0 0h0m0 5h0m0-3h0m1-1h0m0 5h0m1-5h0m0-1h0m1 4h0m1-4h0m0-1h0m0 2h0m0-3h0m0 4h0m0-1h0m1 8h0m0-6h0m1-1h0m1-2h0m1 2h0m1 1h0m0 0h0m0 5h0m1-10h0m1 0h0m0 1h0m0-1h0m0 8h0m0-7h0m1 5h0m1-5h0m0-1h0m0 10h0m1 1h0m0-3h0m0 1h0m0-5h0m1-3h0m0 4h0m2 0h0m0 0h0m0-2h0m0 3h0m1 1h0m1-7h0m0-1h0m3 5h0m1-4h0m1-1h0m0 0h0m1 2h0m1 8h0m0-1h0m0-2h0m0 1h0m1-6h0m0 2h0m1-3h0m0 5h0m0 6h0m1-1h0m2-10h0m0 9h0m0 0h0m1-3h0m1-7h0m0 7h0m1 3h0m0-1h0m0 2h0m1-9h0m0 0h0m1 7h0m0-8h0m1 7h0m0 3h0m0-3h0m1-8h0m0 10h0m0-1h0m0-4h0m1-2h0m0 6h0m1 3h0m0-2h0m0-2h0m0-7h0m1 7h0m0-5h0m0 5h0m0-1h0m1 5h0m0-3h0m1-2h0m0 3h0m0-5h0m0 4h0m1-1h0m0-7h0m0 11h0m0-11h0m1 5h0m0-2h0m1 4h0m1-5h0m1 2h0m1 6h0m0-6h0m2 4h0m0-7h0m1 9h0m0-9h0m1 5h0m0-3h0m1-3h0m1-1h0m0 11h0m0-6h0m0-5h0m1 2h0m0 10h0m0-5h0m2 0h0m1 1h0m0 2h0m1-6h0m0 1h0m1-3h0m0 1h0m0 1h0m0 3h0m0-4h0m0 1h0m0-1h0m1 4h0m0 1h0m0 1h0m0-2h0m2-3h0m0 5h0m0-6h0m1 7h0m0-8h0m0 5h0m1 5h0m0-1h0m1-3h0m0-2h0m0 2h0m1 1h0m1-2h0m0-1h0m0 3h0m0-2h0m1 0h0m0 1h0m1-2h0m0 0h0m1 5h0m0-2h0m3-5h0m0 0h0m1 2h0m-5 8h0m-1 1h0m-1-3h0m0 10h0m-1 2h0m-1-4h0m0-7h0m-1 7h0m0-2h0m-1-3h0m0-1h0m0 7h0m-1-2h0m-1-1h0m-1-4h0m0 8h0m0-9h0m0 0h0m0 4h0m-1 7h0m0-9h0m-2-1h0m-1-2h0m0 11h0m-4-5h0m0-2h0m-1 0h0m0-2h0m0 3h0m-1 2h0m-2-2h0m0 4h0m-1-5h0m-1 6h0m-1-6h0m-1 1h0m0-2h0m-1 2h0m0-4h0m-1 9h0m0-6h0m-1 4h0m0-3h0m-1 0h0m0-2h0m0 3h0m-1 3h0m0-6h0m0 1h0m0-2h0m0-1h0m-1-1h0m0 5h0m0 1h0m-1-3h0m0 6h0m0-3h0m0 3h0m0-2h0m-1-4h0m0 0h0m-1-3h0m-1 5h0m0 3h0m0-2h0m0 5h0m-1-6h0m0 1h0m-1 2h0m0-8h0m0 11h0m0-7h0m0 7h0m-1-3h0m-1-2h0m0 3h0m0-1h0m-1-7h0m0-1h0m0 3h0m0 8h0m0-3h0m-1 1h0m0 1h0m-1 0h0m0-4h0m-1 0h0m-1-5h0m-1 6h0m0 0h0m-1 0h0m-2-1h0m-3 1h0m-1 0h0m0-4h0m-1 0h0m-2-3h0m-1 8h0m-2-2h0m-1 0h0m-3-2h0m0 1h0m0 5h0m-1-6h0m-1 3h0m0-7h0m0 2h0m-3 1h0m0-2h0m-2 9h0m-1 1h0m-1-6h0m0-4h0m0 10h0m-3-2h0m-2 1h0m-2 2h0m-1-7h0m-1 6h0m-1 0h0m-1 0h0m-1-3h0m-1 1h0m-1-5h0m-1 0h0m-1 3h0m0 0h0m0 2h0m0-8h0m-1 4h0m0 6h0m-2-4h0m-1-5h0m-1 3h0m-1 2h0m-1 4h0m-1-5h0m0-1h0m0 4h0m-1 1h0m0-10h0m0 11h0m-1-8h0m0 6h0m0-4h0m-1 2h0m-1 1h0m-2 2h0m-1-9h0m0 9h0m-5-7h0m3 20h0m5-10h0m0 0h0m1 6h0m1-7h0m1 8h0m1-2h0m0-5h0m1 4h0m0 7h0m0-1h0m1-6h0m1 0h0m0 5h0m0 1h0m1-5h0m0 5h0m0-10h0m1 9h0m0 1h0m1-11h0m1 3h0m0 0h0m0-1h0m0 4h0m1-3h0m0 7h0m0-3h0m0-4h0m1 9h0m1-4h0m0-1h0m1-2h0m0 1h0m0 0h0m1-1h0m0 3h0m0-3h0m1 2h0m0-4h0m0-3h0m0 5h0m0 7h0m1-5h0m1-1h0m0 5h0m0 0h0m0-5h0m0 2h0m1-1h0m0 2h0m0-5h0m0 1h0m0 2h0m1-4h0m0 2h0m0-3h0m0 2h0m1 6h0m0-7h0m1 6h0m0-6h0m0-3h0m1 9h0m1 0h0m1 1h0m0-6h0m1 2h0m1-5h0m1 1h0m1 3h0m0-4h0m1 4h0m0-2h0m3 0h0m2 1h0m1 5h0m0-2h0m2 2h0m1-5h0m2 7h0m1-8h0m1 4h0m4 3h0m0-7h0m1 3h0m1-2h0m2-1h0m3 1h0m2-2h0m0 1h0m1 8h0m4-6h0m1 4h0m2-1h0m0-5h0m1-2h0m1 11h0m2-1h0m0-4h0m1-3h0m1-3h0m2 8h0m2 0h0m0 2h0m2-1h0m0-3h0m0 2h0m1-9h0m0 11h0m1-3h0m0 3h0m0-2h0m0-4h0m1 1h0m1-2h0m0 4h0m1 1h0m0 0h0m0-2h0m0 2h0m1 0h0m0 1h0m1 0h0m0 0h0m1 1h0m0-7h0m1 1h0m1-2h0m0 2h0m0-5h0m0 11h0m1-3h0m0 2h0m1-7h0m0 7h0m0-7h0m0 6h0m1-7h0m0 0h0m0 6h0m1-4h0m1 2h0m0-6h0m0 2h0m0 2h0m1 1h0m2-5h0m0 4h0m-8 9h0m-1 1h0m0 4h0m0-6h0m-2 4h0m-2 3h0m0 2h0m0-3h0m-1 3h0m0 1h0m0-4h0m0 1h0m-1-4h0m0 1h0m-1 4h0m0 3h0m-1-6h0m0-2h0m-2 4h0m0 3h0m0-4h0m0-4h0m-1 0h0m0 7h0m-1-4h0m0-4h0m-1 0h0m0 1h0m-1 0h0m0 9h0m-1-1h0m0-1h0m0-3h0m-1-6h0m0 9h0m-2-7h0m0 7h0m-1-5h0m0 1h0m0 2h0m0-7h0m-1 2h0m0 7h0m0-7h0m-4-1h0m0 9h0m-2-4h0m0 2h0m-1 0h0m-4-6h0m-1 8h0m-1-7h0m-2 2h0m-1 5h0m0-3h0m-2-4h0m0 9h0m0-2h0m-1 1h0m-1-1h0m0-7h0m0-3h0m-1 5h0m0 5h0m0 0h0m-1 2h0m-1-2h0m0-7h0m-1 7h0m0-2h0m-1 2h0m0 0h0m-1-5h0m-1 2h0m-1-6h0m0 9h0m0-8h0m0 10h0m-1-6h0m-1-1h0m-1-2h0m-2 8h0m0-5h0m0 2h0m0 2h0m-1-5h0m0 2h0m-1-3h0m-1 1h0m0 3h0m-1 4h0m0-6h0m-1 5h0m-1-5h0m-1 4h0m0-9h0m-1 6h0m0-1h0m0 5h0m-1-9h0m0 9h0m0-2h0m-1 3h0m0-6h0m0-2h0m0-1h0m0-1h0m0 0h0m-1 1h0m0 0h0m-1 9h0m-1-7h0m0-1h0m-1 2h0m0 4h0m-1-1h0m0-3h0m-1 2h0m0-7h0m0 8h0m-1-2h0m0-4h0m0 5h0m0-7h0m0 8h0m-1 1h0m0 0h0m-1-4h0m0 1h0m0-4h0m-1 8h0m-2-3h0m0 3h0m0-6h0m0 5h0m0 2h0m-1-4h0m-2-7h0m0 6h0m-2 3h0m-3-3h0m0-6h0m4 17h0m1 3h0m0-7h0m0 0h0m3 3h0m0 5h0m0-1h0m0-2h0m1-4h0m0 6h0m1 0h0m0-5h0m1-3h0m0 2h0m2 2h0m0 1h0m0 2h0m0-6h0m0-2h0m1 12h0m1 0h0m0-10h0m1 4h0m1-4h0m0 1h0m0 5h0m0-3h0m1-3h0m0 5h0m0 1h0m1-7h0m0 8h0m0-2h0m1-3h0m0-3h0m0 7h0m0-2h0m1-6h0m0 11h0m1-4h0m1-2h0m1-3h0m1 0h0m1 2h0m1-1h0m1 4h0m0-6h0m1 8h0m0-8h0m0 0h0m2 11h0m0-6h0m0-4h0m0 2h0m1 1h0m0 1h0m0 4h0m0-9h0m2 7h0m2-5h0m1-1h0m0 7h0m0-6h0m1 7h0m0-8h0m2 1h0m0 7h0m0 1h0m0-4h0m1 1h0m0-5h0m0 5h0m1-1h0m0 5h0m1-5h0m2-1h0m0-5h0m2 5h0m0-6h0m0 3h0m0-2h0m1 4h0m0 3h0m1-5h0m0-3h0m0 6h0m2 3h0m0 1h0m1-1h0m0 1h0m1-9h0m6 1h0m1 2h0m2 0h0m1 1h0m0-4h0m1 2h0m0-1h0m0 0h0m2 0h0m0 3h0m1-3h0m0-1h0m1 3h0m1 0h0m0 2h0m1-2h0m0-3h0m1 4h0m1 2h0m3-6h0m0 2h0m2-3h0m-13 13h0m-2-1h0m-5 1h0m-6 0h0m-1 1h0m0 7h0m0 2h0m-2-11h0m0 4h0m-2-2h0m0 10h0m0-8h0m-1 0h0m0 1h0m-1 4h0m0 0h0m-1-2h0m-1 4h0m0-7h0m0 4h0m0-3h0m-1-1h0m0 5h0m0 2h0m0-2h0m0 2h0m-4 0h0m-1 0h0m0-8h0m-1 1h0m0 1h0m-1 4h0m0-8h0m0 7h0m-1 0h0m0 3h0m-1 0h0m0 0h0m-1-7h0m-1 3h0m0-1h0m0-4h0m0 0h0m0 6h0m-2 0h0m0-2h0m-1 6h0m-1-3h0m-3-7h0m0 2h0m-1 4h0m-1 0h0m0-4h0m0 5h0m-1-1h0m-2 1h0m-1 2h0m0-4h0m0 4h0m-1-6h0m-1-3h0m0 3h0m-1-4h0m0 5h0m-1-2h0m0 1h0m0-1h0m-1 2h0m-1-4h0m0 3h0m-1-3h0m0 0h0m-2-1h0m-1 0h0m11 13h0m6 7h0m3-7h0m0 0h0m0-1h0m1 0h0m1 3h0m1 1h0m1-4h0m1 2h0m2-2h0m2 5h0m1-1h0m2-3h0m1-2h0" stroke="#52b25a" stroke-width="4.2" stroke-linecap="round" fill="none" transform="scale(0.5)"/>
<path d="M891 1401h0m15 12h0m-4-7h0m-1 7h0m-1-4h0m0 0h0m0 5h0m-2-7h0m-1 2h0m-1-2h0m0 8h0m0-9h0m0-1h0m-1 9h0m-1-3h0m0 0h0m0 3h0m-1 1h0m0-2h0m0 2h0m0-2h0m0-8h0m-1 7h0m0-2h0m0 2h0m0 1h0m-1-1h0m0 3h0m-1 1h0m0-5h0m0-1h0m0 2h0m-1 2h0m-1 0h0m0 1h0m0 0h0m-4-8h0m-1 5h0m4 5h0m1-1h0m2 3h0m0 2h0m1-3h0m0 4h0m0-4h0m0-1h0m0 1h0m1 3h0m0-4h0m0 6h0m0-5h0m0 1h0m2-1h0m0 1h0m1-1h0m1 1h0m2 4h0m1-3h0m2 1h0m2 0h0m43 6h0m19 13h0m-9-5h0m0-1h0m0 2h0m-1 2h0m-1-8h0m-1 2h0m0 4h0m0-3h0m-1 3h0m0-4h0m-1 6h0m0-5h0m0 6h0m-1-8h0m-1 6h0m-2 3h0m0-5h0m-1 2h0m0 1h0m-2 0h0m0-4h0m0-3h0m-1-1h0m0 8h0m0-5h0m0-3h0m-1 9h0m0-7h0m-1-1h0m0 9h0m0 0h0m0-10h0m-1 4h0m0 1h0m0 5h0m-1-3h0m0-5h0m-1 0h0m0 0h0m-2 0h0m0 0h0m-2 8h0m0-9h0m-2-1h0m-1 7h0m0 1h0m-1-2h0m0-7h0m0 7h0m-1-3h0m0-4h0m0 9h0m-1-2h0m0-3h0m-1-2h0m0 4h0m-1 4h0m0 0h0m-3-7h0m-1 6h0m0-4h0m0 6h0m-1-4h0m-1 4h0m-2 0h0m0-6h0m-7 1h0m-30-4h0m-3 7h0m7 3h0m12 10h0m12-1h0m2-1h0m1-1h0m1-4h0m0-3h0m0 4h0m1-4h0m0 3h0m0 1h0m1-2h0m1-1h0m1 2h0m0 4h0m1 3h0m0-6h0m0 1h0m0 4h0m1-7h0m0 1h0m1 0h0m0-2h0m2 0h0m1 6h0m0 3h0m1-4h0m0-3h0m1-3h0m1 1h0m0 5h0m1-2h0m2 4h0m0-3h0m1-6h0m0 2h0m0 2h0m1 1h0m1 2h0m0-3h0m0 3h0m1 4h0m0-3h0m1-6h0m0 5h0m2-6h0m1 7h0m0 0h0m1-7h0m0 10h0m0-7h0m1 4h0m0-8h0m0 5h0m0-4h0m1 11h0m2-11h0m1 0h0m0 1h0m1 7h0m1 1h0m0-6h0m1-1h0m0 4h0m0-1h0m1-3h0m0 3h0m1-4h0m0-2h0m0 4h0m0 3h0m1-5h0m1 3h0m1 0h0m0 0h0m1 6h0m0-9h0m0 0h0m0 2h0m0 5h0m1-7h0m0 0h0m0 0h0m2 0h0m0-2h0m1 9h0m0-2h0m1-7h0m1 11h0m1-4h0m1-4h0m1 2h0m0-3h0m2-1h0m1 7h0m0-6h0m1 18h0m0-3h0m-1 3h0m-1-5h0m0 4h0m0 1h0m-1 1h0m0-1h0m-1-1h0m0-2h0m0-2h0m-1 3h0m0-3h0m0 5h0m0 1h0m-1-6h0m0 8h0m-2-1h0m0-1h0m-1-4h0m-1 0h0m0 3h0m-1-7h0m-1 11h0m-2-8h0m0 2h0m0-2h0m0 7h0m-1-10h0m-1 1h0m0 0h0m-1-1h0m0 2h0m0 2h0m0-4h0m-1 3h0m-1 2h0m0-5h0m-1 6h0m-4-3h0m0-4h0m-2 10h0m0-9h0m0 1h0m0 6h0m-3 0h0m0-2h0m-1 2h0m0 0h0m-1 1h0m-1-6h0m-1 8h0m0-3h0m0-5h0m0 2h0m0 6h0m-2-10h0m-1 4h0m-1-1h0m-1-1h0m0 1h0m-2-1h0m-2-1h0m-1 0h0m0 3h0m-4-1h0m-2 3h0m-1-5h0m-1-2h0m0 10h0m0-9h0m0 8h0m-2 3h0m0-3h0m-1-9h0m0 2h0m-1 4h0m-1-6h0m0 10h0m0-8h0m-1 1h0m0-3h0m0 10h0m0-1h0m-1-9h0m0 12h0m0-3h0m0-1h0m0-1h0m-1 4h0m0-8h0m-1-1h0m-1 0h0m-1 10h0m-1-6h0m-11 7h0m7 7h0m3 0h0m2-2h0m2 5h0m2-1h0m1-9h0m0 10h0m1 1h0m0-3h0m1 3h0m0-8h0m1 7h0m1-2h0m0-2h0m4-6h0m2 1h0m0 3h0m0-1h0m1-3h0m1 9h0m0-9h0m2 9h0m2-3h0m1-3h0m3 7h0m0-1h0m1-8h0m1 7h0m2 2h0m1-5h0m2 4h0m0-2h0m4-8h0m0 12h0m1-10h0m1 7h0m0-3h0m1-4h0m2 4h0m3-1h0m1-1h0m0-2h0m1-1h0m1 9h0m0-4h0m1-1h0m2-4h0m1 5h0m1 2h0m1-6h0m0 0h0m1 0h0m3 1h0m0-1h0m0 1h0m1 2h0m1 3h0m1-3h0m1-2h0m0 2h0m0 0h0m1-2h0m0-1h0m0 2h0m7 0h0m-1 13h0m-4 0h0m-2 2h0m-1-1h0m-1 5h0m0-6h0m-1 6h0m-1-6h0m-1 6h0m-2-1h0m-2-9h0m0 11h0m0-6h0m0-3h0m-1 2h0m0 3h0m0-6h0m0 3h0m0 0h0m-1 6h0m-1-4h0m-6-2h0m0 6h0m0 0h0m-1-8h0m0 5h0m0 1h0m-1 3h0m0-2h0m-2-7h0m0 3h0m-1 3h0m0-3h0m-1-5h0m0 6h0m-1 1h0m0-4h0m-1-4h0m0 4h0m-1 4h0m-2-2h0m0-4h0m0 3h0m0 3h0m-1 2h0m0-8h0m-1 8h0m0 2h0m0-6h0m0-5h0m-1 5h0m0-3h0m-1-2h0m-2 4h0m-1 2h0m-1-4h0m0-2h0m0 9h0m0-5h0m-1-4h0m-1 1h0m0 5h0m0-3h0m0 5h0m-1-4h0m0 0h0m-3 3h0m-1-2h0m-1-5h0m0-1h0m0 8h0m0-2h0m-2 5h0m-1-4h0m0 0h0m-1-3h0m0 5h0m-1 0h0m-1-3h0m-1 0h0m0-5h0m0 9h0m-2 1h0m-1-5h0m-3 0h0m-2-4h0m0 3h0m-1 4h0m0-6h0m-1 6h0m0-3h0m-1 0h0m0-6h0m-1 11h0m-6 6h0m3 4h0m3-2h0m1-1h0m1 2h0m0-4h0m1 7h0m1-5h0m1-6h0m0 11h0m0-10h0m1 10h0m0-3h0m1 2h0m0-5h0m0 5h0m1-3h0m0-1h0m0-4h0m0-1h0m0 2h0m1 2h0m0-5h0m0 1h0m0 10h0m1-5h0m0 4h0m0-7h0m0 2h0m0 3h0m1-7h0m0 8h0m0 1h0m1-9h0m1 0h0m1 8h0m0-4h0m1 7h0m0-5h0m1-5h0m1 0h0m0 6h0m0 3h0m0-2h0m1 3h0m0-6h0m0 1h0m1-4h0m0 5h0m0 1h0m2-8h0m3 6h0m0 0h0m1-6h0m0 0h0m1 9h0m1-9h0m0 11h0m0-5h0m1-3h0m0-2h0m0 4h0m0-3h0m0 7h0m1-7h0m1 2h0m1 2h0m1 2h0m0 3h0m0-10h0m1-1h0m0 3h0m1-4h0m1 10h0m0-8h0m1 1h0m1 6h0m1-6h0m0 8h0m1-9h0m0 5h0m1 3h0m1-6h0m0 5h0m1 0h0m0-8h0m0 1h0m1 2h0m0-1h0m0 7h0m1-10h0m0 4h0m1 5h0m0-4h0m0 3h0m1-7h0m1 5h0m0-5h0m0 4h0m1 2h0m0 3h0m0-9h0m2 6h0m0-3h0m0-2h0m0 4h0m1 5h0m1-5h0m0 5h0m0 1h0m0-7h0m0 5h0m1-10h0m0 10h0m0-6h0m0 4h0m1-1h0m0-7h0m1 7h0m0 1h0m0 0h0m0-3h0m1 2h0m0 3h0m0-5h0m0 3h0m1-1h0m0 5h0m1-3h0m0-7h0m0 2h0m0-4h0m0 10h0m1-7h0m0 4h0m0-6h0m2 10h0m1-8h0m0 2h0m2-3h0m0 3h0m0 3h0m0-8h0m6 4h0m-9 13h0m0-5h0m0 1h0m-1 5h0m-1 5h0m0-7h0m0 7h0m-1-4h0m0 0h0m-1-4h0m-1-3h0m-1 1h0m-1 4h0m0 1h0m-1 3h0m0-8h0m-1 8h0m0-3h0m0-5h0m0 10h0m-1-4h0m0-2h0m0 6h0m-3-3h0m-1-5h0m0 1h0m-1 5h0m-1-1h0m-1-5h0m0 6h0m0-8h0m-1 3h0m0 1h0m0-3h0m-1 7h0m0-5h0m-1 7h0m0-5h0m0-1h0m-1 1h0m0-1h0m0-1h0m-1 1h0m-1-3h0m-1 0h0m0-2h0m0 6h0m0 1h0m-1-5h0m0-2h0m0 7h0m-1-3h0m0-4h0m-1 0h0m0 3h0m0-2h0m-1 3h0m0 0h0m0 1h0m-1-3h0m0 1h0m-2 8h0m-1-8h0m0 2h0m-1 3h0m-2-1h0m0-3h0m-1 0h0m-1 3h0m0-7h0m-1 12h0m0-2h0m-1-2h0m-1-2h0m-1 4h0m-1-3h0m0 1h0m-1 2h0m-1-2h0m0 3h0m-1-10h0m0 6h0m-1 3h0m-1 1h0m-1-7h0m0 1h0m0 4h0m0-8h0m-1 4h0m0 0h0m0-2h0m-1 5h0m-1-3h0m0 0h0m-1-3h0m-1 2h0m0 1h0m0 0h0m-3 4h0m-1-6h0m-1-2h0m8 14h0m3 2h0m1 1h0m0-5h0m2 0h0m0 2h0m1 2h0m0-1h0m1 2h0m1-3h0m2 3h0m4 1h0m1-1h0m2-3h0m1 2h0m4-1h0m0-2h0m3 1h0m2 6h0m5-4h0m1 0h0m1 4h0m1-8h0m2 4h0m1 5h0m1 1h0m1-8h0m1 4h0m0-5h0m1-1h0m0 3h0m0 4h0m0-1h0m1-1h0m0-4h0m2 2h0m0-1h0m1-2h0m0 7h0m2-7h0m-121 82h0m3 2h0" stroke="#14b3c4" stroke-width="4.2" stroke-linecap="round" fill="none" transform="scale(0.5)"/>
<path d="M1185 1415h0m-1-1h0m-2 1h0m-1-3h0m0-2h0m-1 4h0m0 1h0m-1 0h0m0-1h0m-2 1h0m-2-3h0m2 5h0m0-1h0m0 4h0m1-3h0m0 8h0m1 0h0m0-6h0m0-1h0m1 2h0m0-1h0m1-1h0m0 8h0m1-8h0m1 9h0m0-3h0m1-2h0m0 6h0m1-7h0m1-4h0m0 7h0m1-2h0m1 5h0m1-1h0m1-1h0m4 3h0m3 10h0m0-8h0m-2 1h0m-1 9h0m-2 0h0m0-10h0m-1-1h0m0 4h0m-1-3h0m-1 2h0m0 4h0m-1 0h0m0 2h0m-1-5h0m0 1h0m0-6h0m-1 2h0m-1 4h0m0-3h0m-1 3h0m0-2h0m-1-1h0m-1 6h0m0-5h0m-1-2h0m0-1h0m-1 0h0m-1 0h0m-1 4h0m4 13h0m1-3h0m0 0h0m0 1h0m0 2h0m0 5h0m1-4h0m0-5h0m1-1h0m2 10h0m0 0h0m1 0h0m1-1h0m3 2h0m2-1h0m1-5h0m0 3h0m0-7h0m1 9h0m3-1h0m0 2h0m1 10h0m-1 1h0m0-8h0m0 9h0m0-1h0m-1-1h0m0 1h0m0 1h0m-1-4h0m0-7h0m0 6h0m0-5h0m-1 9h0m-1-8h0m0 5h0m0 2h0m0-3h0m-1-3h0m0 1h0m-1-1h0m0-1h0m0 3h0m0 5h0m-1-10h0m-1 1h0m-1 6h0m-1-7h0m-1 10h0m0-3h0m0-5h0m-2 2h0m0 3h0m-1-7h0m0 6h0m0-1h0m0 3h0m-1-4h0m0 6h0m0-9h0m-1 5h0m0 1h0m-1-1h0m0 0h0m0 3h0m-1-7h0m0 6h0m-3-4h0m0 6h0m5 11h0m1-9h0m0 8h0m1-7h0m1 3h0m0 0h0m0 1h0m1-3h0m0 3h0m0-2h0m2 4h0m0-6h0m1 3h0m0 0h0m1 1h0m1 0h0m0 1h0m0-1h0m1 4h0m0 0h0m0-4h0m1-2h0m0 5h0m1-4h0m0-2h0m1 4h0m0 5h0m0-5h0m2-1h0m0 1h0m1 5h0m0-3h0m1 0h0m1-3h0m1 4h0m0-5h0m3-1h0m-1 10h0m-1 4h0m-2-6h0m-3 5h0m0 6h0m0-5h0m-1-2h0m0-1h0m-1 8h0m0-10h0m0 1h0m-1 1h0m-1 1h0m-1-3h0m0 1h0m-2 8h0m-2-1h0m-1 3h0m-1-2h0m0 2h0m0-8h0m-1-3h0m0 6h0m0 3h0m0 0h0m-1-1h0m-1-2h0m0-6h0m-1-1h0m-1 16h0m7-3h0m0 6h0m1-5h0m1-1h0m0 6h0m1 5h0m2-4h0m0-5h0m2 8h0m0-1h0m1-7h0m1-1h0m0 4h0m1-3h0m1-2h0m3 8h0m0-8h0m7 18h0m-7-4h0m0 6h0m-1-3h0m0-5h0m0 6h0m0-1h0m-1-3h0m-1 2h0m0 5h0m0-9h0m0 4h0m-1 5h0m0 1h0m-1-1h0m-1-5h0m0-4h0m0 2h0m-1 0h0m-1 5h0m0-1h0m0 3h0m-1-3h0m-2 3h0m-2-2h0m-1 0h0m0-7h0m-1 3h0m-1 1h0m2 14h0m0 4h0m0-1h0m0-7h0m1 8h0m1-8h0m0 1h0m0 5h0m0-6h0m1 5h0m1-4h0m0 2h0m1 3h0m1-5h0m1-3h0m1 11h0m2-2h0m0-7h0m1-2h0m2 3h0m2 7h0m0-10h0m0 6h0m1 1h0m0-7h0m0 1h0m1 6h0m1-4h0m0 6h0m1-8h0m1 6h0m3-4h0m1 5h0m1 3h0m2 9h0m-2-3h0m-1 5h0m0-6h0m0-3h0m-1 5h0m-2 5h0m0-1h0m-1-5h0m0-5h0m0 9h0m0-3h0m0-4h0m0 7h0m-3 0h0m0-9h0m0 8h0m0-8h0m-4-1h0m-1 2h0m-3 1h0m-2 5h0m0 4h0m-1-2h0m0-3h0m0 5h0m-1-6h0m0 2h0m0-2h0m-1 2h0m-1-1h0m0-1h0m-2 2h0m0-7h0m-1 6h0m0 4h0m-6 2h0m4 11h0m0-11h0m1 10h0m2-5h0m3-5h0m0 0h0m1 1h0m0-2h0m0 8h0m1-7h0m1 3h0m3 5h0m1 2h0m1-5h0m0 5h0m1-8h0m2 3h0m0-5h0m1 10h0m0-11h0m0 1h0m1 6h0m0-5h0m0-1h0m1 8h0m0 3h0m1-5h0m1 3h0m0-10h0m0 12h0m0-9h0m1 0h0m0 6h0m2-3h0m0 5h0m1-3h0m0-6h0m0 4h0m0-4h0m0 7h0m1-7h0m0 5h0m1 0h0m0-3h0m0 4h0m0 3h0m1-2h0m0-6h0m1 5h0m0-8h0m0 9h0m0 1h0m1-5h0m1 2h0m0-6h0m0 1h0m1 1h0m0 6h0m1-4h0m0 5h0m0-7h0m0 3h0m0 3h0m0 3h0m1-1h0m0 0h0m0-7h0m1 7h0m6 8h0m0 3h0m0-6h0m-2 4h0m-1 0h0m-1 1h0m-1-4h0m0 0h0m0 0h0m0 6h0m0-5h0m-3 2h0m0-1h0m-1-3h0m-3-2h0m0-1h0m0 7h0m-1 1h0m0 1h0m0-9h0m-1-1h0m0 8h0m-1-5h0m0-2h0m0 2h0m-1-1h0m0 1h0m0 0h0m-2 8h0m-1-10h0m-1 7h0m-1-1h0m-2-6h0m-2 0h0m-2 0h0m0 4h0m0 1h0m-1 6h0m0-10h0m-3 8h0m0 1h0m0-3h0m-1-8h0m0 2h0m0 2h0m-2 2h0m0 3h0m0-3h0m-1-4h0m0-1h0m-2 2h0m0-3h0m0 7h0m-2 3h0m0-6h0m-11 9h0m8 11h0m0-5h0m1 5h0m1-3h0m1-8h0m1 2h0m1 2h0m1 6h0m0-5h0m0 1h0m1-5h0m0 7h0m1-6h0m1 3h0m0-2h0m0 6h0m0-7h0m0 2h0m1 5h0m0-1h0m2 0h0m0-4h0m0 6h0m2-1h0m0-9h0m0 10h0m0-9h0m0 0h0m2 1h0m1 0h0m1 1h0m0-2h0m1 4h0m0 0h0m0-5h0m1 8h0m0-7h0m1 0h0m0 10h0m1-6h0m0 4h0m0-2h0m0-3h0m0 6h0m0-4h0m1 4h0m1-2h0m1-9h0m0 8h0m0 2h0m1 2h0m0-2h0m0-4h0m2 2h0m0-3h0m0 7h0m0-1h0m1-1h0m0-9h0m1 10h0m0-8h0m2 9h0m0-7h0m1 5h0m1-5h0m1-2h0m0-2h0m0 5h0m1 3h0m0-8h0m0 1h0m0 4h0m1 2h0m1 3h0m0-4h0m0-3h0m2-2h0m1 3h0m1 2h0m0 1h0m0-6h0m1 10h0m2-5h0m4 0h0m0 2h0m-1 13h0m0 2h0m0-10h0m0 2h0m-1 8h0m0-5h0m-3 2h0m0 0h0m-1 2h0m0-9h0m0 9h0m0-6h0m0-1h0m-1 1h0m0-3h0m-1 9h0m0 0h0m0 1h0m-1-2h0m0-8h0m0 6h0m0 2h0m-1-2h0m-1-4h0m-2 5h0m0-7h0m0 8h0m0-5h0m-2-3h0m0 9h0m-1 0h0m0-4h0m0 3h0m-1 1h0m0-4h0m0-3h0m-1 3h0m0 2h0m0-1h0m-1-1h0m0 2h0m-1-6h0m0 1h0m-1 4h0m-3-1h0m-1-6h0m0 10h0m-1-2h0m-1-3h0m0 4h0m0-6h0m-1-3h0m0 5h0m0-6h0m0 12h0m-1-9h0m0 0h0m-1 3h0m-1 3h0m0-8h0m-1 6h0m-1-6h0m0 6h0m-1 1h0m0-2h0m-1 0h0m0 1h0m-1-3h0m-1-1h0m-1 0h0m-2 6h0m-2 0h0m0 0h0m0-3h0m-1-5h0m-1 5h0m0 2h0m-1-2h0m0 5h0m0-11h0m0 7h0m-1-4h0m0-1h0m0 1h0m0 2h0m0-2h0m-1 0h0m-1-2h0m-2 7h0m-1 3h0m0 7h0m0 2h0m1-6h0m0 3h0m1 0h0m0 4h0m1-4h0m0 0h0m0 0h0m0-4h0m1 0h0m1 2h0m0 5h0m0-3h0m0-5h0m0 5h0m1 1h0m1 0h0m0 0h0m2-5h0m1 5h0m0 1h0m1 4h0m0-2h0m1 1h0m0 0h0m0-7h0m1 4h0m1 4h0m1-7h0m1 7h0m2-9h0m3 7h0m0 1h0m1-6h0m0-2h0m0 1h0m0 0h0m0 3h0m1-3h0m0 1h0m1-2h0m1-1h0m1 0h0m0 0h0m1 7h0m1 2h0m1-4h0m0-2h0m0-2h0m1 7h0m0-5h0m0-2h0m1 5h0m0-3h0m0 1h0m1-4h0m0 6h0m2 0h0m0-3h0m1-1h0m0 1h0m1 1h0m0-4h0m0 4h0m2 7h0m0-4h0m1-5h0m0 3h0m0-6h0m0 6h0m1-1h0m0 0h0m0 3h0m1-5h0m2-2h0m0 3h0m1 7h0m1-9h0m1 9h0m0-4h0m1-4h0m0 9h0m0-2h0m0-3h0m0-1h0m1-4h0m1 3h0m0-2h0m0 7h0m0 2h0m1-6h0m1-6h0m1 2h0m0 5h0m0 4h0m0-4h0m0-1h0m1 0h0m1-4h0m4 15h0m-1 7h0m-1-3h0m-1-5h0m0 5h0m-1-4h0m0-1h0m0 4h0m0-2h0m-1 4h0m0 1h0m-1-8h0m0 8h0m-1-6h0m0 3h0m-1 0h0m0-8h0m0 4h0m0 4h0m0 1h0m0-3h0m-1-2h0m0-2h0m-1 2h0m0-3h0m0 9h0m0 1h0m-1-11h0m-1 4h0m0 2h0m0-3h0m0 6h0m0-1h0m-1-7h0m0 0h0m-1 2h0m0 6h0m-1-2h0m-1 2h0m-1-7h0m-1 5h0m-1 4h0m-1-6h0m-1-5h0m0 11h0m-1-4h0m-2-3h0m0 1h0m0-1h0m-1 6h0m0-6h0m-1 3h0m-1 1h0m-2-6h0m0 9h0m0-3h0m-3-4h0m0 0h0m-1 1h0m-1 4h0m0-4h0m0 0h0m-1 3h0m-1 4h0m0-10h0m0-2h0m-1 3h0m0-2h0m0 11h0m-1 0h0m-1-7h0m0 1h0m-2 5h0m-2-10h0m-2-1h0m0 6h0m-1-1h0m-2 5h0m-1-3h0m0-2h0m-2-2h0m0 1h0m0-3h0m-1 7h0m0-4h0m-1 2h0m0 3h0m0-4h0m-2 4h0m-2 0h0m0-1h0m-1-7h0m-1 7h0m0-3h0m-2 1h0m0 11h0m1 6h0m1-5h0m1-1h0m0 2h0m0-7h0m1 2h0m0 1h0m0 8h0m1-11h0m0 8h0m1-2h0m0-3h0m1 1h0m0-2h0m0-1h0m1 2h0m1 8h0m2-10h0m0 2h0m1 6h0m0-8h0m0 0h0m0 1h0m1-1h0m0 1h0m1 8h0m0-8h0m0 7h0m0 0h0m0-3h0m0 5h0m2-4h0m0 5h0m1-8h0m0 5h0m0 2h0m0-10h0m1 1h0m0 6h0m1-8h0m0 8h0m1-7h0m0 5h0m1-2h0m1 6h0m1-9h0m1 4h0m1-2h0m2 7h0m0-1h0m1 0h0m0-8h0m1-1h0m0 9h0m1-5h0m1 0h0m0-3h0m1 7h0m0-6h0m0 0h0m2 8h0m0-7h0m0 8h0m0-1h0m0-1h0m1-8h0m0 1h0m0 1h0m1 9h0m0-6h0m0-4h0m0 4h0m1 2h0m0-3h0m1 1h0m0-1h0m1 0h0m1-1h0m2-1h0m1 6h0m1 2h0m0-9h0m1 6h0m1 1h0m0-6h0m0 2h0m1 3h0m0 3h0m1 0h0m0-3h0m0-5h0m1-1h0m1 8h0m1-10h0m1 12h0m0-10h0m1 10h0m1-7h0m0 6h0m0-9h0m1 7h0m0-7h0m0-1h0m1 10h0m1 0h0m0-6h0m1-2h0m0 3h0m1 3h0m0-3h0m1 2h0m2 0h0m0 8h0m-1 0h0m-1 7h0m-2-4h0m-1-5h0m0 1h0m0 5h0m0-1h0m-1-2h0m0-3h0m-1 0h0m0 9h0m0-11h0m-1 1h0m-1 1h0m0-1h0m-1 1h0m-2 10h0m0-5h0m-2-5h0m-2 9h0m-1 1h0m-1-11h0m0-1h0m-1 6h0m0-5h0m-1 1h0m-1 7h0m-2 0h0m-1 1h0m0 1h0m-1-10h0m0 0h0m0 10h0m-2-8h0m0 9h0m-1-2h0m0-6h0m-1 4h0m0-3h0m0-3h0m0 6h0m-1-3h0m-1 1h0m0 5h0m-1-8h0m0 0h0m0 5h0m-2-5h0m-1 0h0m-1 8h0m0-6h0m0-3h0m0 9h0m-1-10h0m-1 8h0m-2 1h0m0-2h0m0 2h0m0-1h0m0 3h0m-2-1h0m0-6h0m0 1h0m-1-5h0m-2 10h0m0-5h0m0 1h0m0 5h0m-1-11h0m0 1h0m0 6h0m-1-6h0m-1 3h0m0 4h0m-1-2h0m0 4h0m0-6h0m-1 1h0m0 0h0m-1 5h0m0-4h0m0 0h0m-1 2h0m-1-6h0m-1 2h0m0 1h0m-1-3h0m0-1h0m0 5h0m-1 5h0m0-7h0m0 5h0m-1-6h0m0 6h0m0-2h0m0 2h0m-1-9h0m0 3h0m-1 1h0m0 4h0m-1-2h0m0-4h0m0 3h0m-1 4h0m0-5h0m-1 12h0m0 4h0m1 2h0m2-10h0m0-1h0m0 9h0m1 1h0m0-1h0m0 3h0m0-1h0m2 0h0m1-3h0m0-3h0m0 7h0m0-9h0m1-3h0m0 7h0m0-6h0m1 7h0m1-1h0m1 2h0m0-1h0m1-8h0m1 4h0m1 6h0m0-8h0m0 4h0m1-4h0m4 8h0m0-6h0m1 7h0m0-6h0m0 5h0m0-6h0m2-2h0m1 6h0m3-1h0m0 2h0m1-1h0m0-6h0m0 9h0m4-1h0m0 2h0m2-10h0m1 4h0m0-2h0m3 1h0m0 1h0m0 2h0m1-5h0m1 0h0m0 1h0m0 2h0m1 1h0m2-3h0m0 7h0m0-1h0m1-5h0m2-1h0m0 6h0m1-9h0m0 2h0m0-1h0m0 5h0m0-6h0m1 1h0m0 2h0m1 3h0m0 4h0m0-5h0m0 6h0m1-6h0m1-6h0m0 8h0m2 4h0m2-11h0m0 9h0m1-5h0m0 4h0m0-1h0m0-1h0m1-3h0m0 3h0m0-6h0m0 5h0m0 4h0m1-4h0m0-2h0m1 0h0m0-2h0m1 5h0m0-6h0m0 11h0m0-11h0m2-1h0m1 5h0m-2 16h0m-1-8h0m0 7h0m-1 4h0m0-12h0m0 10h0m-1-1h0m-1-7h0m-1 7h0m0 1h0m0 2h0m0-4h0m-1 2h0m0-6h0m0 5h0m0-3h0m-1 6h0m-1-2h0m-1-2h0m-1-1h0m0 2h0m0-7h0m-1 3h0m0-2h0m-1 6h0m0-7h0m0 8h0m0 0h0m-1-6h0m-1 6h0m0-4h0m0 4h0m-1-4h0m-1-4h0m-1 5h0m0-5h0m-1 7h0m0 0h0m0-9h0m-1 7h0m-1 5h0m-3-3h0m0-3h0m0 6h0m0-9h0m0 8h0m-1-4h0m0-3h0m-1-2h0m-1 4h0m0-5h0m-1 3h0m0 7h0m0 0h0m0-5h0m-1-4h0m0 8h0m0-4h0m-1-2h0m0 3h0m0-5h0m-1 7h0m0-6h0m0 9h0m-2 0h0m0-11h0m-1 5h0m-2 2h0m-2-7h0m0 1h0m-1 1h0m0 6h0m0-8h0m-2 9h0m-1-4h0m0 5h0m0-5h0m0 5h0m-2 0h0m0 0h0m-1-6h0m-1 0h0m0 2h0m-1-4h0m-1 6h0m0 3h0m0 0h0m-2-10h0m0 10h0m0-4h0m-1 1h0m-1-4h0m-1 6h0m-2-9h0m0 7h0m0-7h0m-1 7h0m0-6h0m-1-1h0m0 9h0m0 0h0m0-3h0m-1 0h0m-1-7h0m0 6h0m-1 2h0m0-3h0m0 5h0m0-10h0m-1 0h0m0 8h0m1 4h0m1 4h0m1 1h0m0 5h0m0-11h0m0 2h0m1-2h0m1 0h0m1 9h0m0-9h0m0 2h0m1 10h0m0-6h0m0 3h0m2-5h0m1 5h0m0-7h0m0 7h0m0-3h0m1 1h0m0 0h0m0 3h0m1-10h0m1 12h0m0-6h0m0 5h0m0-11h0m0 6h0m1-3h0m0 7h0m1-5h0m0 2h0m0 4h0m1-10h0m1 11h0m1-5h0m1-4h0m0 8h0m1 1h0m0-8h0m0 1h0m0-1h0m0-4h0m1 4h0m0-2h0m1 6h0m1-4h0m0 6h0m0-1h0m2 1h0m0-5h0m0 1h0m0 0h0m0 5h0m2-9h0m0 9h0m1-7h0m0 3h0m0-4h0m1 6h0m0-2h0m0-1h0m0 3h0m0-4h0m1 5h0m0 1h0m1-6h0m0-2h0m0-1h0m2 4h0m0 6h0m1-8h0m1-1h0m1-2h0m0 10h0m0-5h0m1-6h0m0 4h0m0-1h0m1-1h0m0 3h0m1 3h0m1-8h0m1 3h0m0 5h0m1-3h0m0 5h0m1 1h0m1-9h0m3 3h0m1-3h0m1 4h0m0-2h0m1 8h0m0 0h0m2-11h0m0 3h0m2 5h0m0-6h0m1 4h0m0-2h0m0-1h0m1 6h0m1 0h0m0-4h0m1-6h0m-7 14h0m-1 8h0m0-2h0m0 0h0m0 0h0m0-7h0m-1 3h0m0 5h0m0-8h0m0 6h0m-1 0h0m0-2h0m-1-4h0m-1 6h0m0-4h0m-2 2h0m0 2h0m-1 2h0m0-6h0m-1 8h0m-2-11h0m0 6h0m0-1h0m0-4h0m-1 2h0m-1 5h0m0 0h0m-1-3h0m0 1h0m-2 1h0m0-5h0m0-1h0m0-1h0m-2 3h0m0 7h0m0-7h0m0 9h0m-1-5h0m-1-4h0m0 1h0m0-1h0m-1 0h0m0 8h0m0-8h0m0 4h0m-1 0h0m0 1h0m0 1h0m-1-3h0m0 4h0m0-6h0m0 6h0m-1-10h0m0 2h0m-1 6h0m0 2h0m-1 1h0m-1-1h0m-1 1h0m0 1h0m0-6h0m-1-1h0m-1-1h0m0 4h0m-1 2h0m0-1h0m0-8h0m-1 10h0m-1-10h0m-1 9h0m0-3h0m0 2h0m-1-9h0m0 3h0m-1 6h0m-1 0h0m0-9h0m0 2h0m0 0h0m-1 6h0m0-3h0m0 1h0m0-5h0m-1 11h0m0-8h0m0 1h0m-1-1h0m-1 7h0m0-5h0m0 0h0m-1 2h0m-1-7h0m0 2h0m0 4h0m0-1h0m-14 0h0m-16 5h0m-1 0h0m-1 1h0m-1-5h0m-2 4h0m0 1h0m-1-1h0m-1-5h0m-3 3h0m-1 0h0m-1-1h0m-2 3h0m-4 1h0m-1-1h0m-1 8h0m1-3h0m1 0h0m2 4h0m1 1h0m0 1h0m1-7h0m1 6h0m0-2h0m0-4h0m1 2h0m0 5h0m1-7h0m1 5h0m0-4h0m1 2h0m1-4h0m1 7h0m0 2h0m1-6h0m0-1h0m1-3h0m0 1h0m1 6h0m0-1h0m0 4h0m0-3h0m0-7h0m1-1h0m1 0h0m0 9h0m0-2h0m1 3h0m0-8h0m1 3h0m0 6h0m0-6h0m1 0h0m1 2h0m0 3h0m1-6h0m0 4h0m1 4h0m0-6h0m0 6h0m2-1h0m8-3h0m17-6h0m1 0h0m1-1h0m1 1h0m0 3h0m1 2h0m0 2h0m1-3h0m0-4h0m3 6h0m1-1h0m1 1h0m0-6h0m1 4h0m0 3h0m0-1h0m1-8h0m1 3h0m1 3h0m0 3h0m2 1h0m0 2h0m1-10h0m0 1h0m1 3h0m3-1h0m0 1h0m1-2h0m0 1h0m0-4h0m1 4h0m1 1h0m0 1h0m2-3h0m0-3h0m1 9h0m0-3h0m0 1h0m1-4h0m0 8h0m2-7h0m0 1h0m0-6h0m1 2h0m0 1h0m0 3h0m1-3h0m0 5h0m1-5h0m0-2h0m1 6h0m2-2h0m1 0h0m1-3h0m-10 12h0m-4-1h0m-3 2h0m-1 0h0m0-2h0m0 1h0m-3 0h0m-1 0h0m-7-2h0m-118 156h0m-13 12h0m0-1h0m0 1h0m1-1h0m0 1h0m0 0h0m0-4h0m1 0h0m0 0h0m1 2h0m1-3h0m0 0h0m0 0h0m0 2h0m0-2h0m1 2h0m0-2h0m0 0h0m0 0h0m1-1h0m1 0h0m0 1h0m0 0h0m0 0h0m1-2h0m1 0h0m0-1h0m1-1h0m0 1h0m0-1h0m0-1h0m0 2h0m0-2h0m0 4h0m1-3h0m0 1h0m0 0h0m0-2h0m1 1h0m2-1h0m-13 10h0m0 1h0m-2 0h0m-1-1h0m0 0h0m0 1h0m-1 1h0m-1 1h0m-1 0h0m0-2h0m0 3h0m0 0h0m-1 2h0m0-5h0m-1 5h0m-1-1h0m0-1h0m0 3h0m0 0h0m-1-1h0m0 0h0m0-1h0m-1 3h0m0 0h0m-1-2h0m0 1h0m0 0h0m0 1h0m-1 1h0m0 0h0m-1 0h0m-1 3h0m0-3h0m-2 2h0m0-1h0m-1 2h0m-14 9h0m1 1h0m0 1h0m0-3h0m0 3h0m1-1h0m0 0h0m1-4h0m0 1h0m1 1h0m0 0h0m0-1h0m0 0h0m0-2h0m0 1h0m1-1h0m1 3h0m0 0h0m0-3h0m1-1h0m0 1h0m1 2h0m1-2h0m0-3h0m1 1h0m0 0h0m1-1h0m0 0h0m0 3h0m1 0h0m0-3h0m0 1h0m1-3h0m1 1h0m3 0h0m-18 11h0m0 1h0m-2-1h0m0 1h0m0-1h0m-1 1h0m0 3h0m0-3h0m-1 2h0m0-1h0m0 2h0m-1-2h0m-1 2h0m0 0h0m-1 0h0m0-1h0m-2 4h0m0 0h0" stroke="#8fa83f" stroke-width="4.2" stroke-linecap="round" fill="none" transform="scale(0.5)"/>
<path d="M90 438V992H646.4" stroke="#000" stroke-width="1.3" fill="none"/>
<path d="M85.5 573.3L90 573.3" stroke="#000" stroke-width="1.3" fill="none"/>
<text x="82" y="578.4" font-size="14.3" text-anchor="end" stroke="#000" stroke-width="0.3">10</text>
<path d="M85.5 765.1L90 765.1" stroke="#000" stroke-width="1.3" fill="none"/>
<text x="82" y="770.2" font-size="14.3" text-anchor="end" stroke="#000" stroke-width="0.3">0</text>
<path d="M85.5 956.9L90 956.9" stroke="#000" stroke-width="1.3" fill="none"/>
<text x="82" y="962" font-size="14.3" text-anchor="end" stroke="#000" stroke-width="0.3">−10</text>
<path d="M152.6 992L152.6 996.5" stroke="#000" stroke-width="1.3" fill="none"/>
<text x="152.6" y="1011.8" font-size="14.3" text-anchor="middle" stroke="#000" stroke-width="0.3">−10</text>
<path d="M250.9 992L250.9 996.5" stroke="#000" stroke-width="1.3" fill="none"/>
<text x="250.9" y="1011.8" font-size="14.3" text-anchor="middle" stroke="#000" stroke-width="0.3">−5</text>
<path d="M348.8 992L348.8 996.5" stroke="#000" stroke-width="1.3" fill="none"/>
<text x="348.8" y="1011.8" font-size="14.3" text-anchor="middle" stroke="#000" stroke-width="0.3">0</text>
<path d="M447 992L447 996.5" stroke="#000" stroke-width="1.3" fill="none"/>
<text x="447" y="1011.8" font-size="14.3" text-anchor="middle" stroke="#000" stroke-width="0.3">5</text>
<path d="M545.3 992L545.3 996.5" stroke="#000" stroke-width="1.3" fill="none"/>
<text x="545.3" y="1011.8" font-size="14.3" text-anchor="middle" stroke="#000" stroke-width="0.3">10</text>
<path d="M643.6 992L643.6 996.5" stroke="#000" stroke-width="1.3" fill="none"/>
<text x="643.6" y="1011.8" font-size="14.3" text-anchor="middle" stroke="#000" stroke-width="0.3">15</text>
<text x="367.6" y="1033" font-size="17.2" text-anchor="middle" stroke="#000" stroke-width="0.3">UMAP_1</text>
<text font-size="17.2" text-anchor="middle" stroke="#000" stroke-width="0.3" transform="translate(50.8 714.8) rotate(-90)">UMAP_2</text>
<text x="344.4" y="458.7" font-size="20.2" stroke="#000" stroke-width="0.3">Eosinophil</text>
<text x="217" y="539" font-size="20.2" stroke="#000" stroke-width="0.3">Prolif.</text>
<text x="178.6" y="563.8" font-size="20.2" stroke="#000" stroke-width="0.3">Mono/mac</text>
<text x="321.6" y="539" font-size="20.2" stroke="#000" stroke-width="0.3">T cell &amp;</text>
<text x="327.6" y="563.8" font-size="20.2" stroke="#000" stroke-width="0.3">Mast cell</text>
<text x="444.7" y="552.2" font-size="20.2" stroke="#000" stroke-width="0.3">Neutrophil</text>
<text x="449.5" y="628.5" font-size="20.2" stroke="#000" stroke-width="0.3">DCs</text>
<text x="154.2" y="646" font-size="20.2" stroke="#000" stroke-width="0.3">Mono/mac</text>
<text x="302.4" y="648.5" font-size="20.2" stroke="#000" stroke-width="0.3">Transitioning</text>
<text x="307.6" y="672.8" font-size="20.2" stroke="#000" stroke-width="0.3">fibroblast</text>
<text x="117" y="693.6" font-size="20.2" stroke="#000" stroke-width="0.3">Plasma cell</text>
<text x="165.8" y="740.7" font-size="20.2" stroke="#000" stroke-width="0.3">B cell</text>
<text x="449.5" y="692.4" font-size="20.2" stroke="#000" stroke-width="0.3">Prolif.</text>
<text x="449.5" y="716.8" font-size="20.2" stroke="#000" stroke-width="0.3">Epithelial cell</text>
<text x="337.6" y="786.7" font-size="20.2" stroke="#000" stroke-width="0.3">Meso/endo</text>
<text x="337.6" y="811.5" font-size="20.2" stroke="#000" stroke-width="0.3">cells</text>
<text x="409.5" y="846.6" font-size="20.2" stroke="#000" stroke-width="0.3">Epithelial cell</text>
<text x="554.5" y="890.2" font-size="20.2" stroke="#000" stroke-width="0.3">Neurons</text>
<text x="211" y="969.7" font-size="20.2" stroke="#000" stroke-width="0.3">Fibroblast</text>
<path d="M584.8 857.5l-9 5.4 4.6 0.6 -1.6 7.4 2.6 0.4 1.4 -7.2 3.8 2.4z" fill="#000"/>
<path d="M551 911.8l1.6 -10.6 2.6 4 6 -4.4 1.4 2 -5.8 4.4 4.4 2z" fill="#000"/>
<path d="M449.5 463L607.3 432" stroke="#999" stroke-width="0.9" fill="none"/>
<path d="M449.5 499.8L611.3 535" stroke="#999" stroke-width="0.9" fill="none"/>
<rect x="606.7" y="401.4" width="660.5" height="158.2" fill="#fff" stroke="#222" stroke-width="1.3" rx="52" ry="52"/>
<path d="M1409 919h0m32 3h0m39 5h0m-8-2h0m-18 9h0m-2-2h0m-7 3h0m0-7h0m-17 7h0m-4-1h0m-1-6h0m-2-2h0m-2 1h0m-5 6h0m0 0h0m-8 1h0m-14-3h0m-4-3h0m-10 1h0m-10 5h0m-1-5h0m-3 6h0m-12-2h0m-3 3h0m-1 0h0m-1 0h0m-4 9h0m2-9h0m3 6h0m5 4h0m10-3h0m16-3h0m9-2h0m3 5h0m18-3h0m16-3h0m5 11h0m17-3h0m0 3h0m23-6h0m6-3h0m1-2h0m12 8h0m6 6h0m-2 7h0m-7-5h0m-7-5h0m-6 3h0m0 6h0m-2 0h0m-18-4h0m-11-2h0m-5 5h0m-5-6h0m-1 9h0m-8-5h0m-4 1h0m-25-5h0m-15 3h0m-14-2h0m-4 6h0m-20-8h0m3 14h0m5-2h0m19 6h0m10 3h0m1-8h0m25 1h0m3-2h0m18 1h0m13 9h0m2-1h0m1-6h0m30-2h0m10 9h0m2-1h0m15 9h0m-4 0h0m-4-6h0m-1 4h0m-2 6h0m-6-2h0m-3-6h0m-5 9h0m-3-10h0m-8 3h0m-7 0h0m-1 6h0m-7-4h0m-28-5h0m-11 8h0m-15-4h0m-2-2h0m-5-1h0m-8 2h0m-9-1h0m-10-1h0m-3 9h0m1 1h0m12 3h0m22-3h0m3 0h0m2 4h0m9 2h0m15 4h0m2 0h0m12-2h0m8-3h0m9 2h0m6-8h0m13 0h0m6 3h0m10 2h0m3 6h0m3-1h0m1-6h0m12 2h0m3-5h0m-4 16h0m-3 6h0m-5-3h0m-4-2h0m-1-1h0m-7 5h0m-3-1h0m-4-3h0m-1 3h0m-2-7h0m-15-1h0m-5 1h0m-9 8h0m-1 1h0m-34-3h0m-11-4h0m0-2h0m-9 10h0m0 3h0m13-2h0m9 1h0m37 4h0m15-4h0m2 8h0m24-9h0m3 8h0m4 2h0m2-8h0m-7 10h0m-23 1h0m-5-1h0m-13-1h0" stroke="#eda254" stroke-width="10" stroke-linecap="round" fill="none" transform="scale(0.5)" stroke-opacity="0.8"/>
<path d="M1420 909h0m-7 2h0m-15 0h0m-62 7h0m4-2h0m47 7h0m5-4h0m0-4h0m3 2h0m6-3h0m1 9h0m11-7h0m16-1h0m5 2h0m1 7h0m1-1h0m9-3h0m2-7h0m0 6h0m11-4h0m24 9h0m11 2h0m0 7h0m-11-5h0m-2 4h0m0-1h0m-1-2h0m0 1h0m-5 4h0m-9-3h0m-4 2h0m-1-3h0m-1-6h0m-1 4h0m-17-2h0m-6 9h0m-12-1h0m-2-5h0m-2 5h0m-1-4h0m-20 4h0m-19-5h0m-5 5h0m-2 0h0m-7-6h0m-2 7h0m-12-10h0m0 6h0m-5-5h0m0-1h0m-6 7h0m-3 2h0m-1-2h0m-4-6h0m-2 5h0m10 8h0m4 3h0m13 5h0m2-4h0m5 1h0m5-7h0m3 2h0m4 0h0m6 2h0m7-2h0m11 8h0m3-6h0m24 0h0m1 5h0m11-6h0m5 8h0m3-6h0m6-1h0m3-5h0m7 1h0m2 0h0m3 8h0m1-4h0m3-1h0m7-3h0m0 6h0m2-2h0m5 1h0m22 8h0m-6 8h0m-2-7h0m-6 4h0m-6-3h0m-8 8h0m-2-8h0m-8-4h0m0 12h0m-3-6h0m0-6h0m-7 5h0m-11 1h0m-8-5h0m-5 10h0m0-1h0m-4-1h0m-4-2h0m-7 3h0m-1-6h0m-3-3h0m-1 8h0m-4-1h0m-6-1h0m-2 3h0m-1-9h0m-4 10h0m-11 0h0m-2 0h0m-7-7h0m-1-3h0m-7 7h0m-2 2h0m-2 0h0m-3 1h0m-7-9h0m-2 6h0m-4-7h0m-2 11h0m-4-12h0m-11 10h0m1 5h0m3 4h0m11-3h0m1-2h0m2 8h0m7 1h0m0-7h0m11 6h0m6 0h0m2-1h0m3 2h0m5-10h0m9 6h0m2-6h0m3 8h0m10-3h0m11 6h0m1-6h0m0-5h0m13 10h0m13-7h0m7 1h0m4-2h0m26 7h0m4-3h0m15 0h0m15 3h0m-6 6h0m-13 3h0m-3 4h0m0 1h0m-3-8h0m-3 8h0m-3-1h0m-17 1h0m-1-8h0m-1 7h0m0-9h0m-1 4h0m-6-1h0m-1-1h0m-3 1h0m-12 6h0m-11-4h0m-2-2h0m-1 5h0m-1-5h0m-15 1h0m-1-3h0m-10 3h0m-3 2h0m-1 2h0m-19-1h0m-2-3h0m-2 1h0m-1 0h0m0-2h0m-8 0h0m-4-2h0m-7-2h0m-6 0h0m-5 3h0m-2 6h0m-8-7h0m15 14h0m13-3h0m6 5h0m1-6h0m21 4h0m4 0h0m1-1h0m6 3h0m10-3h0m4 0h0m1-1h0m3 5h0m4-8h0m0 3h0m13 6h0m5-9h0m2 3h0m7-1h0m17 7h0m12-3h0m5-4h0m1 4h0m9-5h0m1 8h0m10-7h0m6 0h0m3 0h0m-3 19h0m-4-3h0m-11-4h0m-9 0h0m-20 2h0m-7 5h0m-11-2h0m-4 2h0m-1-5h0m-1 3h0m-2-6h0m-8 3h0m-9 4h0m-1 2h0m0 0h0m-4-2h0m-6-1h0m-1 4h0m-17-7h0m-2 5h0m-1-4h0m-1 6h0m-4-1h0m-1 0h0m-6-5h0m-7 6h0m-2-5h0m-6-2h0m-6 3h0m-7-5h0m20 17h0m7-4h0m5 2h0m3 1h0m19 1h0m6 1h0m14-8h0m9 12h0m28-2h0m2 2h0m6-9h0m0 0h0m12 9h0m3-8h0m3-3h0m7 8h0m2 1h0m3 2h0m7 2h0m-8 3h0m-2 3h0m-1-4h0m-5 4h0m0-1h0m-5-7h0m-9 11h0m-2-9h0m-12-2h0m-6 8h0m-4 3h0m-3-5h0m-2 1h0m-29-5h0m-15 0h0m-5 0h0m-4 2h0m-6-1h0m-8 1h0m-2 0h0m-15 20h0m2-12h0m2 10h0m1 1h0m1-8h0m1 6h0m0-2h0m1 3h0m3-6h0m92-3h0m-51 17h0m-8 0h0m-2 4h0m-11 2h0m-9-2h0m0-2h0m-9-6h0m-1 7h0m-2 2h0m3 11h0m7 2h0m5 0h0m3-2h0m0-4h0m4 3h0m1-9h0m4 1h0m3 0h0m4 1h0m-12 13h0m-7-3h0m-2 1h0" stroke="#dde23b" stroke-width="6" stroke-linecap="round" fill="none" transform="scale(0.5)"/>
<path d="M1425 909h0m-31 3h0m-58 10h0m14-7h0m0 3h0m1-4h0m0 8h0m2-6h0m9 4h0m20-1h0m4-2h0m16 4h0m5-6h0m35 5h0m12-5h0m3 4h0m13-6h0m1 6h0m5 8h0m-8 9h0m-33-7h0m-6 1h0m-30 5h0m-17-8h0m-3 1h0m-14-4h0m-1 10h0m-4 0h0m-4-7h0m-5 4h0m-23 1h0m6 7h0m6 9h0m1-10h0m4-2h0m4 8h0m11-5h0m1 3h0m7-4h0m6 7h0m2-4h0m0-4h0m13 7h0m0-2h0m2 4h0m6-5h0m3-4h0m4 2h0m6 8h0m6-8h0m1-2h0m6 4h0m1-5h0m3 4h0m3 0h0m13 6h0m0 1h0m10-4h0m1 5h0m5-4h0m5-2h0m13 2h0m10-7h0m9 12h0m-2 3h0m-14-3h0m0 7h0m-20-8h0m-2 11h0m-4 0h0m-17-3h0m-1-7h0m0 5h0m-1 5h0m-9 0h0m-2-3h0m-8-3h0m-9-5h0m-3 6h0m-4-6h0m0 2h0m-5 1h0m-18 1h0m-8 3h0m-1 0h0m-25 3h0m-7-10h0m0 21h0m1 2h0m5 0h0m7-8h0m13 2h0m5 3h0m0-4h0m0 0h0m1 4h0m5 4h0m7-7h0m0 4h0m4-3h0m4 0h0m2 3h0m5 0h0m7-4h0m5-4h0m4 6h0m2-1h0m15 2h0m3 2h0m2 1h0m9 0h0m7 0h0m3 1h0m6-3h0m1 2h0m2-4h0m1-7h0m0 6h0m8-1h0m14 7h0m11-4h0m17 13h0m0-8h0m-6 0h0m0 7h0m-10 2h0m-14-7h0m-21 7h0m-8-1h0m-1-8h0m-2 9h0m-7 1h0m-1 0h0m-6-7h0m0-3h0m-4-1h0m-1 6h0m-4 2h0m-4-2h0m-12-4h0m-8 5h0m-3 1h0m-35 3h0m-14-10h0m-10 0h0m14 14h0m6-2h0m5 5h0m3-5h0m4 5h0m0-3h0m4-3h0m3 4h0m5 4h0m0 3h0m18-1h0m1-6h0m7 6h0m3-1h0m16-7h0m10 2h0m10-3h0m1 6h0m2-3h0m8 6h0m24-10h0m8 1h0m16 4h0m0 1h0m6 15h0m-7-4h0m-1 2h0m-12-2h0m-1 5h0m-5-7h0m-1 6h0m-4-6h0m-17 5h0m-9 2h0m-15-6h0m-5 2h0m-5 3h0m-11-9h0m0 8h0m-4 2h0m-7-8h0m-2 9h0m-4 0h0m-16-2h0m-12 3h0m-4-7h0m-1-2h0m-7 4h0m-9-5h0m25 14h0m10-3h0m6 1h0m32 2h0m4-4h0m11 10h0m6-9h0m6 8h0m7 0h0m12 0h0m12 1h0m0-6h0m8-4h0m4 0h0m9 4h0m1-1h0m1 4h0m-10 12h0m-2 2h0m-14-6h0m-2 6h0m-17-2h0m-5-3h0m-3 4h0m-1 1h0m-54-7h0m-22 22h0m114-11h0m-69 15h0m-7 5h0m-28-2h0m-1 3h0m-5-5h0m-7-1h0m16 15h0m7 4h0m2-3h0m-9 8h0" stroke="#f3a53b" stroke-width="6" stroke-linecap="round" fill="none" transform="scale(0.5)"/>
<path d="M1421 908h0m-7-1h0m-78 10h0m1 3h0m5-1h0m21-3h0m6 4h0m0-1h0m14-5h0m11 4h0m10 0h0m0-2h0m3 7h0m14-4h0m0 3h0m5 1h0m0-7h0m1 5h0m9-9h0m2 10h0m12-9h0m3 0h0m18 10h0m10-9h0m11 19h0m-3-2h0m-2-1h0m-3 3h0m-4-6h0m-8 9h0m-6-4h0m-14-3h0m-14-3h0m-17 3h0m-1 5h0m-11-8h0m-2 2h0m-2-3h0m-44 3h0m-4 0h0m-10 4h0m-1-6h0m-6 5h0m-3-2h0m-6-4h0m-1-1h0m13 13h0m2 6h0m17-5h0m1-1h0m4 10h0m3-2h0m3-1h0m15 3h0m10-6h0m4 4h0m2-1h0m0-7h0m9 2h0m2 9h0m13-9h0m9-2h0m0 3h0m1-2h0m4 7h0m5-6h0m9-2h0m5 2h0m1-2h0m0-1h0m5 5h0m5 4h0m5-7h0m2 4h0m0 4h0m21 1h0m10 10h0m-13-1h0m-7 2h0m-1-2h0m-14 2h0m-7-3h0m-13-5h0m-4 4h0m-3 0h0m-3 0h0m-13-2h0m0 5h0m-5-5h0m-3 0h0m-4 8h0m-19-11h0m-18 2h0m0 1h0m-9 2h0m-11 2h0m-8-2h0m-2 5h0m-7-9h0m-4 5h0m-5 3h0m13 8h0m9 3h0m20-8h0m12 8h0m3-6h0m16 3h0m4-2h0m12-2h0m2 2h0m2 7h0m16-2h0m0-7h0m5 5h0m8 5h0m6-11h0m1 11h0m3-6h0m1 0h0m8-5h0m4 7h0m10-7h0m9 2h0m0 2h0m3 4h0m9 4h0m-2 2h0m-12 7h0m-4-9h0m-13 1h0m-16 10h0m-2-3h0m-7-3h0m-13 1h0m-1-3h0m-6-1h0m-10 7h0m-10 0h0m-2 0h0m-2-8h0m-5 8h0m-9-4h0m-1-5h0m-8 0h0m-3 0h0m0 11h0m-11-2h0m0 2h0m-13-6h0m-2 3h0m-1 2h0m-4-5h0m-1 2h0m-4-4h0m-6 3h0m-8-5h0m18 18h0m4 1h0m6 0h0m2-2h0m16 4h0m8-1h0m1-1h0m2-2h0m1 3h0m3-1h0m8 2h0m5-3h0m21-3h0m6-4h0m19 6h0m7 3h0m4-3h0m2-7h0m7 4h0m12 3h0m1-4h0m1 8h0m21-2h0m-1 11h0m-10 0h0m-3 2h0m-12-6h0m-15 5h0m-1 3h0m-2-11h0m-1 0h0m-15 7h0m-5 1h0m-27 0h0m-3 2h0m-4-4h0m-4 0h0m-2-7h0m-8 4h0m-1 7h0m-3-1h0m-1-7h0m-1 2h0m0 6h0m-20-6h0m-12-1h0m-2 6h0m42 3h0m2-1h0m1 1h0m2 5h0m3 1h0m0-2h0m3 0h0m20 4h0m6-7h0m12 1h0m2 2h0m1 3h0m2-5h0m28 3h0m4-1h0m2-4h0m2 6h0m3-3h0m9-3h0m2 6h0m3 1h0m5-2h0m-16 14h0m-12-3h0m-2-2h0m-18 8h0m-14-6h0m-5 0h0m0 0h0m-4-4h0m-1 3h0m-2 1h0m-5-2h0m-24 1h0m-9 1h0m-20-3h0m92 11h0m6 0h0" stroke="#e0646a" stroke-width="6" stroke-linecap="round" fill="none" transform="scale(0.5)"/>
<path d="M1469 912h0m-139 12h0m19-7h0m61-1h0m17 7h0m0-8h0m7 3h0m29 1h0m8-1h0m-15 17h0m-7-2h0m-19-4h0m-30 1h0m-12 1h0m-13-4h0m-20 6h0m0 3h0m-22-7h0m-4 4h0m0 8h0m22 6h0m8-7h0m25 5h0m7-6h0m18 3h0m1 5h0m12-2h0m7-7h0m9 2h0m4-3h0m5 8h0m23-3h0m4-3h0m8-3h0m6 24h0m-2-8h0m-19 4h0m-20 1h0m-37 3h0m-13-11h0m-5 7h0m-32-3h0m-27 18h0m8-4h0m17 3h0m10-7h0m21 6h0m7-6h0m0-1h0m15 6h0m5-2h0m3-2h0m11 2h0m8-1h0m3 3h0m6-6h0m12 2h0m6 0h0m8 4h0m18 1h0m13-8h0m5 6h0m-15 6h0m-15 0h0m-2 5h0m-16 6h0m0-7h0m-3 3h0m-2-2h0m-9-2h0m-1 0h0m-56 3h0m-6 0h0m-10 0h0m-34-1h0m29 14h0m12 1h0m2-3h0m17 2h0m1-2h0m46-4h0m9-1h0m22 3h0m41 4h0m-45 10h0m-4 4h0m-41-10h0m-16 10h0m-18-8h0m-31 0h0m-4 4h0m16 17h0m2-5h0m34 0h0m1 4h0m11-3h0m65-4h0m3 2h0m6 0h0m4 2h0m-5 16h0m-12-1h0m-22-3h0m-5 5h0m-3 0h0m2 3h0" stroke="#c03585" stroke-width="6" stroke-linecap="round" fill="none" transform="scale(0.5)"/>
<path d="M1421 909h0m-4 2h0m-8-1h0m-1 10h0m36-7h0m-72 22h0m24 5h0m7 4h0m38-3h0m58 8h0m-24 9h0m-83 0h0m-25 2h0m-4-8h0m27 13h0m45 4h0m64 0h0m11-3h0m-41 18h0m-6-1h0m-27-5h0m-27 17h0m1-10h0m18 0h0m52 3h0m5 7h0m19 0h0m-8 7h0m-3-6h0m-33 4h0m-45 1h0m-15-1h0m-33 9h0m57 4h0m23 6h0m34-3h0m6 7h0m-16 1h0" stroke="#8a2d8f" stroke-width="6" stroke-linecap="round" fill="none" transform="scale(0.5)"/>
<path d="M1446 931h0m-11 7h0m28 11h0m-67 5h0m-7-2h0m-32 24h0m39 9h0m61 37h0m-58-1h0" stroke="#3c3f98" stroke-width="6" stroke-linecap="round" fill="none" transform="scale(0.5)"/>
<path d="M1676 919h0m33 3h0m39 5h0m-9-2h0m-17 9h0m-3-2h0m-6 3h0m-1-7h0m-16 7h0m-4-1h0m-2-6h0m-1-2h0m-2 1h0m-5 6h0m-1 0h0m-8 1h0m-13-3h0m-5-3h0m-9 1h0m-10 5h0m-1-5h0m-4 6h0m-12-2h0m-2 3h0m-1 0h0m-1 0h0m-4 9h0m2-9h0m3 6h0m5 4h0m10-3h0m16-3h0m9-2h0m3 5h0m17-3h0m16-3h0m6 11h0m16-3h0m0 3h0m23-6h0m6-3h0m2-2h0m11 8h0m7 6h0m-2 7h0m-7-5h0m-8-5h0m-5 3h0m-1 6h0m-2 0h0m-17-4h0m-12-2h0m-4 5h0m-5-6h0m-1 9h0m-9-5h0m-4 1h0m-24-5h0m-16 3h0m-13-2h0m-4 6h0m-21-8h0m4 14h0m5-2h0m19 6h0m9 3h0m2-8h0m25 1h0m2-2h0m19 1h0m13 9h0m2-1h0m1-6h0m30-2h0m10 9h0m2-1h0m14 9h0m-3 0h0m-4-6h0m-1 4h0m-3 6h0m-5-2h0m-3-6h0m-5 9h0m-3-10h0m-8 3h0m-7 0h0m-1 6h0m-7-4h0m-28-5h0m-12 8h0m-15-4h0m-1-2h0m-5-1h0m-9 2h0m-8-1h0m-11-1h0m-2 9h0m1 1h0m11 3h0m23-3h0m3 0h0m1 4h0m10 2h0m14 4h0m2 0h0m13-2h0m8-3h0m8 2h0m7-8h0m12 0h0m6 3h0m10 2h0m4 6h0m3-1h0m1-6h0m11 2h0m3-5h0m-3 16h0m-3 6h0m-5-3h0m-5-2h0m0-1h0m-7 5h0m-4-1h0m-3-3h0m-2 3h0m-1-7h0m-16-1h0m-4 1h0m-10 8h0m0 1h0m-34-3h0m-11-4h0m0-2h0m-10 10h0m1 3h0m13-2h0m9 1h0m37 4h0m14-4h0m3 8h0m23-9h0m3 8h0m4 2h0m2-8h0m-6 10h0m-24 1h0m-4-1h0m-14-1h0" stroke="#a5308a" stroke-width="10" stroke-linecap="round" fill="none" transform="scale(0.5)" stroke-opacity="0.8"/>
<path d="M1630 920h0m101-1h0m17 8h0m-4 0h0m-4 9h0m-14-8h0m-102 0h0m2 15h0m57-4h0m64 4h0m1-2h0m6 1h0m10 7h0m-37-1h0m-4 2h0m-5 4h0m-14-5h0m-12 3h0m-17-4h0m-1 7h0m-23-4h0m-37-1h0m-9 17h0m132-2h0m3 3h0m12 4h0m17-7h0m18 5h0m-73 13h0m-2-4h0m-7-4h0m-1 3h0m-22 4h0m-68-6h0m15 9h0m31 8h0m4-4h0m22-2h0m25-3h0m9 4h0m4 3h0m13-7h0m-64 23h0m-45-5h0m63 13h0m6-7h0m66 0h0m3 5h0m2 11h0m-54 1h0m-5-4h0m-73 23h0m2-12h0m1 10h0m1 1h0m2-8h0m0 6h0m5-5h0m0 8h0m45 4h0m-12 2h0m-3 4h0m-10 2h0m-9-2h0m-1-2h0m0-1h0m0 3h0m-12 1h0m-1-7h0m12 20h0m4 0h0m0-5h0m4-1h0m3 3h0m1 2h0m2-3h0m3-7h0m3 0h0m-8 14h0m-8 1h0m0-4h0" stroke="#dde23b" stroke-width="6" stroke-linecap="round" fill="none" transform="scale(0.5)"/>
<path d="M1676 910h0m-72 12h0m66-1h0m5-1h0m26-3h0m0 1h0m2 6h0m32 12h0m-6-3h0m-12 0h0m-43-5h0m-75-2h0m44 15h0m52-2h0m11 1h0m4-3h0m5 2h0m20 2h0m9-3h0m14 20h0m-4-6h0m-8 0h0m-46 5h0m-6 2h0m-6 1h0m-35-1h0m29 5h0m5 0h0m11 7h0m5 0h0m3-6h0m27-1h0m31 19h0m0 1h0m-1-11h0m-7 10h0m-39-1h0m-7 1h0m-10-6h0m-1 0h0m-46 18h0m18-7h0m104-2h0m4 7h0m-63 12h0m-28 0h0m-4-2h0m-7 0h0m-21 2h0m44 12h0m54-4h0m22 3h0m-8 11h0m-98-5h0m-27 17h0m1 3h0m102-9h0m-59 17h0m-2 3h0m-34-4h0m-3-3h0m0 7h0m0 13h0m16 0h0m5-10h0m11 2h0m-22 11h0" stroke="#f3a53b" stroke-width="6" stroke-linecap="round" fill="none" transform="scale(0.5)"/>
<path d="M1688 909h0m-90 15h0m64-6h0m9-2h0m4-1h0m13 4h0m9-4h0m7-3h0m0 11h0m1-1h0m9-9h0m11 6h0m14 4h0m0-4h0m9-5h0m-14 18h0m-2-1h0m-6-7h0m-6 5h0m-7 2h0m-7-5h0m-18 8h0m-2-4h0m-68 1h0m-11 1h0m-3 2h0m-6-10h0m-1 17h0m11-2h0m4-3h0m12 11h0m7-3h0m26-5h0m2 7h0m12-2h0m0-5h0m21-3h0m3 10h0m14-5h0m1 4h0m4-3h0m1 3h0m5-2h0m4-7h0m5 3h0m1-3h0m2 6h0m6 0h0m7 2h0m2-7h0m2-1h0m19 11h0m8 3h0m-21 2h0m-7 8h0m-18-11h0m-26 5h0m-4-2h0m-5 0h0m-6 6h0m-5-9h0m-6 11h0m-19-4h0m-18-2h0m-15 16h0m28-9h0m15 4h0m6-4h0m3 5h0m0 1h0m12-6h0m6 7h0m5 3h0m13-9h0m5 5h0m0 5h0m6-3h0m2 3h0m7 0h0m11-11h0m5 7h0m9 1h0m12 0h0m9 4h0m0 8h0m-31-6h0m-2-2h0m-8 11h0m-2 0h0m-1-1h0m-2 1h0m-5-8h0m-15 0h0m0 0h0m-4 0h0m-6 0h0m-20 2h0m-3-4h0m-49 1h0m-12-2h0m-11 0h0m-2 5h0m-2-4h0m35 13h0m5-3h0m20 4h0m7 3h0m6-6h0m0 7h0m40-7h0m11 9h0m9-1h0m7-5h0m16-3h0m16 5h0m4-4h0m5 6h0m-4 13h0m-24-7h0m-2 7h0m-2-5h0m-2-1h0m-15 7h0m-2-9h0m-15 7h0m-7-1h0m-2-6h0m-15-1h0m-7 8h0m-6-3h0m0 6h0m-2-1h0m-2-8h0m-4-2h0m-10 4h0m-26-1h0m-15-1h0m41 12h0m11 5h0m4-2h0m0 1h0m1 4h0m20-10h0m19 5h0m29 3h0m1-2h0m3 6h0m6-7h0m14 2h0m2-3h0m3 3h0m-20 5h0m-8 9h0m-1 2h0m-16-4h0m-7 5h0m-1-1h0m-17-7h0m-58 0h0m112 9h0" stroke="#e0646a" stroke-width="6" stroke-linecap="round" fill="none" transform="scale(0.5)"/>
<path d="M1737 912h0m-44-3h0m-4-1h0m-8-1h0m-15 4h0m-5 1h0m-57 6h0m6 1h0m8-4h0m0-1h0m1 8h0m1-6h0m11 0h0m23 1h0m1 6h0m5-4h0m9-5h0m20 8h0m5 1h0m0-7h0m1-1h0m15 5h0m1-7h0m4 6h0m23-6h0m11 11h0m12 9h0m-4-2h0m-3-1h0m-2 3h0m-4-1h0m-1-1h0m0-2h0m-1 1h0m-4 4h0m-14-4h0m-4 5h0m-22 0h0m-5-6h0m-6 5h0m-2-5h0m-1 0h0m-1 5h0m-14-9h0m-8 9h0m-15-7h0m-10 8h0m0-1h0m-7-10h0m-2 10h0m-3 0h0m-5-1h0m-4-8h0m0 6h0m-5-5h0m0 0h0m-1-1h0m-15 0h0m0 6h0m3 8h0m7 9h0m0-10h0m3-1h0m2 6h0m6 4h0m8-7h0m8 7h0m1-9h0m1 7h0m3-6h0m1 5h0m3-7h0m8 8h0m4 2h0m1-5h0m6-2h0m5-3h0m2 8h0m1-1h0m1-7h0m4 5h0m1 5h0m1 0h0m3-8h0m2 9h0m2-11h0m4 8h0m6-4h0m0-1h0m2-2h0m8-1h0m0 3h0m6 7h0m1 1h0m8-7h0m2 7h0m1-11h0m6 0h0m2 0h0m1 0h0m7 8h0m7-3h0m23 16h0m-2-7h0m0-2h0m-3 7h0m-3-4h0m0 3h0m-4 1h0m-2 4h0m-7-11h0m-6 9h0m-4 2h0m-3-6h0m0-6h0m0 8h0m-9 3h0m-4 0h0m-6-5h0m-1 0h0m-1 3h0m-1-3h0m-5-5h0m-4 7h0m-1 2h0m-4-1h0m-3-2h0m-4 1h0m-4-4h0m-5 5h0m-3-1h0m-8-2h0m0 4h0m-3-9h0m-3 10h0m-2-10h0m-4 9h0m-10-6h0m-4-3h0m-9 6h0m-2 5h0m-7-7h0m-5 3h0m-10-8h0m-4 7h0m-4 3h0m-3 0h0m1 5h0m1 8h0m16-1h0m6 1h0m0-2h0m1-5h0m8 0h0m0 4h0m11-7h0m3 10h0m9-2h0m0 0h0m4-2h0m2-4h0m15 5h0m2-2h0m3 0h0m6 0h0m8 4h0m15-1h0m1-7h0m3 9h0m10-7h0m3-4h0m0 6h0m22 4h0m4-3h0m4-6h0m3 7h0m3 1h0m5-8h0m1 6h0m4 0h0m1-1h0m3 10h0m0-3h0m-1 2h0m-11 4h0m-2 3h0m-3 0h0m-1-6h0m0-3h0m-12 1h0m-12 2h0m-2-2h0m-1 4h0m-5 5h0m-2-6h0m0 5h0m-2-5h0m-2 1h0m-14 5h0m-15-1h0m-1-2h0m-10 2h0m-1-7h0m-4-1h0m-3 8h0m-4-4h0m-2 1h0m-1 1h0m-2 0h0m-1-7h0m-12 0h0m-4 8h0m-8-2h0m-15 4h0m-9-7h0m0-3h0m-5 6h0m35 9h0m1 5h0m1 2h0m2-3h0m6 2h0m4-3h0m6-1h0m14 3h0m3-5h0m5 4h0m4-5h0m1-2h0m2 1h0m2 3h0m19 2h0m3-5h0m14 5h0m13-3h0m2 2h0m3-6h0m3 6h0m0 1h0m10 2h0m16 12h0m-4-1h0m-3-1h0m-6 1h0m-3-6h0m0 8h0m-4-5h0m-1 5h0m-19-4h0m-4-2h0m-4-3h0m-4 8h0m-4 1h0m-7-3h0m-4 2h0m-4-5h0m-7 0h0m-10 6h0m-4-10h0m-5 10h0m0 1h0m-5-4h0m-3 4h0m-13-2h0m-1 1h0m-1-7h0m-11 2h0m-7 7h0m-9-8h0m-2 3h0m-3 0h0m13 12h0m11-2h0m17-5h0m1 1h0m10 7h0m9-3h0m5-1h0m9-2h0m12 1h0m5 0h0m9 6h0m3 1h0m7-7h0m1 0h0m0 6h0m13 1h0m1-6h0m0-1h0m3 4h0m1-6h0m6-1h0m5 1h0m8 13h0m-8 3h0m-6 6h0m-3-4h0m-9-2h0m-1 5h0m-1-7h0m-1 0h0m-3-1h0m-8 2h0m-5-4h0m-4 7h0m-2 1h0m-4 1h0m-2 3h0m0-6h0m-9-1h0m-22-3h0m-15 0h0m-16 1h0m-8 1h0m87 9h0m1 0h0" stroke="#c03585" stroke-width="6" stroke-linecap="round" fill="none" transform="scale(0.5)"/>
<path d="M1688 909h0m-4 2h0m-4 0h0m-76 6h0m4-1h0m9 1h0m1 1h0m18 1h0m14 0h0m0-5h0m10 1h0m9 8h0m2-5h0m4 5h0m5-7h0m14 7h0m0-2h0m18-1h0m5-7h0m8 2h0m14 3h0m22 8h0m-1 7h0m-10-5h0m-41-2h0m-6 3h0m-7 1h0m-20-4h0m-21 5h0m-8-3h0m-14 0h0m-2 7h0m-23-4h0m-3-2h0m-1 3h0m-4-3h0m-5 3h0m22 12h0m10-5h0m2 3h0m1-4h0m7-1h0m4 8h0m8-4h0m10-2h0m5 2h0m4 6h0m22-6h0m8-1h0m9 0h0m3 6h0m17-2h0m8 1h0m4-5h0m3-1h0m13-2h0m23 20h0m-35 1h0m-5-10h0m-2 7h0m-8-2h0m-25 6h0m-1 0h0m-18-6h0m-13-4h0m-4-1h0m0 2h0m-4 4h0m-1-3h0m-7 8h0m-8-7h0m-2 0h0m-11 6h0m-2 1h0m-1-7h0m-7-2h0m-1 4h0m-2 5h0m-3-10h0m-8 9h0m-6-10h0m5 19h0m0 4h0m8-8h0m0 1h0m0-2h0m1 4h0m16 2h0m1-5h0m5 9h0m4-2h0m3-5h0m1 4h0m4-3h0m5-1h0m5-2h0m1 6h0m1-7h0m4 7h0m9-3h0m11 6h0m6-10h0m2 2h0m2 2h0m5 3h0m6-1h0m14-3h0m4-2h0m0 8h0m2-4h0m7-1h0m1 0h0m32-3h0m5 10h0m-1 7h0m-29-2h0m-14-1h0m-1 7h0m-3-4h0m-1-2h0m-5 3h0m-20-9h0m0 10h0m-2-4h0m-7 0h0m-24 0h0m-10-5h0m-6 6h0m-6 0h0m0 0h0m-1 3h0m-1 2h0m-7-7h0m-5 1h0m-3 3h0m-2-8h0m-1 3h0m-2 2h0m-10 4h0m-9-7h0m16 14h0m3 3h0m0-5h0m9 6h0m0-7h0m2 4h0m1 1h0m2 1h0m3-2h0m11 0h0m10-1h0m3-4h0m1 8h0m5 1h0m3 1h0m4 0h0m2-1h0m3-6h0m11-4h0m13 1h0m1 8h0m0-5h0m7-2h0m10-1h0m8 9h0m13-6h0m7 7h0m3-9h0m2 1h0m2 8h0m5-10h0m8 10h0m4-6h0m9-3h0m-46 19h0m-2 3h0m-2-4h0m-7-4h0m-14 0h0m-8 2h0m-6 3h0m-10-1h0m-22-4h0m-1 0h0m-5-2h0m-1 9h0m0 0h0m-3-1h0m-1 0h0m-16-5h0m-9-3h0m-4 2h0m-1 6h0m-4-8h0m21 21h0m1-5h0m4-2h0m0-1h0m8 3h0m2-5h0m9 0h0m6 5h0m2-1h0m1 2h0m34 3h0m4 1h0m5-3h0m3 1h0m13 3h0m19-8h0m2-3h0m4 3h0m6 5h0m1 1h0m2-3h0m2 5h0m4-9h0m5 3h0m-12 14h0m-3 1h0m-3-1h0m-36-4h0m-2-2h0m0 6h0m-6-1h0m-1-2h0m-11 0h0m-5-2h0m-24 1h0m-8-2h0m-3 2h0m0-3h0m-18 1h0m76 13h0" stroke="#8a2d8f" stroke-width="6" stroke-linecap="round" fill="none" transform="scale(0.5)"/>
<path d="M1605 920h0m31 0h0m27-3h0m15-1h0m42-3h0m2 2h0m-54 15h0m-1 5h0m-20-6h0m-5-2h0m-1 7h0m-13-6h0m-5-1h0m-1 9h0m-8-4h0m-17 1h0m14 9h0m19-5h0m14 2h0m12 5h0m10-3h0m4 0h0m33-3h0m3 0h0m31 3h0m10 5h0m0 10h0m-90-4h0m-18 4h0m-2 2h0m-1-3h0m-6 1h0m-14 4h0m-15 11h0m2-2h0m27-4h0m5-1h0m2 6h0m8-1h0m11-3h0m0 3h0m9-8h0m45 10h0m5-7h0m17-3h0m26 23h0m-26-3h0m-13-8h0m-15 0h0m-2 6h0m-34 3h0m-11-3h0m-3 5h0m-6-6h0m-3-1h0m-12 6h0m-10-3h0m4 13h0m9-8h0m2 6h0m2-6h0m22 9h0m6-2h0m46-5h0m63 15h0m-1-1h0m-12 1h0m-4-6h0m-4 3h0m-61 5h0m-1 2h0m-28 1h0m-3-6h0m-2 0h0m-17 6h0m-3-5h0m-1-1h0m-6 8h0m71 11h0m12-11h0m48 19h0m-11-5h0m-22 8h0m-63-6h0" stroke="#3c3f98" stroke-width="6" stroke-linecap="round" fill="none" transform="scale(0.5)"/>
<path d="M1944 919h0m32 3h0m40 5h0m-9-2h0m-17 9h0m-3-2h0m-7 3h0m0-7h0m-17 7h0m-4-1h0m-1-6h0m-2-2h0m-2 1h0m-5 6h0m0 0h0m-8 1h0m-14-3h0m-4-3h0m-10 1h0m-10 5h0m0-5h0m-4 6h0m-12-2h0m-3 3h0m-1 0h0m-1 0h0m-4 9h0m2-9h0m3 6h0m6 4h0m9-3h0m17-3h0m8-2h0m3 5h0m18-3h0m16-3h0m5 11h0m17-3h0m0 3h0m23-6h0m6-3h0m1-2h0m12 8h0m6 6h0m-2 7h0m-7-5h0m-7-5h0m-5 3h0m-1 6h0m-2 0h0m-17-4h0m-12-2h0m-5 5h0m-5-6h0m0 9h0m-9-5h0m-4 1h0m-25-5h0m-15 3h0m-13-2h0m-4 6h0m-21-8h0m3 14h0m5-2h0m19 6h0m10 3h0m1-8h0m26 1h0m2-2h0m18 1h0m14 9h0m1-1h0m1-6h0m30-2h0m10 9h0m2-1h0m15 9h0m-3 0h0m-4-6h0m-2 4h0m-2 6h0m-5-2h0m-4-6h0m-4 9h0m-4-10h0m-7 3h0m-8 0h0m0 6h0m-8-4h0m-28-5h0m-11 8h0m-15-4h0m-1-2h0m-6-1h0m-8 2h0m-9-1h0m-10-1h0m-3 9h0m1 1h0m12 3h0m22-3h0m3 0h0m2 4h0m9 2h0m15 4h0m2 0h0m12-2h0m8-3h0m9 2h0m6-8h0m13 0h0m6 3h0m10 2h0m3 6h0m4-1h0m0-6h0m12 2h0m3-5h0m-4 16h0m-2 6h0m-6-3h0m-4-2h0m0-1h0m-8 5h0m-3-1h0m-3-3h0m-2 3h0m-2-7h0m-15-1h0m-5 1h0m-9 8h0m-1 1h0m-33-3h0m-12-4h0m0-2h0m-9 10h0m0 3h0m13-2h0m10 1h0m36 4h0m15-4h0m3 8h0m23-9h0m3 8h0m4 2h0m2-8h0m-7 10h0m-23 1h0m-4-1h0m-14-1h0" stroke="#dde23b" stroke-width="10" stroke-linecap="round" fill="none" transform="scale(0.5)" stroke-opacity="0.8"/>
<path d="M1956 908h0m0 1h0m-1 0h0m-3 2h0m-4 0h0m-4-1h0m-11 1h0m-4 1h0m-64 12h0m6-2h0m0-5h0m0 1h0m6 1h0m7-2h0m2-3h0m11 6h0m1-4h0m6 4h0m0-1h0m14 0h0m0-5h0m3 3h0m1 6h0m5-4h0m0-4h0m3 3h0m6-4h0m1 9h0m2-5h0m0-2h0m4 7h0m0-3h0m3-4h0m2 0h0m8 3h0m0 3h0m6 1h0m0 0h0m0-8h0m3 0h0m4 2h0m0 1h0m1 6h0m1-12h0m0 11h0m2-1h0m4-2h0m2-7h0m3 0h0m1 6h0m2-6h0m3 0h0m2 2h0m3 0h0m12-2h0m1 10h0m1-5h0m0 1h0m9-5h0m1 10h0m11 2h0m0 7h0m-1 0h0m-2-2h0m-3-1h0m-2 3h0m-5-6h0m0 5h0m0-1h0m-1-2h0m-2-2h0m-3 7h0m-1 2h0m-7-4h0m-1-1h0m-4 2h0m-1-3h0m-1-2h0m-2 7h0m-11-4h0m-5-5h0m-3 0h0m-2 3h0m-1 6h0m-5-6h0m-1 1h0m-6 4h0m-2-5h0m0 0h0m-3 1h0m-9-4h0m-2 2h0m-2-3h0m-5 5h0m-1 5h0m-16-8h0m-4 2h0m-4-2h0m-1 7h0m-2 1h0m0-1h0m-6-6h0m-1-4h0m-1 10h0m0 1h0m-3-7h0m-1 6h0m-3-6h0m-1-1h0m-1 6h0m-4-2h0m0 0h0m-4 1h0m-1-6h0m0 0h0m0-1h0m-9 4h0m-1 3h0m-3-3h0m-1-3h0m-1-1h0m0-1h0m-1 7h0m-1 2h0m-1-1h0m2 9h0m4-2h0m6 0h0m1-1h0m2-1h0m1 5h0m1-6h0m0 7h0m4 1h0m3 3h0m5 0h0m3-8h0m2-1h0m1-1h0m1 7h0m4 3h0m0-9h0m2 7h0m2-6h0m2 5h0m0 1h0m2-4h0m0-2h0m6 2h0m7 6h0m0-3h0m0-2h0m1-3h0m2 0h0m4 1h0m1 1h0m1 0h0m3-4h0m0 10h0m1-2h0m1-4h0m0 3h0m1-7h0m5 5h0m1 5h0m0 0h0m3-8h0m3 0h0m6 6h0m1-4h0m1-5h0m3 5h0m1-1h0m0 6h0m0-7h0m2-1h0m5 0h0m2-1h0m0 3h0m1 0h0m1-2h0m0 2h0m2 1h0m2-4h0m0 8h0m0 1h0m1 1h0m1 1h0m2-6h0m0 3h0m6-2h0m0-2h0m1 7h0m2-11h0m6 2h0m1-2h0m2 5h0m0-5h0m4 4h0m1 1h0m2 3h0m2-6h0m3-1h0m0 6h0m2-7h0m0 9h0m1-3h0m2-7h0m4 6h0m2-5h0m12 10h0m10 10h0m-2-7h0m-6 8h0m-2-7h0m-1-2h0m-2 7h0m-3-4h0m0 3h0m-4 3h0m-4-6h0m-6-3h0m0 11h0m0-4h0m-5 2h0m0 0h0m-4-10h0m-1 12h0m-1-5h0m-2-1h0m0-6h0m0 8h0m-6-3h0m-1-5h0m-1 11h0m-8-5h0m-2 0h0m-1 0h0m-1 3h0m-6-8h0m-4 7h0m-1-7h0m0 5h0m0 5h0m0-1h0m-1 1h0m-2-2h0m0-5h0m-5 3h0m0-3h0m-1 7h0m-2-3h0m0-4h0m-4 6h0m-1 2h0m-3-11h0m-1 4h0m0 4h0m-3-1h0m-3 4h0m-3-12h0m-1 7h0m-2-1h0m0 4h0m-1-9h0m-2 0h0m-1-1h0m0 2h0m-3-1h0m-2 2h0m-3 7h0m0-2h0m-3-4h0m-1 7h0m-2 0h0m-2-8h0m-1 1h0m-3 0h0m-2-3h0m-1 3h0m-3 2h0m-3 2h0m-2-1h0m0 3h0m-2 2h0m-3-1h0m0-7h0m-1 4h0m-3-3h0m-3-3h0m-2 4h0m0 2h0m-2 3h0m-2-10h0m-2 11h0m-6-2h0m-1-3h0m-4 3h0m-2-10h0m-2 10h0m0 13h0m1-8h0m3 4h0m3 0h0m1 4h0m7-8h0m0 1h0m2 2h0m1 4h0m6 0h0m2-6h0m3 1h0m4 3h0m0-4h0m0 0h0m1 4h0m0-5h0m2 7h0m3 2h0m5-3h0m1-8h0m1 4h0m1 6h0m3-5h0m2-5h0m2 5h0m1 3h0m1-4h0m0 4h0m1 0h0m3-6h0m1 4h0m1 2h0m0-6h0m0-1h0m2-1h0m2 8h0m2-4h0m5-4h0m3 5h0m1 0h0m0 1h0m0 1h0m2-2h0m2-2h0m1 2h0m5 6h0m1-6h0m0-5h0m4 1h0m2 2h0m1 4h0m1 3h0m0-5h0m1 4h0m2 1h0m3-2h0m0 2h0m5-3h0m1 3h0m5-9h0m0 0h0m1 2h0m1 7h0m2-4h0m1 5h0m4-7h0m2 4h0m1 3h0m0-9h0m0 1h0m0 7h0m3-4h0m1-7h0m2 1h0m0 3h0m2 8h0m2-6h0m1-1h0m0 1h0m3 2h0m5-7h0m7 11h0m0-2h0m6-1h0m2-8h0m3 7h0m5-5h0m0 2h0m3 4h0m0-8h0m1 6h0m4 0h0m1-1h0m9 4h0m-6 6h0m0-3h0m-1 0h0m-6 0h0m0 7h0m-6-1h0m-1 3h0m-2 1h0m0 1h0m-1-2h0m0-9h0m-1 3h0m-1-3h0m-12 1h0m0 1h0m-5 3h0m-6 6h0m-1-8h0m-1 7h0m0-9h0m-3 10h0m-2-3h0m-1 2h0m-1-6h0m-1-1h0m0 1h0m0 5h0m-2-5h0m-2 1h0m-1 0h0m-3 3h0m-1-8h0m-5 3h0m-1 0h0m-2 3h0m-1-3h0m0 7h0m0 0h0m-6-8h0m-1 1h0m0-3h0m0 5h0m-1 1h0m-2-2h0m-1 0h0m-1 1h0m-4 2h0m-4-2h0m-6 4h0m-1-4h0m-2-4h0m-2 0h0m-3 8h0m-4-4h0m-3 2h0m-1 2h0m-1-2h0m-2-7h0m-8 6h0m0-6h0m-3 0h0m0 11h0m-3-5h0m-2 2h0m-2-3h0m-2 1h0m0 0h0m-1-2h0m-1 5h0m0 2h0m-1-5h0m-6-2h0m-3 6h0m-1-8h0m-2 3h0m-2 3h0m-1 2h0m-1-10h0m-1 3h0m-2 2h0m-3-5h0m-2 3h0m0-3h0m-4 3h0m-2 6h0m0-3h0m-5-1h0m-3-4h0m0 1h0m15 14h0m4-2h0m3 6h0m2-8h0m4 8h0m0-7h0m1 4h0m1 1h0m2-6h0m2 6h0m2-6h0m0 5h0m0-3h0m4-3h0m3 4h0m1 5h0m2 2h0m0-5h0m2 2h0m6 2h0m2-1h0m0-4h0m2 2h0m0 3h0m2-9h0m0 4h0m1 4h0m0-5h0m2 4h0m1-2h0m2 4h0m1-6h0m2 7h0m4 0h0m0-10h0m1 7h0m1 2h0m3-6h0m0 5h0m4-6h0m3 5h0m4-8h0m0 3h0m2-2h0m2 1h0m2 3h0m6-4h0m1 8h0m5-9h0m3 3h0m0-1h0m3-1h0m1 6h0m3-5h0m3 5h0m5 3h0m3 0h0m5-10h0m0 9h0m8-5h0m0 0h0m3 0h0m1 2h0m3 5h0m0-11h0m2 2h0m2 5h0m1-4h0m1 8h0m3-10h0m3 0h0m1 8h0m7 2h0m3-9h0m1 3h0m1 1h0m2 3h0m2-7h0m3 0h0m2 6h0m-5 13h0m-3-1h0m-1-2h0m-1-1h0m-2 2h0m-5 1h0m-3 2h0m-5 0h0m-1-10h0m-4 3h0m-1 6h0m-2-5h0m-2-1h0m-9 3h0m-3 3h0m-2-5h0m0 6h0m0 2h0m-2-11h0m0 7h0m-1-7h0m-4 8h0m-2-5h0m-8 4h0m-1-1h0m-4 2h0m-1 0h0m0-5h0m-1 3h0m-2-6h0m-1 3h0m-7 0h0m-3 5h0m-4-9h0m-2 10h0m0 0h0m-4-10h0m0 8h0m-1 0h0m-2 1h0m-2 1h0m-2-5h0m-1 6h0m-2-1h0m-2-8h0m-2 5h0m0 4h0m-3 0h0m-5-7h0m-2 0h0m-1 7h0m0-7h0m-1 5h0m-1 1h0m0-5h0m-1-3h0m-1 1h0m0 8h0m-1-6h0m0 6h0m-3-1h0m-1 0h0m-6-5h0m-6 7h0m-1-1h0m-3-6h0m0 0h0m-1-2h0m-4 1h0m-2 3h0m-2-5h0m-3 2h0m0 2h0m-1 4h0m-4-8h0m11 11h0m8 6h0m1 4h0m2-5h0m9-1h0m3 1h0m1-5h0m6 1h0m7-2h0m0 1h0m2 5h0m3-1h0m1 2h0m2-2h0m1 1h0m0 4h0m2-2h0m9-1h0m0-2h0m5-1h0m1-4h0m2 9h0m1-9h0m5 2h0m0 10h0m6-2h0m4 1h0m2-10h0m2 4h0m1 3h0m2-5h0m1 6h0m7 0h0m4 1h0m1 2h0m6-9h0m0 0h0m7 5h0m2-2h0m3 6h0m1-7h0m0 5h0m1-6h0m1 0h0m0-3h0m2 6h0m1-2h0m0-4h0m2 3h0m5 1h0m0-5h0m0 9h0m2 1h0m1-3h0m2-6h0m1 11h0m0-5h0m3-3h0m1 4h0m0-5h0m2 4h0m2-1h0m-12 14h0m-1-1h0m0-3h0m-1 5h0m-2-1h0m-1 0h0m-1-1h0m-8-4h0m-2 2h0m-1-2h0m-1 0h0m0 6h0m-2 2h0m-2-9h0m-7 2h0m-5-4h0m-2 7h0m0 4h0m-4-3h0m-1-4h0m-2 8h0m0-1h0m-1-9h0m0 6h0m0 1h0m-2 3h0m0-6h0m-3 1h0m-1-2h0m-5 0h0m0 0h0m-5-1h0m-2 1h0m-16-3h0m-13 2h0m-7-2h0m-1 0h0m-2 2h0m0-3h0m-7 2h0m-8 1h0m-16 20h0m1-12h0m2 10h0m1 1h0m2-8h0m0 4h0m4-3h0m78-1h0m15-2h0m1 0h0m6 0h0m15 0h0m-69 15h0m-12 2h0m-3 4h0m-11 2h0m-8-2h0m-1-3h0m-1 3h0m-8-8h0m0 7h0m-4-5h0m4 18h0m7 2h0m5 0h0m0-5h0m3 3h0m0-4h0m4 3h0m0 2h0m1-11h0m1 8h0m6-7h0m5 1h0m-12 13h0m-10-2h0" stroke="#dde23b" stroke-width="6" stroke-linecap="round" fill="none" transform="scale(0.5)"/>
<path d="M1949 907h0m-76 13h0m13-2h0m0 4h0m45-5h0m7 4h0m4-6h0m72 15h0m-27-1h0m-33 5h0m-21 0h0m-10-3h0m-12 6h0m9 8h0m7 1h0m12-2h0m56 0h0m2-8h0m5 5h0m14 0h0m15 8h0m-17 3h0m-16-3h0m-8 10h0m-56 0h0m-52-9h0m-2-2h0m-8 23h0m13-9h0m113 4h0m20 2h0m29 7h0m-21 9h0m-3-1h0m-20-5h0m-18 4h0m-3 1h0m-31-8h0m-1 7h0m-74-9h0m29 19h0m83-4h0m62 17h0m-16-7h0m-40 8h0m-21-4h0m-10 2h0m-11 3h0m-9-11h0m-26 16h0m107-1h0m14 14h0m-18 5h0m-102-6h0m-8 17h0m1 1h0m4 2h0m40 6h0m-2 3h0m-28-1h0m-6-3h0m-6 6h0m28 2h0m-13 15h0m0-4h0" stroke="#f3a53b" stroke-width="6" stroke-linecap="round" fill="none" transform="scale(0.5)"/>
<path d="M1875 916h0m11-1h0m76 6h0m18-1h0m18-1h0m5 17h0m-9-12h0m-38 10h0m-42-6h0m-24 8h0m-14-5h0m-1 1h0m0 16h0m22-6h0m42-3h0m13-2h0m13 3h0m17-1h0m21 6h0m4-5h0m16 20h0m-32-10h0m-36 2h0m-61 19h0m18-1h0m62-5h0m50 2h0m10 2h0m-38 15h0m-29-2h0m-29-3h0m-4-1h0m-44 14h0m31 3h0m54-7h0m16-3h0m33 5h0m-73 13h0m-42-1h0m-12 1h0m-5-5h0m93 13h0m25 6h0m16 3h0m-57 3h0m-33 2h0" stroke="#e0646a" stroke-width="6" stroke-linecap="round" fill="none" transform="scale(0.5)"/>
<path d="M2004 912h0m-44-3h0m57 19h0m-33 5h0m-98-8h0m-14 9h0m33 3h0m46 11h0m40-12h0m6 1h0m17 5h0m11 14h0m-2-4h0m-42 2h0m-77 1h0m-33 14h0m23 0h0m21 0h0m66 0h0m67 12h0m-34-8h0m-21 7h0m-31 2h0m69 20h0m-83 1h0m-24 2h0m-7 6h0m27 4h0m87-7h0m2 23h0m-117-9h0" stroke="#c03585" stroke-width="6" stroke-linecap="round" fill="none" transform="scale(0.5)"/>
<path d="M1962 916h0m31 3h0m-99 24h0m37 11h0m-29 4h0m102 26h0m-36-12h0m-77 8h0m49 11h0m63 0h0m27 10h0m-5-3h0m-89 11h0m110 13h0" stroke="#8a2d8f" stroke-width="6" stroke-linecap="round" fill="none" transform="scale(0.5)"/>
<path d="M1888 916h0m6 24h0m73 17h0m-13 7h0m-1 24h0m45 39h0m-21-6h0m-33 1h0" stroke="#3c3f98" stroke-width="6" stroke-linecap="round" fill="none" transform="scale(0.5)"/>
<path d="M2211 919h0m33 3h0m39 5h0m-9-2h0m-17 9h0m-2-2h0m-7 3h0m-1-7h0m-16 7h0m-4-1h0m-1-6h0m-2-2h0m-2 1h0m-5 6h0m0 0h0m-8 1h0m-14-3h0m-5-3h0m-9 1h0m-10 5h0m-1-5h0m-3 6h0m-12-2h0m-3 3h0m-1 0h0m-1 0h0m-4 9h0m2-9h0m3 6h0m5 4h0m10-3h0m16-3h0m9-2h0m3 5h0m18-3h0m16-3h0m5 11h0m16-3h0m1 3h0m22-6h0m6-3h0m2-2h0m11 8h0m7 6h0m-2 7h0m-7-5h0m-8-5h0m-5 3h0m0 6h0m-3 0h0m-17-4h0m-11-2h0m-5 5h0m-5-6h0m-1 9h0m-8-5h0m-4 1h0m-25-5h0m-16 3h0m-13-2h0m-4 6h0m-21-8h0m4 14h0m5-2h0m19 6h0m10 3h0m1-8h0m25 1h0m2-2h0m19 1h0m13 9h0m2-1h0m1-6h0m30-2h0m10 9h0m2-1h0m15 9h0m-4 0h0m-4-6h0m-1 4h0m-2 6h0m-6-2h0m-3-6h0m-5 9h0m-3-10h0m-8 3h0m-7 0h0m-1 6h0m-7-4h0m-28-5h0m-12 8h0m-14-4h0m-2-2h0m-5-1h0m-9 2h0m-8-1h0m-11-1h0m-2 9h0m1 1h0m11 3h0m23-3h0m3 0h0m1 4h0m10 2h0m15 4h0m1 0h0m13-2h0m8-3h0m8 2h0m7-8h0m12 0h0m6 3h0m10 2h0m4 6h0m3-1h0m1-6h0m12 2h0m2-5h0m-3 16h0m-3 6h0m-5-3h0m-5-2h0m0-1h0m-7 5h0m-4-1h0m-3-3h0m-1 3h0m-2-7h0m-15-1h0m-5 1h0m-10 8h0m0 1h0m-34-3h0m-11-4h0m0-2h0m-9 10h0m0 3h0m13-2h0m9 1h0m37 4h0m15-4h0m2 8h0m24-9h0m3 8h0m3 2h0m3-8h0m-7 10h0m-23 1h0m-5-1h0m-14-1h0" stroke="#e9c444" stroke-width="10" stroke-linecap="round" fill="none" transform="scale(0.5)" stroke-opacity="0.8"/>
<path d="M2219 911h0m-4 0h0m-14 0h0m-62 11h0m0-4h0m1 2h0m5-1h0m8-4h0m0 3h0m0-4h0m3 2h0m9 4h0m20-1h0m10-4h0m2 3h0m1-1h0m6-3h0m2 4h0m0-2h0m4-1h0m3 1h0m3 0h0m8 3h0m0 3h0m6-7h0m2 0h0m5 3h0m1 6h0m2-2h0m7-9h0m1 7h0m2-1h0m3-6h0m3 0h0m1 2h0m4 0h0m5 4h0m8-1h0m21 15h0m-3-2h0m-3-1h0m-2 3h0m-2-5h0m-2-1h0m-4 0h0m-4 9h0m-5 0h0m-1-4h0m-2-1h0m-4-1h0m-1-6h0m-3 11h0m-4-6h0m-3 4h0m-4-2h0m-7-5h0m-3 3h0m-5 0h0m-1 1h0m-6 4h0m-3 0h0m-2-4h0m-12-2h0m-1-3h0m-5 5h0m-18-3h0m-3 1h0m0 1h0m-4-2h0m-2 7h0m-1 1h0m0-1h0m-7-10h0m-9 4h0m0-1h0m-1 9h0m-4-11h0m0 6h0m-1 0h0m-3 1h0m-1-6h0m0-1h0m-9 4h0m0 5h0m-1-2h0m-4-3h0m-1-3h0m0-1h0m-1-1h0m0 7h0m10 8h0m0 9h0m5-12h0m4 8h0m2 3h0m5 0h0m3-4h0m0-3h0m0-1h0m3-1h0m1-1h0m0 7h0m4 3h0m1-9h0m1-1h0m13 4h0m6 6h0m1-5h0m0-3h0m2 0h0m9-2h0m0 10h0m3-3h0m0 0h0m1-5h0m0-2h0m5 10h0m4-8h0m2 9h0m7-7h0m5 0h0m2-3h0m6 0h0m2 2h0m1 0h0m1 0h0m3-3h0m2 11h0m2-6h0m1-3h0m5 4h0m4-6h0m0-1h0m3 8h0m2-7h0m2 0h0m2 0h0m2 4h0m2 0h0m7-3h0m3-1h0m0 9h0m0-3h0m2-7h0m19 11h0m2 11h0m-3-9h0m-2 7h0m-3-4h0m-4 6h0m-1-2h0m-1 4h0m-1-8h0m-1 0h0m-6 8h0m-1-4h0m-12-8h0m0 8h0m-8-8h0m-23 1h0m0 9h0m-4-1h0m0-5h0m-1 5h0m-5 2h0m-2-3h0m-4 4h0m0-8h0m-5 5h0m-5 3h0m-4-5h0m-2-1h0m0 4h0m-5-10h0m-1 11h0m-3-5h0m-6-2h0m-4 7h0m-2-8h0m-1 1h0m-9 2h0m-4 1h0m-6 1h0m-3-3h0m-5 1h0m-5-5h0m-1 11h0m-4-12h0m-2 10h0m-1-3h0m-5 3h0m-2 5h0m0 6h0m14-6h0m0 1h0m1 2h0m2 4h0m6 0h0m1-6h0m8 4h0m0-5h0m6 9h0m3-2h0m2-9h0m1 4h0m1 4h0m8-3h0m1-1h0m1 4h0m4-6h0m0 4h0m1 2h0m1-6h0m0-1h0m4 7h0m9-3h0m1 0h0m0 1h0m1 1h0m3-4h0m5 0h0m7-2h0m2 2h0m0 4h0m2 3h0m0-5h0m0 4h0m5 1h0m3-6h0m4 6h0m4-2h0m0-7h0m1 2h0m2 7h0m8-2h0m2 3h0m0-9h0m3-3h0m0 6h0m3-5h0m0 3h0m4 2h0m0-1h0m1 1h0m3 2h0m5-7h0m4 7h0m2 2h0m5-3h0m2 2h0m1-8h0m3 7h0m9 1h0m0-2h0m5-1h0m4 7h0m-7 0h0m-9 10h0m-2-10h0m-1 3h0m0-3h0m-3 11h0m-3-1h0m-7-8h0m-4 3h0m-8 6h0m-1-1h0m0-9h0m-2 10h0m-4-1h0m0-6h0m-1 7h0m-3-4h0m-1-2h0m-4 3h0m-2-8h0m-5 10h0m0-7h0m-3 0h0m-1 7h0m-6-5h0m-4-6h0m0 10h0m-1-5h0m-5 3h0m-3-2h0m-7 0h0m-1-3h0m-7 7h0m-4-4h0m-4 2h0m-1-2h0m-10-5h0m-9 5h0m-4 4h0m-1 2h0m-6-7h0m-4 6h0m-1-8h0m-1 3h0m-8 0h0m0 2h0m-4-4h0m-5 0h0m-1 3h0m-9-4h0m16 14h0m3-2h0m4 6h0m5-7h0m5-1h0m2 6h0m1-1h0m1-3h0m4-3h0m3 4h0m3 2h0m1 2h0m6 2h0m2-1h0m6-5h0m2 4h0m0-2h0m6 5h0m4-10h0m0 7h0m4 1h0m5-6h0m3 5h0m5-7h0m2 1h0m9-1h0m1 8h0m1-5h0m6-1h0m0-1h0m7 0h0m3-1h0m1 6h0m4 3h0m7-3h0m2 2h0m7-5h0m1 0h0m4 2h0m3 5h0m0-11h0m2 2h0m2 5h0m2 4h0m5-10h0m8 10h0m5-6h0m8-3h0m1 6h0m-3 13h0m-1 0h0m-3-1h0m-2-2h0m-1-1h0m-7 3h0m-3-6h0m0 8h0m-2-4h0m-3 4h0m-1-10h0m-4 9h0m-2-5h0m-12 2h0m-4-2h0m-1 8h0m-2-4h0m-5 1h0m-4 1h0m-10-1h0m-1 0h0m-3-8h0m-16-1h0m-2 10h0m0 0h0m-4-10h0m-5 11h0m-2-6h0m-2 5h0m-4 1h0m-2-11h0m-8 4h0m-3 5h0m-1 1h0m0-5h0m0-3h0m-5 8h0m-1 0h0m0-1h0m-16-4h0m-6-1h0m-5 3h0m-1-3h0m-1 2h0m-1 4h0m7 3h0m10 10h0m6-8h0m4 2h0m4 1h0m7-4h0m9 4h0m2 1h0m1-2h0m3 0h0m0 1h0m2 2h0m9-1h0m6-7h0m3 9h0m1-9h0m4 2h0m10 9h0m2-8h0m4 5h0m2 1h0m8 0h0m3 1h0m8-7h0m7 5h0m1-2h0m5-2h0m1 0h0m7-4h0m3 0h0m1 9h0m3-2h0m2 5h0m4-4h0m0-5h0m3 11h0m-10 6h0m-1-1h0m0-3h0m-2 5h0m-3-1h0m-5-8h0m-3 3h0m-3 0h0m-1 0h0m-1 6h0m-3-7h0m-20 2h0m-2 7h0m0-9h0m0 6h0m-1 1h0m-2 3h0m0-6h0m-2 1h0m-1-2h0m-5 0h0m-4-4h0m-8 2h0m-11-1h0m-13 2h0m-8-2h0m0 0h0m-1 3h0m-2-1h0m0-3h0m-6 2h0m-9 1h0m-14 8h0m3 11h0m1-8h0m0 6h0m1-2h0m1 3h0m3-6h0m0 8h0m78-9h0m37-2h0m-69 15h0m-5 2h0m-2 3h0m-19 3h0m-9-2h0m-1-2h0m-9 1h0m-3 2h0m-1-7h0m5 18h0m7 2h0m4 0h0m1-5h0m3 3h0m0-4h0m5-6h0m1 8h0m3-7h0m7 1h0m-21 11h0" stroke="#dde23b" stroke-width="6" stroke-linecap="round" fill="none" transform="scale(0.5)"/>
<path d="M2272 912h0m-49-3h0m-7-2h0m-5 3h0m-14 2h0m-64 12h0m6-7h0m15 5h0m12-6h0m23 1h0m15 6h0m7-3h0m62-7h0m1 10h0m10 1h0m12 2h0m-14 3h0m-1 1h0m-4 4h0m-33-8h0m-20 3h0m-2 5h0m-11-8h0m-20 5h0m-25 4h0m-2-7h0m-6 5h0m-15-2h0m3 6h0m1 5h0m1 1h0m24 2h0m4-1h0m0 1h0m2-4h0m1-4h0m15 9h0m5-5h0m6 4h0m7-3h0m18-2h0m0 6h0m1-7h0m2 1h0m11 1h0m1 5h0m1 1h0m19-11h0m8 6h0m1 3h0m0-5h0m3-1h0m4 3h0m9-5h0m23 20h0m-2-7h0m-9 1h0m-3-2h0m-2 6h0m-19 3h0m-1 0h0m-4-10h0m-20 6h0m-2 0h0m-2 3h0m-1-3h0m-4-5h0m-5 10h0m-1 0h0m-7-4h0m-7 3h0m-5-5h0m-9-5h0m-4 1h0m-11 9h0m0-2h0m-5 3h0m-8-7h0m-1-3h0m-1 3h0m-9 3h0m-1 5h0m-3-1h0m-8-9h0m-10 0h0m-10-2h0m0 23h0m1-4h0m30-3h0m3 6h0m14-4h0m29 0h0m7 6h0m2-6h0m0-5h0m11 10h0m18 1h0m8-8h0m25 8h0m17-7h0m3-4h0m15 9h0m-6 6h0m-1-3h0m-1 2h0m-11 4h0m-1 3h0m-3 2h0m-1-2h0m-13-8h0m-11 10h0m-1-8h0m-6 5h0m-3-4h0m-3 0h0m-2 1h0m-10-2h0m-2 3h0m-2 4h0m-5-8h0m-1 1h0m-6 2h0m-3 4h0m-16-8h0m-9 6h0m-4-7h0m-21 4h0m-18 6h0m-1-10h0m-1 3h0m-12 6h0m-8-8h0m24 11h0m8 7h0m3-7h0m32 6h0m5 4h0m2-1h0m6-6h0m9-4h0m0 3h0m17-3h0m27 0h0m10 4h0m18 5h0m13 0h0m3-7h0m-7 17h0m-12-2h0m-5-3h0m-2 1h0m-17 6h0m-4-8h0m-7 3h0m-9 3h0m-4-3h0m-9 2h0m-5 3h0m-11-1h0m-2 1h0m-3 1h0m-1-3h0m-4 0h0m-1-5h0m-11 2h0m-7 1h0m0 6h0m-10-6h0m-7 6h0m-3-6h0m-2-2h0m6 15h0m4-2h0m10-3h0m10 0h0m3 0h0m9 9h0m16-6h0m9 8h0m5-2h0m9-5h0m16 7h0m6-3h0m12 3h0m1-7h0m1-2h0m3 4h0m0-2h0m2-1h0m7 6h0m5-3h0m5 0h0m-13 16h0m-12-6h0m0 5h0m-4 1h0m-10-7h0m-4-4h0m-2 11h0m-3-4h0m-17-2h0m-62-1h0m-2-2h0m-13 22h0m4-2h0m100-9h0m7 0h0m-67 17h0m-3 4h0m-20-3h0m0 3h0m-5-5h0m-3-3h0m18 19h0m1 2h0m8-10h0m-8 14h0m-8 1h0m0-4h0" stroke="#f3a53b" stroke-width="6" stroke-linecap="round" fill="none" transform="scale(0.5)"/>
<path d="M2228 909h0m-76 8h0m20 3h0m0-1h0m14-5h0m4 9h0m15-2h0m5 2h0m19 0h0m1 0h0m0-2h0m9-9h0m35 7h0m10-5h0m12 19h0m-13-1h0m0-1h0m-19 2h0m-41-4h0m-21 6h0m-39-1h0m-20-2h0m-12 0h0m1 9h0m4-2h0m7-1h0m21 4h0m11-3h0m4 0h0m8 6h0m5-1h0m6-4h0m3 1h0m5 0h0m7 6h0m6-8h0m1-2h0m5 8h0m16-7h0m9 7h0m6-4h0m1 7h0m7-9h0m3 3h0m3 3h0m13 4h0m-2 3h0m-8 8h0m-7-11h0m-5 10h0m-3-9h0m-8 4h0m-11 0h0m-9-2h0m-3 0h0m-23-3h0m-2 1h0m-2-1h0m-28 9h0m-6-6h0m-10 7h0m-20 12h0m8 0h0m8-9h0m9 9h0m4-6h0m4 3h0m12 1h0m3 2h0m5-10h0m2 8h0m3 0h0m6-8h0m4 4h0m6-4h0m9 5h0m19 3h0m11-7h0m5 5h0m10 0h0m37 2h0m11-2h0m-3 13h0m-27-7h0m-19 9h0m-11 0h0m-34 0h0m-2-8h0m-10 5h0m-16-6h0m0 11h0m-5-3h0m-5-2h0m-17 2h0m-10-8h0m43 16h0m1 2h0m1 3h0m2-5h0m1 4h0m5-5h0m11 0h0m36-3h0m1 6h0m2-3h0m11 6h0m24-4h0m1-3h0m4-2h0m16 5h0m-64 13h0m-2-3h0m-7 0h0m-14 4h0m-7 3h0m-6-4h0m-4 4h0m-7 0h0m-4-8h0m-18 9h0m-3-6h0m-8 1h0m-1-5h0m-8 0h0m-1 0h0m54 17h0m14-2h0m27-4h0m4 2h0m20 0h0m15-2h0m3 0h0m11 0h0m10 5h0m-10 11h0m-8 2h0m-30 0h0m-25-3h0m-32-2h0m63 11h0" stroke="#e0646a" stroke-width="6" stroke-linecap="round" fill="none" transform="scale(0.5)"/>
<path d="M2224 908h0m0 1h0m-81 7h0m52 3h0m34-3h0m8 1h0m2 6h0m6-3h0m15-1h0m1 9h0m-24 7h0m-88-9h0m78 10h0m13 1h0m5 8h0m35-1h0m3-3h0m6 1h0m-18 13h0m-1-1h0m-7-1h0m-6 6h0m-18-3h0m-19-7h0m-5 7h0m-17-5h0m-24 5h0m-4 2h0m-12-2h0m-21 2h0m7 9h0m26-3h0m74 4h0m14-3h0m11 7h0m46 9h0m-51-5h0m-25-3h0m-2 6h0m-1-2h0m-16 5h0m-17 0h0m-10-3h0m-7 0h0m-5 0h0m-26-6h0m-11 0h0m-1 5h0m15 14h0m9 1h0m3-2h0m14 2h0m2 2h0m2 0h0m11-10h0m36 4h0m76-3h0m-24 13h0m-15 7h0m-3-9h0m-14 7h0m-25 0h0m-30-4h0m-4 7h0m-18 8h0m28-7h0m84 10h0m11-5h0m9-1h0m-10 16h0m-37 0h0m-2 4h0m-19-7h0" stroke="#c03585" stroke-width="6" stroke-linecap="round" fill="none" transform="scale(0.5)"/>
<path d="M2249 913h0m-48 21h0m-33-6h0m-1 6h0m-35-1h0m30 36h0m100 2h0m42-8h0m-34 15h0m-93 1h0m-8 11h0m36 4h0" stroke="#8a2d8f" stroke-width="6" stroke-linecap="round" fill="none" transform="scale(0.5)"/>

<text x="645.8" y="443" font-size="18.4" font-style="italic" stroke="#000" stroke-width="0.3">Siglecf</text>
<text x="781.4" y="443" font-size="18.4" font-style="italic" stroke="#000" stroke-width="0.3">Ccr3</text>
<text x="916.2" y="443" font-size="18.4" font-style="italic" stroke="#000" stroke-width="0.3">Prg2</text>
<text x="1050.6" y="443" font-size="18.4" font-style="italic" stroke="#000" stroke-width="0.3">Il5ra</text>
<defs><linearGradient id="plz" x1="0" y1="1" x2="0" y2="0"><stop offset="0" stop-color="#e6e23a"/><stop offset="0.25" stop-color="#f6a03a"/><stop offset="0.5" stop-color="#d8456f"/><stop offset="0.75" stop-color="#8d2c8f"/><stop offset="1" stop-color="#3a3f99"/></linearGradient></defs>
<rect x="1199.8" y="418.2" width="24.2" height="115.9" fill="url(#plz)"/>
<text x="1233.5" y="426.3" font-size="17.8" stroke="#000" stroke-width="0.3">4</text>
<text x="1233.5" y="454.1" font-size="17.8" stroke="#000" stroke-width="0.3">3</text>
<path d="M1199.8 447.8L1204.5 447.8" stroke="#fff" stroke-width="1" fill="none"/>
<path d="M1219.3 447.8L1224 447.8" stroke="#fff" stroke-width="1" fill="none"/>
<text x="1233.5" y="482.9" font-size="17.8" stroke="#000" stroke-width="0.3">2</text>
<path d="M1199.8 476.6L1204.5 476.6" stroke="#fff" stroke-width="1" fill="none"/>
<path d="M1219.3 476.6L1224 476.6" stroke="#fff" stroke-width="1" fill="none"/>
<text x="1233.5" y="510.8" font-size="17.8" stroke="#000" stroke-width="0.3">1</text>
<path d="M1199.8 504.5L1204.5 504.5" stroke="#fff" stroke-width="1" fill="none"/>
<path d="M1219.3 504.5L1224 504.5" stroke="#fff" stroke-width="1" fill="none"/>
<text x="1233.5" y="539.6" font-size="17.8" stroke="#000" stroke-width="0.3">0</text>
</g>
<g id="pd">
<text x="786" y="668.5" font-size="66" font-family="'Liberation Serif',serif" stroke="#000" stroke-width="0.3">D.</text>
<path d="M878.2 636.4h40.5v20.8h-40.5zM878.2 659.1h40.5v20.8h-40.5zM878.2 681.8h40.5v20.8h-40.5zM878.2 704.5h40.5v20.8h-40.5zM878.2 727.2h40.5v40.3h-40.5zM878.2 769.4h40.5v40.3h-40.5zM878.2 811.6h40.5v40.3h-40.5zM878.2 853.8h40.5v40.3h-40.5zM878.2 896h40.5v20.8h-40.5zM878.2 918.7h40.5v20.8h-40.5zM920.6 636.4h79.7v20.8h-79.7zM920.6 659.1h79.7v20.8h-79.7zM920.6 681.8h79.7v20.8h-79.7zM920.6 704.5h79.7v20.8h-79.7zM920.6 727.2h79.7v40.3h-79.7zM920.6 769.4h79.7v40.3h-79.7zM920.6 811.6h79.7v40.3h-79.7zM920.6 853.8h79.7v40.3h-79.7zM920.6 896h79.7v20.8h-79.7zM920.6 918.7h79.7v20.8h-79.7zM1002.2 636.4h79.7v20.8h-79.7zM1002.2 659.1h79.7v20.8h-79.7zM1002.2 681.8h79.7v20.8h-79.7zM1002.2 704.5h79.7v20.8h-79.7zM1002.2 727.2h79.7v40.3h-79.7zM1002.2 769.4h79.7v40.3h-79.7zM1002.2 811.6h79.7v40.3h-79.7zM1002.2 853.8h79.7v40.3h-79.7zM1002.2 896h79.7v20.8h-79.7zM1002.2 918.7h79.7v20.8h-79.7zM1083.8 636.4h79.7v20.8h-79.7zM1083.8 659.1h79.7v20.8h-79.7zM1083.8 681.8h79.7v20.8h-79.7zM1083.8 704.5h79.7v20.8h-79.7zM1083.8 727.2h79.7v40.3h-79.7zM1083.8 769.4h79.7v40.3h-79.7zM1083.8 811.6h79.7v40.3h-79.7zM1083.8 853.8h79.7v40.3h-79.7zM1083.8 896h79.7v20.8h-79.7zM1083.8 918.7h79.7v20.8h-79.7zM1165.4 636.4h40.5v20.8h-40.5zM1165.4 659.1h40.5v20.8h-40.5zM1165.4 681.8h40.5v20.8h-40.5zM1165.4 704.5h40.5v20.8h-40.5zM1165.4 727.2h40.5v40.3h-40.5zM1165.4 769.4h40.5v40.3h-40.5zM1165.4 811.6h40.5v40.3h-40.5zM1165.4 853.8h40.5v40.3h-40.5zM1165.4 896h40.5v20.8h-40.5zM1165.4 918.7h40.5v20.8h-40.5zM1207.8 636.4h20.9v20.8h-20.9zM1207.8 659.1h20.9v20.8h-20.9zM1207.8 681.8h20.9v20.8h-20.9zM1207.8 704.5h20.9v20.8h-20.9zM1207.8 727.2h20.9v40.3h-20.9zM1207.8 769.4h20.9v40.3h-20.9zM1207.8 811.6h20.9v40.3h-20.9zM1207.8 853.8h20.9v40.3h-20.9zM1207.8 896h20.9v20.8h-20.9zM1207.8 918.7h20.9v20.8h-20.9zM1230.6 636.4h99.3v20.8h-99.3zM1230.6 659.1h99.3v20.8h-99.3zM1230.6 681.8h99.3v20.8h-99.3zM1230.6 704.5h99.3v20.8h-99.3zM1230.6 727.2h99.3v40.3h-99.3zM1230.6 769.4h99.3v40.3h-99.3zM1230.6 811.6h99.3v40.3h-99.3zM1230.6 853.8h99.3v40.3h-99.3zM1230.6 896h99.3v20.8h-99.3zM1230.6 918.7h99.3v20.8h-99.3zM1331.8 636.4h20.9v20.8h-20.9zM1331.8 659.1h20.9v20.8h-20.9zM1331.8 681.8h20.9v20.8h-20.9zM1331.8 704.5h20.9v20.8h-20.9zM1331.8 727.2h20.9v40.3h-20.9zM1331.8 769.4h20.9v40.3h-20.9zM1331.8 811.6h20.9v40.3h-20.9zM1331.8 853.8h20.9v40.3h-20.9zM1331.8 896h20.9v20.8h-20.9zM1331.8 918.7h20.9v20.8h-20.9zM1354.6 636.4h40.5v20.8h-40.5zM1354.6 659.1h40.5v20.8h-40.5zM1354.6 681.8h40.5v20.8h-40.5zM1354.6 704.5h40.5v20.8h-40.5zM1354.6 727.2h40.5v40.3h-40.5zM1354.6 769.4h40.5v40.3h-40.5zM1354.6 811.6h40.5v40.3h-40.5zM1354.6 853.8h40.5v40.3h-40.5zM1354.6 896h40.5v20.8h-40.5zM1354.6 918.7h40.5v20.8h-40.5zM1397 636.4h60.1v20.8h-60.1zM1397 659.1h60.1v20.8h-60.1zM1397 681.8h60.1v20.8h-60.1zM1397 704.5h60.1v20.8h-60.1zM1397 727.2h60.1v40.3h-60.1zM1397 769.4h60.1v40.3h-60.1zM1397 811.6h60.1v40.3h-60.1zM1397 853.8h60.1v40.3h-60.1zM1397 896h60.1v20.8h-60.1zM1397 918.7h60.1v20.8h-60.1zM1459 636.4h60.1v20.8h-60.1zM1459 659.1h60.1v20.8h-60.1zM1459 681.8h60.1v20.8h-60.1zM1459 704.5h60.1v20.8h-60.1zM1459 727.2h60.1v40.3h-60.1zM1459 769.4h60.1v40.3h-60.1zM1459 811.6h60.1v40.3h-60.1zM1459 853.8h60.1v40.3h-60.1zM1459 896h60.1v20.8h-60.1zM1459 918.7h60.1v20.8h-60.1zM1521 636.4h60.1v20.8h-60.1zM1521 659.1h60.1v20.8h-60.1zM1521 681.8h60.1v20.8h-60.1zM1521 704.5h60.1v20.8h-60.1zM1521 727.2h60.1v40.3h-60.1zM1521 769.4h60.1v40.3h-60.1zM1521 811.6h60.1v40.3h-60.1zM1521 853.8h60.1v40.3h-60.1zM1521 896h60.1v20.8h-60.1zM1521 918.7h60.1v20.8h-60.1z" fill="#0a0a14"/>
<path d="M879.4 637.6h18.5v18.4h-18.5zM921.8 637.6h18.5v18.4h-18.5zM941.4 637.6h18.5v18.4h-18.5zM1023 637.6h18.5v18.4h-18.5zM1062.2 637.6h18.5v18.4h-18.5zM1085 637.6h18.5v18.4h-18.5zM1104.6 637.6h18.5v18.4h-18.5zM1124.2 637.6h18.5v18.4h-18.5zM1143.8 637.6h18.5v18.4h-18.5zM1166.6 637.6h18.5v18.4h-18.5zM1186.2 637.6h18.5v18.4h-18.5zM1209 637.6h18.5v18.4h-18.5zM1231.8 637.6h18.5v18.4h-18.5zM1251.4 637.6h18.5v18.4h-18.5zM1271 637.6h18.5v18.4h-18.5zM1290.6 637.6h18.5v18.4h-18.5zM1310.2 637.6h18.5v18.4h-18.5zM1333 637.6h18.5v18.4h-18.5zM1355.8 637.6h18.5v18.4h-18.5zM1375.4 637.6h18.5v18.4h-18.5zM1398.2 637.6h18.5v18.4h-18.5zM1417.8 637.6h18.5v18.4h-18.5zM1437.4 637.6h18.5v18.4h-18.5zM1499.4 637.6h18.5v18.4h-18.5zM899 660.3h18.5v18.4h-18.5zM921.8 660.3h18.5v18.4h-18.5zM941.4 660.3h18.5v18.4h-18.5zM961 660.3h18.5v18.4h-18.5zM1023 660.3h18.5v18.4h-18.5zM1042.6 660.3h18.5v18.4h-18.5zM1062.2 660.3h18.5v18.4h-18.5zM1085 660.3h18.5v18.4h-18.5zM1104.6 660.3h18.5v18.4h-18.5zM1124.2 660.3h18.5v18.4h-18.5zM1143.8 660.3h18.5v18.4h-18.5zM1166.6 660.3h18.5v18.4h-18.5zM1186.2 660.3h18.5v18.4h-18.5zM1209 660.3h18.5v18.4h-18.5zM1231.8 660.3h18.5v18.4h-18.5zM1251.4 660.3h18.5v18.4h-18.5zM1271 660.3h18.5v18.4h-18.5zM1310.2 660.3h18.5v18.4h-18.5zM1333 660.3h18.5v18.4h-18.5zM1355.8 660.3h18.5v18.4h-18.5zM1375.4 660.3h18.5v18.4h-18.5zM1398.2 660.3h18.5v18.4h-18.5zM1417.8 660.3h18.5v18.4h-18.5zM1522.2 660.3h18.5v18.4h-18.5zM879.4 683h18.5v18.4h-18.5zM899 683h18.5v18.4h-18.5zM921.8 683h18.5v18.4h-18.5zM941.4 683h18.5v18.4h-18.5zM1023 683h18.5v18.4h-18.5zM1085 683h18.5v18.4h-18.5zM1104.6 683h18.5v18.4h-18.5zM1124.2 683h18.5v18.4h-18.5zM1143.8 683h18.5v18.4h-18.5zM1186.2 683h18.5v18.4h-18.5zM1231.8 683h18.5v18.4h-18.5zM1251.4 683h18.5v18.4h-18.5zM1271 683h18.5v18.4h-18.5zM1290.6 683h18.5v18.4h-18.5zM1333 683h18.5v18.4h-18.5zM1460.2 683h18.5v18.4h-18.5zM1479.8 683h18.5v18.4h-18.5zM1499.4 683h18.5v18.4h-18.5zM1522.2 683h18.5v18.4h-18.5zM1541.8 683h18.5v18.4h-18.5zM1561.4 683h18.5v18.4h-18.5zM879.4 705.7h18.5v18.4h-18.5zM1023 705.7h18.5v18.4h-18.5zM1104.6 705.7h18.5v18.4h-18.5zM1124.2 705.7h18.5v18.4h-18.5zM1143.8 705.7h18.5v18.4h-18.5zM1166.6 705.7h18.5v18.4h-18.5zM1186.2 705.7h18.5v18.4h-18.5zM1355.8 705.7h18.5v18.4h-18.5zM1375.4 705.7h18.5v18.4h-18.5zM1398.2 705.7h18.5v18.4h-18.5zM1417.8 705.7h18.5v18.4h-18.5zM1437.4 705.7h18.5v18.4h-18.5zM1460.2 705.7h18.5v18.4h-18.5zM1479.8 705.7h18.5v18.4h-18.5zM1522.2 705.7h18.5v18.4h-18.5zM1541.8 705.7h18.5v18.4h-18.5zM879.4 728.4h18.5v18.4h-18.5zM921.8 728.4h18.5v18.4h-18.5zM941.4 728.4h18.5v18.4h-18.5zM961 728.4h18.5v18.4h-18.5zM980.6 728.4h18.5v18.4h-18.5zM1003.4 728.4h18.5v18.4h-18.5zM1023 728.4h18.5v18.4h-18.5zM1085 728.4h18.5v18.4h-18.5zM1104.6 728.4h18.5v18.4h-18.5zM1143.8 728.4h18.5v18.4h-18.5zM1166.6 728.4h18.5v18.4h-18.5zM1186.2 728.4h18.5v18.4h-18.5zM1209 728.4h18.5v18.4h-18.5zM1355.8 728.4h18.5v18.4h-18.5zM1375.4 728.4h18.5v18.4h-18.5zM1398.2 728.4h18.5v18.4h-18.5zM1417.8 728.4h18.5v18.4h-18.5zM1437.4 728.4h18.5v18.4h-18.5zM1460.2 728.4h18.5v18.4h-18.5zM1479.8 728.4h18.5v18.4h-18.5zM1499.4 728.4h18.5v18.4h-18.5zM1522.2 728.4h18.5v18.4h-18.5zM1541.8 728.4h18.5v18.4h-18.5zM1561.4 728.4h18.5v18.4h-18.5zM921.8 747.9h18.5v18.4h-18.5zM941.4 747.9h18.5v18.4h-18.5zM961 747.9h18.5v18.4h-18.5zM980.6 747.9h18.5v18.4h-18.5zM1003.4 747.9h18.5v18.4h-18.5zM1023 747.9h18.5v18.4h-18.5zM1042.6 747.9h18.5v18.4h-18.5zM1062.2 747.9h18.5v18.4h-18.5zM1085 747.9h18.5v18.4h-18.5zM1104.6 747.9h18.5v18.4h-18.5zM1124.2 747.9h18.5v18.4h-18.5zM1143.8 747.9h18.5v18.4h-18.5zM1166.6 747.9h18.5v18.4h-18.5zM1186.2 747.9h18.5v18.4h-18.5zM1251.4 747.9h18.5v18.4h-18.5zM1355.8 747.9h18.5v18.4h-18.5zM1375.4 747.9h18.5v18.4h-18.5zM1398.2 747.9h18.5v18.4h-18.5zM1417.8 747.9h18.5v18.4h-18.5zM1437.4 747.9h18.5v18.4h-18.5zM1460.2 747.9h18.5v18.4h-18.5zM1479.8 747.9h18.5v18.4h-18.5zM1499.4 747.9h18.5v18.4h-18.5zM1522.2 747.9h18.5v18.4h-18.5zM1541.8 747.9h18.5v18.4h-18.5zM879.4 770.6h18.5v18.4h-18.5zM899 770.6h18.5v18.4h-18.5zM921.8 770.6h18.5v18.4h-18.5zM941.4 770.6h18.5v18.4h-18.5zM961 770.6h18.5v18.4h-18.5zM980.6 770.6h18.5v18.4h-18.5zM1003.4 770.6h18.5v18.4h-18.5zM1085 770.6h18.5v18.4h-18.5zM1104.6 770.6h18.5v18.4h-18.5zM1124.2 770.6h18.5v18.4h-18.5zM1143.8 770.6h18.5v18.4h-18.5zM1231.8 770.6h18.5v18.4h-18.5zM1251.4 770.6h18.5v18.4h-18.5zM1271 770.6h18.5v18.4h-18.5zM1290.6 770.6h18.5v18.4h-18.5zM1310.2 770.6h18.5v18.4h-18.5zM1333 770.6h18.5v18.4h-18.5zM1355.8 770.6h18.5v18.4h-18.5zM1375.4 770.6h18.5v18.4h-18.5zM1460.2 770.6h18.5v18.4h-18.5zM1479.8 770.6h18.5v18.4h-18.5zM1499.4 770.6h18.5v18.4h-18.5zM1522.2 770.6h18.5v18.4h-18.5zM1561.4 770.6h18.5v18.4h-18.5zM879.4 790.1h18.5v18.4h-18.5zM899 790.1h18.5v18.4h-18.5zM921.8 790.1h18.5v18.4h-18.5zM941.4 790.1h18.5v18.4h-18.5zM961 790.1h18.5v18.4h-18.5zM980.6 790.1h18.5v18.4h-18.5zM1085 790.1h18.5v18.4h-18.5zM1104.6 790.1h18.5v18.4h-18.5zM1124.2 790.1h18.5v18.4h-18.5zM1143.8 790.1h18.5v18.4h-18.5zM1209 790.1h18.5v18.4h-18.5zM1231.8 790.1h18.5v18.4h-18.5zM1251.4 790.1h18.5v18.4h-18.5zM1271 790.1h18.5v18.4h-18.5zM1290.6 790.1h18.5v18.4h-18.5zM1310.2 790.1h18.5v18.4h-18.5zM1333 790.1h18.5v18.4h-18.5zM1355.8 790.1h18.5v18.4h-18.5zM1375.4 790.1h18.5v18.4h-18.5zM1398.2 790.1h18.5v18.4h-18.5zM1417.8 790.1h18.5v18.4h-18.5zM1437.4 790.1h18.5v18.4h-18.5zM1460.2 790.1h18.5v18.4h-18.5zM1479.8 790.1h18.5v18.4h-18.5zM1499.4 790.1h18.5v18.4h-18.5zM1522.2 790.1h18.5v18.4h-18.5zM1561.4 790.1h18.5v18.4h-18.5zM879.4 812.8h18.5v18.4h-18.5zM899 812.8h18.5v18.4h-18.5zM921.8 812.8h18.5v18.4h-18.5zM941.4 812.8h18.5v18.4h-18.5zM961 812.8h18.5v18.4h-18.5zM1003.4 812.8h18.5v18.4h-18.5zM1023 812.8h18.5v18.4h-18.5zM1042.6 812.8h18.5v18.4h-18.5zM1062.2 812.8h18.5v18.4h-18.5zM1166.6 812.8h18.5v18.4h-18.5zM1186.2 812.8h18.5v18.4h-18.5zM1209 812.8h18.5v18.4h-18.5zM1271 812.8h18.5v18.4h-18.5zM1310.2 812.8h18.5v18.4h-18.5zM1355.8 812.8h18.5v18.4h-18.5zM1375.4 812.8h18.5v18.4h-18.5zM1398.2 812.8h18.5v18.4h-18.5zM1417.8 812.8h18.5v18.4h-18.5zM1437.4 812.8h18.5v18.4h-18.5zM1460.2 812.8h18.5v18.4h-18.5zM1479.8 812.8h18.5v18.4h-18.5zM1499.4 812.8h18.5v18.4h-18.5zM1522.2 812.8h18.5v18.4h-18.5zM921.8 832.3h18.5v18.4h-18.5zM941.4 832.3h18.5v18.4h-18.5zM961 832.3h18.5v18.4h-18.5zM1062.2 832.3h18.5v18.4h-18.5zM1143.8 832.3h18.5v18.4h-18.5zM1166.6 832.3h18.5v18.4h-18.5zM1186.2 832.3h18.5v18.4h-18.5zM1251.4 832.3h18.5v18.4h-18.5zM1271 832.3h18.5v18.4h-18.5zM1290.6 832.3h18.5v18.4h-18.5zM1310.2 832.3h18.5v18.4h-18.5zM1355.8 832.3h18.5v18.4h-18.5zM1375.4 832.3h18.5v18.4h-18.5zM1417.8 832.3h18.5v18.4h-18.5zM1437.4 832.3h18.5v18.4h-18.5zM1460.2 832.3h18.5v18.4h-18.5zM1479.8 832.3h18.5v18.4h-18.5zM1499.4 832.3h18.5v18.4h-18.5zM1522.2 832.3h18.5v18.4h-18.5zM1541.8 832.3h18.5v18.4h-18.5zM879.4 855h18.5v18.4h-18.5zM921.8 855h18.5v18.4h-18.5zM941.4 855h18.5v18.4h-18.5zM961 855h18.5v18.4h-18.5zM980.6 855h18.5v18.4h-18.5zM1085 855h18.5v18.4h-18.5zM1104.6 855h18.5v18.4h-18.5zM1124.2 855h18.5v18.4h-18.5zM1143.8 855h18.5v18.4h-18.5zM1166.6 855h18.5v18.4h-18.5zM1186.2 855h18.5v18.4h-18.5zM1209 855h18.5v18.4h-18.5zM1231.8 855h18.5v18.4h-18.5zM1251.4 855h18.5v18.4h-18.5zM1271 855h18.5v18.4h-18.5zM1290.6 855h18.5v18.4h-18.5zM1310.2 855h18.5v18.4h-18.5zM1333 855h18.5v18.4h-18.5zM1355.8 855h18.5v18.4h-18.5zM1375.4 855h18.5v18.4h-18.5zM1398.2 855h18.5v18.4h-18.5zM1417.8 855h18.5v18.4h-18.5zM1437.4 855h18.5v18.4h-18.5zM1460.2 855h18.5v18.4h-18.5zM1479.8 855h18.5v18.4h-18.5zM1499.4 855h18.5v18.4h-18.5zM1522.2 855h18.5v18.4h-18.5zM1541.8 855h18.5v18.4h-18.5zM1561.4 855h18.5v18.4h-18.5zM879.4 874.5h18.5v18.4h-18.5zM921.8 874.5h18.5v18.4h-18.5zM941.4 874.5h18.5v18.4h-18.5zM961 874.5h18.5v18.4h-18.5zM980.6 874.5h18.5v18.4h-18.5zM1085 874.5h18.5v18.4h-18.5zM1104.6 874.5h18.5v18.4h-18.5zM1124.2 874.5h18.5v18.4h-18.5zM1143.8 874.5h18.5v18.4h-18.5zM1166.6 874.5h18.5v18.4h-18.5zM1186.2 874.5h18.5v18.4h-18.5zM1209 874.5h18.5v18.4h-18.5zM1231.8 874.5h18.5v18.4h-18.5zM1251.4 874.5h18.5v18.4h-18.5zM1271 874.5h18.5v18.4h-18.5zM1290.6 874.5h18.5v18.4h-18.5zM1310.2 874.5h18.5v18.4h-18.5zM1333 874.5h18.5v18.4h-18.5zM1355.8 874.5h18.5v18.4h-18.5zM1375.4 874.5h18.5v18.4h-18.5zM1398.2 874.5h18.5v18.4h-18.5zM1417.8 874.5h18.5v18.4h-18.5zM1437.4 874.5h18.5v18.4h-18.5zM1460.2 874.5h18.5v18.4h-18.5zM1479.8 874.5h18.5v18.4h-18.5zM1499.4 874.5h18.5v18.4h-18.5zM1522.2 874.5h18.5v18.4h-18.5zM1561.4 874.5h18.5v18.4h-18.5zM879.4 897.2h18.5v18.4h-18.5zM899 897.2h18.5v18.4h-18.5zM1085 897.2h18.5v18.4h-18.5zM1104.6 897.2h18.5v18.4h-18.5zM1124.2 897.2h18.5v18.4h-18.5zM1143.8 897.2h18.5v18.4h-18.5zM1166.6 897.2h18.5v18.4h-18.5zM1186.2 897.2h18.5v18.4h-18.5zM1231.8 897.2h18.5v18.4h-18.5zM1251.4 897.2h18.5v18.4h-18.5zM1271 897.2h18.5v18.4h-18.5zM1290.6 897.2h18.5v18.4h-18.5zM1310.2 897.2h18.5v18.4h-18.5zM1333 897.2h18.5v18.4h-18.5zM1355.8 897.2h18.5v18.4h-18.5zM1375.4 897.2h18.5v18.4h-18.5zM1398.2 897.2h18.5v18.4h-18.5zM1417.8 897.2h18.5v18.4h-18.5zM1437.4 897.2h18.5v18.4h-18.5zM1460.2 897.2h18.5v18.4h-18.5zM1479.8 897.2h18.5v18.4h-18.5zM1499.4 897.2h18.5v18.4h-18.5zM1522.2 897.2h18.5v18.4h-18.5zM1541.8 897.2h18.5v18.4h-18.5zM1561.4 897.2h18.5v18.4h-18.5zM921.8 919.9h18.5v18.4h-18.5zM941.4 919.9h18.5v18.4h-18.5zM961 919.9h18.5v18.4h-18.5zM1042.6 919.9h18.5v18.4h-18.5zM1085 919.9h18.5v18.4h-18.5zM1104.6 919.9h18.5v18.4h-18.5zM1143.8 919.9h18.5v18.4h-18.5zM1166.6 919.9h18.5v18.4h-18.5zM1186.2 919.9h18.5v18.4h-18.5zM1209 919.9h18.5v18.4h-18.5zM1231.8 919.9h18.5v18.4h-18.5zM1251.4 919.9h18.5v18.4h-18.5zM1271 919.9h18.5v18.4h-18.5zM1290.6 919.9h18.5v18.4h-18.5zM1310.2 919.9h18.5v18.4h-18.5zM1333 919.9h18.5v18.4h-18.5zM1375.4 919.9h18.5v18.4h-18.5zM1398.2 919.9h18.5v18.4h-18.5zM1417.8 919.9h18.5v18.4h-18.5zM1437.4 919.9h18.5v18.4h-18.5zM1479.8 919.9h18.5v18.4h-18.5zM1499.4 919.9h18.5v18.4h-18.5zM1522.2 919.9h18.5v18.4h-18.5zM1561.4 919.9h18.5v18.4h-18.5z" fill="#3a5da9"/>
<path d="M899 637.6h18.5v18.4h-18.5zM961 637.6h18.5v18.4h-18.5zM1042.6 637.6h18.5v18.4h-18.5zM879.4 660.3h18.5v18.4h-18.5zM1042.6 683h18.5v18.4h-18.5zM1166.6 683h18.5v18.4h-18.5zM1310.2 683h18.5v18.4h-18.5zM941.4 705.7h18.5v18.4h-18.5zM961 705.7h18.5v18.4h-18.5zM980.6 705.7h18.5v18.4h-18.5zM899 728.4h18.5v18.4h-18.5zM1124.2 728.4h18.5v18.4h-18.5zM879.4 747.9h18.5v18.4h-18.5zM1561.4 747.9h18.5v18.4h-18.5zM1541.8 770.6h18.5v18.4h-18.5zM1003.4 790.1h18.5v18.4h-18.5zM1541.8 790.1h18.5v18.4h-18.5zM1561.4 812.8h18.5v18.4h-18.5zM899 855h18.5v18.4h-18.5zM1541.8 874.5h18.5v18.4h-18.5z" fill="#4461ab"/>
<path d="M980.6 637.6h18.5v18.4h-18.5zM1460.2 637.6h18.5v18.4h-18.5zM1479.8 637.6h18.5v18.4h-18.5zM980.6 660.3h18.5v18.4h-18.5zM1437.4 660.3h18.5v18.4h-18.5zM1541.8 660.3h18.5v18.4h-18.5zM961 683h18.5v18.4h-18.5zM1062.2 683h18.5v18.4h-18.5zM1042.6 705.7h18.5v18.4h-18.5zM1499.4 705.7h18.5v18.4h-18.5zM1561.4 705.7h18.5v18.4h-18.5zM1042.6 728.4h18.5v18.4h-18.5zM1062.2 728.4h18.5v18.4h-18.5zM899 747.9h18.5v18.4h-18.5zM1251.4 812.8h18.5v18.4h-18.5zM1398.2 832.3h18.5v18.4h-18.5z" fill="#4762ac"/>
<path d="M1003.4 637.6h18.5v18.4h-18.5zM1186.2 770.6h18.5v18.4h-18.5z" fill="#8288c0"/>
<path d="M1522.2 637.6h18.5v18.4h-18.5zM1541.8 637.6h18.5v18.4h-18.5zM1561.4 637.6h18.5v18.4h-18.5zM1460.2 660.3h18.5v18.4h-18.5zM1479.8 660.3h18.5v18.4h-18.5zM1499.4 660.3h18.5v18.4h-18.5zM1355.8 683h18.5v18.4h-18.5zM1375.4 683h18.5v18.4h-18.5zM1398.2 683h18.5v18.4h-18.5zM1417.8 683h18.5v18.4h-18.5zM1437.4 683h18.5v18.4h-18.5zM1333 705.7h18.5v18.4h-18.5zM1231.8 728.4h18.5v18.4h-18.5zM1251.4 728.4h18.5v18.4h-18.5zM1271 728.4h18.5v18.4h-18.5zM1310.2 728.4h18.5v18.4h-18.5zM1209 747.9h18.5v18.4h-18.5zM1166.6 790.1h18.5v18.4h-18.5zM1186.2 790.1h18.5v18.4h-18.5zM1124.2 812.8h18.5v18.4h-18.5zM1143.8 812.8h18.5v18.4h-18.5zM1290.6 812.8h18.5v18.4h-18.5zM1085 832.3h18.5v18.4h-18.5zM1104.6 832.3h18.5v18.4h-18.5zM1333 832.3h18.5v18.4h-18.5zM1042.6 855h18.5v18.4h-18.5zM1062.2 855h18.5v18.4h-18.5zM1003.4 874.5h18.5v18.4h-18.5zM1023 874.5h18.5v18.4h-18.5zM921.8 897.2h18.5v18.4h-18.5zM941.4 897.2h18.5v18.4h-18.5zM961 897.2h18.5v18.4h-18.5zM980.6 897.2h18.5v18.4h-18.5zM879.4 919.9h18.5v18.4h-18.5zM899 919.9h18.5v18.4h-18.5z" fill="#e92a38"/>
<path d="M1003.4 660.3h18.5v18.4h-18.5zM899 705.7h18.5v18.4h-18.5zM1085 705.7h18.5v18.4h-18.5zM1333 728.4h18.5v18.4h-18.5zM1023 770.6h18.5v18.4h-18.5zM1398.2 770.6h18.5v18.4h-18.5zM1437.4 770.6h18.5v18.4h-18.5zM1042.6 832.3h18.5v18.4h-18.5zM1209 832.3h18.5v18.4h-18.5zM1003.4 855h18.5v18.4h-18.5zM1003.4 897.2h18.5v18.4h-18.5zM1023 919.9h18.5v18.4h-18.5z" fill="#4f65ae"/>
<path d="M1290.6 660.3h18.5v18.4h-18.5z" fill="#b6b9da"/>
<path d="M1561.4 660.3h18.5v18.4h-18.5zM1003.4 683h18.5v18.4h-18.5zM1290.6 705.7h18.5v18.4h-18.5zM1333 747.9h18.5v18.4h-18.5zM1023 790.1h18.5v18.4h-18.5zM980.6 812.8h18.5v18.4h-18.5zM1333 812.8h18.5v18.4h-18.5zM879.4 832.3h18.5v18.4h-18.5zM899 832.3h18.5v18.4h-18.5zM1124.2 832.3h18.5v18.4h-18.5zM1023 897.2h18.5v18.4h-18.5zM1062.2 897.2h18.5v18.4h-18.5zM980.6 919.9h18.5v18.4h-18.5zM1355.8 919.9h18.5v18.4h-18.5zM1541.8 919.9h18.5v18.4h-18.5z" fill="#5467af"/>
<path d="M980.6 683h18.5v18.4h-18.5z" fill="#7981bd"/>
<path d="M1209 683h18.5v18.4h-18.5zM1209 705.7h18.5v18.4h-18.5zM1251.4 705.7h18.5v18.4h-18.5zM1042.6 770.6h18.5v18.4h-18.5zM1417.8 770.6h18.5v18.4h-18.5zM1062.2 790.1h18.5v18.4h-18.5zM1023 832.3h18.5v18.4h-18.5zM1062.2 874.5h18.5v18.4h-18.5zM1124.2 919.9h18.5v18.4h-18.5z" fill="#5a6bb1"/>
<path d="M921.8 705.7h18.5v18.4h-18.5zM1062.2 705.7h18.5v18.4h-18.5zM1561.4 832.3h18.5v18.4h-18.5zM1209 897.2h18.5v18.4h-18.5zM1062.2 919.9h18.5v18.4h-18.5zM1460.2 919.9h18.5v18.4h-18.5z" fill="#4a63ad"/>
<path d="M1003.4 705.7h18.5v18.4h-18.5z" fill="#ed9799"/>
<path d="M1231.8 705.7h18.5v18.4h-18.5z" fill="#9ea2ce"/>
<path d="M1271 705.7h18.5v18.4h-18.5zM1003.4 832.3h18.5v18.4h-18.5z" fill="#969bca"/>
<path d="M1310.2 705.7h18.5v18.4h-18.5z" fill="#aaadd4"/>
<path d="M1290.6 728.4h18.5v18.4h-18.5z" fill="#e9666b"/>
<path d="M1231.8 747.9h18.5v18.4h-18.5z" fill="#ea7f83"/>
<path d="M1271 747.9h18.5v18.4h-18.5zM1310.2 747.9h18.5v18.4h-18.5zM1166.6 770.6h18.5v18.4h-18.5z" fill="#cacce4"/>
<path d="M1290.6 747.9h18.5v18.4h-18.5zM1209 770.6h18.5v18.4h-18.5z" fill="#f5caca"/>
<path d="M1062.2 770.6h18.5v18.4h-18.5zM1042.6 790.1h18.5v18.4h-18.5z" fill="#6372b5"/>
<path d="M1085 812.8h18.5v18.4h-18.5zM1003.4 919.9h18.5v18.4h-18.5z" fill="#6d79b8"/>
<path d="M1104.6 812.8h18.5v18.4h-18.5z" fill="#eeeef6"/>
<path d="M1231.8 812.8h18.5v18.4h-18.5z" fill="#e2e3f0"/>
<path d="M1541.8 812.8h18.5v18.4h-18.5z" fill="#aeb1d6"/>
<path d="M980.6 832.3h18.5v18.4h-18.5z" fill="#a2a6d0"/>
<path d="M1231.8 832.3h18.5v18.4h-18.5zM1042.6 874.5h18.5v18.4h-18.5zM1042.6 897.2h18.5v18.4h-18.5z" fill="#737dba"/>
<path d="M1023 855h18.5v18.4h-18.5z" fill="#bec0de"/>
<path d="M899 874.5h18.5v18.4h-18.5z" fill="#f8eced"/>
<rect x="878.9" y="942.1" width="19.6" height="6.6" fill="#8fa83f"/>
<rect x="898.5" y="942.1" width="19.6" height="6.6" fill="#8fa83f"/>
<rect x="921.2" y="942.1" width="19.6" height="6.6" fill="#8c86c6"/>
<rect x="940.9" y="942.1" width="19.6" height="6.6" fill="#8c86c6"/>
<rect x="960.5" y="942.1" width="19.6" height="6.6" fill="#8c86c6"/>
<rect x="980" y="942.1" width="19.6" height="6.6" fill="#8c86c6"/>
<rect x="1002.9" y="942.1" width="19.6" height="6.6" fill="#e38b2d"/>
<rect x="1022.5" y="942.1" width="19.6" height="6.6" fill="#e38b2d"/>
<rect x="1042" y="942.1" width="19.6" height="6.6" fill="#e9726c"/>
<rect x="1061.7" y="942.1" width="19.6" height="6.6" fill="#e9726c"/>
<rect x="1084.5" y="942.1" width="19.6" height="6.6" fill="#d86cb4"/>
<rect x="1104.1" y="942.1" width="19.6" height="6.6" fill="#d86cb4"/>
<rect x="1123.7" y="942.1" width="19.6" height="6.6" fill="#1fa9e6"/>
<rect x="1143.3" y="942.1" width="19.6" height="6.6" fill="#1fa9e6"/>
<rect x="1166.1" y="942.1" width="19.6" height="3.3" fill="#14b3c4"/>
<rect x="1166.1" y="945.4" width="19.6" height="3.3" fill="#52b25a"/>
<rect x="1185.7" y="942.1" width="19.6" height="3.3" fill="#14b3c4"/>
<rect x="1185.7" y="945.4" width="19.6" height="3.3" fill="#52b25a"/>
<rect x="1208.5" y="942.1" width="19.6" height="3.3" fill="#14b3c4"/>
<rect x="1208.5" y="945.4" width="19.6" height="3.3" fill="#a678b0"/>
<rect x="1231.3" y="942.1" width="19.6" height="3.3" fill="#c59f2f"/>
<rect x="1231.3" y="945.4" width="19.6" height="3.3" fill="#a678b0"/>
<rect x="1250.9" y="942.1" width="19.6" height="3.3" fill="#c59f2f"/>
<rect x="1250.9" y="945.4" width="19.6" height="3.3" fill="#a678b0"/>
<rect x="1270.5" y="942.1" width="19.6" height="3.3" fill="#c59f2f"/>
<rect x="1270.5" y="945.4" width="19.6" height="3.3" fill="#a678b0"/>
<rect x="1290.1" y="942.1" width="19.6" height="3.3" fill="#c59f2f"/>
<rect x="1290.1" y="945.4" width="19.6" height="3.3" fill="#a678b0"/>
<rect x="1309.7" y="942.1" width="19.6" height="3.3" fill="#c59f2f"/>
<rect x="1309.7" y="945.4" width="19.6" height="3.3" fill="#a678b0"/>
<rect x="1332.5" y="942.1" width="19.6" height="6.6" fill="#18a882"/>
<rect x="1355.3" y="942.1" width="19.6" height="6.6" fill="#3c8fd6"/>
<rect x="1374.9" y="942.1" width="19.6" height="6.6" fill="#3c8fd6"/>
<rect x="1397.7" y="942.1" width="19.6" height="6.6" fill="#3c8fd6"/>
<rect x="1417.3" y="942.1" width="19.6" height="6.6" fill="#3c8fd6"/>
<rect x="1436.9" y="942.1" width="19.6" height="6.6" fill="#3c8fd6"/>
<rect x="1459.7" y="942.1" width="19.6" height="6.6" fill="#e8609f"/>
<rect x="1479.3" y="942.1" width="19.6" height="6.6" fill="#e8609f"/>
<rect x="1498.9" y="942.1" width="19.6" height="6.6" fill="#e8609f"/>
<rect x="1521.7" y="942.1" width="19.6" height="6.6" fill="#1aab58"/>
<rect x="1541.3" y="942.1" width="19.6" height="6.6" fill="#1aab58"/>
<rect x="1560.9" y="942.1" width="19.6" height="6.6" fill="#1aab58"/>
<rect x="1585.2" y="636.8" width="5.6" height="20.1" fill="#1aab58"/>
<text x="1599.3" y="651.7" font-size="19" stroke="#000" stroke-width="0.3">Eosinophil</text>
<rect x="1585.2" y="659.4" width="5.6" height="20.1" fill="#e8609f"/>
<text x="1599.3" y="674.4" font-size="19" stroke="#000" stroke-width="0.3">Neutrophil</text>
<rect x="1585.2" y="682.1" width="5.6" height="20.1" fill="#3c8fd6"/>
<text x="1599.3" y="697.1" font-size="19" stroke="#000" stroke-width="0.3">T cell &amp; Mast cell</text>
<rect x="1585.2" y="704.8" width="5.6" height="20.1" fill="#18a882"/>
<text x="1599.3" y="719.8" font-size="19" stroke="#000" stroke-width="0.3">DCs</text>
<rect x="1585.2" y="727.5" width="5.6" height="20.1" fill="#c59f2f"/>
<text x="1599.3" y="742.5" font-size="19" stroke="#000" stroke-width="0.3">Mono/mac</text>
<rect x="1585.2" y="747" width="5.6" height="20.1" fill="#a678b0"/>
<text x="1599.3" y="762" font-size="19" stroke="#000" stroke-width="0.3">Prolif. Mono/mac</text>
<rect x="1585.2" y="769.7" width="5.6" height="20.1" fill="#14b3c4"/>
<text x="1599.3" y="784.7" font-size="19" stroke="#000" stroke-width="0.3">Prolif. epithelial cell</text>
<rect x="1585.2" y="789.2" width="5.6" height="20.1" fill="#52b25a"/>
<text x="1599.3" y="804.2" font-size="19" stroke="#000" stroke-width="0.3">Diff. epithelial cell</text>
<rect x="1585.2" y="811.9" width="5.6" height="20.1" fill="#1fa9e6"/>
<text x="1599.3" y="826.9" font-size="19" stroke="#000" stroke-width="0.3">Plasma cell</text>
<rect x="1585.2" y="831.4" width="5.6" height="20.1" fill="#d86cb4"/>
<text x="1599.3" y="846.4" font-size="19" stroke="#000" stroke-width="0.3">B cell</text>
<rect x="1585.2" y="854.1" width="5.6" height="20.1" fill="#e9726c"/>
<text x="1599.3" y="869.1" font-size="19" stroke="#000" stroke-width="0.3">Fibroblast</text>
<rect x="1585.2" y="873.6" width="5.6" height="20.1" fill="#e38b2d"/>
<text x="1599.3" y="888.6" font-size="19" stroke="#000" stroke-width="0.3">Transitioning fibroblast</text>
<rect x="1585.2" y="896.3" width="5.6" height="20.1" fill="#8c86c6"/>
<text x="1599.3" y="911.3" font-size="19" stroke="#000" stroke-width="0.3">Mesothelial &amp; Endothelial cells</text>
<rect x="1585.2" y="919" width="5.6" height="20.1" fill="#8fa83f"/>
<text x="1599.3" y="934" font-size="19" stroke="#000" stroke-width="0.3">Neurons</text>
<text font-size="22.3" stroke="#000" stroke-width="0.3" transform="translate(881.2 956.6) rotate(90)">Grm5</text>
<text font-size="22.3" stroke="#000" stroke-width="0.3" transform="translate(900.9 956.6) rotate(90)">Piezo2</text>
<text font-size="22.3" stroke="#000" stroke-width="0.3" transform="translate(923.6 956.6) rotate(90)">Lrrn4</text>
<text font-size="22.3" stroke="#000" stroke-width="0.3" transform="translate(943.2 956.6) rotate(90)">Msln</text>
<text font-size="22.3" stroke="#000" stroke-width="0.3" transform="translate(962.9 956.6) rotate(90)">Selp</text>
<text font-size="22.3" stroke="#000" stroke-width="0.3" transform="translate(982.4 956.6) rotate(90)">Pecam1</text>
<text font-size="22.3" stroke="#000" stroke-width="0.3" transform="translate(1005.2 956.6) rotate(90)">Tgfbr1</text>
<text font-size="22.3" stroke="#000" stroke-width="0.3" transform="translate(1024.8 956.6) rotate(90)">Tgfb2</text>
<text font-size="22.3" stroke="#000" stroke-width="0.3" transform="translate(1044.4 956.6) rotate(90)">Fbln2</text>
<text font-size="22.3" stroke="#000" stroke-width="0.3" transform="translate(1064 956.6) rotate(90)">Fbln1</text>
<text font-size="22.3" stroke="#000" stroke-width="0.3" transform="translate(1086.9 956.6) rotate(90)">Cd38</text>
<text font-size="22.3" stroke="#000" stroke-width="0.3" transform="translate(1106.5 956.6) rotate(90)">Cd19</text>
<text font-size="22.3" stroke="#000" stroke-width="0.3" transform="translate(1126.1 956.6) rotate(90)">Igkc</text>
<text font-size="22.3" stroke="#000" stroke-width="0.3" transform="translate(1145.7 956.6) rotate(90)">Jchain</text>
<text font-size="22.3" stroke="#000" stroke-width="0.3" transform="translate(1168.5 956.6) rotate(90)">Krt13</text>
<text font-size="22.3" stroke="#000" stroke-width="0.3" transform="translate(1188.1 956.6) rotate(90)">Krt4</text>
<text font-size="22.3" stroke="#000" stroke-width="0.3" transform="translate(1210.9 956.6) rotate(90)">Mki67</text>
<text font-size="22.3" stroke="#000" stroke-width="0.3" transform="translate(1233.7 956.6) rotate(90)">H2-Eb1</text>
<text font-size="22.3" stroke="#000" stroke-width="0.3" transform="translate(1253.3 956.6) rotate(90)">Cd207</text>
<text font-size="22.3" stroke="#000" stroke-width="0.3" transform="translate(1272.9 956.6) rotate(90)">Cd209a</text>
<text font-size="22.3" stroke="#000" stroke-width="0.3" transform="translate(1292.5 956.6) rotate(90)">Cd68</text>
<text font-size="22.3" stroke="#000" stroke-width="0.3" transform="translate(1312.1 956.6) rotate(90)">Cd163</text>
<text font-size="22.3" stroke="#000" stroke-width="0.3" transform="translate(1334.9 956.6) rotate(90)">Cd86</text>
<text font-size="22.3" stroke="#000" stroke-width="0.3" transform="translate(1357.7 956.6) rotate(90)">Cd4</text>
<text font-size="22.3" stroke="#000" stroke-width="0.3" transform="translate(1377.3 956.6) rotate(90)">Cd3e</text>
<text font-size="22.3" stroke="#000" stroke-width="0.3" transform="translate(1400.1 956.6) rotate(90)">Tpsb2</text>
<text font-size="22.3" stroke="#000" stroke-width="0.3" transform="translate(1419.7 956.6) rotate(90)">Mcpt4</text>
<text font-size="22.3" stroke="#000" stroke-width="0.3" transform="translate(1439.3 956.6) rotate(90)">Fcer1a</text>
<text font-size="22.3" stroke="#000" stroke-width="0.3" transform="translate(1462.1 956.6) rotate(90)">S100a9</text>
<text font-size="22.3" stroke="#000" stroke-width="0.3" transform="translate(1481.7 956.6) rotate(90)">S100a8</text>
<text font-size="22.3" stroke="#000" stroke-width="0.3" transform="translate(1501.3 956.6) rotate(90)">Csf3r</text>
<text font-size="22.3" stroke="#000" stroke-width="0.3" transform="translate(1524.1 956.6) rotate(90)">Ccr3</text>
<text font-size="22.3" stroke="#000" stroke-width="0.3" transform="translate(1543.7 956.6) rotate(90)">Prg2</text>
<text font-size="22.3" stroke="#000" stroke-width="0.3" transform="translate(1563.3 956.6) rotate(90)">Siglecf</text>
<text x="1759.7" y="624.4" font-size="19.2" stroke="#000" stroke-width="0.3">Normalized expression</text>
<defs><linearGradient id="bwr"><stop offset="0" stop-color="#3a5da9"/><stop offset="0.1" stop-color="#4d63ac"/><stop offset="0.3" stop-color="#9a9ccb"/><stop offset="0.5" stop-color="#fff"/><stop offset="0.7" stop-color="#f0a0a0"/><stop offset="0.9" stop-color="#e9434e"/><stop offset="1" stop-color="#e92a38"/></linearGradient></defs>
<rect x="1781.2" y="634.7" width="142.9" height="16.4" fill="url(#bwr)" stroke="#c8c8d2" stroke-width="0.8"/>
<text x="1769.5" y="648.4" font-size="13" text-anchor="middle" stroke="#000" stroke-width="0.3">0</text>
<text x="1936.5" y="648.4" font-size="13" text-anchor="middle" stroke="#000" stroke-width="0.3">1</text>
</g>
<g id="pe">
<text x="3" y="1191.6" font-size="66" font-family="'Liberation Serif',serif" stroke="#000" stroke-width="0.3">E.</text>
<path d="M156.2 1153.8V1806.7M239.9 1153.8V1806.7M324 1153.8V1806.7M408.2 1153.8V1806.7M492.3 1153.8V1806.7M576.1 1153.8V1806.7M660.2 1153.8V1806.7M118 1202.4H692.8M118 1317.4H692.8M118 1432.3H692.8M118 1547.3H692.8M118 1661.8H692.8M118 1776.7H692.8" stroke="#e9e9e9" stroke-width="1.1" fill="none"/>
<path d="M407.9 1777.5L432 1775.4L455.7 1770.6L479.3 1764.9L496.4 1758.8L499 1751L492.4 1740.5L481.9 1731.3L467.5 1724.7L453 1718.7L438.6 1711.6L429.9 1699.8L426.3 1678.8L424.7 1660.4L423.6 1639.4L421.5 1626.3L416.3 1625.5L413.1 1628.9L411 1652.5L410 1678.8L409.2 1705L408.9 1723.4L406.8 1723.4L406.3 1705L404.7 1678.8L402.6 1660.4L399.5 1644.6L394 1645.2L390 1653.8L386.1 1668.3L380.8 1681.4L373 1691.9L366.4 1703.7L354.6 1715.5L344.1 1728.6L333.6 1740.5L323.9 1751L321.8 1757.5L332.3 1762.8L353.3 1768.8L379.5 1774.1z" fill="#000"/>
<path d="M466 3162h0m375 90h0m1-1h0m7 1h0m0-3h0m3-2h0m212 2h0m-221 4h0m-7 0h0m-7 0h0m-1 2h0m-443 16h0m138-6h0m235 11h0m86-12h0m2 9h0m0-7h0m0 8h0m0-6h0m39 4h0m88 12h0m-92 1h0m-1-5h0m-5 3h0m-20-7h0m-6 1h0m-1-1h0m-3 7h0m0-6h0m-37 3h0m-20 0h0m-15-4h0m-88 1h0m-185 11h0m177 9h0m94 2h0m7-7h0m4 5h0m0 0h0m0 1h0m7-4h0m0-2h0m5-2h0m3-1h0m0 2h0m48 3h0m3-1h0m3 6h0m8-7h0m100 8h0m-85 8h0m-14 3h0m-5-7h0m-5-3h0m-1 3h0m-1-3h0m0 6h0m0-4h0m-42-2h0m-1 8h0m-1 2h0m-1-6h0m-1 4h0m-6-6h0m-16 4h0m-3-3h0m-272-4h0m258 24h0m12-1h0m2-6h0m1 5h0m0-5h0m2-2h0m0 1h0m25 5h0m1-7h0m2 8h0m1-2h0m38 3h0m0-10h0m1 1h0m5-1h0m24 8h0m135-3h0m-148 14h0m-5-2h0m-1 5h0m-2-1h0m-1-9h0m-2 4h0m-4 1h0m-1-4h0m-72 2h0m0-3h0m-8 10h0m-4-10h0m-8 10h0m-117 3h0m12 4h0m7-5h0m65 5h0m8-5h0m8 0h0m1 10h0m32-7h0m1-1h0m77 8h0m7-1h0m5-2h0m2-7h0m6 6h0m3 1h0m1 3h0m18-1h0m3-5h0m168 6h0m-174 4h0m-10 4h0m-4-1h0m-6 3h0m0-9h0m-8 0h0m0 8h0m-6 4h0m-2-2h0m-1-1h0m0-3h0m-1-6h0m0 4h0m-1-2h0m0 1h0m-85 4h0m-1-1h0m0 2h0m-1 3h0m-1-4h0m-1-1h0m-15-1h0m-2-3h0m-8 4h0m-6-1h0m-2-1h0m-88 7h0m-2-1h0m-78-3h0m23 13h0m29-2h0m56 2h0m4 3h0m12-3h0m7 0h0m18-1h0m32 5h0m8-3h0m1-4h0m0-2h0m6 5h0m0-7h0m2 10h0m0-2h0m1 1h0m95-3h0m1-5h0m0 9h0m4 0h0m1-5h0m17 0h0m3-6h0m6 8h0m2-2h0m12-3h0m16 5h0m-7 10h0m-28-5h0m0 3h0m-5 1h0m-3 7h0m-4-7h0m-9 1h0m-2 6h0m-2-10h0m-2 0h0m-3 1h0m-96 2h0m-3-4h0m-1 7h0m-2-1h0m-4-5h0m-6 3h0m-5-5h0m-6 11h0m-14 1h0m-71 3h0m44-1h0m27 6h0m2 4h0m6-7h0m7-1h0m7 2h0m5 4h0m1-3h0m1-1h0m114 5h0m2-8h0m0 6h0m1-8h0m13-1h0m11 7h0m2 3h0m2-9h0m5 2h0m37 6h0m15-9h0m47 11h0m84 3h0m-11 9h0m-111-9h0m-10 2h0m-18-2h0m-1-1h0m-10 9h0m-2-5h0m-37-4h0m-4 4h0m-6-5h0m0 9h0m0-9h0m-1 8h0m-1 1h0m0 2h0m-1-2h0m0 0h0m-3-2h0m-122-2h0m-2-1h0m0 7h0m-1-4h0m-3 3h0m0-9h0m-2 7h0m0 3h0m-1-6h0m-1-3h0m-19 1h0m-15-1h0m-4 3h0m-15 0h0m-54-4h0m-53 6h0m-143 9h0m226-1h0m9 5h0m4-2h0m11 0h0m8-2h0m11 2h0m7-6h0m0 4h0m10 0h0m5-3h0m8 2h0m3 2h0m4 0h0m0-3h0m136 1h0m6 7h0m1-8h0m4 6h0m13-1h0m18 0h0m1-3h0m9 0h0m4 3h0m56 4h0m23 9h0m-19-6h0m-13 10h0m-17-7h0m-1 4h0m-2-6h0m-2 0h0m-15 2h0m-2 4h0m-1-4h0m-3 5h0m-3-8h0m-13 1h0m0 7h0m-10-1h0m-5-5h0m0 8h0m-6-1h0m-1-1h0m-4-4h0m-1 0h0m-3 1h0m-1-2h0m-161-5h0m-2 3h0m-4-2h0m0 6h0m-1 0h0m-12 3h0m-5-2h0m-12 1h0m-3-7h0m-47 3h0m-51 5h0m-69 11h0m13-8h0m97 1h0m1 6h0m14 3h0m13-3h0m6 1h0m4-2h0m5-6h0m11 8h0m2-5h0m1 4h0m1-2h0m5-6h0m1 4h0m10 7h0m2-1h0m5-4h0m5-4h0m4-2h0m181 3h0m8 3h0m1-4h0m5 3h0m2-1h0m8-2h0m5 3h0m1 3h0m0-6h0m1 0h0m2 8h0m1-1h0m3-6h0m6 7h0m1-2h0m3-6h0m1 6h0m2-4h0m0-1h0m8 0h0m1 2h0m1 4h0m5-4h0m5-4h0m4 1h0m3 10h0m10-7h0m22-4h0m24 5h0m14 0h0m1 1h0m-53 6h0m-3 8h0m-2-9h0m0 4h0m-9 0h0m-21 4h0m-15-2h0m0-1h0m-2-1h0m-4 1h0m-3-3h0m0 0h0m-2 0h0m-7 4h0m-1-4h0m-221 1h0m-2 4h0m-4-4h0m0 2h0m-2 5h0m-1-1h0m-1-6h0m-13 9h0m-2-4h0m-9 3h0m-3-10h0m-13 6h0m-14 2h0m-5-4h0m-88-1h0m-4-4h0m-16 11h0m-27 6h0m151 4h0m14 3h0m0-8h0m6 6h0m5-10h0m2 4h0m274-2h0m5 0h0m2 0h0m3 0h0m1 1h0m0 1h0m19-1h0m6 3h0m2-5h0m6 1h0m4 2h0m2 1h0m8-3h0m89 1h0m16 0h0m-36 11h0m-30 8h0m-3-5h0m-7 1h0m-10 3h0m-13-8h0m-4 3h0m-10-2h0m-14 10h0m0-3h0m0 1h0m-1 2h0m-2-3h0m-4-2h0m-1-2h0m0-1h0m-293-4h0m-1 1h0m-4 1h0m-1-2h0m0 6h0m-1-3h0m-3 6h0m-2 3h0m-1-10h0m-1 1h0m-3 6h0m-9-6h0m-5 6h0m-12-2h0m-8 3h0m-20-5h0m0 4h0m-145 4h0m18 6h0m32 2h0m36-7h0m49 8h0m4-8h0m8 2h0m3 7h0m0-5h0m2 5h0m10-3h0m8-6h0m3 9h0m9 0h0m9 0h0m2-7h0m3-2h0m3 5h0m3-4h0m2 1h0m319 3h0m0 1h0m1-1h0m0 3h0m0-4h0m1 3h0m0 3h0m7-4h0m1 0h0m3-7h0m0 2h0m2 3h0m6 2h0m11 3h0m0-2h0m0-2h0m25-1h0m20-5h0m40-1h0m35 8h0m13-5h0m-50 15h0m-9 3h0m-26-8h0m-4 3h0m-6-4h0m-1 5h0m-8 0h0m-9-3h0m-15 10h0m-7-6h0m-6-2h0m-2-1h0m-5 6h0m-11 1h0m0-3h0m-338-6h0m-4 3h0m-4 5h0m-6-7h0m-16-1h0m-5 6h0m-32 3h0m-48 0h0m-5-2h0m-5 0h0m-10-4h0m63 11h0m22 3h0m6-6h0m13 5h0m2 6h0m2-5h0m1-5h0m3 1h0m2 2h0m2 1h0m5-2h0m3 4h0m0 1h0m1 0h0m0 2h0m346-4h0m2-2h0m1 3h0m13 1h0m6-3h0m4-2h0m3 6h0m1 0h0m4-9h0m13 6h0m-45 7h0m-11 0h0m-3 6h0m0-5h0m-5 3h0m-1 3h0m-3-2h0m-1 3h0m0-1h0m-2-1h0m-3 2h0m-287 0h0m-9 2h0m-2-4h0m-5-3h0m-3-1h0m-1 5h0m0-4h0m-4 1h0m-7-4h0m-13 0h0m-3 1h0m43 14h0m2-1h0m2 0h0m1 1h0m7 1h0m0 2h0m3-5h0m2 3h0m2-2h0m4 5h0m14 3h0m7 0h0m5 1h0m7-1h0m188-1h0m2 2h0m10-1h0m1-1h0m3-3h0m1 2h0m1-1h0m7-3h0m1 0h0m3-1h0m1 0h0m1 2h0m5-3h0m-39 10h0m-2-1h0m-4 5h0m0-4h0m-1 3h0m-4 2h0m-5-3h0m0 2h0m-20 1h0m-3 1h0m-1 1h0m-7-2h0m-2 4h0m-1 1h0m-2-1h0m0 0h0m-1-1h0m-2-3h0m-2 4h0m-11 2h0m-2-3h0m-64 0h0m-9 1h0m-5 0h0m-5-6h0m-1 5h0m-5-1h0m-1-1h0m-3-1h0m-1-1h0m-7 2h0m-9-3h0m-1 0h0m-6-2h0m0 2h0m-2-2h0m-4 0h0m-13 1h0m77 9h0m7 1h0m0 1h0m4 0h0m1 2h0m0 0h0m1-3h0m3 0h0m3 7h0m5-7h0m1 1h0m0 2h0m4 1h0m8-4h0m5 0h0m3-1h0m2 2h0m4 1h0m7-2h0m1-1h0m12 1h0m8 0h0m1-1h0" stroke="#000" stroke-width="13.2" stroke-linecap="round" fill="none" transform="scale(0.5)"/>
<path d="M701 2367h0m-14 289h0m46 89h0m-24 170h0m-40 14h0m42 12h0m45 29h0m-73 31h0m105 11h0m-30 12h0m-25 80h0m20 19h0m-174 28h0m169-3h0m-12 26h0m8 9h0m-58 0h0m11 10h0m71 7h0m21 3h0m-2 29h0" stroke="#3a5ca8" stroke-width="13.8" stroke-linecap="round" fill="none" transform="scale(0.5)"/>
<path d="M866 2403h0m-7 45h0m99 103h0m-83 114h0m-25 94h0m13 4h0m-20 11h0m2 21h0m-2 19h0m16 0h0m-7 16h0m-7 6h0m-2 29h0m5-2h0m7 47h0m8 1h0m-20 14h0m-3 37h0m21 2h0m-9 13h0m3 9h0m-13 14h0m-7 2h0m15 15h0m-4-5h0m-13 12h0m10 5h0m20-4h0m5 9h0m-22 13h0m2 17h0m-17 19h0m29 13h0m-5-1h0m-3-3h0m-12 16h0m2-9h0m9-2h0m10 4h0m-6 12h0m-1-4h0m-18 8h0m-2 6h0m3 2h0m9-4h0m4 2h0m6 6h0m1-8h0m-9 17h0m-3-6h0m-1 0h0m-5 10h0m0 2h0m-5-6h0m-2 7h0m10 5h0m53 2h0m-35 15h0m-3 0h0m-2-3h0m-1-6h0m-4 2h0m-13 0h0m-4 15h0m2-5h0m1 8h0m7-1h0m12-6h0m4 2h0m317 4h0m-300 11h0m-20 3h0m-13-1h0m-2-5h0m-4 5h0m0-3h0m-5 8h0m5 2h0m3 6h0m1-10h0m3 7h0m2-6h0m6 10h0m0-12h0m3 2h0m-7 19h0m-5-4h0m-8-4h0m0 12h0m7-1h0m6 9h0m7 2h0m102-9h0m-63 15h0m-20 2h0m-35-6h0m-3 6h0" stroke="#e8283a" stroke-width="13.8" stroke-linecap="round" fill="none" transform="scale(0.5)"/>
<text x="109.3" y="1325" font-size="21.5" text-anchor="end" fill="#4d4d4d" stroke="#4d4d4d" stroke-width="0.3">10</text>
<text x="109.3" y="1554.9" font-size="21.5" text-anchor="end" fill="#4d4d4d" stroke="#4d4d4d" stroke-width="0.3">5</text>
<text x="109.3" y="1784.3" font-size="21.5" text-anchor="end" fill="#4d4d4d" stroke="#4d4d4d" stroke-width="0.3">0</text>
<text x="239.9" y="1831.5" font-size="21.5" text-anchor="middle" fill="#4d4d4d" stroke="#4d4d4d" stroke-width="0.3">−5</text>
<text x="408.2" y="1831.5" font-size="21.5" text-anchor="middle" fill="#4d4d4d" stroke="#4d4d4d" stroke-width="0.3">0</text>
<text x="576.1" y="1831.5" font-size="21.5" text-anchor="middle" fill="#4d4d4d" stroke="#4d4d4d" stroke-width="0.3">5</text>
<text x="405.6" y="1859.7" font-size="29" text-anchor="middle" stroke="#000" stroke-width="0.3">log2FoldChange</text>
<text font-size="29" text-anchor="middle" stroke="#000" stroke-width="0.3" transform="translate(75.8 1480.5) rotate(-90)">−log10(pvalue)</text>
<text x="182.2" y="1357.7" font-size="21.8" fill="#3a5ca8" stroke="#3a5ca8" stroke-width="0.3">23 genes</text>
<text x="190.9" y="1384.6" font-size="21.8" fill="#3a5ca8" stroke="#3a5ca8" stroke-width="0.3">up in WT</text>
<text x="530.2" y="1357.7" font-size="21.8" fill="#e8283a" stroke="#e8283a" stroke-width="0.3">94 genes</text>
<text x="530.2" y="1384.6" font-size="21.8" fill="#e8283a" stroke="#e8283a" stroke-width="0.3">up in ATF3-KOeoCre</text>
<text x="398.2" y="1375.4" font-size="15.8" fill="#e8283a" stroke="#e8283a" stroke-width="0.3">Thbs1</text>
<text x="453.3" y="1380.2" font-size="15.8" fill="#e8283a" stroke="#e8283a" stroke-width="0.3">F5</text>
<text x="429.4" y="1402.8" font-size="15.8" fill="#e8283a" stroke="#e8283a" stroke-width="0.3">Cebpb</text>
<text x="429.4" y="1425.3" font-size="15.8" fill="#e8283a" stroke="#e8283a" stroke-width="0.3">Pde3b</text>
<text x="431.6" y="1448.3" font-size="15.8" fill="#e8283a" stroke="#e8283a" stroke-width="0.3">Tgm2</text>
<text x="435.1" y="1471.3" font-size="15.8" fill="#e8283a" stroke="#e8283a" stroke-width="0.3">Cd300a</text>
<text x="396.9" y="1474.3" font-size="15.8" fill="#e8283a" stroke="#e8283a" stroke-width="0.3">Klf7</text>
<text x="427.3" y="1497.3" font-size="15.8" fill="#e8283a" stroke="#e8283a" stroke-width="0.3">Vegfa</text>
<text x="367" y="1506" font-size="15.8" fill="#e8283a" stroke="#e8283a" stroke-width="0.3">Antxr2</text>
<text x="432.5" y="1519.9" font-size="15.8" fill="#e8283a" stroke="#e8283a" stroke-width="0.3">Cd24a</text>
<text x="376.5" y="1531.6" font-size="15.8" fill="#e8283a" stroke="#e8283a" stroke-width="0.3">Cd80</text>
<text x="428.6" y="1542.4" font-size="15.8" fill="#e8283a" stroke="#e8283a" stroke-width="0.3">Trib1</text>
<text x="354.8" y="1553.7" font-size="15.8" fill="#e8283a" stroke="#e8283a" stroke-width="0.3">Cyp4f18</text>
<text x="429.4" y="1565" font-size="15.8" fill="#e8283a" stroke="#e8283a" stroke-width="0.3">Serpinb2</text>
<text x="412.1" y="1587.1" font-size="15.8" fill="#e8283a" stroke="#e8283a" stroke-width="0.3">Hif1a</text>
<text x="460.7" y="1587.1" font-size="15.8" fill="#e8283a" stroke="#e8283a" stroke-width="0.3">Adgre1</text>
<text x="363.5" y="1620.5" font-size="15.8" fill="#e8283a" stroke="#e8283a" stroke-width="0.3">Cdk17</text>
<text x="364.4" y="1594.9" font-size="15.8" fill="#3a5ca8" stroke="#3a5ca8" stroke-width="0.3">Fcrla</text>
</g>
<g id="pf">
<text x="791" y="1190.2" font-size="66" font-family="'Liberation Serif',serif" stroke="#000" stroke-width="0.3">F.</text>
<path d="M2235 2393h0m-10-3h0m10 18h0m4-2h0m2 6h0m18 4h0m-11-3h0m-3 9h0m-13-9h0m-8 4h0m-12 18h0m51 1h0m15-6h0m3 5h0m14-3h0m13 15h0m-32-1h0m-28-2h0m-9-5h0m-8 4h0m-5 3h0m-14-6h0m-6 8h0m-20-2h0m-16-1h0m-57 12h0m12-1h0m27-4h0m20 7h0m13-3h0m36-6h0m7 5h0m11-3h0m25 4h0m1-5h0m46 9h0m-6 8h0m-9 0h0m-21 0h0m-7-5h0m-14 6h0m-37 0h0m-11 1h0m-12-8h0m-20 5h0m-8-6h0m-19 4h0m-20 4h0m-7 4h0m38 0h0m27 10h0m20-9h0m28 10h0m0-10h0m11 9h0m20-8h0m15 9h0m10-4h0m15-8h0m17 3h0m14 6h0m5 9h0m-20 3h0m-14-1h0m-7-8h0m-35 2h0m-26 9h0m-19-7h0m-12 5h0m-4-3h0m-37-2h0m-9-2h0m-53 10h0m-6-9h0m-9 17h0m34-5h0m8 1h0m14-2h0m4 6h0m24-3h0m37-1h0m12-2h0m28 7h0m32-3h0m41 5h0m7-8h0m12 20h0m-11-4h0m-6-3h0m-13 5h0m-11-4h0m-6 4h0m-8 2h0m-12-4h0m-12-4h0m-27 2h0m-45 1h0m-19-3h0m-5 4h0m-8-5h0m-21-2h0m-18 4h0m-5 4h0m-27 11h0m21-1h0m16-2h0m14-2h0m27 2h0m0 6h0m11-6h0m9 0h0m16-3h0m19 5h0m23 2h0m0-6h0m4-2h0m4 3h0m4 9h0m2-9h0m12-2h0m8 7h0m76 6h0m-24 0h0m-17 9h0m-4-11h0m-27 6h0m-8 0h0m-47 5h0m-41-8h0m-32 6h0m-15-8h0m-19 6h0m-21-6h0m-1 10h0m-12-1h0m-7-8h0m-19 19h0m24 2h0m37-1h0m9-7h0m5 8h0m5-2h0m39-6h0m20 9h0m4 0h0m6-2h0m10-6h0m34-4h0m2 4h0m13-1h0m30 3h0m16 5h0m26-5h0m7 4h0m8-4h0m2 6h0m-14 5h0m-19-1h0m-34-2h0m-18 4h0m-16 1h0m-5-1h0m-8-6h0m-52 4h0m-26 8h0m-11-8h0m-26 7h0m-22-8h0m-13 9h0m-45 7h0m6 4h0m19-5h0m39-4h0m6 10h0m16-5h0m7-7h0m34 11h0m4-6h0m10 5h0m18-9h0m9 2h0m14-1h0m1 10h0m30-1h0m10-1h0m6 0h0m18-7h0m17 5h0m26-5h0m10 4h0m11 5h0m-5 5h0m-13 3h0m-18-8h0m-40 3h0m-19 2h0m-13-1h0m-22 3h0m-21 1h0m-1-8h0m-8 3h0m-16 6h0m-24-3h0m-11 1h0m-27-3h0m-28-2h0m-11 6h0m-11 4h0m-6-6h0m-31-3h0m-4 13h0m52 7h0m27-3h0m32-1h0m14 3h0m3-3h0m11-2h0m43 3h0m12-8h0m42 8h0m6-4h0m23 1h0m12 6h0m11-1h0m3-3h0m11-4h0m19 9h0m11 0h0m-10 9h0m-11-6h0m-3 6h0m-14-1h0m-33-4h0m-16-2h0m-6 0h0m-16 6h0m-24-7h0m-12 9h0m-19 1h0m-8-9h0m-14 6h0m-6 1h0m-48-7h0m-7 3h0m-44 3h0m-38 7h0m46 5h0m55-4h0m10-4h0m9 9h0m6-8h0m20 0h0m48 2h0m24 2h0m24 0h0m29-4h0m13 4h0m7 2h0m16 1h0m12-6h0m6 6h0m-13 11h0m-17 5h0m-33-1h0m-31-2h0m-1-5h0m-23-2h0m-18 8h0m-17-3h0m-18 0h0m-15-5h0m-14 8h0m-31-8h0m-18 3h0m-5 7h0m-17-10h0m-20 2h0m-40 7h0m-6 10h0m14-3h0m21-2h0m21 5h0m22-8h0m8 10h0m16-6h0m15 1h0m0 5h0m46-2h0m8 1h0m42-7h0m6 7h0m33-5h0m70 4h0m65 11h0m-19-7h0m-10 10h0m-38 0h0m-11-7h0m-12 0h0m-24-2h0m-10 1h0m-15 7h0m-10-5h0m-55 0h0m-10 4h0m-56 2h0m-12-2h0m-37-6h0m-19 6h0m-12-4h0m-57 9h0m20 3h0m11-2h0m16 2h0m16-1h0m31 5h0m6-8h0m14 3h0m51 6h0m9-7h0m8-1h0m31 10h0m0-11h0m10-1h0m11 10h0m13 0h0m19-1h0m12-7h0m4 5h0m25-5h0m19-2h0m2 12h0m18-4h0m15-6h0m33 8h0m-34 5h0m-4 8h0m-18-10h0m-21 2h0m-14-2h0m-29 7h0m-13 2h0m-37-5h0m-12 1h0m-36 5h0m-19-5h0m-75-3h0m-21-1h0m-24 2h0m-41 2h0m10 7h0m34 6h0m13-6h0m11 2h0m10 1h0m22 4h0m11-2h0m8-1h0m19 2h0m1-6h0m8 11h0m7-12h0m21 1h0m18 7h0m15-7h0m12 10h0m12-5h0m7 5h0m1-6h0m20 5h0m7-6h0m32-3h0m26 5h0m13-3h0m18 8h0m17-5h0m19-4h0m-16 16h0m-17-2h0m-23-1h0m-10 6h0m-11-1h0m-14-2h0m-19-1h0m-12 5h0m-18-6h0m-20 0h0m-19-3h0m-16 9h0m-33-9h0m-5 8h0m-36-6h0m-5 0h0m-9-1h0m-17 1h0m-7 1h0m-11 4h0m-8 1h0m-1-6h0m-9 8h0m-17-7h0m-10 4h0m-9 3h0m5 2h0m11 9h0m36-7h0m16 1h0m14 7h0m50-9h0m0 9h0m10-11h0m22 9h0m23-1h0m9 1h0m8-7h0m18 3h0m9-3h0m10-2h0m33 2h0m41 2h0m28 0h0m22 1h0m-10 14h0m-28 0h0m-16-3h0m-30 3h0m-41-3h0m-4-3h0m-10 11h0m-23-3h0m-49-6h0m-16 5h0m-77 1h0m-14 2h0m-3-10h0m-17 2h0m-27-2h0m-5 12h0m9 3h0m19 2h0m13-2h0m33-4h0m11 2h0m26 4h0m6-1h0m5 3h0m6-3h0m1 7h0m7-1h0m11-1h0m2-5h0m13-4h0m5 9h0m2-9h0m24 5h0m16-2h0m12 6h0m27 1h0m11-1h0m28 0h0m9-5h0m10-4h0m5-1h0m1 12h0m6-2h0m26-2h0m12 3h0m-10 9h0m-7-4h0m-21 8h0m-23-3h0m-24-3h0m-22 5h0m-77-4h0m-4 2h0m-8-6h0m-14-1h0m-26 7h0m-26-5h0m-13 4h0m-13-2h0m-16-5h0m-7 1h0m-9 0h0m-25 9h0m2 11h0m35-1h0m16 1h0m17-1h0m33-1h0m12-3h0m11 7h0m5-9h0m11-2h0m15 1h0m20 8h0m9-3h0m8-4h0m13 5h0m14-7h0m18 8h0m21-7h0m27 6h0m23-4h0m28 7h0m4-10h0m3 9h0m-57 14h0m-25-12h0m0 5h0m-15 0h0m-14 2h0m-3-4h0m-35 7h0m-19 2h0m-16-12h0m-9 6h0m-91 4h0m-3-5h0m-13 3h0m-10 0h0m-15 2h0m-10-3h0m3 10h0m10 6h0m9-7h0m9 5h0m0-7h0m18 7h0m26-2h0m24 4h0m2-6h0m26 0h0m5 0h0m8 1h0m34-3h0m34 4h0m6 3h0m3-8h0m2 4h0m16 2h0m26-3h0m287 3h0m2 1h0m0-4h0m7 1h0m6-5h0m4 8h0m10 11h0m-6-1h0m-11 4h0m-6-6h0m-1-4h0m-14 11h0m-5 0h0m-261-5h0m-12 3h0m-5-6h0m-20-1h0m-18 3h0m-28-4h0m-15-2h0m-5 7h0m-20-1h0m-16 4h0m-14-7h0m-19 7h0m-19-5h0m-21-5h0m-8 7h0m-15-7h0m-9 6h0m-26 3h0m27 8h0m16 3h0m20 3h0m43-8h0m0 7h0m11-3h0m26 0h0m8 1h0m4-2h0m16-5h0m4-1h0m24 9h0m42 0h0m20-1h0m27-8h0m257 7h0m21-6h0m1 11h0m5-9h0m6 6h0m2-6h0m-4 11h0m-2 1h0m-1 7h0m-9 1h0m-309-11h0m-31 2h0m-5 2h0m-3 7h0m-9-4h0m-4 2h0m-7-8h0m-10-1h0m-2 9h0m-16-3h0m-17 6h0m-58-5h0m-8 1h0m-13 3h0m-20-8h0m-41-1h0m-1 5h0m73 9h0m6 5h0m4-6h0m0 7h0m8-2h0m1-5h0m8-2h0m26 10h0m12-7h0m11 0h0m12 6h0m9 1h0m14-2h0m5-4h0m5 3h0m20 1h0m12-6h0m20-1h0m323 2h0m-338 9h0m-5 10h0m-29-1h0m-25-6h0m-18-1h0m-45 5h0m-30-1h0m-21-6h0m3 14h0m9 1h0m58 3h0m17 4h0m18-8h0m8 1h0m9-3h0m8 6h0m30-2h0m-16 17h0m-7-9h0m-20 1h0m-12 6h0m-3-3h0m-11 3h0m-8 7h0m12 2h0m9-3h0m16 2h0m8 1h0m-28 11h0m-7-3h0" stroke="#e5706b" stroke-width="9" stroke-linecap="round" fill="none" transform="scale(0.5)"/>
<path d="M2970 2394h0m-25 10h0m34 1h0m14 6h0m7 0h0m-25 13h0m-72-4h0m17 7h0m33 4h0m56 2h0m-90 11h0m-48-1h0m23 5h0m16 8h0m25-3h0m22-4h0m14 4h0m29-2h0m4-3h0m10 7h0m-14 14h0m-15 2h0m-13-4h0m-52 4h0m-14-7h0m-31-3h0m-2 19h0m7-6h0m14 1h0m34 9h0m20-6h0m26 6h0m37-5h0m33-4h0m5 2h0m6 14h0m-5-3h0m-6-4h0m-13 7h0m-27-6h0m-7 9h0m-37-5h0m-107 15h0m1-7h0m16 5h0m34-1h0m3 6h0m20-6h0m72 4h0m14-7h0m23 1h0m25 6h0m8-8h0m11 4h0m-3 18h0m-22-8h0m-14 7h0m-16-1h0m-21-8h0m-35 0h0m-33 2h0m-9 5h0m-87 1h0m17 8h0m12-3h0m17-1h0m52 4h0m24-5h0m40 5h0m28 2h0m13 0h0m20-4h0m30 20h0m-14-4h0m-28 1h0m-37 3h0m-22 0h0m-5-6h0m-30 3h0m-21 2h0m-13-7h0m-98 5h0m-15 11h0m50-2h0m20 2h0m73-5h0m22-1h0m28 4h0m54 5h0m14 1h0m32-2h0m0 14h0m-71-6h0m-37-4h0m-4 11h0m-7-10h0m-11 8h0m-144-1h0m-28 13h0m16 0h0m24-1h0m21 3h0m5-4h0m9-7h0m51 11h0m10-12h0m26 5h0m20 5h0m30-1h0m7-6h0m38 8h0m6-6h0m25-3h0m-12 15h0m-27-1h0m-12 3h0m-36-1h0m-13 5h0m-16-5h0m-19-5h0m-4 11h0m-15-9h0m-25 0h0m-6 8h0m-31-4h0m-58 3h0m-9-2h0m-24 16h0m15-11h0m13 9h0m45 1h0m29-5h0m35-2h0m104-4h0m34 0h0m2 8h0m8-6h0m30 13h0m-88 2h0m-36-3h0m-21 3h0m-7 1h0m-24-5h0m-12-1h0m-17 3h0m-12 7h0m-12-3h0m-31-7h0m-11 9h0m-19-4h0m-23 12h0m21 4h0m88-3h0m9-6h0m14 2h0m31 5h0m17 4h0m9-4h0m51 4h0m59-6h0m14 6h0m2-6h0m2 12h0m-38 2h0m-19-2h0m-13 1h0m-19-3h0m-41-2h0m-54 7h0m-16-2h0m-24-5h0m-10 1h0m-37 2h0m-39 1h0m-22 16h0m11-1h0m6-2h0m118-2h0m6 3h0m30 3h0m38 1h0m16-6h0m33 6h0m20-2h0m32-7h0m36-1h0m11 23h0m-15-8h0m-5 3h0m-8 3h0m-9-6h0m-17-3h0m-5 2h0m-38 2h0m-1 6h0m-24-8h0m-43 4h0m-30 2h0m-9-4h0m-37 2h0m-17 1h0m-45-2h0m-32-2h0m-54 15h0m10 2h0m25-2h0m39-3h0m24 7h0m75-7h0m10 2h0m2 6h0m27-4h0m69-2h0m54-5h0m4 11h0m57 6h0m-13-3h0m-7 6h0m-57-6h0m-60-2h0m-38-1h0m-4 7h0m-8 3h0m-90-9h0m-33 8h0m-75 4h0m15 3h0m15-1h0m9 7h0m47-8h0m3 5h0m21 0h0m15 5h0m7-5h0m27 4h0m48-2h0m30-6h0m39-2h0m26 8h0m29-6h0m3 9h0m3-11h0m21 4h0m8 4h0m23-7h0m-65 13h0m-44 8h0m-22-8h0m-30 1h0m-24 4h0m-23 1h0m-2-7h0m-35-2h0m-5 4h0m-44 0h0m-19-2h0m-6 4h0m-16-6h0m-34 9h0m-12-4h0m-20 7h0m61 3h0m8 8h0m51-7h0m30 3h0m12-3h0m16-4h0m13 9h0m23-3h0m21-3h0m15 7h0m55-3h0m24-4h0m10 14h0m-11 2h0m-34 2h0m-33 1h0m-8-6h0m-5 5h0m-21 0h0m-89-3h0m-41-5h0m-7 3h0m-7-1h0m-46-2h0m-18 1h0m-18 10h0m2 10h0m13-1h0m46-7h0m8 1h0m8 6h0m11 0h0m40-2h0m40 2h0m0-7h0m18 3h0m16-3h0m37 6h0m55-3h0m8 3h0m6-1h0m7-3h0m21 4h0m-65 4h0m-70 2h0m-45 5h0m-13-2h0m-65 1h0m-19-4h0m-21 5h0m-8-2h0m-20 6h0m49 12h0m13-5h0m58 0h0m3 6h0m91-8h0m30 0h0m48 5h0m10-6h0m13-2h0m7 0h0m9 0h0m6 7h0m5 2h0m-85 12h0m-27-10h0m-9 11h0m-52-4h0m-65 2h0m-5-8h0m-5 7h0m-19-7h0m-48 13h0m34-1h0m7 10h0m17-7h0m25 5h0m5-5h0m8-2h0m34 3h0m32 6h0m80-4h0m17-1h0m15-1h0m253 5h0m10-3h0m5 1h0m17 15h0m-9-4h0m-10 4h0m-7-2h0m-4-3h0m-1-2h0m-301 2h0m-15-4h0m-68-1h0m-25-1h0m-44 6h0m-9 2h0m-10-4h0m-27-3h0m-30 6h0m2 8h0m29 0h0m2 7h0m51-3h0m14-2h0m33-2h0m28 2h0m24-2h0m362 0h0m0-2h0m4 0h0m6 11h0m3-10h0m1 6h0m-287 10h0m-17 0h0m-81-4h0m-15 9h0m-92-3h0m-30-4h0m-21-4h0m28 15h0m20 8h0m14-1h0m21-8h0m5 2h0m39-4h0m25 9h0m37-5h0m4 12h0m-7 4h0m-20-5h0m-44-2h0m-14 5h0m-56 3h0m13 12h0m17-8h0m14 6h0m42-7h0m16 7h0m31-3h0m-19 11h0m-13 8h0m-8-4h0m-5-2h0m-10 4h0m-19-3h0m-24 0h0m9 9h0m25-1h0m0 11h0" stroke="#3a5ca8" stroke-width="9.6" stroke-linecap="round" fill="none" transform="scale(0.5)"/>
<path d="M980.3 1180V1462.5H1329.7" stroke="#000" stroke-width="1.4" fill="none"/>
<path d="M1347.4 1462.5H1696.7" stroke="#000" stroke-width="1.4" fill="none"/>
<path d="M976 1182.7L980.3 1182.7" stroke="#000" stroke-width="1.4" fill="none"/>
<text x="973" y="1188.1" font-size="15.6" text-anchor="end" stroke="#000" stroke-width="0.3">5.0</text>
<path d="M976 1257L980.3 1257" stroke="#000" stroke-width="1.4" fill="none"/>
<text x="973" y="1262.4" font-size="15.6" text-anchor="end" stroke="#000" stroke-width="0.3">2.5</text>
<path d="M976 1331.3L980.3 1331.3" stroke="#000" stroke-width="1.4" fill="none"/>
<text x="973" y="1336.7" font-size="15.6" text-anchor="end" stroke="#000" stroke-width="0.3">0.0</text>
<path d="M976 1405.6L980.3 1405.6" stroke="#000" stroke-width="1.4" fill="none"/>
<text x="973" y="1411" font-size="15.6" text-anchor="end" stroke="#000" stroke-width="0.3">−2.5</text>
<path d="M983.9 1462.5L983.9 1467" stroke="#000" stroke-width="1.4" fill="none"/>
<text x="983.9" y="1483.5" font-size="15.6" text-anchor="middle" stroke="#000" stroke-width="0.3">−5</text>
<path d="M1110.8 1462.5L1110.8 1467" stroke="#000" stroke-width="1.4" fill="none"/>
<text x="1110.8" y="1483.5" font-size="15.6" text-anchor="middle" stroke="#000" stroke-width="0.3">0</text>
<path d="M1237.7 1462.5L1237.7 1467" stroke="#000" stroke-width="1.4" fill="none"/>
<text x="1237.7" y="1483.5" font-size="15.6" text-anchor="middle" stroke="#000" stroke-width="0.3">5</text>
<path d="M1350.6 1462.5L1350.6 1467" stroke="#000" stroke-width="1.4" fill="none"/>
<text x="1350.6" y="1483.5" font-size="15.6" text-anchor="middle" stroke="#000" stroke-width="0.3">−5</text>
<path d="M1477.5 1462.5L1477.5 1467" stroke="#000" stroke-width="1.4" fill="none"/>
<text x="1477.5" y="1483.5" font-size="15.6" text-anchor="middle" stroke="#000" stroke-width="0.3">0</text>
<path d="M1604.4 1462.5L1604.4 1467" stroke="#000" stroke-width="1.4" fill="none"/>
<text x="1604.4" y="1483.5" font-size="15.6" text-anchor="middle" stroke="#000" stroke-width="0.3">5</text>
<text x="1342.5" y="1503.6" font-size="17.2" text-anchor="middle" stroke="#000" stroke-width="0.3">UMAP_1</text>
<text font-size="17.2" text-anchor="middle" stroke="#000" stroke-width="0.3" transform="translate(934.5 1322) rotate(-90)">UMAP_2</text>
<circle cx="1672" cy="1193.6" r="6.6" fill="#3a5ca8"/>
<text x="1691.6" y="1199.5" font-size="15.6" stroke="#000" stroke-width="0.3">WT + Allergen</text>
<circle cx="1672" cy="1218.6" r="5.6" fill="#e5706b"/>
<text x="1691.6" y="1224.5" font-size="15.6" stroke="#000" stroke-width="0.3">ATF3-KOeoCre + Allergen</text>
</g>
<g id="pg">
<text x="793" y="1576" font-size="66" font-family="'Liberation Serif',serif" stroke="#000" stroke-width="0.3">G.</text>
<path d="M816.4 1650.3h21.9v36.4h-21.9zM882.1 1650.3h21.9v36.4h-21.9zM904 1650.3h21.9v36.4h-21.9zM925.9 1650.3h21.9v36.4h-21.9zM1018.5 1650.3h21.8v36.4h-21.8zM1062.2 1686.7h21.8v36.5h-21.8zM1084 1686.7h21.8v36.5h-21.8zM1105.8 1686.7h21.8v36.5h-21.8zM1127.7 1686.7h21.8v36.5h-21.8zM1193.2 1686.7h21.8v36.5h-21.8zM1215 1686.7h21.8v36.5h-21.8zM1236.9 1686.7h21.8v36.5h-21.8zM1258.7 1686.7h21.8v36.5h-21.8zM1280.5 1686.7h21.8v36.5h-21.8zM1302.4 1686.7h21.8v36.5h-21.8zM1346.1 1686.7h21.8v36.5h-21.8zM1367.9 1686.7h21.8v36.5h-21.8zM1389.7 1686.7h21.8v36.5h-21.8zM1411.6 1686.7h21.8v36.5h-21.8zM1564.4 1686.7h21.8v36.5h-21.8zM1608.1 1686.7h21.8v36.5h-21.8zM1629.9 1686.7h21.8v36.5h-21.8zM1651.8 1686.7h21.8v36.5h-21.8zM1673.6 1686.7h21.8v36.5h-21.8zM1695.4 1686.7h21.8v36.5h-21.8zM1717.3 1686.7h21.8v36.5h-21.8zM1739.1 1686.7h21.8v36.5h-21.8zM1761 1686.7h21.8v36.5h-21.8zM838.3 1723.2h21.9v36.1h-21.9zM860.2 1723.2h21.9v36.1h-21.9zM947.8 1723.2h21.9v36.1h-21.9zM969.7 1723.2h21.9v36.1h-21.9zM991.6 1723.2h21.9v36.1h-21.9zM1324.2 1723.2h21.8v36.1h-21.8zM1433.4 1723.2h21.8v36.1h-21.8zM1455.2 1723.2h21.8v36.1h-21.8zM1498.9 1723.2h21.8v36.1h-21.8zM1564.4 1723.2h21.8v36.1h-21.8zM1586.3 1723.2h21.8v36.1h-21.8zM1673.6 1723.2h21.8v36.1h-21.8zM882.1 1759.3h21.9v36.1h-21.9zM1040.3 1759.3h21.8v36.1h-21.8zM1149.5 1759.3h21.8v36.1h-21.8zM1171.4 1759.3h21.8v36.1h-21.8zM1193.2 1759.3h21.8v36.1h-21.8zM1215 1759.3h21.8v36.1h-21.8zM1455.2 1759.3h21.8v36.1h-21.8zM1477.1 1759.3h21.8v36.1h-21.8zM1520.8 1759.3h21.8v36.1h-21.8zM1542.6 1759.3h21.8v36.1h-21.8z" fill="#3a5da9"/>
<path d="M838.3 1650.3h21.9v36.4h-21.9zM947.8 1650.3h21.9v36.4h-21.9zM991.6 1650.3h21.9v36.4h-21.9zM1040.3 1650.3h21.8v36.4h-21.8zM1455.2 1686.7h21.8v36.5h-21.8zM1542.6 1686.7h21.8v36.5h-21.8zM904 1723.2h21.9v36.1h-21.9zM1084 1759.3h21.8v36.1h-21.8z" fill="#5467af"/>
<path d="M860.2 1650.3h21.9v36.4h-21.9zM969.7 1650.3h21.9v36.4h-21.9zM1586.3 1686.7h21.8v36.5h-21.8z" fill="#4f65ae"/>
<path d="M1062.2 1650.3h21.8v36.4h-21.8zM1040.3 1686.7h21.8v36.5h-21.8zM1739.1 1759.3h21.8v36.1h-21.8z" fill="#bec0de"/>
<path d="M1084 1650.3h21.8v36.4h-21.8zM925.9 1723.2h21.9v36.1h-21.9zM1717.3 1759.3h21.8v36.1h-21.8z" fill="#6372b5"/>
<path d="M1105.8 1650.3h21.8v36.4h-21.8z" fill="#e9666b"/>
<path d="M1127.7 1650.3h21.8v36.4h-21.8z" fill="#ea7f83"/>
<path d="M1149.5 1650.3h21.8v36.4h-21.8zM1193.2 1650.3h21.8v36.4h-21.8zM1215 1650.3h21.8v36.4h-21.8zM1433.4 1650.3h21.8v36.4h-21.8zM1455.2 1650.3h21.8v36.4h-21.8zM1477.1 1650.3h21.8v36.4h-21.8zM1498.9 1650.3h21.8v36.4h-21.8zM1520.8 1650.3h21.8v36.4h-21.8zM1542.6 1650.3h21.8v36.4h-21.8zM1564.4 1650.3h21.8v36.4h-21.8zM1586.3 1650.3h21.8v36.4h-21.8zM1608.1 1650.3h21.8v36.4h-21.8zM1629.9 1650.3h21.8v36.4h-21.8zM1651.8 1650.3h21.8v36.4h-21.8zM1673.6 1650.3h21.8v36.4h-21.8zM1695.4 1650.3h21.8v36.4h-21.8zM1717.3 1650.3h21.8v36.4h-21.8zM1739.1 1650.3h21.8v36.4h-21.8zM1761 1650.3h21.8v36.4h-21.8zM882.1 1686.7h21.9v36.5h-21.9zM904 1686.7h21.9v36.5h-21.9zM925.9 1686.7h21.9v36.5h-21.9zM947.8 1686.7h21.9v36.5h-21.9zM969.7 1686.7h21.9v36.5h-21.9zM991.6 1686.7h21.9v36.5h-21.9zM1018.5 1723.2h21.8v36.1h-21.8zM1040.3 1723.2h21.8v36.1h-21.8zM1062.2 1723.2h21.8v36.1h-21.8zM1084 1723.2h21.8v36.1h-21.8zM1105.8 1723.2h21.8v36.1h-21.8zM1127.7 1723.2h21.8v36.1h-21.8zM1171.4 1723.2h21.8v36.1h-21.8zM1280.5 1723.2h21.8v36.1h-21.8zM1302.4 1723.2h21.8v36.1h-21.8zM816.4 1759.3h21.9v36.1h-21.9zM838.3 1759.3h21.9v36.1h-21.9zM860.2 1759.3h21.9v36.1h-21.9zM1236.9 1759.3h21.8v36.1h-21.8zM1258.7 1759.3h21.8v36.1h-21.8zM1280.5 1759.3h21.8v36.1h-21.8zM1324.2 1759.3h21.8v36.1h-21.8zM1346.1 1759.3h21.8v36.1h-21.8zM1367.9 1759.3h21.8v36.1h-21.8zM1389.7 1759.3h21.8v36.1h-21.8zM1411.6 1759.3h21.8v36.1h-21.8z" fill="#e92a38"/>
<path d="M1171.4 1650.3h21.8v36.4h-21.8zM1629.9 1759.3h21.8v36.1h-21.8z" fill="#e9525a"/>
<path d="M1236.9 1650.3h21.8v36.4h-21.8zM1171.4 1686.7h21.8v36.5h-21.8zM1739.1 1723.2h21.8v36.1h-21.8zM1433.4 1759.3h21.8v36.1h-21.8z" fill="#737dba"/>
<path d="M1258.7 1650.3h21.8v36.4h-21.8zM1367.9 1650.3h21.8v36.4h-21.8z" fill="#969bca"/>
<path d="M1280.5 1650.3h21.8v36.4h-21.8zM904 1759.3h21.9v36.1h-21.9z" fill="#fafafc"/>
<path d="M1302.4 1650.3h21.8v36.4h-21.8zM1018.5 1686.7h21.8v36.5h-21.8zM1236.9 1723.2h21.8v36.1h-21.8z" fill="#8e93c6"/>
<path d="M1324.2 1650.3h21.8v36.4h-21.8z" fill="#f6d4d4"/>
<path d="M1346.1 1650.3h21.8v36.4h-21.8zM1695.4 1723.2h21.8v36.1h-21.8z" fill="#7981bd"/>
<path d="M1389.7 1650.3h21.8v36.4h-21.8zM860.2 1686.7h21.9v36.5h-21.9zM1498.9 1686.7h21.8v36.5h-21.8zM1520.8 1686.7h21.8v36.5h-21.8z" fill="#8288c0"/>
<path d="M1411.6 1650.3h21.8v36.4h-21.8z" fill="#e8e9f3"/>
<path d="M816.4 1686.7h21.9v36.5h-21.9zM1149.5 1686.7h21.8v36.5h-21.8z" fill="#dcdded"/>
<path d="M838.3 1686.7h21.9v36.5h-21.9zM1215 1723.2h21.8v36.1h-21.8z" fill="#f4c1c2"/>
<path d="M1324.2 1686.7h21.8v36.5h-21.8z" fill="#6d79b8"/>
<path d="M1433.4 1686.7h21.8v36.5h-21.8zM1564.4 1759.3h21.8v36.1h-21.8zM1761 1759.3h21.8v36.1h-21.8z" fill="#b6b9da"/>
<path d="M1477.1 1686.7h21.8v36.5h-21.8zM1717.3 1723.2h21.8v36.1h-21.8zM1127.7 1759.3h21.8v36.1h-21.8z" fill="#8a8fc4"/>
<path d="M816.4 1723.2h21.9v36.1h-21.9zM1520.8 1723.2h21.8v36.1h-21.8zM1542.6 1723.2h21.8v36.1h-21.8z" fill="#5a6bb1"/>
<path d="M882.1 1723.2h21.9v36.1h-21.9zM1346.1 1723.2h21.8v36.1h-21.8zM1411.6 1723.2h21.8v36.1h-21.8zM1018.5 1759.3h21.8v36.1h-21.8zM1651.8 1759.3h21.8v36.1h-21.8zM1673.6 1759.3h21.8v36.1h-21.8z" fill="#4762ac"/>
<path d="M1149.5 1723.2h21.8v36.1h-21.8z" fill="#e93e49"/>
<path d="M1193.2 1723.2h21.8v36.1h-21.8zM1302.4 1759.3h21.8v36.1h-21.8zM1608.1 1759.3h21.8v36.1h-21.8z" fill="#ea787c"/>
<path d="M1258.7 1723.2h21.8v36.1h-21.8z" fill="#f0a8a9"/>
<path d="M1367.9 1723.2h21.8v36.1h-21.8zM1389.7 1723.2h21.8v36.1h-21.8zM1477.1 1723.2h21.8v36.1h-21.8zM1651.8 1723.2h21.8v36.1h-21.8zM1062.2 1759.3h21.8v36.1h-21.8zM1498.9 1759.3h21.8v36.1h-21.8zM1695.4 1759.3h21.8v36.1h-21.8z" fill="#4260ab"/>
<path d="M1608.1 1723.2h21.8v36.1h-21.8z" fill="#6976b7"/>
<path d="M1629.9 1723.2h21.8v36.1h-21.8z" fill="#4c64ad"/>
<path d="M1761 1723.2h21.8v36.1h-21.8zM947.8 1759.3h21.9v36.1h-21.9zM969.7 1759.3h21.9v36.1h-21.9z" fill="#aaadd4"/>
<path d="M925.9 1759.3h21.9v36.1h-21.9z" fill="#eb8a8d"/>
<path d="M991.6 1759.3h21.9v36.1h-21.9z" fill="#f4f4f9"/>
<path d="M1105.8 1759.3h21.8v36.1h-21.8z" fill="#f6d8d9"/>
<path d="M1586.3 1759.3h21.8v36.1h-21.8z" fill="#cacce4"/>
<path d="M816.4 1650.3V1795.4M838.3 1650.3V1795.4M860.2 1650.3V1795.4M882.1 1650.3V1795.4M904 1650.3V1795.4M925.9 1650.3V1795.4M947.8 1650.3V1795.4M969.7 1650.3V1795.4M991.6 1650.3V1795.4M1013.5 1650.3V1795.4M1018.5 1650.3V1795.4M1040.3 1650.3V1795.4M1062.2 1650.3V1795.4M1084 1650.3V1795.4M1105.8 1650.3V1795.4M1127.7 1650.3V1795.4M1149.5 1650.3V1795.4M1171.4 1650.3V1795.4M1193.2 1650.3V1795.4M1215 1650.3V1795.4M1236.9 1650.3V1795.4M1258.7 1650.3V1795.4M1280.5 1650.3V1795.4M1302.4 1650.3V1795.4M1324.2 1650.3V1795.4M1346.1 1650.3V1795.4M1367.9 1650.3V1795.4M1389.7 1650.3V1795.4M1411.6 1650.3V1795.4M1433.4 1650.3V1795.4M1455.2 1650.3V1795.4M1477.1 1650.3V1795.4M1498.9 1650.3V1795.4M1520.8 1650.3V1795.4M1542.6 1650.3V1795.4M1564.4 1650.3V1795.4M1586.3 1650.3V1795.4M1608.1 1650.3V1795.4M1629.9 1650.3V1795.4M1651.8 1650.3V1795.4M1673.6 1650.3V1795.4M1695.4 1650.3V1795.4M1717.3 1650.3V1795.4M1739.1 1650.3V1795.4M1761 1650.3V1795.4M1782.8 1650.3V1795.4M816.4 1650.3H1013.5M1018.5 1650.3H1782.8M816.4 1686.7H1013.5M1018.5 1686.7H1782.8M816.4 1723.2H1013.5M1018.5 1723.2H1782.8M816.4 1759.3H1013.5M1018.5 1759.3H1782.8M816.4 1795.4H1013.5M1018.5 1795.4H1782.8" stroke="#8a8aa0" stroke-width="0.6" fill="none" stroke-opacity="0.55"/>
<text x="1788.8" y="1676" font-size="18" stroke="#000" stroke-width="0.3">ATF3-KOeoCre + Allergen</text>
<text x="1788.8" y="1712.3" font-size="18" stroke="#000" stroke-width="0.3">WT + Allergen</text>
<text x="1788.8" y="1752" font-size="18" stroke="#000" stroke-width="0.3">ATF3-KOeoCre + PBS</text>
<text x="1788.8" y="1784.4" font-size="18" stroke="#000" stroke-width="0.3">WT + PBS</text>
<text font-size="17.7" stroke="#000" stroke-width="0.3" transform="translate(823.2 1808.7) rotate(90)">Tbxas1</text>
<text font-size="17.7" font-weight="bold" stroke="#000" stroke-width="0.3" transform="translate(845.1 1808.7) rotate(90)">Tnfaip3</text>
<text font-size="17.7" stroke="#000" stroke-width="0.3" transform="translate(867 1808.7) rotate(90)">Dgkg</text>
<text font-size="17.7" stroke="#000" stroke-width="0.3" transform="translate(888.9 1808.7) rotate(90)">Slc38a1</text>
<text font-size="17.7" font-weight="bold" stroke="#000" stroke-width="0.3" transform="translate(910.8 1808.7) rotate(90)">Nfkbia</text>
<text font-size="17.7" font-weight="bold" stroke="#000" stroke-width="0.3" transform="translate(932.7 1808.7) rotate(90)">Serpinb2</text>
<text font-size="17.7" stroke="#000" stroke-width="0.3" transform="translate(954.6 1808.7) rotate(90)">Arhgef18</text>
<text font-size="17.7" font-weight="bold" stroke="#000" stroke-width="0.3" transform="translate(976.5 1808.7) rotate(90)">Gpr132</text>
<text font-size="17.7" stroke="#000" stroke-width="0.3" transform="translate(998.4 1808.7) rotate(90)">Xpc</text>
<text font-size="17.7" stroke="#000" stroke-width="0.3" transform="translate(1025.3 1808.7) rotate(90)">Pdlim1</text>
<text font-size="17.7" stroke="#000" stroke-width="0.3" transform="translate(1047.2 1808.7) rotate(90)">Asap1</text>
<text font-size="17.7" stroke="#000" stroke-width="0.3" transform="translate(1069 1808.7) rotate(90)">Elf1</text>
<text font-size="17.7" stroke="#000" stroke-width="0.3" transform="translate(1090.8 1808.7) rotate(90)">Pld1</text>
<text font-size="17.7" stroke="#000" stroke-width="0.3" transform="translate(1112.7 1808.7) rotate(90)">Vcl</text>
<text font-size="17.7" stroke="#000" stroke-width="0.3" transform="translate(1134.5 1808.7) rotate(90)">Dhx15</text>
<text font-size="17.7" stroke="#000" stroke-width="0.3" transform="translate(1156.3 1808.7) rotate(90)">Crtc3*</text>
<text font-size="17.7" stroke="#000" stroke-width="0.3" transform="translate(1178.2 1808.7) rotate(90)">Atf1</text>
<text font-size="17.7" stroke="#000" stroke-width="0.3" transform="translate(1200 1808.7) rotate(90)">Tle4</text>
<text font-size="17.7" stroke="#000" stroke-width="0.3" transform="translate(1221.9 1808.7) rotate(90)">Pik3cb</text>
<text font-size="17.7" stroke="#000" stroke-width="0.3" transform="translate(1243.7 1808.7) rotate(90)">Exoc6</text>
<text font-size="17.7" font-weight="bold" stroke="#000" stroke-width="0.3" transform="translate(1265.5 1808.7) rotate(90)">Itgal</text>
<text font-size="17.7" stroke="#000" stroke-width="0.3" transform="translate(1287.4 1808.7) rotate(90)">1600014C10Rik</text>
<text font-size="17.7" font-weight="bold" stroke="#000" stroke-width="0.3" transform="translate(1309.2 1808.7) rotate(90)">Mmp25</text>
<text font-size="17.7" stroke="#000" stroke-width="0.3" transform="translate(1331 1808.7) rotate(90)">Nsd3</text>
<text font-size="17.7" stroke="#000" stroke-width="0.3" transform="translate(1352.9 1808.7) rotate(90)">Lsamp</text>
<text font-size="17.7" stroke="#000" stroke-width="0.3" transform="translate(1374.7 1808.7) rotate(90)">Tbc1d1</text>
<text font-size="17.7" stroke="#000" stroke-width="0.3" transform="translate(1396.5 1808.7) rotate(90)">Heatr5a</text>
<text font-size="17.7" stroke="#000" stroke-width="0.3" transform="translate(1418.4 1808.7) rotate(90)">Brd4</text>
<text font-size="17.7" stroke="#000" stroke-width="0.3" transform="translate(1440.2 1808.7) rotate(90)">Vopp1</text>
<text font-size="17.7" stroke="#000" stroke-width="0.3" transform="translate(1462.1 1808.7) rotate(90)">Cers6</text>
<text font-size="17.7" stroke="#000" stroke-width="0.3" transform="translate(1483.9 1808.7) rotate(90)">Pan3</text>
<text font-size="17.7" font-weight="bold" stroke="#000" stroke-width="0.3" transform="translate(1505.7 1808.7) rotate(90)">Sema7a</text>
<text font-size="17.7" stroke="#000" stroke-width="0.3" transform="translate(1527.6 1808.7) rotate(90)">Btbd7</text>
<text font-size="17.7" stroke="#000" stroke-width="0.3" transform="translate(1549.4 1808.7) rotate(90)">Ptpn18</text>
<text font-size="17.7" font-weight="bold" stroke="#000" stroke-width="0.3" transform="translate(1571.2 1808.7) rotate(90)">Vamp4</text>
<text font-size="17.7" stroke="#000" stroke-width="0.3" transform="translate(1593.1 1808.7) rotate(90)">Abi1</text>
<text font-size="17.7" stroke="#000" stroke-width="0.3" transform="translate(1614.9 1808.7) rotate(90)">Sppl3</text>
<text font-size="17.7" font-weight="bold" stroke="#000" stroke-width="0.3" transform="translate(1636.8 1808.7) rotate(90)">C3ar1</text>
<text font-size="17.7" stroke="#000" stroke-width="0.3" transform="translate(1658.6 1808.7) rotate(90)">Gas7</text>
<text font-size="17.7" stroke="#000" stroke-width="0.3" transform="translate(1680.4 1808.7) rotate(90)">Rasa2</text>
<text font-size="17.7" font-weight="bold" stroke="#000" stroke-width="0.3" transform="translate(1702.3 1808.7) rotate(90)">Ahr</text>
<text font-size="17.7" stroke="#000" stroke-width="0.3" transform="translate(1724.1 1808.7) rotate(90)">Ssh2</text>
<text font-size="17.7" stroke="#000" stroke-width="0.3" transform="translate(1745.9 1808.7) rotate(90)">Atp2c1</text>
<text font-size="17.7" stroke="#000" stroke-width="0.3" transform="translate(1767.8 1808.7) rotate(90)">Dusp16</text>
<text x="1681" y="1569.6" font-size="18" stroke="#000" stroke-width="0.3">Normalized expression</text>
<rect x="1702.3" y="1580.2" width="143.1" height="16.9" fill="url(#bwr)" stroke="#c8c8d2" stroke-width="0.8"/>
<text x="1690.5" y="1594.3" font-size="13" text-anchor="middle" stroke="#000" stroke-width="0.3">0</text>
<text x="1857.5" y="1594.3" font-size="13" text-anchor="middle" stroke="#000" stroke-width="0.3">1</text>
<path d="M914.7 1622.8V1582H1395.6V1598.5M849.1 1631.4V1622.8H947.8V1627.1M827.1 1635.6V1631.4H860.5V1633.4M849.1 1635.6V1633.4H871.1V1635.6M892.8 1635.6V1627.1H958.4V1630.5M925.6 1635.4V1630.5H980.7V1635.4M914.7 1635.4H937M959 1635.4H1002.9M1127.6 1610.5V1598.5H1509.7V1605.1M1040.6 1633.4V1610.5H1149.6V1622.8M1029.7 1635.6V1633.4H1051.7V1635.6M1105.9 1628.5V1622.8H1193.3V1630.5M1084 1632.2V1628.5H1127.6V1634.2M1073.4 1635.6V1632.2H1095.4V1635.6M1117.1 1635.6V1634.2H1139.1V1635.6M1171.6 1634.2V1630.5H1215.3V1635.4M1160.7 1635.6V1634.2H1182.7V1635.6M1204.4 1635.4H1226.4M1335.1 1617.9V1605.1H1608.2V1620.8M1280.3 1630.5V1617.9H1379V1631.4M1248.1 1635.6V1630.5H1291.7V1635.1M1270 1635.1H1313.4M1335.1 1635.6V1631.4H1389.9V1635.1M1357.1 1635.1H1422.7M1379 1634.5H1400.7M1499.2 1629.4V1620.8H1673.8V1627.1M1444.7 1635.6V1629.4H1509.7V1633.4M1488.3 1635.4V1633.4H1542.6V1635.4M1466.4 1635.4H1509.7M1531.7 1635.4H1554M1608.2 1632.2V1627.1H1717.2V1630.5M1586.8 1635.4V1632.2H1630.2V1635.4M1575.4 1635.4H1597.6M1619.1 1635.4H1641M1695.3 1632.2V1630.5H1760.9V1635.4M1673.8 1635.4V1632.2H1717.2V1635.4M1662.7 1635.4H1684.7M1706.7 1635.4H1728.1M1750 1635.4H1772.3" stroke="#222" stroke-width="1.1" fill="none" stroke-linejoin="miter"/>
</g>
<g id="ph">
<text x="-1" y="1974.8" font-size="66" font-family="'Liberation Serif',serif" stroke="#000" stroke-width="0.3">H.</text>
<rect x="79.5" y="2001.5" width="280.6" height="280.8" fill="#fff" stroke="#555" stroke-width="0.9"/>
<path d="M79.5 2143.1C89.8 2143.1 130.3 2143.2 141.6 2143.1C152.9 2142.9 145.4 2143 147.3 2142.1C149.1 2141.3 150.8 2142 152.5 2138C154.2 2134.1 155.9 2130.6 157.5 2118.6C159.1 2106.6 160.9 2077.9 162.1 2066.1C163.3 2054.3 163.9 2052.5 164.8 2047.9C165.8 2043.2 166.7 2039.2 167.8 2038.3C168.9 2037.3 170.1 2040.5 171.2 2042.1C172.4 2043.7 173.5 2043.9 174.7 2047.9C175.8 2051.8 176.9 2059.3 178.1 2066.1C179.2 2073 180.4 2084 181.5 2088.9C182.6 2093.9 183.4 2094.5 184.5 2095.8C185.5 2097.1 186.5 2095.8 187.7 2096.9C188.8 2098.1 190.1 2100.7 191.3 2102.6C192.6 2104.6 193.8 2108.2 195.2 2108.4C196.6 2108.5 198.2 2105.1 199.8 2103.8C201.3 2102.5 202.8 2102.3 204.3 2100.4C205.9 2098.5 207.4 2093.3 208.9 2092.4C210.4 2091.4 211.6 2095 213.5 2094.7C215.4 2094.3 218.2 2090.7 220.3 2090.1C222.4 2089.4 224.2 2090.3 226 2090.8C227.8 2091.2 229.5 2093.3 231.1 2092.8C232.6 2092.3 233.9 2088.9 235.2 2087.8C236.4 2086.7 237.3 2086.1 238.6 2086.2C239.9 2086.3 241.8 2087.3 243.2 2088.5C244.5 2089.7 245.2 2091.3 246.6 2093.5C247.9 2095.7 249.6 2099.6 251.1 2101.5C252.7 2103.4 254.2 2103.8 255.7 2104.9C257.2 2106.1 258.9 2106.5 260.3 2108.4C261.6 2110.3 262.5 2113.7 263.7 2116.3C264.9 2119 266.1 2121.3 267.6 2124.3C269.1 2127.4 271 2132.1 272.8 2134.6C274.7 2137.2 276.4 2138.4 278.5 2139.6C280.6 2140.9 282.7 2141.3 285.4 2141.9C288.1 2142.5 282.5 2142.9 294.5 2143.1C306.5 2143.2 347 2143.1 357.5 2143.1L357.5 2143.1L79.5 2143.1z" fill="#f0a595"/>
<path d="M79.5 2143.1C89.8 2143.1 130.3 2143.2 141.6 2143.1C152.9 2142.9 145.4 2143 147.3 2142.1C149.1 2141.3 150.8 2142 152.5 2138C154.2 2134.1 155.9 2130.6 157.5 2118.6C159.1 2106.6 160.9 2077.9 162.1 2066.1C163.3 2054.3 163.9 2052.5 164.8 2047.9C165.8 2043.2 166.7 2039.2 167.8 2038.3C168.9 2037.3 170.1 2040.5 171.2 2042.1C172.4 2043.7 173.5 2043.9 174.7 2047.9C175.8 2051.8 176.9 2059.3 178.1 2066.1C179.2 2073 180.4 2084 181.5 2088.9C182.6 2093.9 183.4 2094.5 184.5 2095.8C185.5 2097.1 186.5 2095.8 187.7 2096.9C188.8 2098.1 190.1 2100.7 191.3 2102.6C192.6 2104.6 193.8 2108.2 195.2 2108.4C196.6 2108.5 198.2 2105.1 199.8 2103.8C201.3 2102.5 202.8 2102.3 204.3 2100.4C205.9 2098.5 207.4 2093.3 208.9 2092.4C210.4 2091.4 211.6 2095 213.5 2094.7C215.4 2094.3 218.2 2090.7 220.3 2090.1C222.4 2089.4 224.2 2090.3 226 2090.8C227.8 2091.2 229.5 2093.3 231.1 2092.8C232.6 2092.3 233.9 2088.9 235.2 2087.8C236.4 2086.7 237.3 2086.1 238.6 2086.2C239.9 2086.3 241.8 2087.3 243.2 2088.5C244.5 2089.7 245.2 2091.3 246.6 2093.5C247.9 2095.7 249.6 2099.6 251.1 2101.5C252.7 2103.4 254.2 2103.8 255.7 2104.9C257.2 2106.1 258.9 2106.5 260.3 2108.4C261.6 2110.3 262.5 2113.7 263.7 2116.3C264.9 2119 266.1 2121.3 267.6 2124.3C269.1 2127.4 271 2132.1 272.8 2134.6C274.7 2137.2 276.4 2138.4 278.5 2139.6C280.6 2140.9 282.7 2141.3 285.4 2141.9C288.1 2142.5 282.5 2142.9 294.5 2143.1C306.5 2143.2 347 2143.1 357.5 2143.1" stroke="#e8393a" stroke-width="1.3" fill="none" stroke-dasharray="1.4 1.4"/>
<path d="M79.5 2212.7C88.7 2212.7 124.4 2212.8 134.7 2212.7C145.1 2212.6 139.5 2212.5 141.6 2212C143.6 2211.5 145.1 2211 146.8 2209.5C148.5 2208 150 2207.2 151.8 2203.1C153.6 2199 155.8 2191.3 157.5 2184.8C159.2 2178.4 160.6 2171 162.1 2164.3C163.6 2157.6 165.4 2150 166.7 2144.9C167.9 2139.7 168.6 2135.8 169.4 2133.5C170.2 2131.2 170.6 2131 171.2 2131.2C171.8 2131.4 172.4 2131.8 173.1 2134.6C173.7 2137.5 174.5 2142.6 175.3 2148.3C176.2 2154 177.1 2162.4 178.1 2168.9C179.1 2175.3 180.4 2182.9 181.5 2187.1C182.6 2191.3 183.6 2192 184.9 2194C186.3 2196 187.6 2197.6 189.5 2199C191.4 2200.4 194.4 2202.4 196.3 2202.4C198.2 2202.4 199.4 2199.9 200.9 2199C202.4 2198.1 204 2197.1 205.5 2196.9C207 2196.8 208.5 2197.7 210 2198.1C211.6 2198.5 212.9 2199.4 214.6 2199.5C216.3 2199.5 218.4 2198.4 220.3 2198.5C222.2 2198.7 224.3 2200.2 226 2200.4C227.7 2200.5 229.1 2199.3 230.6 2199.5C232.1 2199.6 233.6 2200.7 235.2 2201.3C236.7 2201.9 237.8 2202.7 239.7 2203.1C241.6 2203.5 244.3 2203.2 246.6 2203.6C248.9 2203.9 251.1 2204.6 253.4 2205.4C255.7 2206.2 258 2207.5 260.3 2208.4C262.6 2209.2 264.8 2209.9 267.1 2210.4C269.4 2210.9 271.7 2211.2 274 2211.6C276.3 2211.9 278.5 2212 280.8 2212.2C283.1 2212.4 274.5 2212.6 287.7 2212.7C300.9 2212.8 348 2212.7 360 2212.7z" fill="#7f7f7f"/>
<path d="M79.5 2212.7C88.7 2212.7 124.4 2212.8 134.7 2212.7C145.1 2212.6 139.5 2212.5 141.6 2212C143.6 2211.5 145.1 2211 146.8 2209.5C148.5 2208 150 2207.2 151.8 2203.1C153.6 2199 155.8 2191.3 157.5 2184.8C159.2 2178.4 160.6 2171 162.1 2164.3C163.6 2157.6 165.4 2150 166.7 2144.9C167.9 2139.7 168.6 2135.8 169.4 2133.5C170.2 2131.2 170.6 2131 171.2 2131.2C171.8 2131.4 172.4 2131.8 173.1 2134.6C173.7 2137.5 174.5 2142.6 175.3 2148.3C176.2 2154 177.1 2162.4 178.1 2168.9C179.1 2175.3 180.4 2182.9 181.5 2187.1C182.6 2191.3 183.6 2192 184.9 2194C186.3 2196 187.6 2197.6 189.5 2199C191.4 2200.4 194.4 2202.4 196.3 2202.4C198.2 2202.4 199.4 2199.9 200.9 2199C202.4 2198.1 204 2197.1 205.5 2196.9C207 2196.8 208.5 2197.7 210 2198.1C211.6 2198.5 212.9 2199.4 214.6 2199.5C216.3 2199.5 218.4 2198.4 220.3 2198.5C222.2 2198.7 224.3 2200.2 226 2200.4C227.7 2200.5 229.1 2199.3 230.6 2199.5C232.1 2199.6 233.6 2200.7 235.2 2201.3C236.7 2201.9 237.8 2202.7 239.7 2203.1C241.6 2203.5 244.3 2203.2 246.6 2203.6C248.9 2203.9 251.1 2204.6 253.4 2205.4C255.7 2206.2 258 2207.5 260.3 2208.4C262.6 2209.2 264.8 2209.9 267.1 2210.4C269.4 2210.9 271.7 2211.2 274 2211.6C276.3 2211.9 278.5 2212 280.8 2212.2C283.1 2212.4 274.5 2212.6 287.7 2212.7C300.9 2212.8 348 2212.7 360 2212.7" stroke="#000" stroke-width="1.7" fill="none"/>
<path d="M79.5 2282.3C90.2 2282.3 132.4 2282.6 143.8 2282.3C155.3 2282.1 146.7 2282.1 147.9 2281C149.2 2279.9 150.1 2278.8 151.1 2275.7C152.2 2272.6 153.1 2269.2 154.1 2262.5C155.1 2255.7 156.1 2244.6 157.1 2235.1C158 2225.6 159.1 2213 159.8 2205.4C160.6 2197.8 161.1 2192.8 161.6 2189.4C162.2 2186.1 162.5 2185.1 163 2185.3C163.5 2185.5 164.2 2186.8 164.8 2190.5C165.5 2194.3 166.2 2200.3 167.1 2207.7C168 2215.1 169.1 2227.1 170.1 2235.1C171.1 2243.1 172 2249.9 173.1 2255.6C174.1 2261.3 175 2265.8 176.3 2269.3C177.5 2272.8 178.9 2274.8 180.4 2276.6C181.8 2278.4 183.2 2279.4 184.9 2280.3C186.6 2281.2 187.2 2281.8 190.6 2282.1C194.1 2282.4 177.2 2282.3 205.5 2282.3C233.7 2282.4 334.3 2282.3 360 2282.3z" fill="#9fb0d8" fill-opacity="0.95"/>
<path d="M79.5 2282.3C90.2 2282.3 132.4 2282.6 143.8 2282.3C155.3 2282.1 146.7 2282.1 147.9 2281C149.2 2279.9 150.1 2278.8 151.1 2275.7C152.2 2272.6 153.1 2269.2 154.1 2262.5C155.1 2255.7 156.1 2244.6 157.1 2235.1C158 2225.6 159.1 2213 159.8 2205.4C160.6 2197.8 161.1 2192.8 161.6 2189.4C162.2 2186.1 162.5 2185.1 163 2185.3C163.5 2185.5 164.2 2186.8 164.8 2190.5C165.5 2194.3 166.2 2200.3 167.1 2207.7C168 2215.1 169.1 2227.1 170.1 2235.1C171.1 2243.1 172 2249.9 173.1 2255.6C174.1 2261.3 175 2265.8 176.3 2269.3C177.5 2272.8 178.9 2274.8 180.4 2276.6C181.8 2278.4 183.2 2279.4 184.9 2280.3C186.6 2281.2 187.2 2281.8 190.6 2282.1C194.1 2282.4 177.2 2282.3 205.5 2282.3C233.7 2282.4 334.3 2282.3 360 2282.3" stroke="#2f6db5" stroke-width="1.2" fill="none"/>
<path d="M79 2282.6L360 2282.6" stroke="#2f6db5" stroke-width="1.8" fill="none"/>
<path d="M92 2282.9v6.4M157.5 2282.9v6.4M205.5 2282.9v6.4M263 2282.9v6.4M310 2282.9v6.4M358.4 2282.9v6.4" stroke="#000" stroke-width="2" fill="none"/>
<path d="M222.8 2282.9v3.4M232.9 2282.9v3.4M240.1 2282.9v3.4M245.7 2282.9v3.4M250.2 2282.9v3.4M254.1 2282.9v3.4M257.4 2282.9v3.4M260.4 2282.9v3.4M277.2 2282.9v3.4M285.5 2282.9v3.4M291.3 2282.9v3.4M295.9 2282.9v3.4M299.6 2282.9v3.4M302.8 2282.9v3.4M305.5 2282.9v3.4M307.9 2282.9v3.4M324.6 2282.9v3.4M333.1 2282.9v3.4M339.2 2282.9v3.4M343.9 2282.9v3.4M347.7 2282.9v3.4M350.9 2282.9v3.4M353.8 2282.9v3.4M356.2 2282.9v3.4M141.1 2282.9v3.4M143.4 2282.9v3.4M145.7 2282.9v3.4M147.9 2282.9v3.4M149.8 2282.9v3.4M151.6 2282.9v3.4M153.4 2282.9v3.4M155.3 2282.9v3.4M184.9 2282.9v3.4M194.1 2282.9v3.4M198.6 2282.9v3.4M202.1 2282.9v3.4M137 2282.9v3.4M127.9 2282.9v3.4M118.7 2282.9v3.4M107.3 2282.9v3.4" stroke="#000" stroke-width="1.2" fill="none"/>
<text x="89" y="2304.7" font-size="14" stroke="#000" stroke-width="0.25">-10<tspan dy="-6.6" font-size="12">4</tspan></text>
<text x="155.3" y="2304.7" font-size="14" text-anchor="middle" stroke="#000" stroke-width="0.3">0</text>
<text x="204.3" y="2304.7" font-size="14" stroke="#000" stroke-width="0.25">10<tspan dy="-6.6" font-size="12">4</tspan></text>
<text x="262.6" y="2304.7" font-size="14" stroke="#000" stroke-width="0.25">10<tspan dy="-6.6" font-size="12">5</tspan></text>
<text x="310.5" y="2304.7" font-size="14" stroke="#000" stroke-width="0.25">10<tspan dy="-6.6" font-size="12">6</tspan></text>
<text x="340.2" y="2304.7" font-size="14" stroke="#000" stroke-width="0.25">10<tspan dy="-6.6" font-size="12">7</tspan></text>
<text x="102.4" y="2332.1" font-size="24.5" stroke="#000" stroke-width="0.3">C3aR1</text>
<text transform="translate(176.2 2328.5) scale(2.05 1.25)" font-size="24">→</text>
<text x="581.2" y="1969.8" font-size="25" text-anchor="middle" font-weight="bold" stroke="#000" stroke-width="0.3">% C3aR1+</text>
<rect x="550.9" y="2122.1" width="37.4" height="138.1" fill="#8e8f91" stroke="#000" stroke-width="3"/>
<rect x="612.3" y="2098.1" width="37.6" height="162.1" fill="#e57272" stroke="#e8343a" stroke-width="3"/>
<path d="M558.5 2094h21.6M558.5 2145.6h21.6" stroke="#000" stroke-width="2.2" fill="none"/><path d="M569.3 2094V2145.6" stroke="#000" stroke-width="1.4" fill="none"/>
<path d="M620.2 2066.1h21.6M620.2 2128.9h21.6" stroke="#e8343a" stroke-width="2.2" fill="none"/><path d="M631 2066.1V2128.9" stroke="#e8343a" stroke-width="1.4" fill="none"/>
<path d="M467 2000.3V2276.2H672.5" stroke="#000" stroke-width="2.4" fill="none"/>
<path d="M467 2260.2L672.5 2260.2" stroke="#000" stroke-width="2.6" fill="none"/>
<path d="M459 2001.5L467 2001.5" stroke="#000" stroke-width="2.4" fill="none"/>
<text x="457.9" y="2008.7" font-size="20.5" text-anchor="end" stroke="#000" stroke-width="0.3">80</text>
<path d="M459 2066.6L467 2066.6" stroke="#000" stroke-width="2.4" fill="none"/>
<text x="457.9" y="2073.8" font-size="20.5" text-anchor="end" stroke="#000" stroke-width="0.3">60</text>
<path d="M459 2131.2L467 2131.2" stroke="#000" stroke-width="2.4" fill="none"/>
<text x="457.9" y="2138.4" font-size="20.5" text-anchor="end" stroke="#000" stroke-width="0.3">40</text>
<path d="M459 2195.8L467 2195.8" stroke="#000" stroke-width="2.4" fill="none"/>
<text x="457.9" y="2203" font-size="20.5" text-anchor="end" stroke="#000" stroke-width="0.3">20</text>
<path d="M459 2260.2L467 2260.2" stroke="#000" stroke-width="2.4" fill="none"/>
<text x="457.9" y="2267.4" font-size="20.5" text-anchor="end" stroke="#000" stroke-width="0.3">0</text>
<path d="M507 2276.2L507 2283.5" stroke="#000" stroke-width="2.4" fill="none"/>
<path d="M569.1 2276.2L569.1 2283.5" stroke="#000" stroke-width="2.4" fill="none"/>
<path d="M631.4 2276.2L631.4 2283.5" stroke="#000" stroke-width="2.4" fill="none"/>
<text font-size="25" text-anchor="middle" stroke="#000" stroke-width="0.3" transform="translate(410.6 2151.1) rotate(-90)">% of Eosinophils</text>
<circle cx="492.1" cy="2258.4" r="4.2" fill="#444" stroke="#000" stroke-width="1.6"/>
<circle cx="507.7" cy="2253.3" r="4.2" fill="#444" stroke="#000" stroke-width="1.6"/>
<circle cx="523.4" cy="2255.2" r="4.2" fill="#444" stroke="#000" stroke-width="1.6"/>
<path d="M497.9 2253.3L516.1 2253.3" stroke="#000" stroke-width="1.6" fill="none"/>
<path d="M493.3 2257.9L525.3 2257.9" stroke="#000" stroke-width="1.6" fill="none"/>
<circle cx="569.3" cy="2077.1" r="4.5" fill="#fff" stroke="#000" stroke-width="2.2"/>
<circle cx="553.3" cy="2103.8" r="4.5" fill="#fff" stroke="#000" stroke-width="2.2"/>
<circle cx="561.3" cy="2102.6" r="4.5" fill="#fff" stroke="#000" stroke-width="2.2"/>
<circle cx="569.3" cy="2102.2" r="4.5" fill="#fff" stroke="#000" stroke-width="2.2"/>
<circle cx="577.3" cy="2101.5" r="4.5" fill="#fff" stroke="#000" stroke-width="2.2"/>
<circle cx="585.8" cy="2099.7" r="4.5" fill="#fff" stroke="#000" stroke-width="2.2"/>
<circle cx="569.3" cy="2116.3" r="4.5" fill="#fff" stroke="#000" stroke-width="2.2"/>
<circle cx="553.3" cy="2118.6" r="4.5" fill="#fff" stroke="#000" stroke-width="2.2"/>
<circle cx="585.8" cy="2116.3" r="4.5" fill="#fff" stroke="#000" stroke-width="2.2"/>
<circle cx="561.3" cy="2125.5" r="4.5" fill="#fff" stroke="#000" stroke-width="2.2"/>
<circle cx="569.3" cy="2126.6" r="4.5" fill="#fff" stroke="#000" stroke-width="2.2"/>
<circle cx="577.3" cy="2125.5" r="4.5" fill="#fff" stroke="#000" stroke-width="2.2"/>
<circle cx="569.3" cy="2135.1" r="4.5" fill="#fff" stroke="#000" stroke-width="2.2"/>
<circle cx="572.7" cy="2169.3" r="4.5" fill="#fff" stroke="#000" stroke-width="2.2"/>
<circle cx="565.2" cy="2174.6" r="4.5" fill="#fff" stroke="#000" stroke-width="2.2"/>
<rect x="626.6" y="2047.3" width="8.8" height="8.8" fill="#fff" stroke="#e8343a" stroke-width="2"/>
<rect x="621.3" y="2056" width="8.8" height="8.8" fill="#fff" stroke="#e8343a" stroke-width="2"/>
<rect x="632" y="2064" width="8.8" height="8.8" fill="#fff" stroke="#e8343a" stroke-width="2"/>
<rect x="642.8" y="2063.3" width="8.8" height="8.8" fill="#fff" stroke="#e8343a" stroke-width="2"/>
<rect x="621.3" y="2067.4" width="8.8" height="8.8" fill="#fff" stroke="#e8343a" stroke-width="2"/>
<rect x="632" y="2075.4" width="8.8" height="8.8" fill="#fff" stroke="#e8343a" stroke-width="2"/>
<rect x="621.3" y="2080" width="8.8" height="8.8" fill="#fff" stroke="#e8343a" stroke-width="2"/>
<rect x="621.3" y="2097.1" width="8.8" height="8.8" fill="#fff" stroke="#e8343a" stroke-width="2"/>
<rect x="611" y="2105.8" width="8.8" height="8.8" fill="#fff" stroke="#e8343a" stroke-width="2"/>
<rect x="632" y="2110.3" width="8.8" height="8.8" fill="#fff" stroke="#e8343a" stroke-width="2"/>
<rect x="642.8" y="2111.9" width="8.8" height="8.8" fill="#fff" stroke="#e8343a" stroke-width="2"/>
<rect x="611" y="2116.5" width="8.8" height="8.8" fill="#fff" stroke="#e8343a" stroke-width="2"/>
<rect x="621.3" y="2116.5" width="8.8" height="8.8" fill="#fff" stroke="#e8343a" stroke-width="2"/>
<rect x="632" y="2122.9" width="8.8" height="8.8" fill="#fff" stroke="#e8343a" stroke-width="2"/>
<rect x="642.8" y="2121.5" width="8.8" height="8.8" fill="#fff" stroke="#e8343a" stroke-width="2"/>
<rect x="611" y="2127.2" width="8.8" height="8.8" fill="#fff" stroke="#e8343a" stroke-width="2"/>
<path d="M569.1 2035.8L569.1 2012L631.4 2012L631.4 2035.8" stroke="#000" stroke-width="2.2" fill="none" stroke-linejoin="miter"/>
<text x="600.1" y="2002.6" font-size="14.6" text-anchor="middle" stroke="#000" stroke-width="0.3">0.0237</text>
<text transform="translate(512.7 2300.1) rotate(-45)" font-size="20.5" text-anchor="end" stroke="#000" stroke-width="0.3">iso.</text>
<text transform="translate(572.1 2300.1) rotate(-45)" font-size="20.5" text-anchor="end" stroke="#000" stroke-width="0.3">WT</text>
<text transform="translate(634.8 2300.1) rotate(-45)" font-size="20.5" text-anchor="end" stroke="#000" stroke-width="0.3">ATF3-KOeoCre</text>
</g>
</svg>
</body></html>
